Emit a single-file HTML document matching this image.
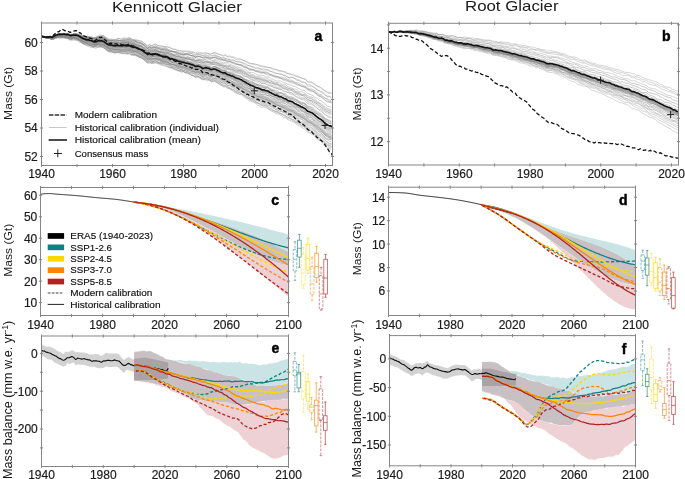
<!DOCTYPE html>
<html><head><meta charset="utf-8"><style>
html,body{margin:0;padding:0;background:#fff;}
svg{display:block;font-family:"Liberation Sans",sans-serif;will-change:transform;}
</style></head><body>
<svg width="685" height="479" viewBox="0 0 685 479">
<rect width="685" height="479" fill="#fff"/>
<g>
<polyline points="41.5,36.52 43.5,36.81 45.5,37.13 47.5,37 49.5,36.54 51.5,36.72 53.5,36.23 55.5,34.84 57.5,34.14 59.5,33.62 61.5,33.45 63.5,33.81 65.5,34.29 67.5,33.77 69.5,34.54 71.5,34.05 73.5,34.27 75.5,33.74 77.5,34.16 79.5,34.87 81.5,35.59 83.5,36.49 85.5,36.66 87.5,36.73 89.5,37.07 91.5,37.25 93.5,38.09 95.5,37.48 97.5,36.39 99.5,36.14 101.5,36.08 103.5,35.55 105.5,37.14 107.5,38.59 109.5,39.99 111.5,39.04 113.5,39.6 115.5,39.67 117.5,38.82 119.5,38.51 121.5,39.42 123.5,38.26 125.5,38.9 127.5,38.54 129.5,37.62 131.5,39.19 133.5,39.85 135.5,40.63 137.5,40.57 139.5,41.11 141.5,41.1 143.5,42.93 145.5,44.22 147.5,45.44 149.5,45.09 151.5,45.68 153.5,45.05 155.5,44.43 157.5,45.43 159.5,45.21 161.5,45.7 163.5,46.37 165.5,46.78 167.5,47.11 169.5,47.53 171.5,48.81 173.5,48.95 175.5,49.21 177.5,50.16 179.5,50.42 181.5,51.18 183.5,50.88 185.5,50.72 187.5,51.04 189.5,51.21 191.5,51.59 193.5,52.06 195.5,53.06 197.5,52 199.5,52.35 201.5,52.99 203.5,52.77 205.5,52.39 207.5,53.11 209.5,53.98 211.5,53.46 213.5,52.73 215.5,52.29 217.5,53.67 219.5,54.25 221.5,54.67 223.5,55.7 225.5,54.32 227.5,56.52 229.5,55.81 231.5,56.83 233.5,56.92 235.5,57.78 237.5,58.35 239.5,58.95 241.5,59.42 243.5,60.27 245.5,61.1 247.5,61.84 249.5,62.98 251.5,63.44 253.5,63.56 255.5,64.01 257.5,64.85 259.5,65.18 261.5,65.95 263.5,66.17 265.5,66.45 267.5,67.35 269.5,67.74 271.5,67.84 273.5,68.4 275.5,69.28 277.5,69.66 279.5,70.53 281.5,70.72 283.5,71.54 285.5,71.93 287.5,73.31 289.5,73.29 291.5,74.48 293.5,74.15 295.5,76.1 297.5,75.85 299.5,77.36 301.5,78 303.5,78.49 305.5,79.39 307.5,81.51 309.5,81.75 311.5,82.08 313.5,83.06 315.5,85.13 317.5,86.03 319.5,87.27 321.5,87.93 323.5,89.71 325.5,91.08 327.5,92.1 329.5,92.35 331.5,92.43" fill="none" stroke="#7c7c7c" stroke-width="0.7" stroke-opacity="0.5" stroke-linejoin="round"/>
<polyline points="41.5,36.52 43.5,36.73 45.5,36.89 47.5,36.64 49.5,36.33 51.5,36.8 53.5,36 55.5,34.79 57.5,33.62 59.5,33.87 61.5,34.12 63.5,33.33 65.5,33.73 67.5,34.31 69.5,34.17 71.5,34.59 73.5,34.09 75.5,33.74 77.5,34.49 79.5,33.96 81.5,35.82 83.5,35.88 85.5,36.7 87.5,36.05 89.5,36.88 91.5,36.82 93.5,37.97 95.5,37.29 97.5,36.71 99.5,34.93 101.5,35.29 103.5,35.67 105.5,37.23 107.5,38.33 109.5,39.32 111.5,39.08 113.5,39.31 115.5,39.52 117.5,38.3 119.5,39.01 121.5,38.93 123.5,38 125.5,38.15 127.5,38.29 129.5,37.86 131.5,38.79 133.5,39.68 135.5,39.37 137.5,40.03 139.5,40.64 141.5,41.4 143.5,42.78 145.5,44.25 147.5,46.27 149.5,44.59 151.5,45.52 153.5,44.97 155.5,43.81 157.5,44.99 159.5,46.14 161.5,46.63 163.5,46.32 165.5,47.04 167.5,46.76 169.5,47.45 171.5,48.43 173.5,49.33 175.5,49.5 177.5,50.79 179.5,50.83 181.5,50.77 183.5,51.54 185.5,51.51 187.5,51.81 189.5,51.99 191.5,52.82 193.5,52.16 195.5,53.82 197.5,53.32 199.5,53.31 201.5,53.34 203.5,54.08 205.5,53.58 207.5,53.48 209.5,54.29 211.5,54.09 213.5,53.16 215.5,53.13 217.5,54.11 219.5,54.55 221.5,55.51 223.5,56.14 225.5,55.52 227.5,56.85 229.5,56.71 231.5,57.55 233.5,57.55 235.5,59.3 237.5,59.85 239.5,59.68 241.5,59.53 243.5,60.53 245.5,61.37 247.5,62.89 249.5,63.72 251.5,63.98 253.5,64.2 255.5,64.9 257.5,64.75 259.5,66.13 261.5,66.56 263.5,66.96 265.5,67.26 267.5,67.28 269.5,67.57 271.5,68.76 273.5,69.89 275.5,69.66 277.5,70.37 279.5,71.57 281.5,71.15 283.5,71.81 285.5,72.6 287.5,73.68 289.5,74.28 291.5,74.45 293.5,75.75 295.5,75.8 297.5,77 299.5,76.87 301.5,77.89 303.5,78.91 305.5,79.37 307.5,81.92 309.5,82.74 311.5,82.52 313.5,83.72 315.5,85.1 317.5,86.4 319.5,86.79 321.5,88.78 323.5,89.79 325.5,91.46 327.5,92.86 329.5,93.45 331.5,93.39" fill="none" stroke="#7c7c7c" stroke-width="0.7" stroke-opacity="0.5" stroke-linejoin="round"/>
<polyline points="41.5,36.5 43.5,36.73 45.5,37.04 47.5,36.9 49.5,36.55 51.5,36.99 53.5,36.36 55.5,34.52 57.5,34.59 59.5,33.76 61.5,33.48 63.5,33.34 65.5,33.42 67.5,33.07 69.5,33.77 71.5,35.12 73.5,34.16 75.5,33.83 77.5,33.84 79.5,34.82 81.5,35.81 83.5,36.29 85.5,36.92 87.5,37.2 89.5,36.89 91.5,37.26 93.5,37.82 95.5,37.92 97.5,37.62 99.5,36.6 101.5,35.96 103.5,37.06 105.5,38.18 107.5,39.32 109.5,40.21 111.5,40.43 113.5,40.51 115.5,40.86 117.5,39.8 119.5,40.41 121.5,40.07 123.5,39.79 125.5,40.05 127.5,39.85 129.5,38.24 131.5,40.02 133.5,40.28 135.5,40.42 137.5,41.28 139.5,42.61 141.5,43.16 143.5,45.03 145.5,44.98 147.5,47.15 149.5,46.51 151.5,47.03 153.5,46.75 155.5,46.01 157.5,46.95 159.5,47.24 161.5,47.95 163.5,47.69 165.5,47.72 167.5,49.1 169.5,50.11 171.5,51.21 173.5,51.4 175.5,51.45 177.5,51.9 179.5,52.27 181.5,52.76 183.5,52.51 185.5,53.84 187.5,52.98 189.5,53.1 191.5,53.43 193.5,54.08 195.5,54.92 197.5,53.99 199.5,54.54 201.5,54.81 203.5,55.61 205.5,54.59 207.5,55.28 209.5,55.13 211.5,55.52 213.5,55.21 215.5,54.85 217.5,56.28 219.5,56.25 221.5,58.55 223.5,57.97 225.5,58.18 227.5,59.08 229.5,59.12 231.5,60.03 233.5,59.91 235.5,61.06 237.5,61.65 239.5,61.99 241.5,62.33 243.5,63.13 245.5,63.42 247.5,65.07 249.5,65.98 251.5,66.74 253.5,66.92 255.5,68.24 257.5,67.93 259.5,68.64 261.5,69.54 263.5,68.82 265.5,69.51 267.5,69.72 269.5,70.6 271.5,71.75 273.5,72.06 275.5,73.34 277.5,73.35 279.5,73.77 281.5,74.22 283.5,74.88 285.5,75.08 287.5,77.12 289.5,77.81 291.5,77.02 293.5,78 295.5,78.56 297.5,79.74 299.5,80 301.5,81.53 303.5,82.14 305.5,82.83 307.5,84.86 309.5,84.55 311.5,85.69 313.5,86.98 315.5,88.17 317.5,89.7 319.5,91.01 321.5,91.5 323.5,92.63 325.5,95.48 327.5,96.11 329.5,96.23 331.5,97.05" fill="none" stroke="#7c7c7c" stroke-width="0.7" stroke-opacity="0.5" stroke-linejoin="round"/>
<polyline points="41.5,36.51 43.5,36.77 45.5,36.89 47.5,36.81 49.5,36.65 51.5,36.96 53.5,36.3 55.5,34.99 57.5,34.49 59.5,33.97 61.5,34.04 63.5,33.63 65.5,34.32 67.5,33.69 69.5,34.61 71.5,34.99 73.5,34.38 75.5,33.92 77.5,35.14 79.5,35.51 81.5,36.83 83.5,37.22 85.5,37 87.5,37.64 89.5,37.47 91.5,37.17 93.5,38.33 95.5,37.93 97.5,37.74 99.5,36.92 101.5,37.12 103.5,37.31 105.5,38.23 107.5,39.75 109.5,40.58 111.5,40.16 113.5,40.29 115.5,40.69 117.5,39.93 119.5,40.56 121.5,40.71 123.5,39.47 125.5,39.74 127.5,39.32 129.5,39.02 131.5,40.15 133.5,40.4 135.5,41.3 137.5,42.24 139.5,42.37 141.5,42.73 143.5,44.2 145.5,45.77 147.5,48.13 149.5,46.77 151.5,47.23 153.5,46.61 155.5,46.09 157.5,46.98 159.5,47.86 161.5,48.6 163.5,48.53 165.5,48.48 167.5,48.92 169.5,49.92 171.5,50.5 173.5,51.48 175.5,51.37 177.5,52.76 179.5,53.54 181.5,53.9 183.5,53.42 185.5,53.76 187.5,53.5 189.5,53.17 191.5,53.29 193.5,54.96 195.5,55.68 197.5,54.53 199.5,54.85 201.5,55.4 203.5,55.91 205.5,55.63 207.5,56.08 209.5,56.78 211.5,57.17 213.5,55.61 215.5,55.63 217.5,56.46 219.5,57.2 221.5,57.72 223.5,57.78 225.5,58.39 227.5,59.72 229.5,59.44 231.5,60.57 233.5,60.2 235.5,61.29 237.5,61.9 239.5,61.69 241.5,62.54 243.5,63.78 245.5,64.94 247.5,65.53 249.5,65.45 251.5,66.32 253.5,67.53 255.5,68.15 257.5,67.93 259.5,68.74 261.5,69.09 263.5,70.2 265.5,69.75 267.5,70.06 269.5,71.07 271.5,71.49 273.5,72.71 275.5,73.07 277.5,73.56 279.5,74.23 281.5,73.98 283.5,75.48 285.5,75.66 287.5,77.05 289.5,77.38 291.5,77.49 293.5,77.7 295.5,79.51 297.5,80.58 299.5,80.79 301.5,82.36 303.5,82.42 305.5,83.16 307.5,85.86 309.5,86.18 311.5,86.14 313.5,87.11 315.5,88.66 317.5,90.16 319.5,91.07 321.5,92.6 323.5,93.66 325.5,95.03 327.5,96.84 329.5,96.93 331.5,97.97" fill="none" stroke="#7c7c7c" stroke-width="0.7" stroke-opacity="0.5" stroke-linejoin="round"/>
<polyline points="41.5,36.48 43.5,36.74 45.5,36.96 47.5,36.9 49.5,36.66 51.5,37.04 53.5,36.27 55.5,34.98 57.5,34.25 59.5,33.77 61.5,33.65 63.5,33.23 65.5,33.87 67.5,33.84 69.5,34.3 71.5,34.85 73.5,34.2 75.5,34.34 77.5,34.3 79.5,35.17 81.5,36.42 83.5,36.09 85.5,37.03 87.5,37.03 89.5,37.58 91.5,37.57 93.5,38.6 95.5,38.22 97.5,36.83 99.5,36.7 101.5,36.63 103.5,36.94 105.5,38.49 107.5,39.95 109.5,40.45 111.5,40.9 113.5,40.52 115.5,40.2 117.5,40.38 119.5,40.66 121.5,40.49 123.5,40.29 125.5,39.99 127.5,39.82 129.5,39.22 131.5,40.38 133.5,41.45 135.5,40.7 137.5,42.48 139.5,42.63 141.5,43.23 143.5,45.23 145.5,46.54 147.5,48.72 149.5,46.75 151.5,47.67 153.5,47.38 155.5,47.43 157.5,47.84 159.5,48.6 161.5,49.35 163.5,48.89 165.5,49.17 167.5,50.23 169.5,51.24 171.5,51.14 173.5,51.58 175.5,52.45 177.5,52.34 179.5,53.65 181.5,54.01 183.5,54.52 185.5,53.58 187.5,54.56 189.5,54.55 191.5,55.54 193.5,55.96 195.5,57.12 197.5,55.91 199.5,56.48 201.5,57.25 203.5,57.12 205.5,56.91 207.5,57.42 209.5,57.36 211.5,58.12 213.5,57.57 215.5,56.38 217.5,57.82 219.5,58.63 221.5,59.4 223.5,59.81 225.5,59.62 227.5,60.77 229.5,60.61 231.5,61.78 233.5,62.18 235.5,63.14 237.5,63.89 239.5,64.43 241.5,64.47 243.5,65.91 245.5,66.4 247.5,67.49 249.5,68.46 251.5,69.17 253.5,69.65 255.5,70.31 257.5,70.57 259.5,70.56 261.5,71.37 263.5,72.11 265.5,71.7 267.5,72.33 269.5,73.51 271.5,74.69 273.5,75.31 275.5,75.79 277.5,76.67 279.5,76.91 281.5,76.97 283.5,77.94 285.5,77.75 287.5,79.34 289.5,79.95 291.5,80.15 293.5,81.02 295.5,82.24 297.5,82.79 299.5,83.21 301.5,84.48 303.5,85.37 305.5,86.45 307.5,88.02 309.5,89.01 311.5,88.87 313.5,89.98 315.5,91.01 317.5,93.01 319.5,94.32 321.5,94.83 323.5,96.52 325.5,98.33 327.5,98.88 329.5,100.11 331.5,100.76" fill="none" stroke="#7c7c7c" stroke-width="0.7" stroke-opacity="0.5" stroke-linejoin="round"/>
<polyline points="41.5,36.52 43.5,36.87 45.5,37.12 47.5,36.94 49.5,36.41 51.5,36.85 53.5,36.32 55.5,34.89 57.5,34.33 59.5,33.84 61.5,33.89 63.5,33.5 65.5,33.51 67.5,33.82 69.5,34.78 71.5,34.26 73.5,34.26 75.5,34.39 77.5,35.48 79.5,35.92 81.5,36.21 83.5,36.92 85.5,37.8 87.5,36.93 89.5,38.11 91.5,38.61 93.5,38.81 95.5,38.8 97.5,37.28 99.5,37.2 101.5,37.65 103.5,38.11 105.5,38.56 107.5,40.44 109.5,40.43 111.5,40.46 113.5,41.41 115.5,41.37 117.5,40.58 119.5,41.14 121.5,41.07 123.5,40.08 125.5,40.78 127.5,41.05 129.5,39.84 131.5,41.43 133.5,41.17 135.5,41.52 137.5,42.65 139.5,43.64 141.5,43.76 143.5,44.6 145.5,46.5 147.5,48.36 149.5,47.85 151.5,48.19 153.5,48.24 155.5,47.79 157.5,47.75 159.5,49.32 161.5,49.62 163.5,49.86 165.5,49.77 167.5,49.69 169.5,51.39 171.5,51.71 173.5,52.09 175.5,52.84 177.5,53.86 179.5,54.21 181.5,54.5 183.5,54.71 185.5,54.42 187.5,54.03 189.5,55.15 191.5,55.52 193.5,56.26 195.5,57.21 197.5,56.33 199.5,56.63 201.5,57.4 203.5,57.98 205.5,56.8 207.5,57.95 209.5,57.73 211.5,58.32 213.5,57.36 215.5,57.59 217.5,58.68 219.5,58.75 221.5,59.29 223.5,60.22 225.5,60.63 227.5,62.52 229.5,61.29 231.5,62.5 233.5,62.56 235.5,63.73 237.5,64.45 239.5,65.16 241.5,65.46 243.5,66.84 245.5,67.53 247.5,68.41 249.5,69.03 251.5,69.75 253.5,70.23 255.5,71.17 257.5,71.44 259.5,72.03 261.5,72.5 263.5,72.54 265.5,73.01 267.5,72.94 269.5,74.39 271.5,74.82 273.5,75.93 275.5,76.9 277.5,76.52 279.5,77.58 281.5,78.19 283.5,79.2 285.5,79.08 287.5,80.21 289.5,80.82 291.5,81.66 293.5,82.24 295.5,83.47 297.5,84.31 299.5,84.95 301.5,86.29 303.5,86.46 305.5,87.36 307.5,89.35 309.5,89.79 311.5,90.87 313.5,91.19 315.5,93.06 317.5,93.83 319.5,95.6 321.5,96.07 323.5,97.71 325.5,98.69 327.5,99.81 329.5,101.42 331.5,102.27" fill="none" stroke="#7c7c7c" stroke-width="0.7" stroke-opacity="0.5" stroke-linejoin="round"/>
<polyline points="41.5,36.53 43.5,36.78 45.5,36.97 47.5,36.91 49.5,36.58 51.5,36.92 53.5,36.31 55.5,34.83 57.5,34.36 59.5,33.53 61.5,33.92 63.5,33.45 65.5,33.37 67.5,34.07 69.5,34.64 71.5,34.59 73.5,33.95 75.5,33.56 77.5,34.48 79.5,35.21 81.5,36.15 83.5,36.82 85.5,37.69 87.5,37.36 89.5,37.46 91.5,38.1 93.5,38.47 95.5,38.57 97.5,37.44 99.5,37.37 101.5,37.21 103.5,38.26 105.5,38.22 107.5,39.75 109.5,40.42 111.5,40.56 113.5,40.96 115.5,41.32 117.5,41.03 119.5,40.58 121.5,41.15 123.5,40.7 125.5,40.89 127.5,40.27 129.5,40.02 131.5,41.34 133.5,42.78 135.5,41.66 137.5,42.12 139.5,43.13 141.5,43.11 143.5,44.93 145.5,47.37 147.5,47.99 149.5,47.61 151.5,48.35 153.5,47.72 155.5,47.32 157.5,48.38 159.5,49.16 161.5,49.43 163.5,49.42 165.5,49.91 167.5,50.23 169.5,51.04 171.5,51.28 173.5,51.74 175.5,52.64 177.5,53.1 179.5,53.67 181.5,54.36 183.5,54.03 185.5,54.66 187.5,54.04 189.5,54.66 191.5,55.57 193.5,55.64 195.5,56.95 197.5,56.29 199.5,56.3 201.5,56.92 203.5,57.82 205.5,56.85 207.5,57.71 209.5,58.57 211.5,57.99 213.5,57.35 215.5,57.1 217.5,57.68 219.5,58.83 221.5,59.19 223.5,59.6 225.5,59.81 227.5,61.36 229.5,61.26 231.5,62.03 233.5,62.86 235.5,63.66 237.5,64.67 239.5,65.05 241.5,64.93 243.5,66.47 245.5,66.86 247.5,67.94 249.5,69.71 251.5,69.42 253.5,69.21 255.5,71.03 257.5,71.03 259.5,71.58 261.5,72.57 263.5,72.2 265.5,72.81 267.5,73.51 269.5,74.78 271.5,75.43 273.5,75.89 275.5,76.5 277.5,76.63 279.5,77.6 281.5,78.37 283.5,79.01 285.5,79.32 287.5,80.7 289.5,81.43 291.5,81.36 293.5,81.86 295.5,83.11 297.5,84.09 299.5,85.18 301.5,85.9 303.5,86.52 305.5,86.85 307.5,88.63 309.5,89.51 311.5,90.14 313.5,91.9 315.5,92.53 317.5,94.64 319.5,96.07 321.5,96.36 323.5,98.21 325.5,100.51 327.5,101.02 329.5,101.74 331.5,102.07" fill="none" stroke="#7c7c7c" stroke-width="0.7" stroke-opacity="0.5" stroke-linejoin="round"/>
<polyline points="41.5,36.5 43.5,36.8 45.5,37.1 47.5,36.98 49.5,36.65 51.5,37.19 53.5,36.35 55.5,34.93 57.5,34.18 59.5,34 61.5,34.01 63.5,34.06 65.5,34.62 67.5,33.63 69.5,34.24 71.5,34.94 73.5,34.42 75.5,34.59 77.5,34.32 79.5,35.14 81.5,36.4 83.5,37.34 85.5,37.08 87.5,37.47 89.5,37.62 91.5,38.29 93.5,38.41 95.5,38.54 97.5,37.97 99.5,37.55 101.5,37.24 103.5,37.39 105.5,38.46 107.5,40.64 109.5,41.09 111.5,40.83 113.5,41.5 115.5,41.61 117.5,41.18 119.5,40.89 121.5,41.42 123.5,41.26 125.5,41.42 127.5,41.26 129.5,40.31 131.5,42.17 133.5,42.2 135.5,41.74 137.5,43.46 139.5,44.05 141.5,44.34 143.5,45 145.5,46.66 147.5,48.36 149.5,47.99 151.5,48.24 153.5,47.97 155.5,47.38 157.5,48.55 159.5,48.6 161.5,49.41 163.5,49.34 165.5,49.96 167.5,51.04 169.5,51.73 171.5,51.85 173.5,51.9 175.5,52.04 177.5,54.38 179.5,53.91 181.5,54.32 183.5,54.55 185.5,54.51 187.5,55.05 189.5,55.49 191.5,55.73 193.5,56.69 195.5,57.19 197.5,56.35 199.5,56.74 201.5,57.5 203.5,58.92 205.5,57.66 207.5,57.96 209.5,58.92 211.5,58.71 213.5,57.94 215.5,57.89 217.5,58.91 219.5,59.82 221.5,60.54 223.5,60.67 225.5,60.4 227.5,61.57 229.5,61.79 231.5,62.94 233.5,63.6 235.5,64.84 237.5,64.5 239.5,64.46 241.5,65.7 243.5,67.1 245.5,67.8 247.5,68.19 249.5,70.36 251.5,70.21 253.5,70.12 255.5,71.47 257.5,71.99 259.5,72.65 261.5,73.39 263.5,72.98 265.5,74.03 267.5,74.86 269.5,75.1 271.5,75.26 273.5,76.49 275.5,77.67 277.5,77.89 279.5,78.39 281.5,78.82 283.5,80.29 285.5,80.86 287.5,81.1 289.5,82.5 291.5,83.04 293.5,83.31 295.5,84.15 297.5,85.31 299.5,85.35 301.5,86.34 303.5,87.11 305.5,87.68 307.5,89.9 309.5,90.68 311.5,91.3 313.5,91.49 315.5,93.05 317.5,95.75 319.5,96.27 321.5,97.55 323.5,99.1 325.5,100.79 327.5,102.27 329.5,102.5 331.5,102.9" fill="none" stroke="#7c7c7c" stroke-width="0.7" stroke-opacity="0.5" stroke-linejoin="round"/>
<polyline points="41.5,36.5 43.5,36.79 45.5,37.02 47.5,37.03 49.5,36.62 51.5,36.98 53.5,36.49 55.5,35.04 57.5,34.44 59.5,33.87 61.5,33.93 63.5,33.56 65.5,33.91 67.5,33.96 69.5,34.59 71.5,35.19 73.5,35.2 75.5,33.84 77.5,34.57 79.5,35.67 81.5,36.63 83.5,37.27 85.5,38.25 87.5,37.92 89.5,38.64 91.5,38.61 93.5,39.35 95.5,39.12 97.5,38.29 99.5,38.27 101.5,37.92 103.5,38.69 105.5,39.61 107.5,40.37 109.5,41.44 111.5,41.92 113.5,42.54 115.5,42.57 117.5,41.9 119.5,41.92 121.5,42.33 123.5,41.76 125.5,42.34 127.5,41.54 129.5,41.34 131.5,41.95 133.5,42.71 135.5,42.46 137.5,44.28 139.5,44.84 141.5,46.1 143.5,47.31 145.5,48.19 147.5,49.36 149.5,49.08 151.5,49.81 153.5,49.36 155.5,49.34 157.5,49.59 159.5,51.03 161.5,50.99 163.5,50.92 165.5,50.58 167.5,51.67 169.5,52.18 171.5,53.59 173.5,53.91 175.5,54.09 177.5,55.3 179.5,55.74 181.5,55.89 183.5,55.73 185.5,55.95 187.5,56.56 189.5,57.31 191.5,57.16 193.5,57.84 195.5,58.29 197.5,57.69 199.5,58.8 201.5,59.58 203.5,59.79 205.5,59.04 207.5,58.96 209.5,59.37 211.5,60.64 213.5,59.98 215.5,59.47 217.5,60.23 219.5,61.56 221.5,62.22 223.5,62.89 225.5,62.23 227.5,63.75 229.5,64.09 231.5,65.02 233.5,65.52 235.5,67.06 237.5,67.08 239.5,67.71 241.5,68.19 243.5,69.49 245.5,69.79 247.5,71.1 249.5,72.41 251.5,72.7 253.5,72.67 255.5,73.73 257.5,74.96 259.5,75.17 261.5,75.56 263.5,75.55 265.5,76.78 267.5,77 269.5,77.24 271.5,78.99 273.5,79.4 275.5,80.76 277.5,81.05 279.5,81.01 281.5,81.17 283.5,82.84 285.5,82.94 287.5,84.13 289.5,84.53 291.5,85.63 293.5,86.22 295.5,86.76 297.5,87.91 299.5,88.79 301.5,90.17 303.5,90.28 305.5,91.27 307.5,93.5 309.5,94.17 311.5,94.85 313.5,96.04 315.5,97.6 317.5,98.57 319.5,100.57 321.5,100.88 323.5,102.95 325.5,104.39 327.5,106.29 329.5,106.7 331.5,107.17" fill="none" stroke="#7c7c7c" stroke-width="0.7" stroke-opacity="0.5" stroke-linejoin="round"/>
<polyline points="41.5,36.49 43.5,36.8 45.5,37.07 47.5,36.93 49.5,36.75 51.5,37.24 53.5,36.47 55.5,35.16 57.5,34.61 59.5,34.14 61.5,34.01 63.5,34.2 65.5,34.26 67.5,34.84 69.5,34.6 71.5,35.17 73.5,34.18 75.5,34.5 77.5,35.55 79.5,35.54 81.5,36.73 83.5,37.58 85.5,37.78 87.5,37.73 89.5,37.91 91.5,38.54 93.5,39.27 95.5,39.45 97.5,38.54 99.5,38.34 101.5,38.68 103.5,39.05 105.5,39.63 107.5,41.1 109.5,42.33 111.5,43.02 113.5,43.03 115.5,42.86 117.5,41.94 119.5,42.79 121.5,42.47 123.5,41.22 125.5,41.85 127.5,41.81 129.5,41.48 131.5,42.9 133.5,43.57 135.5,43.51 137.5,44.41 139.5,45.44 141.5,45.61 143.5,46.73 145.5,48.47 147.5,49.84 149.5,49.37 151.5,49.52 153.5,49.66 155.5,48.68 157.5,49.66 159.5,51.12 161.5,50.74 163.5,51.06 165.5,51.39 167.5,52.5 169.5,53.21 171.5,53.38 173.5,54.81 175.5,54.59 177.5,54.95 179.5,55.98 181.5,56.59 183.5,56.16 185.5,57.77 187.5,57.18 189.5,57.4 191.5,58.33 193.5,58.6 195.5,60.13 197.5,59.19 199.5,59.54 201.5,59.89 203.5,60.38 205.5,59.39 207.5,60.69 209.5,61.34 211.5,61.58 213.5,60.78 215.5,60.65 217.5,61.97 219.5,63.08 221.5,63.51 223.5,63.87 225.5,63.68 227.5,65.61 229.5,65.36 231.5,65.94 233.5,66.8 235.5,67.44 237.5,68.35 239.5,69.08 241.5,69.43 243.5,70.84 245.5,71.71 247.5,72.64 249.5,72.95 251.5,74.69 253.5,74.69 255.5,76.18 257.5,76.42 259.5,76.68 261.5,77.29 263.5,78.05 265.5,77.86 267.5,78.54 269.5,79.68 271.5,80.81 273.5,81.36 275.5,82.45 277.5,82.45 279.5,82.93 281.5,83.72 283.5,84.67 285.5,84.45 287.5,86.61 289.5,87.03 291.5,88 293.5,89.09 295.5,89.1 297.5,90.1 299.5,91.71 301.5,91.72 303.5,92.68 305.5,93.48 307.5,95.6 309.5,96.69 311.5,96.94 313.5,97.89 315.5,99.36 317.5,101.31 319.5,103 321.5,103.73 323.5,105.38 325.5,107.05 327.5,108.35 329.5,109.2 331.5,109.62" fill="none" stroke="#7c7c7c" stroke-width="0.7" stroke-opacity="0.5" stroke-linejoin="round"/>
<polyline points="41.5,36.5 43.5,36.79 45.5,37.1 47.5,36.98 49.5,36.57 51.5,37 53.5,36.54 55.5,35.34 57.5,34.12 59.5,34.07 61.5,34.32 63.5,33.78 65.5,33.86 67.5,34.3 69.5,35.26 71.5,34.69 73.5,34.3 75.5,33.98 77.5,34.64 79.5,35.63 81.5,36.94 83.5,37.95 85.5,38.53 87.5,38.66 89.5,38.75 91.5,38.75 93.5,40.23 95.5,39.05 97.5,38.55 99.5,38.31 101.5,38.25 103.5,38.74 105.5,40.38 107.5,41.79 109.5,42.57 111.5,41.89 113.5,42.09 115.5,43.33 117.5,42.34 119.5,42.91 121.5,42.53 123.5,42.45 125.5,42.79 127.5,42.85 129.5,41.68 131.5,43.11 133.5,43.48 135.5,43.97 137.5,45.57 139.5,45.81 141.5,45.97 143.5,47.67 145.5,48.62 147.5,50.65 149.5,49.63 151.5,50.67 153.5,50.03 155.5,49.01 157.5,50.73 159.5,51.62 161.5,50.98 163.5,51.5 165.5,52.37 167.5,52.3 169.5,52.8 171.5,54.07 173.5,54.87 175.5,55.63 177.5,56.39 179.5,56.52 181.5,57.55 183.5,57.3 185.5,58 187.5,58.32 189.5,58.55 191.5,59.76 193.5,59.45 195.5,60.89 197.5,60.18 199.5,59.68 201.5,60.66 203.5,61.36 205.5,61.02 207.5,61.47 209.5,61.68 211.5,62.8 213.5,62.17 215.5,61.83 217.5,63.22 219.5,63.69 221.5,64.6 223.5,65.1 225.5,65.44 227.5,67.01 229.5,66.16 231.5,67.37 233.5,67.79 235.5,68.76 237.5,70.11 239.5,70.26 241.5,70.44 243.5,71.45 245.5,72.59 247.5,73.99 249.5,74.04 251.5,75.51 253.5,76.01 255.5,76.89 257.5,77.79 259.5,77.57 261.5,78.77 263.5,79.03 265.5,79.71 267.5,80.1 269.5,80.6 271.5,81.4 273.5,83.16 275.5,84.03 277.5,83.7 279.5,84.92 281.5,84.95 283.5,86.66 285.5,87.1 287.5,87.8 289.5,88.47 291.5,89.33 293.5,89.37 295.5,91.34 297.5,91.73 299.5,92.63 301.5,94.14 303.5,94.38 305.5,94.76 307.5,97.65 309.5,97.8 311.5,97.93 313.5,100.03 315.5,100.88 317.5,102.37 319.5,103.25 321.5,105.33 323.5,106.91 325.5,108.8 327.5,109.23 329.5,110.76 331.5,110.96" fill="none" stroke="#7c7c7c" stroke-width="0.7" stroke-opacity="0.5" stroke-linejoin="round"/>
<polyline points="41.5,36.5 43.5,36.84 45.5,37.08 47.5,36.99 49.5,36.64 51.5,36.82 53.5,36.32 55.5,35.14 57.5,34.77 59.5,34.14 61.5,34.27 63.5,33.93 65.5,33.89 67.5,33.99 69.5,35.03 71.5,34.71 73.5,34.5 75.5,34.66 77.5,34.73 79.5,36 81.5,37.18 83.5,37.86 85.5,38.68 87.5,38.42 89.5,39.19 91.5,39.41 93.5,40.6 95.5,40.08 97.5,38.97 99.5,39.23 101.5,38.52 103.5,38.83 105.5,39.91 107.5,41.67 109.5,42.73 111.5,42.37 113.5,43.29 115.5,43.07 117.5,42.54 119.5,43.38 121.5,43.08 123.5,42.66 125.5,42.59 127.5,42.51 129.5,42.54 131.5,43.29 133.5,43.79 135.5,44.01 137.5,44.99 139.5,45.51 141.5,45.85 143.5,48.24 145.5,49.95 147.5,51.43 149.5,50.58 151.5,50.85 153.5,50.44 155.5,50.02 157.5,51.31 159.5,51.63 161.5,51.5 163.5,52.62 165.5,51.82 167.5,52.7 169.5,54.43 171.5,54.34 173.5,54.95 175.5,55.66 177.5,56.55 179.5,56.44 181.5,57.11 183.5,58.15 185.5,57.92 187.5,57.44 189.5,58.76 191.5,58.96 193.5,59.03 195.5,60.92 197.5,60.35 199.5,60.77 201.5,61.53 203.5,62.4 205.5,61.41 207.5,62.07 209.5,62.68 211.5,62.85 213.5,61.46 215.5,62.31 217.5,62.74 219.5,64.49 221.5,64.9 223.5,65.51 225.5,65.65 227.5,66.22 229.5,66.34 231.5,67.55 233.5,68.36 235.5,69.25 237.5,69.25 239.5,70.22 241.5,70.77 243.5,71.95 245.5,73.18 247.5,74.17 249.5,75.47 251.5,76 253.5,75.98 255.5,77.97 257.5,77.99 259.5,78.5 261.5,79.19 263.5,79.66 265.5,80.23 267.5,80.71 269.5,82.27 271.5,81.54 273.5,82.84 275.5,83.37 277.5,83.96 279.5,85.3 281.5,85.48 283.5,85.92 285.5,86.4 287.5,88.2 289.5,88.64 291.5,89.26 293.5,90.15 295.5,91.73 297.5,92.26 299.5,93.34 301.5,94.91 303.5,95.08 305.5,95.14 307.5,97.02 309.5,98.48 311.5,98.82 313.5,100.18 315.5,101.82 317.5,103.02 319.5,104.25 321.5,105.52 323.5,106.83 325.5,109.57 327.5,110.27 329.5,110.91 331.5,111.52" fill="none" stroke="#7c7c7c" stroke-width="0.7" stroke-opacity="0.5" stroke-linejoin="round"/>
<polyline points="41.5,36.5 43.5,36.8 45.5,37.1 47.5,36.94 49.5,36.59 51.5,37.22 53.5,36.73 55.5,35.04 57.5,34.42 59.5,33.96 61.5,34.33 63.5,33.75 65.5,33.91 67.5,34 69.5,35.16 71.5,35.01 73.5,33.95 75.5,34.91 77.5,35.08 79.5,35.71 81.5,35.94 83.5,37.99 85.5,38.57 87.5,38.75 89.5,38.93 91.5,39.38 93.5,40.04 95.5,39.46 97.5,39.77 99.5,39.12 101.5,38.91 103.5,39.19 105.5,40.71 107.5,41.95 109.5,42.96 111.5,42.22 113.5,42.94 115.5,43.24 117.5,43.11 119.5,42.98 121.5,43.43 123.5,43.16 125.5,42.74 127.5,42.32 129.5,42.14 131.5,43.48 133.5,44.15 135.5,44.08 137.5,45.66 139.5,45.64 141.5,46.45 143.5,48.2 145.5,49.55 147.5,50.99 149.5,50.85 151.5,51.27 153.5,51.12 155.5,50.2 157.5,51.03 159.5,52.12 161.5,52.47 163.5,52.66 165.5,53.48 167.5,53.24 169.5,54.64 171.5,55.11 173.5,56.06 175.5,56.3 177.5,57.05 179.5,57.38 181.5,57.56 183.5,58.25 185.5,58.17 187.5,59.16 189.5,59.27 191.5,59.84 193.5,60.43 195.5,61 197.5,60.62 199.5,61.03 201.5,61.79 203.5,62.36 205.5,61.64 207.5,62.36 209.5,62.33 211.5,63.14 213.5,62.66 215.5,63.06 217.5,65.16 219.5,65.34 221.5,65.82 223.5,66.06 225.5,66.7 227.5,68.11 229.5,68.4 231.5,69.15 233.5,69.46 235.5,71.09 237.5,70.66 239.5,70.27 241.5,71.42 243.5,73.36 245.5,74.28 247.5,75.08 249.5,75.93 251.5,77.26 253.5,77.62 255.5,78.66 257.5,78.66 259.5,79.41 261.5,80.23 263.5,80.44 265.5,81.84 267.5,81.43 269.5,82.42 271.5,83.1 273.5,84.25 275.5,85.07 277.5,84.74 279.5,85.84 281.5,86.79 283.5,88.19 285.5,88.61 287.5,89.69 289.5,90.02 291.5,90.2 293.5,91.67 295.5,92.36 297.5,93.61 299.5,94.03 301.5,94.97 303.5,96.24 305.5,97.3 307.5,99.44 309.5,100.22 311.5,100.75 313.5,102.18 315.5,102.79 317.5,104.08 319.5,106.08 321.5,107.1 323.5,109.26 325.5,110.11 327.5,111.61 329.5,112.73 331.5,112.97" fill="none" stroke="#7c7c7c" stroke-width="0.7" stroke-opacity="0.5" stroke-linejoin="round"/>
<polyline points="41.5,36.5 43.5,36.82 45.5,37.07 47.5,36.97 49.5,36.64 51.5,37.18 53.5,36.61 55.5,35.11 57.5,34.59 59.5,33.97 61.5,34.22 63.5,33.71 65.5,33.96 67.5,34.53 69.5,34.66 71.5,35.11 73.5,34.73 75.5,34.47 77.5,35.16 79.5,36.34 81.5,37.09 83.5,38.2 85.5,38 87.5,38.45 89.5,38.67 91.5,39.02 93.5,40.17 95.5,39.73 97.5,39.71 99.5,39.18 101.5,39.06 103.5,39.4 105.5,40.38 107.5,41.18 109.5,41.96 111.5,42.69 113.5,42.97 115.5,42.96 117.5,42.31 119.5,43.48 121.5,43.22 123.5,42.26 125.5,43 127.5,42.38 129.5,42.58 131.5,43.98 133.5,44.26 135.5,44.62 137.5,45.85 139.5,45.58 141.5,46.34 143.5,47.88 145.5,49.67 147.5,50.71 149.5,50.11 151.5,51.06 153.5,51.01 155.5,50.03 157.5,50.97 159.5,52.08 161.5,52.38 163.5,52.37 165.5,52.96 167.5,52.88 169.5,53.97 171.5,54.51 173.5,55.21 175.5,55.86 177.5,56.63 179.5,57.22 181.5,58.02 183.5,57.05 185.5,58.81 187.5,59.11 189.5,58.85 191.5,59.8 193.5,59.9 195.5,60.63 197.5,60.06 199.5,60.74 201.5,61.59 203.5,62.66 205.5,61.49 207.5,61.69 209.5,62.66 211.5,63.24 213.5,63.14 215.5,62.79 217.5,63.88 219.5,64.26 221.5,65.64 223.5,66.4 225.5,66.21 227.5,67.45 229.5,67.1 231.5,68.73 233.5,69.25 235.5,70.44 237.5,71.22 239.5,71.2 241.5,71.83 243.5,73.01 245.5,73.73 247.5,74.65 249.5,76.22 251.5,77.33 253.5,77.47 255.5,78.32 257.5,78.75 259.5,79.12 261.5,80.06 263.5,80.61 265.5,80.56 267.5,81.5 269.5,82.7 271.5,83.48 273.5,83.44 275.5,84.76 277.5,84.99 279.5,86.82 281.5,86.66 283.5,87.96 285.5,88.03 287.5,89.64 289.5,90.17 291.5,90.03 293.5,91.61 295.5,92.82 297.5,93.24 299.5,94.71 301.5,95.57 303.5,95.26 305.5,96.94 307.5,99.3 309.5,100.19 311.5,100.6 313.5,101.24 315.5,102.82 317.5,104.32 319.5,106.17 321.5,107 323.5,109.18 325.5,111.53 327.5,111.71 329.5,112.92 331.5,113.18" fill="none" stroke="#7c7c7c" stroke-width="0.7" stroke-opacity="0.5" stroke-linejoin="round"/>
<polyline points="41.5,36.5 43.5,36.84 45.5,37.07 47.5,37.05 49.5,36.62 51.5,37.25 53.5,36.42 55.5,35.11 57.5,34.66 59.5,34.53 61.5,34.37 63.5,33.88 65.5,34.48 67.5,34.41 69.5,34.94 71.5,34.51 73.5,34.73 75.5,35.44 77.5,35.38 79.5,36.22 81.5,37.59 83.5,37.58 85.5,39.01 87.5,39.03 89.5,39.12 91.5,40.17 93.5,40.9 95.5,39.88 97.5,39.84 99.5,38.98 101.5,39.19 103.5,39.47 105.5,41.02 107.5,42.33 109.5,43.21 111.5,43.12 113.5,43.08 115.5,43.61 117.5,43.39 119.5,43.74 121.5,43.42 123.5,43.22 125.5,42.73 127.5,43.35 129.5,43.86 131.5,44.29 133.5,44.64 135.5,44.88 137.5,45.97 139.5,46.57 141.5,46.36 143.5,48.92 145.5,50.78 147.5,51.96 149.5,50.92 151.5,51.93 153.5,51.49 155.5,50.63 157.5,51.97 159.5,51.85 161.5,52.96 163.5,53.24 165.5,54.16 167.5,53.52 169.5,54.83 171.5,55.03 173.5,55.32 175.5,56.44 177.5,57.44 179.5,58.01 181.5,58 183.5,58.5 185.5,58.72 187.5,58.58 189.5,59.44 191.5,59.99 193.5,61.09 195.5,61.66 197.5,61.3 199.5,62.32 201.5,62.87 203.5,62.95 205.5,62.34 207.5,62.43 209.5,63.42 211.5,63.94 213.5,63.7 215.5,64.01 217.5,64.09 219.5,65.58 221.5,65.94 223.5,67.26 225.5,67.09 227.5,68.56 229.5,68.7 231.5,69.95 233.5,70.15 235.5,71.13 237.5,71.56 239.5,71.82 241.5,72.94 243.5,73.92 245.5,75.27 247.5,76.2 249.5,77.13 251.5,77.9 253.5,78.92 255.5,79.31 257.5,79.89 259.5,80.46 261.5,81.78 263.5,81.93 265.5,82.17 267.5,82.48 269.5,83.61 271.5,85 273.5,85.84 275.5,87.11 277.5,87.27 279.5,88.15 281.5,88.05 283.5,88.95 285.5,89.19 287.5,90.47 289.5,91.96 291.5,92.75 293.5,93.23 295.5,94.36 297.5,94.68 299.5,96.24 301.5,97.62 303.5,97.94 305.5,98.69 307.5,100.91 309.5,100.8 311.5,101.66 313.5,103.38 315.5,104.14 317.5,106.27 319.5,107.61 321.5,108.79 323.5,110.67 325.5,112.54 327.5,113.31 329.5,114.39 331.5,114.24" fill="none" stroke="#7c7c7c" stroke-width="0.7" stroke-opacity="0.5" stroke-linejoin="round"/>
<polyline points="41.5,36.5 43.5,36.82 45.5,37.07 47.5,36.97 49.5,36.74 51.5,37.22 53.5,36.56 55.5,35.1 57.5,34.65 59.5,34.32 61.5,34.33 63.5,34.15 65.5,33.99 67.5,33.95 69.5,35.12 71.5,35.36 73.5,34.95 75.5,35.03 77.5,35.4 79.5,36.01 81.5,37.61 83.5,38.32 85.5,39.05 87.5,38.99 89.5,38.75 91.5,40.15 93.5,40.92 95.5,40.73 97.5,39.7 99.5,39.5 101.5,38.71 103.5,40.07 105.5,41.41 107.5,42.84 109.5,44.09 111.5,43.28 113.5,44.07 115.5,43.9 117.5,43.86 119.5,43.95 121.5,44.08 123.5,44.01 125.5,43.43 127.5,44.15 129.5,43.7 131.5,44.38 133.5,44.77 135.5,45.12 137.5,46.81 139.5,46.98 141.5,47.7 143.5,49.46 145.5,50.3 147.5,52.4 149.5,51.96 151.5,52.56 153.5,51.86 155.5,51.35 157.5,51.7 159.5,52.93 161.5,52.65 163.5,52.87 165.5,53.92 167.5,54.73 169.5,55.58 171.5,55.88 173.5,56.82 175.5,57.6 177.5,59.01 179.5,59.28 181.5,59.19 183.5,59.51 185.5,60.03 187.5,60.73 189.5,61.15 191.5,61.73 193.5,61.87 195.5,62.98 197.5,62.18 199.5,62.46 201.5,63.83 203.5,64.58 205.5,63.79 207.5,64.5 209.5,65.2 211.5,65.13 213.5,64.7 215.5,65.23 217.5,66.75 219.5,67.32 221.5,68.28 223.5,68.42 225.5,69 227.5,69.34 229.5,69.65 231.5,72.08 233.5,71.16 235.5,72.63 237.5,73.36 239.5,73.67 241.5,74.26 243.5,75.98 245.5,76.49 247.5,77.65 249.5,78.74 251.5,79.92 253.5,80.27 255.5,81.63 257.5,82.36 259.5,81.68 261.5,83.56 263.5,83.26 265.5,84.06 267.5,85.13 269.5,85.88 271.5,86.04 273.5,87.58 275.5,88.28 277.5,88.49 279.5,89.33 281.5,89.79 283.5,91.74 285.5,91.76 287.5,92.43 289.5,93.75 291.5,94.66 293.5,95.01 295.5,96.61 297.5,97.91 299.5,98.27 301.5,99.53 303.5,99.66 305.5,101.63 307.5,103.43 309.5,104.11 311.5,104.26 313.5,105.59 315.5,107.28 317.5,108.49 319.5,110.6 321.5,111.43 323.5,113.36 325.5,114.96 327.5,116.83 329.5,117.79 331.5,117.44" fill="none" stroke="#7c7c7c" stroke-width="0.7" stroke-opacity="0.5" stroke-linejoin="round"/>
<polyline points="41.5,36.5 43.5,36.81 45.5,37.07 47.5,37.05 49.5,36.82 51.5,37.17 53.5,36.18 55.5,34.69 57.5,34.69 59.5,33.88 61.5,34 63.5,33.65 65.5,34.37 67.5,34.32 69.5,34.45 71.5,35.24 73.5,34.16 75.5,34.86 77.5,35.15 79.5,35.12 81.5,36.85 83.5,37.94 85.5,38.44 87.5,39.03 89.5,40.07 91.5,40.17 93.5,40.49 95.5,40.77 97.5,39.49 99.5,39.21 101.5,39.6 103.5,39.59 105.5,41.42 107.5,42.25 109.5,43.63 111.5,42.45 113.5,43.58 115.5,43.75 117.5,43.28 119.5,43.56 121.5,43.86 123.5,43.34 125.5,43.33 127.5,44.12 129.5,43.22 131.5,44.73 133.5,45.36 135.5,45.15 137.5,46.08 139.5,46.78 141.5,47.38 143.5,49.06 145.5,50.4 147.5,51.75 149.5,51.4 151.5,51.71 153.5,51.49 155.5,51.62 157.5,51.9 159.5,52.66 161.5,52.93 163.5,53.8 165.5,53.94 167.5,54.14 169.5,56.05 171.5,56.25 173.5,56.15 175.5,57.5 177.5,58.23 179.5,58.82 181.5,59.17 183.5,59.04 185.5,59.38 187.5,59.17 189.5,59.48 191.5,60.3 193.5,61.13 195.5,62.74 197.5,61.93 199.5,62.5 201.5,63.75 203.5,63.75 205.5,63.85 207.5,63.73 209.5,64.53 211.5,64.5 213.5,64.42 215.5,64.56 217.5,65.52 219.5,66.15 221.5,67.52 223.5,67.55 225.5,68.56 227.5,69.15 229.5,69.26 231.5,69.96 233.5,70.94 235.5,72.55 237.5,72.54 239.5,72.86 241.5,73.12 243.5,75.81 245.5,76.51 247.5,76.96 249.5,78.25 251.5,79.44 253.5,80.17 255.5,80.33 257.5,81.06 259.5,81.72 261.5,83.27 263.5,83.19 265.5,83.7 267.5,84.19 269.5,85.27 271.5,86.23 273.5,87.05 275.5,87.73 277.5,88.28 279.5,89.41 281.5,89.53 283.5,90.6 285.5,91.38 287.5,92.09 289.5,92.92 291.5,93.02 293.5,94.37 295.5,95.85 297.5,96.8 299.5,97.81 301.5,98.8 303.5,98.73 305.5,99.65 307.5,101.82 309.5,102.55 311.5,103.36 313.5,104.81 315.5,106.13 317.5,108.1 319.5,109.53 321.5,109.66 323.5,112.87 325.5,114.96 327.5,115.89 329.5,116.61 331.5,116.95" fill="none" stroke="#7c7c7c" stroke-width="0.7" stroke-opacity="0.5" stroke-linejoin="round"/>
<polyline points="41.5,36.5 43.5,36.83 45.5,37.08 47.5,37.06 49.5,36.66 51.5,37.22 53.5,36.4 55.5,35.24 57.5,34.72 59.5,34.22 61.5,34.62 63.5,33.95 65.5,34.64 67.5,34.86 69.5,35.09 71.5,35.17 73.5,34.79 75.5,34.48 77.5,35.66 79.5,36.07 81.5,37.77 83.5,38.89 85.5,39.12 87.5,39.37 89.5,39.86 91.5,40.54 93.5,40.89 95.5,41.12 97.5,40.07 99.5,39.31 101.5,39.93 103.5,40.68 105.5,41.59 107.5,43.19 109.5,44.18 111.5,43.97 113.5,45.06 115.5,45.52 117.5,44.56 119.5,44.68 121.5,44.74 123.5,44.77 125.5,44.21 127.5,44.81 129.5,43.91 131.5,45.63 133.5,46.03 135.5,45.94 137.5,47.46 139.5,48.31 141.5,48.43 143.5,49.94 145.5,51.06 147.5,52.79 149.5,52.67 151.5,52.53 153.5,53.33 155.5,53.42 157.5,53.57 159.5,53.19 161.5,54.14 163.5,54.95 165.5,55.18 167.5,55.63 169.5,57.22 171.5,57.15 173.5,58.01 175.5,58.92 177.5,59.6 179.5,59.76 181.5,60.35 183.5,60.56 185.5,61.12 187.5,61.36 189.5,61.45 191.5,62.26 193.5,62.81 195.5,63.41 197.5,63.91 199.5,64.37 201.5,64.86 203.5,65.52 205.5,64.92 207.5,66.29 209.5,66.54 211.5,67.35 213.5,66.41 215.5,66.52 217.5,67.53 219.5,68.72 221.5,69.47 223.5,70 225.5,70.37 227.5,71.98 229.5,71.66 231.5,72.76 233.5,73.02 235.5,74.58 237.5,75.42 239.5,76.14 241.5,76.95 243.5,77.77 245.5,78.89 247.5,80.02 249.5,80.58 251.5,81.18 253.5,82.14 255.5,83.65 257.5,84.44 259.5,84.01 261.5,85.42 263.5,86.01 265.5,86.32 267.5,86.52 269.5,88.2 271.5,89.21 273.5,90.13 275.5,91.22 277.5,92.13 279.5,92.48 281.5,92.74 283.5,93.71 285.5,93.52 287.5,95.83 289.5,96.43 291.5,97.1 293.5,97.26 295.5,98.79 297.5,100.16 299.5,101.64 301.5,102.27 303.5,102.61 305.5,103.5 307.5,106.16 309.5,106.9 311.5,107.1 313.5,108.21 315.5,110.08 317.5,111.61 319.5,112.74 321.5,114.04 323.5,115.85 325.5,119.07 327.5,119.49 329.5,120.14 331.5,120.47" fill="none" stroke="#7c7c7c" stroke-width="0.7" stroke-opacity="0.5" stroke-linejoin="round"/>
<polyline points="41.5,36.5 43.5,36.81 45.5,37.08 47.5,37.03 49.5,36.85 51.5,37.39 53.5,36.63 55.5,35.28 57.5,34.68 59.5,34.66 61.5,34.48 63.5,34.49 65.5,34.12 67.5,33.98 69.5,35.36 71.5,35.29 73.5,35 75.5,35.33 77.5,35.77 79.5,36.3 81.5,37.2 83.5,38.64 85.5,38.78 87.5,38.49 89.5,40.08 91.5,40.92 93.5,41.15 95.5,41.27 97.5,40.91 99.5,39.87 101.5,39.47 103.5,40.6 105.5,42.15 107.5,43.99 109.5,44.16 111.5,44.89 113.5,45.28 115.5,45.36 117.5,44.96 119.5,45.56 121.5,45.15 123.5,44.73 125.5,44.46 127.5,45.15 129.5,44.37 131.5,45.37 133.5,45.74 135.5,46.1 137.5,47.62 139.5,48.16 141.5,48.78 143.5,50.9 145.5,51.94 147.5,53.19 149.5,52.93 151.5,53.63 153.5,52.96 155.5,52.85 157.5,53.1 159.5,54.24 161.5,54.65 163.5,54.66 165.5,55.01 167.5,55.9 169.5,56.78 171.5,57.25 173.5,57.68 175.5,58.26 177.5,59.51 179.5,60.05 181.5,60.63 183.5,60.53 185.5,60.77 187.5,61.39 189.5,62.18 191.5,62.75 193.5,63.72 195.5,64.72 197.5,64.13 199.5,64.18 201.5,65.61 203.5,65.87 205.5,65.54 207.5,65.88 209.5,66.45 211.5,67.44 213.5,66.75 215.5,66.54 217.5,67.82 219.5,68.62 221.5,69.92 223.5,70.51 225.5,69.7 227.5,72.06 229.5,72.86 231.5,73.54 233.5,73.1 235.5,74.95 237.5,75.26 239.5,75.46 241.5,76.79 243.5,78.69 245.5,79.63 247.5,79.93 249.5,81.08 251.5,82.02 253.5,82.54 255.5,83.8 257.5,84.61 259.5,85.69 261.5,85.81 263.5,85.92 265.5,87.11 267.5,86.95 269.5,88.28 271.5,89.88 273.5,89.86 275.5,90.62 277.5,91 279.5,92.62 281.5,92.81 283.5,94.35 285.5,94.54 287.5,96.58 289.5,97.22 291.5,97.12 293.5,98.31 295.5,99.79 297.5,99.96 299.5,101.56 301.5,102.61 303.5,103.25 305.5,104.21 307.5,106.23 309.5,106.53 311.5,107.52 313.5,109.27 315.5,111.03 317.5,112.8 319.5,113.58 321.5,115.14 323.5,117.02 325.5,118.64 327.5,119.78 329.5,120.95 331.5,121.87" fill="none" stroke="#7c7c7c" stroke-width="0.7" stroke-opacity="0.5" stroke-linejoin="round"/>
<polyline points="41.5,36.5 43.5,36.82 45.5,37.1 47.5,37.01 49.5,36.65 51.5,37.2 53.5,36.5 55.5,35.24 57.5,34.58 59.5,34.19 61.5,34.61 63.5,33.83 65.5,34.87 67.5,34.64 69.5,35.06 71.5,35.01 73.5,34.8 75.5,35.28 77.5,35.15 79.5,35.88 81.5,37.93 83.5,38.43 85.5,38.84 87.5,39.35 89.5,40.03 91.5,39.92 93.5,41.46 95.5,40.86 97.5,40.51 99.5,39.83 101.5,40.16 103.5,40.52 105.5,42.19 107.5,43.86 109.5,43.85 111.5,44.42 113.5,45.14 115.5,44.8 117.5,44.33 119.5,44.77 121.5,44.79 123.5,44.68 125.5,44.53 127.5,44.95 129.5,44.45 131.5,45.76 133.5,46.59 135.5,46.32 137.5,47.55 139.5,48.81 141.5,49.07 143.5,50.08 145.5,51.15 147.5,53.56 149.5,53.45 151.5,53.62 153.5,53.48 155.5,52.82 157.5,53.81 159.5,53.72 161.5,54.53 163.5,54.63 165.5,55.14 167.5,56.09 169.5,57.03 171.5,57.3 173.5,58.84 175.5,59.15 177.5,60.29 179.5,60.54 181.5,59.88 183.5,59.67 185.5,61.14 187.5,61.74 189.5,62.51 191.5,63.17 193.5,63.68 195.5,64.98 197.5,64.29 199.5,64.59 201.5,65.48 203.5,66.43 205.5,66 207.5,66.57 209.5,67.06 211.5,68.37 213.5,67.47 215.5,67.23 217.5,67.94 219.5,68.37 221.5,69.96 223.5,70.05 225.5,70.94 227.5,72.15 229.5,72.74 231.5,73.33 233.5,74.53 235.5,75.67 237.5,76.28 239.5,76.69 241.5,77.28 243.5,79.35 245.5,79.76 247.5,80.92 249.5,82.14 251.5,82.58 253.5,83.17 255.5,84.08 257.5,84.35 259.5,84.91 261.5,86.04 263.5,86.9 265.5,87.81 267.5,87.71 269.5,89.16 271.5,90.36 273.5,90.65 275.5,92.41 277.5,93.23 279.5,92.72 281.5,93.56 283.5,94.25 285.5,95.91 287.5,96.64 289.5,98.24 291.5,98.26 293.5,98.92 295.5,100.26 297.5,101.07 299.5,102.03 301.5,103.4 303.5,103.13 305.5,104.32 307.5,107.26 309.5,107.99 311.5,108.54 313.5,110.69 315.5,112.31 317.5,113.6 319.5,114.26 321.5,115.97 323.5,117.43 325.5,119.43 327.5,120.42 329.5,121.7 331.5,122.29" fill="none" stroke="#7c7c7c" stroke-width="0.7" stroke-opacity="0.5" stroke-linejoin="round"/>
<polyline points="41.5,36.5 43.5,36.83 45.5,37.1 47.5,37.07 49.5,36.86 51.5,37.17 53.5,36.45 55.5,35.31 57.5,34.67 59.5,34.44 61.5,34.43 63.5,34.26 65.5,34.21 67.5,34.17 69.5,34.93 71.5,35.35 73.5,34.49 75.5,34.64 77.5,34.84 79.5,35.83 81.5,37.18 83.5,38.6 85.5,38.91 87.5,39.16 89.5,39.92 91.5,40.8 93.5,41.34 95.5,41.05 97.5,40.27 99.5,39.97 101.5,40.41 103.5,41.16 105.5,42.16 107.5,43.33 109.5,44.36 111.5,44.67 113.5,44.8 115.5,45.26 117.5,45.02 119.5,44.98 121.5,45.02 123.5,44.97 125.5,45.1 127.5,45.75 129.5,44.61 131.5,45.82 133.5,46.18 135.5,46.36 137.5,46.97 139.5,48.4 141.5,48.5 143.5,50.67 145.5,52.17 147.5,53.1 149.5,52.85 151.5,53.52 153.5,53.28 155.5,52.3 157.5,53.5 159.5,54.46 161.5,54.72 163.5,55.23 165.5,55.09 167.5,56.47 169.5,57.32 171.5,59.04 173.5,59.01 175.5,58.71 177.5,60.14 179.5,60.35 181.5,60.52 183.5,61.27 185.5,61.76 187.5,62.28 189.5,62.74 191.5,63.11 193.5,63.74 195.5,64.6 197.5,63.92 199.5,64.73 201.5,66.37 203.5,66.16 205.5,65.35 207.5,66.34 209.5,67.33 211.5,67.77 213.5,67.02 215.5,66.94 217.5,68.34 219.5,69.47 221.5,70.59 223.5,71.26 225.5,71.52 227.5,72.59 229.5,72.91 231.5,73.55 233.5,73.99 235.5,75.39 237.5,75.39 239.5,76.23 241.5,76.89 243.5,79.08 245.5,79.65 247.5,81.18 249.5,82.62 251.5,83.34 253.5,83.18 255.5,85.1 257.5,85.01 259.5,85.91 261.5,86.77 263.5,87.49 265.5,87.67 267.5,87.86 269.5,89.21 271.5,90.01 273.5,91.09 275.5,93.14 277.5,92.81 279.5,93.65 281.5,93.11 283.5,95.02 285.5,96.11 287.5,97.33 289.5,97.91 291.5,98.55 293.5,98.83 295.5,99.61 297.5,101.52 299.5,103 301.5,104.02 303.5,103.86 305.5,105.28 307.5,108.1 309.5,108.22 311.5,109.42 313.5,109.97 315.5,111.96 317.5,113.67 319.5,115.27 321.5,116.51 323.5,117.87 325.5,120.42 327.5,121.21 329.5,122.87 331.5,122.57" fill="none" stroke="#7c7c7c" stroke-width="0.7" stroke-opacity="0.5" stroke-linejoin="round"/>
<polyline points="41.5,36.5 43.5,36.86 45.5,37.16 47.5,37.06 49.5,36.77 51.5,37.26 53.5,36.37 55.5,35.2 57.5,34.69 59.5,34.14 61.5,34.37 63.5,34.09 65.5,34.42 67.5,34.18 69.5,35 71.5,35.46 73.5,35.07 75.5,35.82 77.5,35.16 79.5,36.73 81.5,38.32 83.5,39.44 85.5,39.19 87.5,39.75 89.5,39.74 91.5,40.81 93.5,41.54 95.5,41.53 97.5,40.69 99.5,40.37 101.5,40.27 103.5,40.89 105.5,42.33 107.5,43.4 109.5,44.73 111.5,44.97 113.5,44.92 115.5,45.72 117.5,44.69 119.5,45.74 121.5,44.9 123.5,45.58 125.5,45.61 127.5,45.56 129.5,44.86 131.5,46.11 133.5,46.83 135.5,46.86 137.5,48.16 139.5,49.17 141.5,49.98 143.5,50.91 145.5,52.48 147.5,53.64 149.5,53.29 151.5,53.99 153.5,54.02 155.5,52.47 157.5,54.18 159.5,54.9 161.5,55.54 163.5,55.71 165.5,55.64 167.5,56.18 169.5,57.44 171.5,58.1 173.5,58.55 175.5,59.74 177.5,60.07 179.5,61.02 181.5,61.18 183.5,61.99 185.5,62.85 187.5,62.89 189.5,63.2 191.5,63.61 193.5,64.26 195.5,65.52 197.5,65.45 199.5,65.55 201.5,66.51 203.5,67.59 205.5,66.42 207.5,66.8 209.5,67.42 211.5,67.92 213.5,68.13 215.5,68.63 217.5,69.39 219.5,69.86 221.5,70.81 223.5,71.69 225.5,71.64 227.5,73.37 229.5,73.73 231.5,74.53 233.5,74.99 235.5,76.31 237.5,77.58 239.5,77.33 241.5,78.03 243.5,79.76 245.5,81.28 247.5,81.05 249.5,82.98 251.5,84.35 253.5,84.61 255.5,85.87 257.5,86.01 259.5,87.49 261.5,88.1 263.5,88.93 265.5,88.52 267.5,89.85 269.5,90.74 271.5,90.97 273.5,91.89 275.5,93.47 277.5,94.09 279.5,95.02 281.5,95.4 283.5,96.31 285.5,97.4 287.5,97.91 289.5,98.95 291.5,99.68 293.5,100.32 295.5,101.7 297.5,102.56 299.5,103.65 301.5,104.45 303.5,105.41 305.5,106.34 307.5,108.81 309.5,110.31 311.5,110.66 313.5,112.34 315.5,113.38 317.5,114.59 319.5,116.72 321.5,117.89 323.5,119.32 325.5,121.03 327.5,122.87 329.5,123.03 331.5,124.76" fill="none" stroke="#7c7c7c" stroke-width="0.7" stroke-opacity="0.5" stroke-linejoin="round"/>
<polyline points="41.5,36.5 43.5,36.82 45.5,37.09 47.5,37.03 49.5,36.77 51.5,37.32 53.5,36.49 55.5,35.28 57.5,34.7 59.5,34.23 61.5,34.22 63.5,33.71 65.5,34.12 67.5,34.65 69.5,35.38 71.5,35.2 73.5,35.45 75.5,34.72 77.5,35.96 79.5,36.68 81.5,37.76 83.5,39.28 85.5,39.89 87.5,39.53 89.5,40.07 91.5,40.82 93.5,40.58 95.5,41.22 97.5,40.48 99.5,40.41 101.5,40.7 103.5,40.94 105.5,42.12 107.5,43.64 109.5,44.45 111.5,44.6 113.5,45.38 115.5,45.04 117.5,44.67 119.5,45.25 121.5,44.88 123.5,44.9 125.5,46.03 127.5,45.12 129.5,45.1 131.5,46.44 133.5,46.61 135.5,46.51 137.5,48.32 139.5,49.13 141.5,48.66 143.5,50.66 145.5,52.36 147.5,53.9 149.5,53.34 151.5,53.4 153.5,54.08 155.5,52.75 157.5,53.8 159.5,54.3 161.5,55.44 163.5,55.34 165.5,55.92 167.5,56.28 169.5,57.51 171.5,58.02 173.5,58.98 175.5,59.77 177.5,60.05 179.5,60.57 181.5,61.59 183.5,61.5 185.5,62.39 187.5,62.02 189.5,63.02 191.5,63.04 193.5,64.29 195.5,65.74 197.5,65.28 199.5,65.51 201.5,66.57 203.5,67.22 205.5,66.68 207.5,66.94 209.5,67.16 211.5,68.63 213.5,68.18 215.5,68.13 217.5,68.72 219.5,70.09 221.5,71.28 223.5,71.36 225.5,71.36 227.5,73.07 229.5,72.83 231.5,74.67 233.5,74.51 235.5,76.18 237.5,76.79 239.5,77.6 241.5,78.1 243.5,79.15 245.5,80.53 247.5,81.8 249.5,82.83 251.5,83.36 253.5,84 255.5,85.32 257.5,85.6 259.5,86.98 261.5,87.82 263.5,87.28 265.5,88.53 267.5,89.89 269.5,90.36 271.5,91.09 273.5,93.07 275.5,93.56 277.5,93.59 279.5,95.19 281.5,95.76 283.5,95.79 285.5,96.63 287.5,98.18 289.5,99.38 291.5,99.2 293.5,100.11 295.5,101.61 297.5,102.35 299.5,102.42 301.5,104.92 303.5,105.44 305.5,106.51 307.5,108.17 309.5,109.81 311.5,109.93 313.5,111.6 315.5,113.4 317.5,114.48 319.5,115.69 321.5,116.76 323.5,119.37 325.5,121.8 327.5,121.61 329.5,123.67 331.5,123.93" fill="none" stroke="#7c7c7c" stroke-width="0.7" stroke-opacity="0.5" stroke-linejoin="round"/>
<polyline points="41.5,36.5 43.5,36.86 45.5,37.1 47.5,37.12 49.5,36.93 51.5,37.31 53.5,36.88 55.5,35.43 57.5,34.47 59.5,34.66 61.5,34.63 63.5,34.18 65.5,34.58 67.5,34.54 69.5,34.75 71.5,35.38 73.5,34.96 75.5,34.98 77.5,36.22 79.5,36.64 81.5,37.98 83.5,38.72 85.5,39.41 87.5,40.3 89.5,40.18 91.5,41.12 93.5,41.39 95.5,42.58 97.5,40.4 99.5,40.54 101.5,40.96 103.5,41.63 105.5,43.13 107.5,44.51 109.5,45.47 111.5,45.18 113.5,45.77 115.5,46.19 117.5,45.16 119.5,45.63 121.5,45.46 123.5,45.69 125.5,45.81 127.5,45.98 129.5,45.97 131.5,47.04 133.5,46.85 135.5,47.75 137.5,48.63 139.5,49.14 141.5,49.4 143.5,52.19 145.5,53.3 147.5,55.13 149.5,53.76 151.5,54.28 153.5,54.94 155.5,53.85 157.5,53.94 159.5,55.46 161.5,55.75 163.5,56.16 165.5,56.85 167.5,56.87 169.5,58.06 171.5,58.86 173.5,59.8 175.5,59.88 177.5,61.24 179.5,61.25 181.5,61.83 183.5,61.65 185.5,62.55 187.5,63.22 189.5,63.95 191.5,64.35 193.5,65.37 195.5,66.53 197.5,66.51 199.5,66.2 201.5,67.17 203.5,67.86 205.5,68.2 207.5,67.91 209.5,69.03 211.5,69.98 213.5,69.15 215.5,69.3 217.5,71.17 219.5,70.93 221.5,72.2 223.5,73.24 225.5,72.62 227.5,74.14 229.5,74.2 231.5,75.64 233.5,76.13 235.5,77.86 237.5,78.92 239.5,79.68 241.5,79.81 243.5,81.22 245.5,81.9 247.5,83.03 249.5,84.54 251.5,85.04 253.5,86.11 255.5,87.36 257.5,87.68 259.5,88.25 261.5,89.64 263.5,89.41 265.5,90.67 267.5,91.22 269.5,92.63 271.5,93.55 273.5,93.94 275.5,95.22 277.5,95.11 279.5,96.64 281.5,96.95 283.5,97.85 285.5,99.12 287.5,100.15 289.5,100.8 291.5,101.18 293.5,103.12 295.5,103.92 297.5,104.44 299.5,105.8 301.5,106.93 303.5,107.44 305.5,107.76 307.5,110.86 309.5,111.91 311.5,113.01 313.5,113.82 315.5,115.48 317.5,116.97 319.5,119.25 321.5,119.99 323.5,122.25 325.5,123.91 327.5,124.61 329.5,126.15 331.5,127.16" fill="none" stroke="#7c7c7c" stroke-width="0.7" stroke-opacity="0.5" stroke-linejoin="round"/>
<polyline points="41.5,36.5 43.5,36.82 45.5,37.12 47.5,37.08 49.5,36.97 51.5,37.45 53.5,36.54 55.5,34.93 57.5,34.52 59.5,34.54 61.5,34.68 63.5,34.32 65.5,34.76 67.5,34.41 69.5,35.32 71.5,35.2 73.5,35.51 75.5,35.14 77.5,35.27 79.5,36.04 81.5,37.92 83.5,38.28 85.5,39.4 87.5,39.93 89.5,40.42 91.5,40.51 93.5,41.94 95.5,41.94 97.5,41.08 99.5,40.38 101.5,40.47 103.5,42.1 105.5,43.28 107.5,44.25 109.5,45.1 111.5,45.59 113.5,46.66 115.5,45.75 117.5,45.74 119.5,46.19 121.5,45.56 123.5,45.53 125.5,45.55 127.5,46.01 129.5,45.59 131.5,47.34 133.5,47.42 135.5,47.41 137.5,48.47 139.5,49.46 141.5,49.94 143.5,52.15 145.5,53.28 147.5,54.25 149.5,54.24 151.5,55.02 153.5,54.68 155.5,53.74 157.5,54.95 159.5,56.01 161.5,56.68 163.5,56.47 165.5,57.09 167.5,57.44 169.5,58.83 171.5,58.77 173.5,59.59 175.5,61.04 177.5,61.06 179.5,61.45 181.5,61.88 183.5,62.44 185.5,63.26 187.5,63.49 189.5,64.36 191.5,65.8 193.5,65.76 195.5,66.27 197.5,65.9 199.5,66.79 201.5,68.07 203.5,68.52 205.5,67.84 207.5,68.94 209.5,69.29 211.5,69.56 213.5,68.68 215.5,69.5 217.5,70.93 219.5,71.62 221.5,72.79 223.5,72.81 225.5,74.24 227.5,75.69 229.5,75.29 231.5,76.38 233.5,77.32 235.5,78.32 237.5,78.34 239.5,78.75 241.5,79.94 243.5,81.32 245.5,82.58 247.5,83.79 249.5,85.52 251.5,85.86 253.5,86.62 255.5,88.01 257.5,88.52 259.5,89.24 261.5,90.45 263.5,91.03 265.5,90.98 267.5,91.33 269.5,92.45 271.5,93.1 273.5,94.59 275.5,95.6 277.5,96.84 279.5,96.93 281.5,97.22 283.5,99.1 285.5,98.74 287.5,100.6 289.5,101.55 291.5,101.25 293.5,102.86 295.5,104.08 297.5,105.12 299.5,106.61 301.5,107.56 303.5,108.59 305.5,108.87 307.5,111.28 309.5,112.43 311.5,112.64 313.5,113.99 315.5,116.45 317.5,118.35 319.5,119.25 321.5,120.46 323.5,122.16 325.5,124.05 327.5,125.33 329.5,125.98 331.5,126.59" fill="none" stroke="#7c7c7c" stroke-width="0.7" stroke-opacity="0.5" stroke-linejoin="round"/>
<polyline points="41.5,36.5 43.5,36.83 45.5,37.04 47.5,37.03 49.5,36.95 51.5,37.46 53.5,36.65 55.5,35.26 57.5,34.75 59.5,34.58 61.5,34.57 63.5,34.37 65.5,34.6 67.5,35.13 69.5,35.57 71.5,35.42 73.5,34.58 75.5,34.76 77.5,35.76 79.5,37.08 81.5,38.61 83.5,39 85.5,39.4 87.5,39.71 89.5,40.45 91.5,41.19 93.5,41.64 95.5,41.5 97.5,41.43 99.5,40.88 101.5,40.85 103.5,41.58 105.5,43.25 107.5,44.66 109.5,45.54 111.5,45.7 113.5,45.55 115.5,46.09 117.5,45.48 119.5,45.7 121.5,46.71 123.5,46.65 125.5,46.02 127.5,46.01 129.5,46.16 131.5,47.23 133.5,48.1 135.5,47.81 137.5,49.29 139.5,49.6 141.5,50.5 143.5,51.58 145.5,52.8 147.5,54.88 149.5,53.89 151.5,54.7 153.5,54.68 155.5,54.34 157.5,54.47 159.5,56.07 161.5,56.35 163.5,56.63 165.5,57.42 167.5,58.12 169.5,58.69 171.5,58.72 173.5,60.17 175.5,60.91 177.5,60.97 179.5,62.39 181.5,62.79 183.5,63.17 185.5,63.28 187.5,63.75 189.5,64.32 191.5,65.88 193.5,65.77 195.5,67.29 197.5,66.67 199.5,66.78 201.5,67.86 203.5,69.08 205.5,67.85 207.5,68.22 209.5,69.2 211.5,69.94 213.5,69.51 215.5,69.52 217.5,70.32 219.5,71.95 221.5,71.95 223.5,73.82 225.5,74.05 227.5,75.17 229.5,75.23 231.5,76.99 233.5,77.13 235.5,78.73 237.5,79.53 239.5,79.8 241.5,80.61 243.5,81.42 245.5,82.64 247.5,84.37 249.5,85.07 251.5,86.27 253.5,86.61 255.5,87.91 257.5,88.87 259.5,89.28 261.5,90.93 263.5,91.02 265.5,91.59 267.5,91.81 269.5,93.13 271.5,94.13 273.5,94.94 275.5,96.09 277.5,96.62 279.5,97.63 281.5,97.9 283.5,98.43 285.5,99.51 287.5,101.26 289.5,102.67 291.5,103.13 293.5,103.05 295.5,105.1 297.5,106.25 299.5,106.75 301.5,108.59 303.5,108.94 305.5,109.4 307.5,111.82 309.5,112.73 311.5,113.08 313.5,114.69 315.5,116.18 317.5,117.55 319.5,119.42 321.5,120.82 323.5,121.74 325.5,124.11 327.5,125.19 329.5,126.57 331.5,127.5" fill="none" stroke="#7c7c7c" stroke-width="0.7" stroke-opacity="0.5" stroke-linejoin="round"/>
<polyline points="41.5,36.5 43.5,36.9 45.5,37.18 47.5,37.1 49.5,36.77 51.5,37.38 53.5,36.88 55.5,35.32 57.5,35.34 59.5,34.7 61.5,35.09 63.5,34.73 65.5,34.34 67.5,34.74 69.5,35.25 71.5,36.07 73.5,35.77 75.5,36.04 77.5,36.05 79.5,36.45 81.5,38.48 83.5,39.68 85.5,40.09 87.5,40.06 89.5,40.43 91.5,40.66 93.5,42.21 95.5,42.23 97.5,41.92 99.5,41.1 101.5,41.2 103.5,42.11 105.5,43.21 107.5,44.56 109.5,45.67 111.5,46 113.5,46.43 115.5,46.26 117.5,46.49 119.5,46.47 121.5,46.58 123.5,46.24 125.5,46.23 127.5,46.14 129.5,46.65 131.5,48.42 133.5,48.25 135.5,48.03 137.5,48.61 139.5,49.68 141.5,50.86 143.5,51.89 145.5,54.14 147.5,55.36 149.5,54.87 151.5,55.73 153.5,54.99 155.5,54.79 157.5,55.41 159.5,56.23 161.5,57.04 163.5,57.55 165.5,57.1 167.5,57.51 169.5,58.7 171.5,59.05 173.5,60.25 175.5,60.81 177.5,61.32 179.5,62.42 181.5,62.33 183.5,63.05 185.5,63.47 187.5,64.02 189.5,64.81 191.5,65.55 193.5,66.04 195.5,67.81 197.5,67 199.5,67.9 201.5,68.89 203.5,69.44 205.5,68.7 207.5,69.42 209.5,70.09 211.5,70.46 213.5,69.31 215.5,70.47 217.5,71.66 219.5,72.67 221.5,72.91 223.5,74.22 225.5,74.63 227.5,76.52 229.5,75.97 231.5,77.59 233.5,78.2 235.5,79.12 237.5,79.82 239.5,80.18 241.5,80.87 243.5,82.52 245.5,83.43 247.5,83.69 249.5,85.5 251.5,87.01 253.5,87.03 255.5,87.76 257.5,89.09 259.5,89.5 261.5,90.5 263.5,91.12 265.5,91.61 267.5,92.26 269.5,93.64 271.5,94.38 273.5,95.34 275.5,96.55 277.5,97.4 279.5,98.07 281.5,98.75 283.5,99.77 285.5,100.28 287.5,101.33 289.5,102.14 291.5,102.84 293.5,103.55 295.5,105 297.5,106.52 299.5,107.39 301.5,108.2 303.5,109.41 305.5,111.15 307.5,113.34 309.5,113.87 311.5,113.87 313.5,115.2 315.5,117.16 317.5,118.83 319.5,120.8 321.5,121.68 323.5,123.61 325.5,125.65 327.5,126.7 329.5,127.62 331.5,128.18" fill="none" stroke="#7c7c7c" stroke-width="0.7" stroke-opacity="0.5" stroke-linejoin="round"/>
<polyline points="41.5,36.5 43.5,36.89 45.5,37.19 47.5,37.27 49.5,37.03 51.5,37.65 53.5,36.82 55.5,35.56 57.5,34.95 59.5,34.6 61.5,34.94 63.5,34.57 65.5,35.5 67.5,34.85 69.5,35.8 71.5,36.13 73.5,35.51 75.5,36.36 77.5,35.9 79.5,36.56 81.5,38.53 83.5,39.49 85.5,39.93 87.5,39.85 89.5,40.94 91.5,41.84 93.5,41.74 95.5,42.33 97.5,42.06 99.5,41.34 101.5,41.47 103.5,42.01 105.5,43.63 107.5,44.57 109.5,45.34 111.5,45.47 113.5,46.46 115.5,46.36 117.5,45.98 119.5,45.73 121.5,46.57 123.5,46.39 125.5,47.19 127.5,46.2 129.5,45.78 131.5,46.69 133.5,46.83 135.5,48.41 137.5,48.89 139.5,49.63 141.5,50.29 143.5,51.8 145.5,53.5 147.5,54.88 149.5,54.48 151.5,55.38 153.5,55.55 155.5,54.88 157.5,55.61 159.5,56.04 161.5,56.79 163.5,57.46 165.5,58.08 167.5,58.49 169.5,59.55 171.5,59.75 173.5,60.56 175.5,60.77 177.5,61.93 179.5,62.76 181.5,62.93 183.5,63.49 185.5,64.46 187.5,63.88 189.5,64.88 191.5,65.87 193.5,66.52 195.5,67.37 197.5,66.97 199.5,67.84 201.5,69.08 203.5,69.99 205.5,69.07 207.5,69.85 209.5,69.77 211.5,71.21 213.5,70.34 215.5,70.93 217.5,71.89 219.5,72.67 221.5,73.57 223.5,74.36 225.5,74.17 227.5,75.72 229.5,76.7 231.5,77.18 233.5,77.71 235.5,79.84 237.5,80.31 239.5,80.6 241.5,81.18 243.5,83.1 245.5,83.92 247.5,85.06 249.5,86.55 251.5,87.82 253.5,88.35 255.5,88.89 257.5,89.45 259.5,90.09 261.5,91.05 263.5,91.71 265.5,91.83 267.5,92.95 269.5,94.25 271.5,95.38 273.5,96.25 275.5,97.39 277.5,97.66 279.5,98.47 281.5,99.1 283.5,100.54 285.5,100.6 287.5,102.6 289.5,102.69 291.5,103.78 293.5,104.26 295.5,105.87 297.5,107.05 299.5,107.91 301.5,109.09 303.5,109.44 305.5,111.04 307.5,113.37 309.5,113.9 311.5,114.66 313.5,116.07 315.5,117.97 317.5,119.74 319.5,121.43 321.5,121.61 323.5,124.34 325.5,126.93 327.5,127.72 329.5,128.25 331.5,129.36" fill="none" stroke="#7c7c7c" stroke-width="0.7" stroke-opacity="0.5" stroke-linejoin="round"/>
<polyline points="41.5,36.5 43.5,36.93 45.5,37.35 47.5,37.36 49.5,37.03 51.5,37.64 53.5,36.98 55.5,35.73 57.5,35.12 59.5,34.86 61.5,34.88 63.5,34.57 65.5,35.05 67.5,35.15 69.5,35.91 71.5,36.11 73.5,35.29 75.5,35.14 77.5,36.2 79.5,37.27 81.5,38.74 83.5,39.54 85.5,40.51 87.5,40.75 89.5,41.43 91.5,42.04 93.5,42.31 95.5,42.68 97.5,41.45 99.5,42.04 101.5,41.86 103.5,42.81 105.5,44.24 107.5,45.27 109.5,46.51 111.5,46.44 113.5,46.62 115.5,46.73 117.5,46.38 119.5,46.69 121.5,47.29 123.5,46.69 125.5,46.74 127.5,47.04 129.5,46.6 131.5,47.82 133.5,48.24 135.5,47.92 137.5,49.53 139.5,50.52 141.5,51.28 143.5,53.07 145.5,53.5 147.5,55.41 149.5,55.42 151.5,56.03 153.5,56.47 155.5,55.51 157.5,56.49 159.5,56.88 161.5,57.28 163.5,57.41 165.5,57.79 167.5,58.15 169.5,59.27 171.5,60.66 173.5,60.76 175.5,61.57 177.5,63.2 179.5,63.4 181.5,64.16 183.5,63.72 185.5,64.92 187.5,65.65 189.5,66.01 191.5,66.97 193.5,67.58 195.5,68.3 197.5,67.66 199.5,68.4 201.5,69.24 203.5,69.92 205.5,69.75 207.5,70.49 209.5,70.86 211.5,71.48 213.5,70.49 215.5,70.87 217.5,72.55 219.5,72.63 221.5,74.45 223.5,74.45 225.5,75.09 227.5,76.92 229.5,77.08 231.5,78.66 233.5,79.05 235.5,80.09 237.5,81.23 239.5,81.63 241.5,82.07 243.5,83.6 245.5,84.53 247.5,85.58 249.5,86.84 251.5,87.93 253.5,88.75 255.5,90.07 257.5,90.57 259.5,90.95 261.5,92.34 263.5,92.71 265.5,93.15 267.5,93.61 269.5,95.08 271.5,96.14 273.5,96.6 275.5,97.88 277.5,98.94 279.5,100.13 281.5,100 283.5,101.21 285.5,101.11 287.5,102.21 289.5,103.31 291.5,104.29 293.5,105.03 295.5,106.79 297.5,107.87 299.5,108.17 301.5,110.48 303.5,110.65 305.5,111.94 307.5,113.96 309.5,114.19 311.5,115.09 313.5,117.28 315.5,119.06 317.5,120.41 319.5,121.62 321.5,122.48 323.5,124.44 325.5,127.43 327.5,128.75 329.5,129.78 331.5,129.76" fill="none" stroke="#7c7c7c" stroke-width="0.7" stroke-opacity="0.5" stroke-linejoin="round"/>
<polyline points="41.5,36.5 43.5,36.89 45.5,37.25 47.5,37.45 49.5,37.08 51.5,37.65 53.5,37.18 55.5,35.74 57.5,34.96 59.5,34.91 61.5,35.01 63.5,34.81 65.5,34.73 67.5,34.82 69.5,35.75 71.5,36.36 73.5,35.31 75.5,35.61 77.5,36.53 79.5,37.4 81.5,39.1 83.5,39.44 85.5,40.33 87.5,41.05 89.5,41.54 91.5,41.43 93.5,42.65 95.5,43.8 97.5,42.64 99.5,41.54 101.5,42.1 103.5,42.59 105.5,43.97 107.5,45.14 109.5,45.94 111.5,45.48 113.5,46.57 115.5,47.13 117.5,47 119.5,46.83 121.5,47.15 123.5,47.29 125.5,46.74 127.5,47.18 129.5,47.07 131.5,47.62 133.5,48.5 135.5,48.67 137.5,50.47 139.5,51.19 141.5,51.09 143.5,52.49 145.5,53.91 147.5,55.85 149.5,55.33 151.5,55.95 153.5,55.72 155.5,55.08 157.5,56.44 159.5,56.25 161.5,57.38 163.5,58.25 165.5,58.01 167.5,58.65 169.5,60.39 171.5,59.95 173.5,60.8 175.5,61.54 177.5,62.11 179.5,62.51 181.5,63.05 183.5,63.36 185.5,64.06 187.5,64.65 189.5,65.15 191.5,65.95 193.5,67 195.5,67.87 197.5,67.55 199.5,68.46 201.5,69.08 203.5,69.7 205.5,69.91 207.5,70.4 209.5,70.54 211.5,71.24 213.5,70.84 215.5,71.1 217.5,72.53 219.5,73.31 221.5,74.31 223.5,74.97 225.5,75.52 227.5,77.19 229.5,76.39 231.5,77.53 233.5,78.82 235.5,80.17 237.5,80.91 239.5,81.24 241.5,82.27 243.5,83.27 245.5,84.36 247.5,85.87 249.5,87.21 251.5,88.55 253.5,89.23 255.5,89.86 257.5,90.6 259.5,91.02 261.5,91.88 263.5,92.2 265.5,92.4 267.5,93 269.5,94.3 271.5,96.29 273.5,96.53 275.5,97.97 277.5,98.73 279.5,99.53 281.5,99.6 283.5,100.72 285.5,101.8 287.5,103.24 289.5,104.13 291.5,105.03 293.5,105.66 295.5,107.02 297.5,107.33 299.5,108.55 301.5,110.24 303.5,111.29 305.5,112.57 307.5,114.42 309.5,115.45 311.5,115.69 313.5,117.08 315.5,118.55 317.5,120.1 319.5,122.27 321.5,123.34 323.5,124.89 325.5,126.8 327.5,127.74 329.5,128.45 331.5,129.38" fill="none" stroke="#7c7c7c" stroke-width="0.7" stroke-opacity="0.5" stroke-linejoin="round"/>
<polyline points="41.5,36.5 43.5,36.94 45.5,37.26 47.5,37.25 49.5,37.17 51.5,37.79 53.5,37.09 55.5,35.63 57.5,35.27 59.5,34.9 61.5,35.04 63.5,34.65 65.5,35.42 67.5,35.78 69.5,36.08 71.5,36.49 73.5,36.23 75.5,36.05 77.5,36.53 79.5,37.27 81.5,38.3 83.5,39.82 85.5,40.49 87.5,40.92 89.5,41.61 91.5,41.44 93.5,42.46 95.5,42.5 97.5,42.59 99.5,41.87 101.5,41.86 103.5,42.69 105.5,44.21 107.5,45.41 109.5,46.32 111.5,46.33 113.5,46.1 115.5,47.6 117.5,46.76 119.5,46.79 121.5,46.62 123.5,46.56 125.5,47.39 127.5,47.06 129.5,46.93 131.5,48.54 133.5,48.6 135.5,49.21 137.5,50.29 139.5,50.44 141.5,51.09 143.5,52.74 145.5,54.16 147.5,55.97 149.5,55.62 151.5,56.22 153.5,56.58 155.5,55.44 157.5,56.25 159.5,56.61 161.5,57.37 163.5,57.9 165.5,58.5 167.5,59.17 169.5,60.42 171.5,61.41 173.5,61.37 175.5,61.66 177.5,63.21 179.5,64.06 181.5,64.57 183.5,64.43 185.5,64.88 187.5,64.64 189.5,65.23 191.5,66.97 193.5,67.39 195.5,68.4 197.5,68.32 199.5,68.72 201.5,70.07 203.5,70.82 205.5,69.72 207.5,69.85 209.5,71.12 211.5,72.33 213.5,71.38 215.5,71.71 217.5,72.99 219.5,74.02 221.5,74.92 223.5,75.08 225.5,76.35 227.5,76.83 229.5,77.63 231.5,78.73 233.5,79.06 235.5,81.06 237.5,81.71 239.5,82.44 241.5,82.89 243.5,84.26 245.5,85.39 247.5,86.34 249.5,88.01 251.5,88.56 253.5,89.61 255.5,90.87 257.5,91.16 259.5,92.23 261.5,93.14 263.5,93.03 265.5,93.57 267.5,95.72 269.5,95.6 271.5,95.74 273.5,97.59 275.5,99.07 277.5,99.17 279.5,99.5 281.5,101.13 283.5,101.88 285.5,101.9 287.5,103.19 289.5,104.89 291.5,105.19 293.5,106.31 295.5,107.87 297.5,109.26 299.5,109.85 301.5,110.84 303.5,111.81 305.5,112.93 307.5,115.39 309.5,115.82 311.5,116.7 313.5,118.71 315.5,119.99 317.5,121.69 319.5,123.18 321.5,124.07 323.5,125.91 325.5,128.18 327.5,129.28 329.5,130.06 331.5,131.8" fill="none" stroke="#7c7c7c" stroke-width="0.7" stroke-opacity="0.5" stroke-linejoin="round"/>
<polyline points="41.5,36.5 43.5,36.96 45.5,37.36 47.5,37.43 49.5,37.38 51.5,37.91 53.5,37.2 55.5,36.35 57.5,35.52 59.5,35.16 61.5,35.67 63.5,35.13 65.5,35.2 67.5,35.42 69.5,36.04 71.5,36.44 73.5,35.39 75.5,35.74 77.5,36.75 79.5,37.54 81.5,39.06 83.5,39.66 85.5,40.4 87.5,41.74 89.5,41.78 91.5,42.05 93.5,42.84 95.5,43.37 97.5,42.97 99.5,42.2 101.5,42.19 103.5,43.42 105.5,45 107.5,46.37 109.5,46.39 111.5,46.78 113.5,47.17 115.5,47.47 117.5,47.45 119.5,47.81 121.5,47.17 123.5,46.65 125.5,47.9 127.5,47.88 129.5,47.69 131.5,48.73 133.5,49.34 135.5,49.65 137.5,50.54 139.5,51.56 141.5,52.22 143.5,53.74 145.5,55.23 147.5,56.59 149.5,55.79 151.5,56.87 153.5,56.39 155.5,55.7 157.5,56.13 159.5,57.91 161.5,58.67 163.5,58.45 165.5,59.14 167.5,59.52 169.5,60.59 171.5,61.69 173.5,62.69 175.5,61.91 177.5,63.44 179.5,64.92 181.5,64.44 183.5,65.31 185.5,65.62 187.5,65.92 189.5,66.82 191.5,67.17 193.5,68.01 195.5,69.15 197.5,68.94 199.5,69.61 201.5,70.42 203.5,70.95 205.5,70.45 207.5,71.17 209.5,72.09 211.5,72.3 213.5,72.18 215.5,72.57 217.5,73.69 219.5,74.24 221.5,74.93 223.5,75.39 225.5,76.62 227.5,78.18 229.5,77.62 231.5,78.62 233.5,80.16 235.5,80.99 237.5,82.89 239.5,83.15 241.5,83.79 243.5,85.06 245.5,85.76 247.5,88.02 249.5,88.57 251.5,89.96 253.5,89.7 255.5,91.28 257.5,91.85 259.5,92.37 261.5,94.6 263.5,94.54 265.5,94.97 267.5,95.53 269.5,96.4 271.5,97.69 273.5,98.67 275.5,100.11 277.5,100.26 279.5,101 281.5,101.54 283.5,102.93 285.5,103.63 287.5,104.86 289.5,106.27 291.5,106.77 293.5,106.83 295.5,108.31 297.5,110.22 299.5,110.34 301.5,111.64 303.5,111.86 305.5,113.69 307.5,117.26 309.5,117.02 311.5,117.44 313.5,120.1 315.5,120.88 317.5,122.46 319.5,124.26 321.5,125.06 323.5,126.67 325.5,128.83 327.5,129.96 329.5,131 331.5,132.04" fill="none" stroke="#7c7c7c" stroke-width="0.7" stroke-opacity="0.5" stroke-linejoin="round"/>
<polyline points="41.5,36.49 43.5,36.92 45.5,37.29 47.5,37.33 49.5,37.15 51.5,37.87 53.5,37.32 55.5,35.98 57.5,35.46 59.5,35.44 61.5,35.68 63.5,35.14 65.5,35.55 67.5,35.79 69.5,36.09 71.5,36.89 73.5,36.44 75.5,36.41 77.5,36.32 79.5,37.27 81.5,39.21 83.5,40.17 85.5,40.67 87.5,41.16 89.5,41.37 91.5,42.41 93.5,43.57 95.5,43.3 97.5,42.81 99.5,42.41 101.5,42.35 103.5,42.93 105.5,45.08 107.5,46.92 109.5,46.82 111.5,46.71 113.5,47.93 115.5,47.82 117.5,47.74 119.5,47.8 121.5,47.85 123.5,47.21 125.5,47.68 127.5,48.02 129.5,48.09 131.5,49.29 133.5,49.12 135.5,49.41 137.5,50.54 139.5,51.41 141.5,52.21 143.5,54.01 145.5,55.43 147.5,56.84 149.5,56.13 151.5,56.82 153.5,56.25 155.5,56.44 157.5,57.32 159.5,58.38 161.5,59.36 163.5,59.06 165.5,59.12 167.5,59.37 169.5,60.54 171.5,62.02 173.5,62.17 175.5,62.66 177.5,64.42 179.5,64.78 181.5,64.54 183.5,64.51 185.5,65.55 187.5,65.96 189.5,66.73 191.5,67.73 193.5,68.43 195.5,69.8 197.5,69.06 199.5,69.93 201.5,71 203.5,71.76 205.5,70.99 207.5,71.1 209.5,71.91 211.5,73.32 213.5,72.61 215.5,73.26 217.5,74.41 219.5,74.85 221.5,76.06 223.5,76.54 225.5,76.63 227.5,78.9 229.5,78.61 231.5,79.62 233.5,80.48 235.5,81.99 237.5,82.51 239.5,83.39 241.5,83.64 243.5,85.98 245.5,86.55 247.5,87.56 249.5,88.96 251.5,89.66 253.5,90.02 255.5,91.18 257.5,92.41 259.5,93.58 261.5,94.78 263.5,94.7 265.5,94.54 267.5,95.2 269.5,96.83 271.5,97.98 273.5,98.7 275.5,100.26 277.5,100.94 279.5,102.09 281.5,102.53 283.5,103.23 285.5,103.79 287.5,105.35 289.5,106.43 291.5,106.9 293.5,107.3 295.5,108.67 297.5,110.82 299.5,111.49 301.5,113.28 303.5,113.41 305.5,114.22 307.5,116.48 309.5,117.18 311.5,118.01 313.5,119.88 315.5,121.65 317.5,123.75 319.5,124.98 321.5,125.76 323.5,128.01 325.5,130.01 327.5,131.29 329.5,132.37 331.5,132.92" fill="none" stroke="#7c7c7c" stroke-width="0.7" stroke-opacity="0.5" stroke-linejoin="round"/>
<polyline points="41.5,36.49 43.5,36.97 45.5,37.39 47.5,37.67 49.5,37.3 51.5,37.97 53.5,37.5 55.5,36.06 57.5,35.66 59.5,35.43 61.5,35.81 63.5,34.9 65.5,35.97 67.5,35.77 69.5,36.74 71.5,36.94 73.5,36.28 75.5,36.28 77.5,37.12 79.5,38.18 81.5,39.78 83.5,41.12 85.5,40.82 87.5,41.2 89.5,41.65 91.5,42.15 93.5,42.94 95.5,44.06 97.5,42.99 99.5,43.09 101.5,42.79 103.5,43.69 105.5,45.89 107.5,46.65 109.5,47.48 111.5,47.36 113.5,48.07 115.5,48.3 117.5,48.14 119.5,47.97 121.5,48.21 123.5,47.92 125.5,48.55 127.5,48.39 129.5,48.18 131.5,49.62 133.5,50.47 135.5,50.47 137.5,51.27 139.5,51.92 141.5,52.41 143.5,54.26 145.5,55.46 147.5,57.46 149.5,56.87 151.5,57.26 153.5,57.09 155.5,57 157.5,57.36 159.5,58.54 161.5,58.95 163.5,59.73 165.5,60.18 167.5,60.26 169.5,61.51 171.5,62.7 173.5,62.51 175.5,62.84 177.5,64.87 179.5,65.04 181.5,64.65 183.5,64.8 185.5,66.41 187.5,66.93 189.5,66.93 191.5,68.46 193.5,68.98 195.5,70.12 197.5,69.39 199.5,70.58 201.5,71.74 203.5,72.1 205.5,71.66 207.5,72.35 209.5,73.06 211.5,73.84 213.5,72.97 215.5,73.12 217.5,74.56 219.5,75.73 221.5,76.66 223.5,76.55 225.5,77.32 227.5,79.24 229.5,79.84 231.5,80.84 233.5,82.11 235.5,82.97 237.5,83.78 239.5,84.16 241.5,84.56 243.5,86.57 245.5,87.72 247.5,88.15 249.5,88.95 251.5,90.94 253.5,91.36 255.5,92.67 257.5,93.51 259.5,94.59 261.5,95.06 263.5,95.82 265.5,96.52 267.5,97.29 269.5,98.52 271.5,99.06 273.5,100.03 275.5,101.46 277.5,101.92 279.5,102.43 281.5,103.16 283.5,104.69 285.5,105.57 287.5,106.51 289.5,107.37 291.5,107.82 293.5,108.79 295.5,110.2 297.5,111.8 299.5,111.91 301.5,113.96 303.5,114.49 305.5,115.88 307.5,118.12 309.5,118.94 311.5,119.49 313.5,120.41 315.5,122.54 317.5,124.54 319.5,125.74 321.5,127 323.5,129.3 325.5,131.16 327.5,132.34 329.5,133.52 331.5,134.26" fill="none" stroke="#7c7c7c" stroke-width="0.7" stroke-opacity="0.5" stroke-linejoin="round"/>
<polyline points="41.5,36.48 43.5,37.01 45.5,37.49 47.5,37.67 49.5,37.74 51.5,38.52 53.5,37.79 55.5,36.33 57.5,36.25 59.5,35.78 61.5,36.32 63.5,35.88 65.5,36.11 67.5,36.79 69.5,37.71 71.5,37.9 73.5,37.58 75.5,38.09 77.5,38.31 79.5,39.36 81.5,40.81 83.5,41.6 85.5,41.18 87.5,42.39 89.5,42.68 91.5,43.06 93.5,44.59 95.5,44.75 97.5,44.15 99.5,43.14 101.5,44.09 103.5,44.97 105.5,45.98 107.5,47.01 109.5,48.17 111.5,48.26 113.5,49.03 115.5,49.93 117.5,49.29 119.5,49.65 121.5,50.02 123.5,49.18 125.5,49.32 127.5,50 129.5,49.41 131.5,51.2 133.5,51.08 135.5,51.22 137.5,52.06 139.5,53.75 141.5,54.03 143.5,56.12 145.5,56.97 147.5,58.63 149.5,57.89 151.5,58.46 153.5,58.38 155.5,57.84 157.5,58.9 159.5,59.88 161.5,61.14 163.5,60.45 165.5,61.52 167.5,61.9 169.5,63.42 171.5,63.6 173.5,64.54 175.5,65.07 177.5,66.23 179.5,66.3 181.5,67.06 183.5,66.97 185.5,67.99 187.5,68.64 189.5,69.04 191.5,69.59 193.5,70.7 195.5,72.11 197.5,71.4 199.5,71.87 201.5,72.84 203.5,73.49 205.5,73.09 207.5,73.66 209.5,74.51 211.5,75.48 213.5,75.17 215.5,74.98 217.5,77.01 219.5,77.54 221.5,79 223.5,79.74 225.5,79.42 227.5,81.48 229.5,82.14 231.5,82.87 233.5,82.94 235.5,84.33 237.5,85.41 239.5,85.88 241.5,86.9 243.5,88.76 245.5,89.48 247.5,90.38 249.5,92.06 251.5,93.46 253.5,93.61 255.5,94.77 257.5,96.4 259.5,96.42 261.5,96.99 263.5,97.53 265.5,98.26 267.5,99.1 269.5,100.56 271.5,101.33 273.5,102.74 275.5,103.4 277.5,103.99 279.5,105.34 281.5,106.01 283.5,106.95 285.5,107.08 287.5,109.2 289.5,109.73 291.5,110.48 293.5,110.67 295.5,113.1 297.5,113.33 299.5,114.88 301.5,116.08 303.5,116.84 305.5,118.25 307.5,120.64 309.5,121.65 311.5,122.08 313.5,123.7 315.5,125.14 317.5,126.29 319.5,128.35 321.5,129.79 323.5,131.91 325.5,134.21 327.5,135.78 329.5,136.5 331.5,136.87" fill="none" stroke="#7c7c7c" stroke-width="0.7" stroke-opacity="0.5" stroke-linejoin="round"/>
<polyline points="41.5,36.51 43.5,37.01 45.5,37.56 47.5,37.59 49.5,37.53 51.5,38.26 53.5,37.74 55.5,36.56 57.5,35.99 59.5,35.79 61.5,35.97 63.5,35.93 65.5,35.9 67.5,35.71 69.5,37.04 71.5,37.96 73.5,36.96 75.5,37.25 77.5,37.24 79.5,39.02 81.5,39.86 83.5,41.06 85.5,41.05 87.5,42.19 89.5,42.93 91.5,43.36 93.5,43.52 95.5,44.19 97.5,43.09 99.5,42.95 101.5,43.54 103.5,44.7 105.5,45.46 107.5,47.38 109.5,48.12 111.5,47.66 113.5,48.45 115.5,49.66 117.5,48.76 119.5,48.95 121.5,49.3 123.5,48.9 125.5,49.07 127.5,49.08 129.5,48.73 131.5,50.13 133.5,50.78 135.5,50.8 137.5,51.61 139.5,52.64 141.5,53.45 143.5,54.75 145.5,56.29 147.5,57.55 149.5,57.44 151.5,58.18 153.5,58.95 155.5,58.24 157.5,58.35 159.5,59.01 161.5,59.63 163.5,59.74 165.5,60.26 167.5,61.09 169.5,61.89 171.5,62.19 173.5,63.3 175.5,64.18 177.5,65.1 179.5,65.32 181.5,66.02 183.5,66.22 185.5,67.65 187.5,67.16 189.5,67.95 191.5,68.57 193.5,69.47 195.5,70.52 197.5,70.61 199.5,71.28 201.5,72.02 203.5,72.64 205.5,72.49 207.5,73.02 209.5,74.22 211.5,74.91 213.5,74.71 215.5,74.46 217.5,75.01 219.5,76.1 221.5,77.58 223.5,77.97 225.5,78.14 227.5,80.51 229.5,80 231.5,81.56 233.5,81.96 235.5,83.81 237.5,84.38 239.5,84.68 241.5,84.99 243.5,86.94 245.5,88.18 247.5,89.39 249.5,91.7 251.5,92.2 253.5,92.24 255.5,93.66 257.5,94.51 259.5,95.3 261.5,96.51 263.5,96.78 265.5,97.46 267.5,97.98 269.5,99.6 271.5,100.11 273.5,101.62 275.5,102.32 277.5,102.41 279.5,103.46 281.5,104.7 283.5,105.9 285.5,106.18 287.5,107.88 289.5,109.22 291.5,109.32 293.5,110.22 295.5,111.37 297.5,113.54 299.5,114.15 301.5,114.98 303.5,115.47 305.5,116.89 307.5,118.92 309.5,120.37 311.5,121.41 313.5,121.99 315.5,123.84 317.5,125.47 319.5,127.21 321.5,128.97 323.5,130.95 325.5,133.1 327.5,133.55 329.5,134.67 331.5,135.43" fill="none" stroke="#7c7c7c" stroke-width="0.7" stroke-opacity="0.5" stroke-linejoin="round"/>
<polyline points="41.5,36.51 43.5,37.08 45.5,37.55 47.5,37.75 49.5,37.61 51.5,38.33 53.5,37.92 55.5,36.79 57.5,36.45 59.5,35.95 61.5,36.3 63.5,36.12 65.5,36.73 67.5,36.78 69.5,37.11 71.5,37.45 73.5,36.85 75.5,38 77.5,38.2 79.5,39.06 81.5,41.03 83.5,41.89 85.5,42.3 87.5,43.1 89.5,43.12 91.5,43.93 93.5,44.57 95.5,45.06 97.5,43.96 99.5,43.68 101.5,43.71 103.5,44.74 105.5,46.46 107.5,47.94 109.5,48.72 111.5,48.51 113.5,49.01 115.5,49.48 117.5,48.81 119.5,49.13 121.5,48.94 123.5,49.93 125.5,50.09 127.5,50.01 129.5,49.92 131.5,50.78 133.5,51.42 135.5,51.57 137.5,52.44 139.5,53.1 141.5,53.67 143.5,55.88 145.5,57.58 147.5,59.32 149.5,58.28 151.5,58.51 153.5,58.79 155.5,58.18 157.5,59.64 159.5,59.6 161.5,60.34 163.5,61.75 165.5,61.76 167.5,61.97 169.5,63.62 171.5,64.63 173.5,64.25 175.5,64.88 177.5,66.01 179.5,66.65 181.5,66.76 183.5,66.56 185.5,67.59 187.5,68.32 189.5,69.1 191.5,70.19 193.5,70.9 195.5,72.07 197.5,71.56 199.5,72.2 201.5,73.5 203.5,74.19 205.5,73.8 207.5,74.62 209.5,75.55 211.5,76.18 213.5,75.21 215.5,75.91 217.5,77.18 219.5,77.79 221.5,78.86 223.5,79.71 225.5,80.05 227.5,81.97 229.5,82.51 231.5,82.4 233.5,84.23 235.5,85.88 237.5,86.63 239.5,86.67 241.5,87.28 243.5,88.7 245.5,90.5 247.5,91.35 249.5,92.01 251.5,93.19 253.5,93.67 255.5,94.28 257.5,96.2 259.5,97.17 261.5,97.86 263.5,98.47 265.5,99.17 267.5,99.84 269.5,100.52 271.5,101.93 273.5,102.82 275.5,104.35 277.5,105.13 279.5,106.27 281.5,106.53 283.5,107.66 285.5,107.96 287.5,109.6 289.5,110.28 291.5,110.63 293.5,112.12 295.5,113.51 297.5,115.23 299.5,115.42 301.5,117.3 303.5,118.04 305.5,119.48 307.5,121.01 309.5,122.33 311.5,123.11 313.5,124.62 315.5,125.73 317.5,127.09 319.5,128.69 321.5,130.2 323.5,132.25 325.5,134.71 327.5,135.15 329.5,136.7 331.5,137.94" fill="none" stroke="#7c7c7c" stroke-width="0.7" stroke-opacity="0.5" stroke-linejoin="round"/>
<polyline points="41.5,36.5 43.5,37.09 45.5,37.68 47.5,37.92 49.5,37.71 51.5,38.34 53.5,38.04 55.5,36.95 57.5,36.51 59.5,36.1 61.5,36.5 63.5,36.16 65.5,36.68 67.5,37.16 69.5,37.45 71.5,37.9 73.5,37.43 75.5,37.97 77.5,38.08 79.5,39.26 81.5,40.96 83.5,41.56 85.5,42.08 87.5,43.34 89.5,44.36 91.5,44.43 93.5,45 95.5,44.14 97.5,44.24 99.5,43.78 101.5,44.59 103.5,44.67 105.5,46.51 107.5,47.81 109.5,48.84 111.5,48.8 113.5,49.62 115.5,49.61 117.5,50.21 119.5,50.38 121.5,49.9 123.5,49.71 125.5,50.01 127.5,50.24 129.5,49.67 131.5,51.14 133.5,51.06 135.5,51.48 137.5,52.66 139.5,53.96 141.5,54.71 143.5,55.79 145.5,57.08 147.5,58.91 149.5,58.65 151.5,59.72 153.5,58.94 155.5,58.67 157.5,59.52 159.5,60.25 161.5,61.07 163.5,62.02 165.5,62.06 167.5,62.52 169.5,63.45 171.5,64.08 173.5,65.09 175.5,65.78 177.5,66.66 179.5,67.29 181.5,67.85 183.5,68.14 185.5,68.97 187.5,69.26 189.5,69.81 191.5,71.16 193.5,71.14 195.5,72.39 197.5,71.83 199.5,73.36 201.5,74.24 203.5,74.89 205.5,74.38 207.5,74.49 209.5,75.88 211.5,75.96 213.5,75.44 215.5,76.39 217.5,77 219.5,77.87 221.5,79.69 223.5,79.97 225.5,80.87 227.5,83.24 229.5,83.22 231.5,83.76 233.5,84.54 235.5,85.61 237.5,87.22 239.5,86.97 241.5,87.48 243.5,90.15 245.5,91.6 247.5,92.84 249.5,93.57 251.5,94.19 253.5,94.81 255.5,96.33 257.5,96.95 259.5,97.87 261.5,98.99 263.5,99.75 265.5,100.02 267.5,99.76 269.5,101.63 271.5,102.73 273.5,104.16 275.5,105.22 277.5,105.4 279.5,106.6 281.5,107.51 283.5,108.25 285.5,109.53 287.5,110.51 289.5,111.86 291.5,112.34 293.5,113.42 295.5,114.71 297.5,115.34 299.5,116.39 301.5,117.75 303.5,118.56 305.5,119.91 307.5,122.66 309.5,123.01 311.5,123.62 313.5,125.02 315.5,127.52 317.5,129.16 319.5,130.91 321.5,131.74 323.5,133.12 325.5,135.49 327.5,136.56 329.5,138.5 331.5,138.59" fill="none" stroke="#7c7c7c" stroke-width="0.7" stroke-opacity="0.5" stroke-linejoin="round"/>
<polyline points="41.5,36.52 43.5,37.01 45.5,37.57 47.5,37.82 49.5,37.65 51.5,38.42 53.5,38.01 55.5,36.91 57.5,36.57 59.5,36.3 61.5,36.73 63.5,36 65.5,36.86 67.5,37.06 69.5,37.08 71.5,37.54 73.5,37.23 75.5,37.84 77.5,38.21 79.5,38.87 81.5,40.34 83.5,42.03 85.5,42.06 87.5,42.44 89.5,43.14 91.5,44.34 93.5,44.49 95.5,44.15 97.5,44.16 99.5,44.7 101.5,44.47 103.5,44.85 105.5,46.29 107.5,47.69 109.5,48.56 111.5,48.78 113.5,49.63 115.5,48.88 117.5,49.84 119.5,50.04 121.5,50.62 123.5,49.86 125.5,49.79 127.5,50.37 129.5,50.1 131.5,51.16 133.5,51.29 135.5,51.66 137.5,52.84 139.5,53.37 141.5,54.68 143.5,56.11 145.5,57.58 147.5,58.62 149.5,58.88 151.5,59.22 153.5,58.97 155.5,58.45 157.5,58.49 159.5,59.46 161.5,60.6 163.5,61.03 165.5,61.01 167.5,62.63 169.5,63.4 171.5,64.6 173.5,64.66 175.5,65.22 177.5,65.89 179.5,66.23 181.5,66.84 183.5,67.27 185.5,68.11 187.5,68.75 189.5,68.72 191.5,70.17 193.5,71.37 195.5,72.1 197.5,71.86 199.5,72.5 201.5,73.07 203.5,74.06 205.5,74.02 207.5,74.06 209.5,75.02 211.5,76.74 213.5,75.21 215.5,76.07 217.5,76.97 219.5,78.26 221.5,79.63 223.5,79.92 225.5,80.15 227.5,81.78 229.5,81.83 231.5,83.54 233.5,83.53 235.5,85.86 237.5,86.27 239.5,87.13 241.5,87.62 243.5,89.33 245.5,89.96 247.5,91.42 249.5,92.48 251.5,94.27 253.5,94.86 255.5,95.46 257.5,96.8 259.5,96.94 261.5,97.79 263.5,98.8 265.5,99.93 267.5,100.34 269.5,101.49 271.5,101.93 273.5,102.12 275.5,104.43 277.5,105.13 279.5,105.78 281.5,106.84 283.5,107.46 285.5,108.72 287.5,110.58 289.5,110.98 291.5,111.55 293.5,112.08 295.5,113.41 297.5,115.25 299.5,116.28 301.5,117.31 303.5,118.07 305.5,119.77 307.5,121.85 309.5,122.4 311.5,123.02 313.5,124.92 315.5,126.49 317.5,128.67 319.5,130.2 321.5,131.77 323.5,133.67 325.5,135.52 327.5,136.84 329.5,137.6 331.5,138.42" fill="none" stroke="#7c7c7c" stroke-width="0.7" stroke-opacity="0.5" stroke-linejoin="round"/>
<polyline points="41.5,36.53 43.5,37.11 45.5,37.62 47.5,38.04 49.5,38.05 51.5,38.71 53.5,38.11 55.5,37.04 57.5,36.65 59.5,36.42 61.5,36.47 63.5,36.59 65.5,36.76 67.5,37.24 69.5,37.94 71.5,38.12 73.5,37.64 75.5,38.12 77.5,38.91 79.5,40.01 81.5,40.87 83.5,42.33 85.5,42.56 87.5,43.53 89.5,45.07 91.5,45.3 93.5,45.93 95.5,45.46 97.5,44.73 99.5,44.93 101.5,44.89 103.5,45.42 105.5,47.19 107.5,48.31 109.5,49.43 111.5,49.6 113.5,49.96 115.5,50.11 117.5,49.47 119.5,50.34 121.5,50.84 123.5,50.46 125.5,51.32 127.5,51.21 129.5,49.94 131.5,51.74 133.5,52.53 135.5,52.56 137.5,53.75 139.5,54.82 141.5,54.92 143.5,57.22 145.5,58.58 147.5,59.61 149.5,59.27 151.5,60.25 153.5,60.35 155.5,59 157.5,59.9 159.5,60.94 161.5,61.99 163.5,62.01 165.5,62.16 167.5,62.2 169.5,64.11 171.5,64.69 173.5,65.02 175.5,66.03 177.5,67.28 179.5,67.47 181.5,67.68 183.5,68.53 185.5,69.24 187.5,69.71 189.5,70.22 191.5,71.43 193.5,71.76 195.5,73.08 197.5,72.41 199.5,73.47 201.5,75.05 203.5,76.21 205.5,75.1 207.5,75.03 209.5,76.61 211.5,77.35 213.5,76.19 215.5,77.34 217.5,78.86 219.5,79.29 221.5,80.3 223.5,80.91 225.5,81.39 227.5,82.88 229.5,83.27 231.5,84.8 233.5,85.34 235.5,86.33 237.5,86.98 239.5,87.64 241.5,89.34 243.5,90.87 245.5,92.29 247.5,93.09 249.5,94.34 251.5,94.94 253.5,95.97 255.5,97.31 257.5,98.32 259.5,99.37 261.5,99.76 263.5,100.5 265.5,100.98 267.5,100.72 269.5,102.41 271.5,103.83 273.5,105.25 275.5,105.89 277.5,106.85 279.5,108.07 281.5,108.05 283.5,109.76 285.5,110.49 287.5,112.22 289.5,113.04 291.5,113.59 293.5,114.64 295.5,115.54 297.5,116.69 299.5,117.68 301.5,119.2 303.5,120.41 305.5,121.75 307.5,123.51 309.5,124.21 311.5,124.77 313.5,126.64 315.5,128.17 317.5,130.21 319.5,132.04 321.5,133.19 323.5,135.38 325.5,137.37 327.5,138.89 329.5,139.16 331.5,140.21" fill="none" stroke="#7c7c7c" stroke-width="0.7" stroke-opacity="0.5" stroke-linejoin="round"/>
<polyline points="41.5,36.49 43.5,37.02 45.5,37.5 47.5,37.99 49.5,37.96 51.5,38.59 53.5,38.31 55.5,37.24 57.5,36.66 59.5,36.31 61.5,36.37 63.5,36.59 65.5,37.14 67.5,37.17 69.5,38.2 71.5,38.76 73.5,37.51 75.5,37.76 77.5,38.41 79.5,39.55 81.5,40.49 83.5,42.12 85.5,42.47 87.5,42.97 89.5,43.48 91.5,44.08 93.5,44.63 95.5,45.45 97.5,44.43 99.5,44.43 101.5,44.72 103.5,45.57 105.5,46.93 107.5,48.57 109.5,49.39 111.5,49.37 113.5,49.91 115.5,50.41 117.5,49.63 119.5,49.62 121.5,50.76 123.5,50.82 125.5,50.71 127.5,50.48 129.5,50.63 131.5,52.29 133.5,52.42 135.5,52.38 137.5,53.25 139.5,54.08 141.5,54.96 143.5,56.47 145.5,58.32 147.5,59.67 149.5,59.38 151.5,60.16 153.5,59.37 155.5,59.27 157.5,59.94 159.5,60.47 161.5,61.51 163.5,61.74 165.5,62.44 167.5,63.8 169.5,64.32 171.5,64.74 173.5,65.13 175.5,65.78 177.5,67.23 179.5,68.19 181.5,68.45 183.5,68.79 185.5,69.67 187.5,70.08 189.5,70.84 191.5,71.47 193.5,72.1 195.5,73.12 197.5,73 199.5,73.51 201.5,75.12 203.5,75.92 205.5,75.07 207.5,76.18 209.5,76.48 211.5,77.13 213.5,77.67 215.5,77.85 217.5,78.63 219.5,79.67 221.5,81.09 223.5,81.38 225.5,81.94 227.5,83.38 229.5,83.75 231.5,84.8 233.5,85.59 235.5,87.2 237.5,87.78 239.5,88.3 241.5,88.51 243.5,91.28 245.5,92.47 247.5,93.75 249.5,95.3 251.5,95.86 253.5,96.2 255.5,98 257.5,98.15 259.5,98.85 261.5,99.7 263.5,101.3 265.5,101.45 267.5,101.79 269.5,102.93 271.5,104.4 273.5,105.81 275.5,106.44 277.5,107.43 279.5,108.64 281.5,108.68 283.5,110.51 285.5,110.2 287.5,112.22 289.5,114.01 291.5,114.01 293.5,114.59 295.5,116.09 297.5,118.15 299.5,118.77 301.5,119.46 303.5,120.17 305.5,122.13 307.5,124.44 309.5,125.46 311.5,125.43 313.5,127.64 315.5,129.43 317.5,131.03 319.5,132.14 321.5,133.69 323.5,135.44 325.5,138.28 327.5,139.07 329.5,139.42 331.5,139.58" fill="none" stroke="#7c7c7c" stroke-width="0.7" stroke-opacity="0.5" stroke-linejoin="round"/>
<polyline points="41.5,36.51 43.5,37.14 45.5,37.76 47.5,38.15 49.5,38.13 51.5,39.03 53.5,38.48 55.5,37.24 57.5,37.1 59.5,36.58 61.5,37 63.5,36.79 65.5,37.34 67.5,37.44 69.5,38.72 71.5,38.76 73.5,37.44 75.5,37.97 77.5,39.03 79.5,40.04 81.5,40.92 83.5,41.87 85.5,43.4 87.5,44.12 89.5,44.84 91.5,44.84 93.5,45.39 95.5,45.86 97.5,44.82 99.5,45.61 101.5,45.84 103.5,46.41 105.5,47.75 107.5,48.32 109.5,50.08 111.5,50.59 113.5,50.83 115.5,50.85 117.5,50.34 119.5,50.76 121.5,51.7 123.5,51.07 125.5,51.07 127.5,51.4 129.5,51.75 131.5,52.45 133.5,52.89 135.5,53.39 137.5,54.76 139.5,55.86 141.5,55.75 143.5,58.01 145.5,59.36 147.5,60.76 149.5,59.41 151.5,61.16 153.5,61.05 155.5,60.31 157.5,60.33 159.5,62.19 161.5,62.3 163.5,62.67 165.5,63.11 167.5,63.94 169.5,65.44 171.5,66.06 173.5,66.65 175.5,67.21 177.5,68.18 179.5,69.32 181.5,69.15 183.5,70.08 185.5,70.28 187.5,71.05 189.5,71.02 191.5,72.27 193.5,73.15 195.5,74.09 197.5,74.14 199.5,74.25 201.5,76.16 203.5,76.47 205.5,75.96 207.5,77.34 209.5,77.44 211.5,78.86 213.5,78.43 215.5,78.58 217.5,79.47 219.5,80.85 221.5,82.17 223.5,81.98 225.5,82.99 227.5,85.09 229.5,85.44 231.5,86.36 233.5,86.32 235.5,87.95 237.5,89.72 239.5,89.77 241.5,90.01 243.5,92.97 245.5,93.68 247.5,94.6 249.5,95.96 251.5,96.58 253.5,97.38 255.5,98.79 257.5,100.16 259.5,100.51 261.5,101.11 263.5,101.65 265.5,102.39 267.5,102.98 269.5,104.14 271.5,105.63 273.5,106.94 275.5,108.2 277.5,108.32 279.5,109.2 281.5,110.54 283.5,111.74 285.5,112.32 287.5,113.88 289.5,114.79 291.5,114.75 293.5,116.11 295.5,117.56 297.5,118.56 299.5,120.42 301.5,121.6 303.5,122.01 305.5,123.1 307.5,125.44 309.5,126.63 311.5,127.12 313.5,129.04 315.5,130.74 317.5,132.66 319.5,134.06 321.5,135 323.5,136.43 325.5,138.78 327.5,139.78 329.5,141.32 331.5,142.15" fill="none" stroke="#7c7c7c" stroke-width="0.7" stroke-opacity="0.5" stroke-linejoin="round"/>
<polyline points="41.5,36.53 43.5,37.12 45.5,37.72 47.5,38.09 49.5,38.17 51.5,39.02 53.5,38.66 55.5,37.57 57.5,37.56 59.5,37.08 61.5,37.17 63.5,36.76 65.5,36.53 67.5,38.02 69.5,38.99 71.5,38.69 73.5,37.98 75.5,38.92 77.5,39.19 79.5,40.72 81.5,41.48 83.5,43.12 85.5,42.77 87.5,43.95 89.5,44.43 91.5,45.42 93.5,46.25 95.5,45.91 97.5,45.06 99.5,45.24 101.5,45.77 103.5,46.09 105.5,48.24 107.5,49.32 109.5,49.96 111.5,50.86 113.5,51.44 115.5,51.55 117.5,51.05 119.5,51.53 121.5,51.45 123.5,51.97 125.5,51.24 127.5,52.27 129.5,51.48 131.5,53.11 133.5,53.14 135.5,54.41 137.5,55 139.5,55.72 141.5,56.49 143.5,57.97 145.5,59.57 147.5,61.3 149.5,60.32 151.5,61.19 153.5,61.46 155.5,60.49 157.5,61.63 159.5,62.86 161.5,62.69 163.5,63.32 165.5,63.53 167.5,64.06 169.5,65.3 171.5,66.7 173.5,67.1 175.5,67.28 177.5,68.53 179.5,68.56 181.5,70.03 183.5,70.43 185.5,70.96 187.5,71.02 189.5,72.32 191.5,72.48 193.5,73.52 195.5,74.59 197.5,74.12 199.5,75.06 201.5,75.99 203.5,77.33 205.5,76.53 207.5,77.49 209.5,78.4 211.5,79.29 213.5,78.25 215.5,78.76 217.5,80.76 219.5,81.02 221.5,82.58 223.5,83.01 225.5,83.08 227.5,85.54 229.5,84.65 231.5,86.28 233.5,87.12 235.5,88.8 237.5,90.46 239.5,90.6 241.5,90.71 243.5,92.29 245.5,93.72 247.5,94.85 249.5,97.49 251.5,98.28 253.5,98.2 255.5,99.81 257.5,100.47 259.5,101.25 261.5,102.22 263.5,102.72 265.5,103.5 267.5,104.17 269.5,105.38 271.5,106.38 273.5,107.77 275.5,109.67 277.5,109.78 279.5,110.38 281.5,111.3 283.5,112.3 285.5,112.76 287.5,114.9 289.5,116.2 291.5,115.87 293.5,117.76 295.5,118.8 297.5,120.1 299.5,121.34 301.5,122.7 303.5,122.79 305.5,124.47 307.5,127.04 309.5,127.83 311.5,127.82 313.5,129.85 315.5,131.44 317.5,133.21 319.5,134.88 321.5,136.18 323.5,137.85 325.5,140.68 327.5,141.97 329.5,143.58 331.5,143.72" fill="none" stroke="#7c7c7c" stroke-width="0.7" stroke-opacity="0.5" stroke-linejoin="round"/>
<polyline points="41.5,36.5 43.5,37.17 45.5,37.81 47.5,37.98 49.5,38.14 51.5,39.1 53.5,38.87 55.5,37.81 57.5,37.46 59.5,36.87 61.5,37.73 63.5,37.01 65.5,37.42 67.5,37.67 69.5,38.29 71.5,38.86 73.5,38.9 75.5,38.12 77.5,39.34 79.5,40.65 81.5,41.7 83.5,43.88 85.5,43.86 87.5,44.14 89.5,45.08 91.5,45.96 93.5,46.39 95.5,46.02 97.5,45.07 99.5,45.2 101.5,45.46 103.5,46.24 105.5,47.98 107.5,50.35 109.5,50.75 111.5,50.63 113.5,51.14 115.5,51.35 117.5,51.94 119.5,51.45 121.5,51.48 123.5,51.37 125.5,52.26 127.5,52.17 129.5,51.54 131.5,52.94 133.5,53.84 135.5,54.11 137.5,55.22 139.5,56.58 141.5,56.45 143.5,58.38 145.5,59.3 147.5,61.14 149.5,60.72 151.5,61.7 153.5,61.56 155.5,60.82 157.5,62.13 159.5,62.74 161.5,63.13 163.5,63.25 165.5,64.33 167.5,64.36 169.5,64.94 171.5,66.15 173.5,66.72 175.5,67.34 177.5,68.48 179.5,69.22 181.5,69.88 183.5,70.28 185.5,71 187.5,71.95 189.5,72.75 191.5,73.18 193.5,73.41 195.5,75.44 197.5,75.28 199.5,75.52 201.5,77.18 203.5,77.72 205.5,77.91 207.5,77.77 209.5,78.63 211.5,79.34 213.5,79.21 215.5,79.58 217.5,80.97 219.5,81.86 221.5,82.82 223.5,83.4 225.5,83.85 227.5,85.54 229.5,86.18 231.5,87.48 233.5,87.86 235.5,89.93 237.5,90.65 239.5,91.4 241.5,91.87 243.5,93.55 245.5,95.1 247.5,96.13 249.5,97.5 251.5,98.49 253.5,99.09 255.5,100.86 257.5,100.96 259.5,101.9 261.5,103.15 263.5,103.59 265.5,104.29 267.5,105.2 269.5,105.9 271.5,107.21 273.5,107.95 275.5,109.35 277.5,110.03 279.5,111.56 281.5,111.38 283.5,112.69 285.5,113.59 287.5,115.1 289.5,116.33 291.5,116.83 293.5,117.46 295.5,119.9 297.5,121.62 299.5,122.15 301.5,123.24 303.5,123.73 305.5,125.82 307.5,128.03 309.5,128.68 311.5,129.37 313.5,130.53 315.5,131.96 317.5,134.86 319.5,135.86 321.5,137.28 323.5,138.95 325.5,140.68 327.5,142.5 329.5,144.02 331.5,144.31" fill="none" stroke="#7c7c7c" stroke-width="0.7" stroke-opacity="0.5" stroke-linejoin="round"/>
<polyline points="41.5,36.51 43.5,37.27 45.5,37.91 47.5,38.27 49.5,38.34 51.5,39.22 53.5,38.61 55.5,37.47 57.5,36.83 59.5,37.07 61.5,37.53 63.5,37.2 65.5,37.8 67.5,37.66 69.5,38.79 71.5,39.41 73.5,38.72 75.5,39 77.5,39.59 79.5,40.69 81.5,42.35 83.5,43.38 85.5,43.3 87.5,44.45 89.5,45.26 91.5,45.89 93.5,46.97 95.5,46.64 97.5,46.63 99.5,45.94 101.5,46.44 103.5,47.19 105.5,48.82 107.5,50.44 109.5,51.8 111.5,51.35 113.5,52.22 115.5,52.27 117.5,51.93 119.5,52.28 121.5,52.78 123.5,52.9 125.5,53.1 127.5,53.37 129.5,52.62 131.5,54.72 133.5,54.23 135.5,54.87 137.5,55.63 139.5,56.89 141.5,57.67 143.5,59.21 145.5,61.14 147.5,62.32 149.5,61.52 151.5,62.92 153.5,62.45 155.5,61.97 157.5,62.29 159.5,63.09 161.5,63.33 163.5,63.25 165.5,64.33 167.5,65.33 169.5,66.81 171.5,67.5 173.5,67.83 175.5,68.87 177.5,70.11 179.5,70.83 181.5,70.26 183.5,71.19 185.5,72.38 187.5,71.65 189.5,72.55 191.5,74.21 193.5,75.23 195.5,76.82 197.5,76.64 199.5,77.19 201.5,78.02 203.5,78.34 205.5,78.72 207.5,78.9 209.5,79.83 211.5,80.72 213.5,79.97 215.5,80.61 217.5,81.65 219.5,82.88 221.5,84.59 223.5,85.34 225.5,85.05 227.5,87.27 229.5,87.99 231.5,88.82 233.5,89.67 235.5,91.58 237.5,92.06 239.5,92.6 241.5,93.51 243.5,94.67 245.5,96.39 247.5,97.99 249.5,98.79 251.5,99.31 253.5,99.64 255.5,101.71 257.5,102.59 259.5,103.9 261.5,104.15 263.5,104.7 265.5,105.31 267.5,106.6 269.5,108.02 271.5,108.33 273.5,109.94 275.5,111.2 277.5,111.6 279.5,112.53 281.5,113.96 283.5,114.72 285.5,115.4 287.5,117.39 289.5,117.67 291.5,118.5 293.5,119.63 295.5,121.3 297.5,122.34 299.5,123.26 301.5,124.8 303.5,125.43 305.5,126.71 307.5,128.93 309.5,130.22 311.5,130.9 313.5,132.37 315.5,134.05 317.5,135.49 319.5,137.41 321.5,139.65 323.5,141.11 325.5,142.82 327.5,144.02 329.5,145.3 331.5,146.26" fill="none" stroke="#7c7c7c" stroke-width="0.7" stroke-opacity="0.5" stroke-linejoin="round"/>
<polyline points="41.5,36.48 43.5,37.21 45.5,37.97 47.5,38.28 49.5,38.36 51.5,39.37 53.5,38.87 55.5,38.03 57.5,37.48 59.5,37 61.5,36.83 63.5,37.34 65.5,38.01 67.5,38.26 69.5,39.72 71.5,39.35 73.5,38.59 75.5,39.69 77.5,39.55 79.5,40.64 81.5,42.66 83.5,43.73 85.5,44.26 87.5,44.98 89.5,45.26 91.5,45.91 93.5,46.5 95.5,46.54 97.5,45.98 99.5,46.88 101.5,46.58 103.5,47.62 105.5,48.81 107.5,50.52 109.5,50.99 111.5,50.36 113.5,52.39 115.5,52.9 117.5,51.83 119.5,51.92 121.5,52.75 123.5,51.97 125.5,51.93 127.5,53.27 129.5,53.16 131.5,54.33 133.5,55.1 135.5,54.6 137.5,55.7 139.5,56.45 141.5,57.84 143.5,58.69 145.5,60.48 147.5,62.39 149.5,61.77 151.5,62.68 153.5,61.9 155.5,61.65 157.5,61.96 159.5,63.56 161.5,63.95 163.5,64.69 165.5,64.74 167.5,65.04 169.5,67.09 171.5,67.52 173.5,68.13 175.5,68.91 177.5,69.72 179.5,70.42 181.5,70.98 183.5,71.49 185.5,72.44 187.5,72.82 189.5,73.59 191.5,75.35 193.5,75.52 195.5,76.22 197.5,76 199.5,77.23 201.5,78.3 203.5,79.23 205.5,78.86 207.5,79.1 209.5,79.93 211.5,80.88 213.5,80.09 215.5,80.42 217.5,82.59 219.5,82.87 221.5,84.2 223.5,85.11 225.5,85.29 227.5,86.7 229.5,87.71 231.5,89.31 233.5,89.16 235.5,90.87 237.5,91.96 239.5,92.73 241.5,93.6 243.5,95.37 245.5,95.78 247.5,97.31 249.5,98.76 251.5,99.92 253.5,100.61 255.5,101.86 257.5,102.9 259.5,103.69 261.5,104.96 263.5,105.43 265.5,105.78 267.5,106.1 269.5,107.8 271.5,109.26 273.5,110.55 275.5,111.24 277.5,111.51 279.5,113.48 281.5,113.74 283.5,114.69 285.5,116 287.5,117.07 289.5,118.16 291.5,119.51 293.5,119.89 295.5,121.86 297.5,122.61 299.5,123.56 301.5,125.13 303.5,126.54 305.5,126.98 307.5,129.28 309.5,130.18 311.5,131.19 313.5,132.34 315.5,134.64 317.5,136.8 319.5,138.36 321.5,139.08 323.5,141.36 325.5,143.32 327.5,144.87 329.5,145.92 331.5,147.15" fill="none" stroke="#7c7c7c" stroke-width="0.7" stroke-opacity="0.5" stroke-linejoin="round"/>
<polyline points="41.5,36.47 43.5,37.2 45.5,37.83 47.5,38.29 49.5,38.32 51.5,39.18 53.5,39.04 55.5,37.99 57.5,37.82 59.5,37.94 61.5,37.88 63.5,37.88 65.5,38.13 67.5,38.37 69.5,38.98 71.5,39.06 73.5,38.92 75.5,39.87 77.5,40.08 79.5,41 81.5,42.89 83.5,44.16 85.5,44.58 87.5,45.36 89.5,45.8 91.5,46.57 93.5,47.37 95.5,46.84 97.5,47.18 99.5,46.49 101.5,46.98 103.5,47.58 105.5,49.34 107.5,49.9 109.5,51.13 111.5,51.77 113.5,52.8 115.5,52.88 117.5,52.41 119.5,52.72 121.5,53.53 123.5,53.68 125.5,53.15 127.5,53.65 129.5,53.26 131.5,54.79 133.5,54.64 135.5,55.08 137.5,56.33 139.5,57.62 141.5,57.6 143.5,59.79 145.5,61.59 147.5,63.01 149.5,62.33 151.5,62.9 153.5,62.66 155.5,62.97 157.5,63.13 159.5,63.63 161.5,64.56 163.5,64.99 165.5,66.19 167.5,66.59 169.5,67.31 171.5,67.82 173.5,68.92 175.5,69.48 177.5,70.1 179.5,71.12 181.5,71.62 183.5,71.36 185.5,72.66 187.5,73.18 189.5,73.78 191.5,75.3 193.5,75.98 195.5,77.18 197.5,76.25 199.5,76.91 201.5,78.41 203.5,79.54 205.5,78.38 207.5,79.78 209.5,79.87 211.5,81.52 213.5,81.61 215.5,81.38 217.5,82.83 219.5,84.57 221.5,85.34 223.5,86.23 225.5,86.62 227.5,87.98 229.5,88.19 231.5,89.51 233.5,90.61 235.5,92.2 237.5,93.33 239.5,94.42 241.5,93.95 243.5,95.61 245.5,96.93 247.5,97.96 249.5,99.48 251.5,100.87 253.5,101.48 255.5,102.83 257.5,103.42 259.5,104.1 261.5,105.46 263.5,106.05 265.5,106.15 267.5,107.84 269.5,109.65 271.5,110.04 273.5,110.98 275.5,112.23 277.5,112.54 279.5,113.56 281.5,114.16 283.5,115.61 285.5,116.9 287.5,118.58 289.5,118.66 291.5,119.69 293.5,121.27 295.5,122.33 297.5,123.71 299.5,124.59 301.5,125.83 303.5,126.39 305.5,128.39 307.5,130.45 309.5,132.25 311.5,132.84 313.5,133.96 315.5,135.69 317.5,137.7 319.5,139.72 321.5,140.39 323.5,141.96 325.5,144.59 327.5,145.85 329.5,147.38 331.5,147.89" fill="none" stroke="#7c7c7c" stroke-width="0.7" stroke-opacity="0.5" stroke-linejoin="round"/>
<polyline points="41.5,36.51 43.5,37.25 45.5,37.94 47.5,38.47 49.5,38.63 51.5,39.42 53.5,39.27 55.5,38.41 57.5,37.89 59.5,37.85 61.5,37.96 63.5,37.82 65.5,38.27 67.5,38.67 69.5,40.06 71.5,40.32 73.5,40.06 75.5,40.23 77.5,40.59 79.5,42.31 81.5,42.63 83.5,43.6 85.5,45.4 87.5,46.06 89.5,46.91 91.5,47.52 93.5,47.56 95.5,48.29 97.5,47.52 99.5,47.22 101.5,47.26 103.5,48.04 105.5,49.08 107.5,51.52 109.5,52.14 111.5,52.32 113.5,52.28 115.5,52.77 117.5,52.71 119.5,52.97 121.5,53.32 123.5,53.49 125.5,53.91 127.5,54.19 129.5,54.13 131.5,55.15 133.5,55.37 135.5,55.73 137.5,56.5 139.5,57.47 141.5,58.35 143.5,58.91 145.5,61.22 147.5,62.77 149.5,63.14 151.5,63.53 153.5,63.48 155.5,62.61 157.5,63.46 159.5,64.43 161.5,65.26 163.5,65.96 165.5,65.88 167.5,67.02 169.5,68.02 171.5,68.15 173.5,68.98 175.5,69.96 177.5,71.01 179.5,70.99 181.5,72.29 183.5,71.88 185.5,73.15 187.5,73.44 189.5,74.07 191.5,74.96 193.5,75.83 195.5,77.96 197.5,77.21 199.5,77.95 201.5,79.31 203.5,79.73 205.5,79.81 207.5,80.88 209.5,80.69 211.5,81.96 213.5,81.29 215.5,81.96 217.5,83.32 219.5,84.13 221.5,85.56 223.5,86.86 225.5,86.85 227.5,88.32 229.5,88.98 231.5,90.22 233.5,91.43 235.5,92.9 237.5,93.33 239.5,94.12 241.5,94.76 243.5,96.69 245.5,97.84 247.5,99.35 249.5,100.81 251.5,101.39 253.5,102.29 255.5,103.35 257.5,105.08 259.5,105.95 261.5,107.33 263.5,107.08 265.5,107.58 267.5,108.43 269.5,109.8 271.5,110.99 273.5,112.04 275.5,113.28 277.5,113.63 279.5,114.64 281.5,115.69 283.5,117.52 285.5,117.69 287.5,119.57 289.5,120.37 291.5,121.14 293.5,121.53 295.5,123.62 297.5,125.03 299.5,126.16 301.5,127.24 303.5,128.35 305.5,129.85 307.5,132.23 309.5,133.01 311.5,134.05 313.5,135.13 315.5,137.11 317.5,139.67 319.5,140.1 321.5,142.05 323.5,144.1 325.5,146.44 327.5,147.77 329.5,148.34 331.5,149.6" fill="none" stroke="#7c7c7c" stroke-width="0.7" stroke-opacity="0.5" stroke-linejoin="round"/>
<polygon points="41.5,36.5 43.5,36.85 45.5,37.15 47.5,37.17 49.5,36.93 51.5,37.39 53.5,36.7 55.5,35.38 57.5,34.85 59.5,34.5 61.5,34.64 63.5,34.38 65.5,34.64 67.5,34.81 69.5,35.45 71.5,35.67 73.5,35.29 75.5,35.36 77.5,35.87 79.5,36.85 81.5,38.27 83.5,39.37 85.5,40.01 87.5,40.55 89.5,41.07 91.5,41.62 93.5,42.65 95.5,42.7 97.5,42.17 99.5,41.87 101.5,42.03 103.5,42.77 105.5,44.25 107.5,45.65 109.5,46.47 111.5,46.52 113.5,47.12 115.5,47.43 117.5,47.06 119.5,47.35 121.5,47.52 123.5,47.25 125.5,47.57 127.5,47.65 129.5,47.39 131.5,48.67 133.5,49.08 135.5,49.32 137.5,50.41 139.5,51.23 141.5,51.96 143.5,53.54 145.5,54.99 147.5,56.52 149.5,56 151.5,56.73 153.5,56.65 155.5,56.08 157.5,56.92 159.5,57.69 161.5,58.31 163.5,58.6 165.5,58.99 167.5,59.55 169.5,60.73 171.5,61.39 173.5,62.05 175.5,62.56 177.5,63.6 179.5,64.16 181.5,64.72 183.5,65.12 185.5,65.79 187.5,66.16 189.5,66.81 191.5,67.7 193.5,68.44 195.5,69.61 197.5,69.27 199.5,69.92 201.5,70.93 203.5,71.76 205.5,71.3 207.5,71.89 209.5,72.61 211.5,73.45 213.5,72.93 215.5,73.23 217.5,74.5 219.5,75.43 221.5,76.6 223.5,77.23 225.5,77.53 227.5,79.23 229.5,79.55 231.5,80.64 233.5,81.25 235.5,82.68 237.5,83.4 239.5,84.07 241.5,84.81 243.5,86.34 245.5,87.5 247.5,88.72 249.5,89.92 251.5,91 253.5,91.57 255.5,92.97 257.5,93.54 259.5,94.41 261.5,95.4 263.5,95.84 265.5,96.48 267.5,97.1 269.5,98.33 271.5,99.27 273.5,100.4 275.5,101.56 277.5,102.02 279.5,103.15 281.5,103.69 283.5,104.89 285.5,105.57 287.5,107.07 289.5,108.01 291.5,108.6 293.5,109.51 295.5,110.96 297.5,112.21 299.5,113.04 301.5,114.4 303.5,115.03 305.5,116.38 307.5,118.75 309.5,119.48 311.5,120.25 313.5,121.72 315.5,123.45 317.5,125.16 319.5,126.74 321.5,127.88 323.5,129.82 325.5,131.95 327.5,133.08 329.5,134.27 331.5,134.84 332.5,139.79 330.5,138.29 328.5,137.82 326.5,136.47 324.5,135.1 322.5,132.74 320.5,131.15 318.5,130 316.5,128.3 314.5,126.38 312.5,124.83 310.5,123.79 308.5,122.91 306.5,121.62 304.5,119.69 302.5,118.42 300.5,117.44 298.5,116.18 296.5,115.18 294.5,114.32 292.5,112.6 290.5,111.82 288.5,111.45 286.5,109.91 284.5,109.25 282.5,107.94 280.5,107.05 278.5,106.47 276.5,105.06 274.5,104.65 272.5,103.52 270.5,102.22 268.5,101.05 266.5,100.38 264.5,99.54 262.5,99.39 260.5,98.32 258.5,97.49 256.5,96.96 254.5,96.02 252.5,94.8 250.5,94.06 248.5,92.81 246.5,91.63 244.5,90.23 242.5,89.1 240.5,87.84 238.5,86.89 236.5,86.24 234.5,85.19 232.5,84.09 230.5,83.46 228.5,82.56 226.5,81.75 224.5,80.31 222.5,80.2 220.5,79.31 218.5,77.99 216.5,77.01 214.5,76.14 212.5,76.41 210.5,76.3 208.5,75.19 206.5,74.6 204.5,74.69 202.5,74.95 200.5,73.49 198.5,72.54 196.5,72.58 194.5,71.98 192.5,70.91 190.5,70.18 188.5,69.53 186.5,69 184.5,68.23 182.5,67.98 180.5,67.11 178.5,66.7 176.5,65.68 174.5,64.9 172.5,64.35 170.5,64.15 168.5,62.94 166.5,62.08 164.5,61.66 162.5,61.57 160.5,60.78 158.5,60.02 156.5,59.44 154.5,59.34 152.5,59.78 150.5,59.11 148.5,58.91 146.5,58.47 144.5,56.96 142.5,55.39 140.5,54.32 138.5,53.7 136.5,52.58 134.5,51.78 132.5,51.51 130.5,50.59 128.5,50.25 126.5,50.43 124.5,49.65 122.5,50.07 120.5,49.79 118.5,49.83 116.5,49.4 114.5,49.48 112.5,49.47 110.5,48.71 108.5,48.79 106.5,47.35 104.5,45.75 102.5,44.82 100.5,44.58 98.5,44.26 96.5,45.18 94.5,45.33 92.5,44.34 90.5,43.83 88.5,43.02 86.5,43.03 84.5,42.13 82.5,40.98 80.5,39.82 78.5,38.61 76.5,37.87 74.5,37.85 72.5,37.74 70.5,38.03 68.5,37.06 66.5,36.89 64.5,36.29 62.5,36.41 60.5,36.35 58.5,36.39 56.5,36.77 54.5,37.65 52.5,38.47 50.5,38.08 48.5,37.94 46.5,37.72 44.5,37.29 42.5,36.73" fill="#888" fill-opacity="0.3"/>
<polyline points="388.5,31.9 390.5,31.75 392.5,31.83 394.5,31.13 396.5,31.49 398.5,31.06 400.5,30.74 402.5,31.01 404.5,31.24 406.5,31 408.5,30.86 410.5,30.57 412.5,30.46 414.5,30.15 416.5,29.74 418.5,30.29 420.5,31.24 422.5,31.34 424.5,31.13 426.5,31.62 428.5,32.4 430.5,32.31 432.5,32.99 434.5,33.15 436.5,33.15 438.5,34.54 440.5,34.84 442.5,34.34 444.5,34.81 446.5,35.66 448.5,35.69 450.5,35.65 452.5,35.81 454.5,36.48 456.5,36.58 458.5,37.46 460.5,37.48 462.5,37.5 464.5,36.97 466.5,37.27 468.5,37.57 470.5,37.95 472.5,37.92 474.5,38.63 476.5,38.51 478.5,38.89 480.5,39.25 482.5,39.36 484.5,39.87 486.5,40.1 488.5,40.09 490.5,40.25 492.5,41.02 494.5,41.29 496.5,41.52 498.5,42.32 500.5,41.74 502.5,42.05 504.5,42.39 506.5,42.31 508.5,42.62 510.5,43.41 512.5,43.95 514.5,43.97 516.5,44.11 518.5,44.7 520.5,45 522.5,45.39 524.5,45.52 526.5,45.94 528.5,46.48 530.5,47.02 532.5,47.04 534.5,47.31 536.5,48.44 538.5,48.34 540.5,49.45 542.5,49.62 544.5,49.81 546.5,51.11 548.5,50.9 550.5,50.57 552.5,51.04 554.5,51.54 556.5,51.99 558.5,52.41 560.5,53.4 562.5,53.67 564.5,54.01 566.5,54.9 568.5,56.04 570.5,56.75 572.5,56.86 574.5,56.82 576.5,57.73 578.5,58.52 580.5,59.74 582.5,60.39 584.5,60.02 586.5,60.9 588.5,61.84 590.5,62.66 592.5,63.21 594.5,63.44 596.5,64.12 598.5,65.12 600.5,65.09 602.5,65.59 604.5,66.1 606.5,66.48 608.5,67.3 610.5,67.9 612.5,68.13 614.5,69.1 616.5,69.49 618.5,69.77 620.5,70.54 622.5,71.33 624.5,72.2 626.5,72.49 628.5,72.41 630.5,72.95 632.5,73.76 634.5,73.87 636.5,75.54 638.5,75.53 640.5,76.17 642.5,77.47 644.5,78.26 646.5,78.92 648.5,79.73 650.5,80.04 652.5,80.81 654.5,81.4 656.5,81.82 658.5,83.14 660.5,84.47 662.5,84.98 664.5,86.39 666.5,87 668.5,87.22 670.5,87.86 672.5,89.66 674.5,90.07 676.5,90.86 678.5,91.35" fill="none" stroke="#9a9a9a" stroke-width="0.55" stroke-opacity="0.75" stroke-linejoin="round"/>
<polyline points="388.5,31.9 390.5,31.79 392.5,31.93 394.5,31.17 396.5,31.66 398.5,31.02 400.5,30.36 402.5,30.86 404.5,31.18 406.5,30.77 408.5,30.58 410.5,30.15 412.5,30.45 414.5,30.59 416.5,30.31 418.5,31.32 420.5,30.89 422.5,30.82 424.5,31.59 426.5,31.95 428.5,32.63 430.5,32.95 432.5,33.08 434.5,33.77 436.5,33.06 438.5,34.44 440.5,34.47 442.5,34.43 444.5,35.64 446.5,35.78 448.5,36.45 450.5,35.92 452.5,35.38 454.5,36.31 456.5,37.28 458.5,37.57 460.5,37.37 462.5,37.66 464.5,38.27 466.5,38.32 468.5,38.11 470.5,38.41 472.5,39.48 474.5,39.77 476.5,39.1 478.5,39 480.5,39.64 482.5,40.65 484.5,40.91 486.5,40.31 488.5,40.45 490.5,40.84 492.5,42.04 494.5,42.21 496.5,42.21 498.5,42.75 500.5,42.57 502.5,43.14 504.5,43.32 506.5,43.74 508.5,43.95 510.5,44.8 512.5,45.3 514.5,44.55 516.5,44.87 518.5,46.16 520.5,46.6 522.5,46.51 524.5,47.11 526.5,47.21 528.5,47.38 530.5,48.22 532.5,49.12 534.5,49.23 536.5,49.85 538.5,49.15 540.5,50.13 542.5,50.49 544.5,51.18 546.5,52.69 548.5,52.86 550.5,52.46 552.5,52.43 554.5,52.41 556.5,52.8 558.5,53.61 560.5,54.39 562.5,54.58 564.5,55.33 566.5,56.2 568.5,57.45 570.5,57.93 572.5,57.58 574.5,58.47 576.5,59.5 578.5,60.15 580.5,60.68 582.5,61.94 584.5,61.9 586.5,61.85 588.5,62.7 590.5,63.76 592.5,64.61 594.5,64.68 596.5,65.63 598.5,66.36 600.5,66.45 602.5,67.16 604.5,67.58 606.5,68.16 608.5,68.48 610.5,69.31 612.5,70.05 614.5,70.45 616.5,70.97 618.5,71.84 620.5,72.31 622.5,72.73 624.5,73.57 626.5,73.85 628.5,74.58 630.5,75.46 632.5,76.26 634.5,76.21 636.5,76.95 638.5,77.2 640.5,78.55 642.5,79.7 644.5,79.92 646.5,80.28 648.5,81.73 650.5,82.21 652.5,82.72 654.5,83.86 656.5,84.15 658.5,85.28 660.5,86.41 662.5,86.87 664.5,87.69 666.5,88.53 668.5,89.57 670.5,90.59 672.5,91.58 674.5,91.77 676.5,93.13 678.5,93.31" fill="none" stroke="#9a9a9a" stroke-width="0.55" stroke-opacity="0.75" stroke-linejoin="round"/>
<polyline points="388.5,31.9 390.5,31.73 392.5,31.84 394.5,31.33 396.5,31.86 398.5,31.14 400.5,30.62 402.5,31.23 404.5,31.24 406.5,30.67 408.5,30.64 410.5,30.83 412.5,31.16 414.5,30.93 416.5,30.95 418.5,31.57 420.5,31.39 422.5,31.87 424.5,31.61 426.5,32.32 428.5,32.96 430.5,33.52 432.5,34.03 434.5,34.11 436.5,33.96 438.5,34.51 440.5,34.62 442.5,35.04 444.5,35.7 446.5,36.39 448.5,36.76 450.5,36.28 452.5,37.01 454.5,37.73 456.5,38.06 458.5,38.09 460.5,37.68 462.5,38.64 464.5,39.03 466.5,38.83 468.5,38.53 470.5,38.63 472.5,39.76 474.5,40.44 476.5,40.04 478.5,40.11 480.5,40.8 482.5,40.96 484.5,41.31 486.5,41.3 488.5,41.99 490.5,42.2 492.5,43.12 494.5,43.17 496.5,43.22 498.5,43.45 500.5,43.12 502.5,43.6 504.5,44.36 506.5,44.92 508.5,44.76 510.5,45.31 512.5,46.12 514.5,45.7 516.5,46.05 518.5,46.66 520.5,47.6 522.5,47.76 524.5,47.87 526.5,48.03 528.5,49.32 530.5,49.63 532.5,49.35 534.5,49.77 536.5,50.57 538.5,50.67 540.5,51.25 542.5,51.77 544.5,52.4 546.5,53.21 548.5,53.31 550.5,53.34 552.5,53.91 554.5,54.13 556.5,54.45 558.5,54.82 560.5,55.44 562.5,55.74 564.5,56.79 566.5,57.43 568.5,58.83 570.5,59.61 572.5,59.26 574.5,59.52 576.5,60.88 578.5,61.9 580.5,62.66 582.5,63.23 584.5,62.96 586.5,63.7 588.5,64.36 590.5,65.43 592.5,65.87 594.5,65.76 596.5,66.69 598.5,67.36 600.5,67.78 602.5,68.81 604.5,69.12 606.5,69.44 608.5,69.59 610.5,70.42 612.5,71.3 614.5,72.47 616.5,73.05 618.5,73.56 620.5,74.13 622.5,75.42 624.5,75.77 626.5,75.77 628.5,75.62 630.5,76.8 632.5,77.93 634.5,77.57 636.5,78.94 638.5,79.43 640.5,80.27 642.5,81.85 644.5,81.5 646.5,82.32 648.5,83.81 650.5,84.63 652.5,85.12 654.5,85.11 656.5,85.87 658.5,86.98 660.5,88.24 662.5,89.34 664.5,90.01 666.5,90.67 668.5,91.93 670.5,91.7 672.5,92.83 674.5,93.57 676.5,94.67 678.5,95.27" fill="none" stroke="#9a9a9a" stroke-width="0.55" stroke-opacity="0.75" stroke-linejoin="round"/>
<polyline points="388.5,31.9 390.5,31.78 392.5,32.06 394.5,31.39 396.5,31.78 398.5,31.08 400.5,30.82 402.5,31.39 404.5,31.34 406.5,31.07 408.5,31.36 410.5,31.08 412.5,31.06 414.5,31.19 416.5,31.01 418.5,32.04 420.5,32.15 422.5,31.73 424.5,32.12 426.5,32.96 428.5,33.66 430.5,33.44 432.5,34.35 434.5,34.66 436.5,34.15 438.5,35.18 440.5,36.04 442.5,36.45 444.5,37.02 446.5,37.12 448.5,37.43 450.5,37.92 452.5,38.2 454.5,38.86 456.5,39.09 458.5,39.34 460.5,39.61 462.5,40 464.5,40 466.5,39.22 468.5,40.13 470.5,40.21 472.5,40.61 474.5,41.09 476.5,40.91 478.5,41.52 480.5,41.85 482.5,41.62 484.5,42.37 486.5,43.03 488.5,42.92 490.5,43.04 492.5,44.78 494.5,45.03 496.5,44.73 498.5,45.36 500.5,44.75 502.5,45.41 504.5,46.42 506.5,46.98 508.5,46.7 510.5,46.97 512.5,47.6 514.5,47.79 516.5,48.7 518.5,49.13 520.5,48.87 522.5,49.21 524.5,49.53 526.5,50.09 528.5,50.56 530.5,51 532.5,51.37 534.5,52.41 536.5,53.06 538.5,52.96 540.5,53.37 542.5,53.7 544.5,54.35 546.5,55.66 548.5,56.23 550.5,55.92 552.5,56.39 554.5,56.93 556.5,56.81 558.5,57.26 560.5,58 562.5,58.14 564.5,59.2 566.5,59.58 568.5,60.68 570.5,61.56 572.5,62.1 574.5,62.8 576.5,63.25 578.5,64.17 580.5,64.95 582.5,65.77 584.5,65.8 586.5,66.41 588.5,66.99 590.5,68.62 592.5,69.03 594.5,68.65 596.5,69.31 598.5,70.59 600.5,70.46 602.5,71.43 604.5,72.23 606.5,72.62 608.5,72.66 610.5,73.51 612.5,73.7 614.5,74.69 616.5,75.87 618.5,76.55 620.5,77.09 622.5,77.79 624.5,78.66 626.5,78.65 628.5,79.17 630.5,80.29 632.5,80.75 634.5,80.57 636.5,81.82 638.5,82.4 640.5,83.22 642.5,84.15 644.5,84.65 646.5,85.92 648.5,87.2 650.5,88.18 652.5,88.35 654.5,88.6 656.5,89.82 658.5,90.61 660.5,91.71 662.5,92.43 664.5,93.82 666.5,94.94 668.5,95.42 670.5,95.66 672.5,96.74 674.5,97.17 676.5,98.23 678.5,99.21" fill="none" stroke="#9a9a9a" stroke-width="0.55" stroke-opacity="0.75" stroke-linejoin="round"/>
<polyline points="388.5,31.9 390.5,31.83 392.5,32.03 394.5,31.46 396.5,31.8 398.5,31.21 400.5,31.07 402.5,31.45 404.5,31.49 406.5,31.5 408.5,31.1 410.5,30.76 412.5,31.7 414.5,31.77 416.5,31.57 418.5,32.44 420.5,32.69 422.5,32.32 424.5,32.83 426.5,33.86 428.5,34.79 430.5,34.4 432.5,34.74 434.5,35.47 436.5,35.39 438.5,36.34 440.5,36.63 442.5,36.56 444.5,37.48 446.5,37.35 448.5,37.63 450.5,38.47 452.5,39.37 454.5,39.22 456.5,39.61 458.5,40.26 460.5,39.61 462.5,40.2 464.5,40.11 466.5,40.35 468.5,40.89 470.5,41.21 472.5,41.73 474.5,42.22 476.5,42.08 478.5,42.55 480.5,42.65 482.5,43.06 484.5,43.32 486.5,43.45 488.5,43.65 490.5,44.22 492.5,45.59 494.5,45.84 496.5,45.79 498.5,46.07 500.5,45.71 502.5,46.67 504.5,47.24 506.5,46.84 508.5,47.84 510.5,48.55 512.5,48.74 514.5,48.54 516.5,49.41 518.5,49.96 520.5,50.47 522.5,51.32 524.5,51.37 526.5,51.32 528.5,52.06 530.5,52.78 532.5,53.07 534.5,53.42 536.5,54.27 538.5,54.49 540.5,55.15 542.5,55.68 544.5,56.54 546.5,57.3 548.5,57.34 550.5,57.34 552.5,57.25 554.5,57.47 556.5,57.65 558.5,58.36 560.5,59.2 562.5,59.86 564.5,60.85 566.5,61.94 568.5,62.96 570.5,63.72 572.5,64.22 574.5,63.97 576.5,64.76 578.5,65.79 580.5,66.85 582.5,67.44 584.5,67.54 586.5,68.47 588.5,69.3 590.5,70.1 592.5,70.15 594.5,70.4 596.5,71.64 598.5,72.35 600.5,72.49 602.5,72.95 604.5,73.77 606.5,74.5 608.5,75.14 610.5,76.23 612.5,77.06 614.5,76.93 616.5,77.58 618.5,78.66 620.5,79.2 622.5,79.27 624.5,79.77 626.5,80.41 628.5,81.26 630.5,82.74 632.5,83.61 634.5,83.28 636.5,84.28 638.5,84.51 640.5,85.57 642.5,86.56 644.5,86.92 646.5,88.09 648.5,89.38 650.5,89.95 652.5,90.37 654.5,91.19 656.5,92.46 658.5,93.46 660.5,94.05 662.5,94.82 664.5,95.95 666.5,96.57 668.5,97.59 670.5,97.82 672.5,99.75 674.5,100.26 676.5,100.96 678.5,101.44" fill="none" stroke="#7a7a7a" stroke-width="0.55" stroke-opacity="0.75" stroke-linejoin="round"/>
<polyline points="388.5,31.9 390.5,31.83 392.5,32.04 394.5,31.36 396.5,31.92 398.5,31.58 400.5,31.19 402.5,31.58 404.5,31.73 406.5,31.39 408.5,31.62 410.5,31.26 412.5,31.5 414.5,32.22 416.5,32.54 418.5,33.24 420.5,32.94 422.5,32.88 424.5,33.77 426.5,33.9 428.5,34.3 430.5,35.01 432.5,35.27 434.5,35.67 436.5,35.61 438.5,36.53 440.5,36.55 442.5,36.59 444.5,38.08 446.5,38.84 448.5,38.85 450.5,38.95 452.5,39.4 454.5,40.03 456.5,40.56 458.5,40.78 460.5,40.73 462.5,41.36 464.5,42.32 466.5,42.05 468.5,41.74 470.5,42.27 472.5,42.68 474.5,43.26 476.5,42.69 478.5,43.6 480.5,44.3 482.5,44.3 484.5,44.67 486.5,44.97 488.5,45.46 490.5,44.89 492.5,46.52 494.5,46.59 496.5,47.13 498.5,47.68 500.5,47.2 502.5,47.43 504.5,48.52 506.5,49.07 508.5,49.42 510.5,49.97 512.5,50.74 514.5,50.53 516.5,51.32 518.5,52.21 520.5,52.05 522.5,52.65 524.5,53.08 526.5,53.08 528.5,53.49 530.5,54.61 532.5,54.96 534.5,54.69 536.5,55.88 538.5,55.82 540.5,56.9 542.5,57.25 544.5,57.92 546.5,59.3 548.5,59.16 550.5,58.52 552.5,59.22 554.5,60.06 556.5,60.36 558.5,60.9 560.5,61.79 562.5,62.09 564.5,62.94 566.5,62.85 568.5,64.05 570.5,65.49 572.5,66.06 574.5,66.85 576.5,67.45 578.5,67.87 580.5,68.54 582.5,69.5 584.5,70.04 586.5,70.55 588.5,70.78 590.5,71.78 592.5,72.43 594.5,72.7 596.5,73.2 598.5,73.97 600.5,74.5 602.5,75.51 604.5,75.48 606.5,76.41 608.5,77.13 610.5,78.06 612.5,78.72 614.5,79.26 616.5,79.91 618.5,80.88 620.5,81.96 622.5,81.82 624.5,82.74 626.5,83.33 628.5,83.19 630.5,84.64 632.5,85.47 634.5,85.77 636.5,86.89 638.5,87.29 640.5,88.68 642.5,89.39 644.5,89.61 646.5,90.62 648.5,92.36 650.5,93.09 652.5,93.47 654.5,94.19 656.5,94.4 658.5,95.46 660.5,96.91 662.5,97.74 664.5,98.98 666.5,99.83 668.5,100.44 670.5,101.38 672.5,102.58 674.5,102.82 676.5,103.96 678.5,104.54" fill="none" stroke="#7a7a7a" stroke-width="0.55" stroke-opacity="0.75" stroke-linejoin="round"/>
<polyline points="388.5,31.9 390.5,31.86 392.5,32.12 394.5,31.54 396.5,31.99 398.5,31.53 400.5,31.28 402.5,31.85 404.5,32.04 406.5,31.6 408.5,31.47 410.5,31.56 412.5,32.09 414.5,32.46 416.5,32.26 418.5,32.78 420.5,32.91 422.5,33.23 424.5,33.29 426.5,33.71 428.5,34.43 430.5,34.91 432.5,36.31 434.5,36.73 436.5,36.64 438.5,37.94 440.5,38.09 442.5,37.83 444.5,39.2 446.5,39.01 448.5,39.26 450.5,39.56 452.5,40.04 454.5,41.08 456.5,41.28 458.5,42.42 460.5,42.44 462.5,42.48 464.5,42.33 466.5,42.17 468.5,43.1 470.5,43.39 472.5,43.7 474.5,44.3 476.5,44.33 478.5,44.64 480.5,44.83 482.5,44.91 484.5,45.81 486.5,46.13 488.5,46.84 490.5,46.48 492.5,47.93 494.5,48.18 496.5,48.22 498.5,48.9 500.5,48.31 502.5,49.37 504.5,49.94 506.5,50.18 508.5,50.61 510.5,51.37 512.5,51.72 514.5,51.94 516.5,53.09 518.5,53.41 520.5,53.21 522.5,53.72 524.5,54.24 526.5,54.96 528.5,55.6 530.5,56.4 532.5,56.7 534.5,57.16 536.5,57.74 538.5,57.96 540.5,59.23 542.5,59.27 544.5,59.62 546.5,61.2 548.5,61.41 550.5,60.62 552.5,60.75 554.5,61.38 556.5,61.99 558.5,63.02 560.5,63.77 562.5,64.09 564.5,65.18 566.5,65.15 568.5,66.67 570.5,67.75 572.5,67.38 574.5,67.98 576.5,69.56 578.5,70.13 580.5,71.16 582.5,71.81 584.5,71.52 586.5,72.25 588.5,73.75 590.5,74.39 592.5,74.52 594.5,74.85 596.5,75.93 598.5,76.53 600.5,76.6 602.5,77.68 604.5,78.47 606.5,79.53 608.5,79.87 610.5,80.6 612.5,81.47 614.5,81.8 616.5,82.38 618.5,82.88 620.5,83.52 622.5,84.71 624.5,85.37 626.5,85.55 628.5,85.79 630.5,87.36 632.5,87.79 634.5,88.09 636.5,89.34 638.5,89.83 640.5,91.52 642.5,92.68 644.5,92.51 646.5,92.67 648.5,94.22 650.5,95.42 652.5,96.04 654.5,97.12 656.5,98.53 658.5,99.32 660.5,99.75 662.5,100.65 664.5,102.02 666.5,102.54 668.5,102.75 670.5,103.13 672.5,105.28 674.5,105.6 676.5,106.9 678.5,107.8" fill="none" stroke="#7a7a7a" stroke-width="0.55" stroke-opacity="0.75" stroke-linejoin="round"/>
<polyline points="388.5,31.9 390.5,31.92 392.5,32.15 394.5,31.54 396.5,32.06 398.5,31.53 400.5,31.36 402.5,31.95 404.5,31.97 406.5,31.55 408.5,31.89 410.5,32.27 412.5,32.54 414.5,32.74 416.5,32.11 418.5,33.2 420.5,33.2 422.5,33.32 424.5,33.94 426.5,34.26 428.5,35.2 430.5,35.14 432.5,35.75 434.5,36.52 436.5,36.84 438.5,38.04 440.5,38.44 442.5,38.63 444.5,39.75 446.5,39.62 448.5,39.79 450.5,39.9 452.5,40.77 454.5,41.49 456.5,42.09 458.5,42.84 460.5,42.84 462.5,42.92 464.5,43.25 466.5,43.48 468.5,43.28 470.5,43.64 472.5,44.33 474.5,45.04 476.5,45.09 478.5,45.27 480.5,45.55 482.5,46.08 484.5,46.33 486.5,46.68 488.5,47.09 490.5,47.54 492.5,48.28 494.5,48.97 496.5,49.67 498.5,49.82 500.5,49.56 502.5,50.21 504.5,50.39 506.5,50.73 508.5,51.25 510.5,51.97 512.5,52.99 514.5,52.45 516.5,53.18 518.5,54.38 520.5,54.17 522.5,54.92 524.5,55.11 526.5,55.67 528.5,56.94 530.5,57.77 532.5,57.69 534.5,58.44 536.5,59.48 538.5,59.41 540.5,59.81 542.5,60.36 544.5,60.57 546.5,61.96 548.5,62.84 550.5,62.68 552.5,62.6 554.5,63.26 556.5,63.63 558.5,64.23 560.5,64.98 562.5,65.61 564.5,66.6 566.5,67.24 568.5,67.85 570.5,68.77 572.5,69.22 574.5,69.23 576.5,70.01 578.5,71.21 580.5,72.05 582.5,73.09 584.5,72.91 586.5,74.1 588.5,75.09 590.5,75.57 592.5,76.32 594.5,76.29 596.5,77.48 598.5,78.29 600.5,77.85 602.5,78.77 604.5,80.05 606.5,80.83 608.5,80.82 610.5,81.65 612.5,82.91 614.5,83.3 616.5,84.45 618.5,85.16 620.5,85.31 622.5,86.49 624.5,87.27 626.5,87.24 628.5,87.64 630.5,89.41 632.5,90.36 634.5,89.53 636.5,90.88 638.5,91.42 640.5,92.3 642.5,93.26 644.5,93.97 646.5,95.02 648.5,96.4 650.5,97.22 652.5,97.87 654.5,98.79 656.5,99.8 658.5,100.99 660.5,102.31 662.5,102.98 664.5,103.98 666.5,104.72 668.5,105.24 670.5,106.02 672.5,107.71 674.5,108.3 676.5,109.46 678.5,109.8" fill="none" stroke="#7a7a7a" stroke-width="0.55" stroke-opacity="0.75" stroke-linejoin="round"/>
<polyline points="388.5,31.9 390.5,31.9 392.5,32.19 394.5,31.74 396.5,32.39 398.5,31.83 400.5,31.68 402.5,32.15 404.5,31.91 406.5,31.91 408.5,32.05 410.5,32.01 412.5,32.41 414.5,32.77 416.5,32.88 418.5,33.3 420.5,33.27 422.5,33.65 424.5,34.37 426.5,34.82 428.5,35.31 430.5,36.17 432.5,37.18 434.5,37.23 436.5,36.97 438.5,38.1 440.5,38.14 442.5,38.19 444.5,39.61 446.5,40.17 448.5,40.77 450.5,41.34 452.5,41.25 454.5,41.82 456.5,42.28 458.5,43.3 460.5,43.45 462.5,43.86 464.5,44.14 466.5,43.94 468.5,44.44 470.5,44.85 472.5,44.98 474.5,46.01 476.5,46.26 478.5,46.23 480.5,46.39 482.5,46.88 484.5,47.61 486.5,47.88 488.5,47.63 490.5,48.25 492.5,50.44 494.5,50.85 496.5,50.91 498.5,51.08 500.5,50.68 502.5,51.32 504.5,51.74 506.5,52.3 508.5,52.68 510.5,53.27 512.5,53.58 514.5,53.5 516.5,54.93 518.5,55.66 520.5,55.67 522.5,56.38 524.5,56.76 526.5,57.19 528.5,58.33 530.5,58.67 532.5,58.93 534.5,59.74 536.5,60.78 538.5,60.66 540.5,61.75 542.5,62.12 544.5,62.34 546.5,64.05 548.5,64.46 550.5,63.81 552.5,63.88 554.5,64.63 556.5,64.97 558.5,65.88 560.5,66.5 562.5,66.78 564.5,68.29 566.5,68.35 568.5,69.19 570.5,70.31 572.5,70.87 574.5,71.29 576.5,71.91 578.5,73.42 580.5,73.94 582.5,74.71 584.5,75.17 586.5,75.93 588.5,76.98 590.5,77.74 592.5,78.06 594.5,78.39 596.5,79.31 598.5,80.63 600.5,80.72 602.5,81.58 604.5,82.39 606.5,82.91 608.5,83.29 610.5,83.69 612.5,84.49 614.5,85.22 616.5,86.09 618.5,87.27 620.5,87.99 622.5,88.1 624.5,89.16 626.5,89.92 628.5,90.29 630.5,92.25 632.5,92.82 634.5,92.37 636.5,93.56 638.5,94.05 640.5,95.66 642.5,96.58 644.5,96.88 646.5,97.94 648.5,99.23 650.5,100.33 652.5,100.71 654.5,101.8 656.5,102.74 658.5,103.35 660.5,104.11 662.5,105.57 664.5,106.85 666.5,107.54 668.5,108.46 670.5,108.91 672.5,110.4 674.5,111.28 676.5,112.47 678.5,113.17" fill="none" stroke="#7a7a7a" stroke-width="0.55" stroke-opacity="0.75" stroke-linejoin="round"/>
<polyline points="388.5,31.9 390.5,31.9 392.5,32.2 394.5,31.76 396.5,32.26 398.5,31.85 400.5,31.4 402.5,31.69 404.5,31.95 406.5,31.77 408.5,32.12 410.5,32.27 412.5,32.35 414.5,32.86 416.5,32.97 418.5,34.27 420.5,33.92 422.5,34.12 424.5,34.59 426.5,35.15 428.5,35.69 430.5,35.78 432.5,36.8 434.5,37.68 436.5,37.28 438.5,38.14 440.5,38.7 442.5,39.22 444.5,40.13 446.5,40.82 448.5,41.05 450.5,41.32 452.5,41.81 454.5,42.48 456.5,42.93 458.5,43.04 460.5,42.95 462.5,44.16 464.5,44.74 466.5,44.19 468.5,44.41 470.5,45.07 472.5,45.8 474.5,46.34 476.5,46.23 478.5,46.34 480.5,46.84 482.5,47.14 484.5,48.03 486.5,47.98 488.5,48.51 490.5,49.27 492.5,50.31 494.5,50.33 496.5,50.83 498.5,51.35 500.5,50.91 502.5,51.76 504.5,52.14 506.5,53.13 508.5,53.59 510.5,54.24 512.5,54.79 514.5,54.49 516.5,54.96 518.5,55.65 520.5,56.43 522.5,57.11 524.5,57.71 526.5,57.59 528.5,58.57 530.5,59.35 532.5,59.85 534.5,60.17 536.5,61.4 538.5,61.76 540.5,61.86 542.5,62.11 544.5,63.27 546.5,64.65 548.5,64.61 550.5,64.32 552.5,64.6 554.5,65.36 556.5,66.05 558.5,66.83 560.5,67.38 562.5,67.65 564.5,68.77 566.5,69.07 568.5,70.51 570.5,71.62 572.5,71.75 574.5,72.34 576.5,73.54 578.5,74.64 580.5,75.71 582.5,75.9 584.5,75.85 586.5,77.14 588.5,78.39 590.5,79.21 592.5,78.9 594.5,78.76 596.5,79.99 598.5,80.96 600.5,81.06 602.5,82.01 604.5,83.51 606.5,84.03 608.5,83.77 610.5,84.79 612.5,85.52 614.5,86.18 616.5,86.83 618.5,88.22 620.5,89.36 622.5,89.89 624.5,90.5 626.5,90.72 628.5,91.43 630.5,93.01 632.5,93.76 634.5,93.28 636.5,94.82 638.5,95.34 640.5,96.5 642.5,98.13 644.5,98.86 646.5,98.95 648.5,99.87 650.5,100.68 652.5,101.72 654.5,102.53 656.5,103.47 658.5,105.14 660.5,106.36 662.5,107.36 664.5,108.47 666.5,108.69 668.5,109.52 670.5,110.07 672.5,111.59 674.5,112.27 676.5,113.41 678.5,114.23" fill="none" stroke="#7a7a7a" stroke-width="0.55" stroke-opacity="0.75" stroke-linejoin="round"/>
<polyline points="388.5,31.9 390.5,31.9 392.5,32.19 394.5,31.59 396.5,32.17 398.5,31.79 400.5,31.51 402.5,31.79 404.5,32.05 406.5,32.07 408.5,32.28 410.5,32.39 412.5,32.79 414.5,32.98 416.5,33.27 418.5,34.26 420.5,34.64 422.5,34.32 424.5,34.4 426.5,35.02 428.5,35.6 430.5,35.43 432.5,36.36 434.5,37.37 436.5,37.81 438.5,39.05 440.5,38.82 442.5,38.49 444.5,39.97 446.5,41.17 448.5,41.82 450.5,42.09 452.5,42.2 454.5,42.83 456.5,43.28 458.5,43.88 460.5,43.22 462.5,43.9 464.5,44.81 466.5,44.49 468.5,44.82 470.5,45.66 472.5,45.86 474.5,46.48 476.5,46.03 478.5,46.77 480.5,47.42 482.5,47.67 484.5,48.67 486.5,48.81 488.5,48.8 490.5,49.66 492.5,50.89 494.5,50.62 496.5,51.24 498.5,51.44 500.5,51.45 502.5,52.21 504.5,52.53 506.5,53.53 508.5,54.13 510.5,54.73 512.5,55.12 514.5,55.66 516.5,56.07 518.5,56.65 520.5,56.9 522.5,57.65 524.5,58.61 526.5,58.69 528.5,59.24 530.5,60.04 532.5,59.94 534.5,60.52 536.5,61.28 538.5,61.47 540.5,62.32 542.5,62.62 544.5,63.69 546.5,65.17 548.5,65.4 550.5,65.44 552.5,65.64 554.5,66.19 556.5,66.14 558.5,67.07 560.5,68.63 562.5,68.94 564.5,69.23 566.5,70.26 568.5,71.68 570.5,72.31 572.5,73.08 574.5,73.41 576.5,74.1 578.5,75.23 580.5,76.3 582.5,77.18 584.5,77.17 586.5,77.74 588.5,78.61 590.5,79.18 592.5,79.67 594.5,80.63 596.5,81.24 598.5,82.38 600.5,82.39 602.5,83.71 604.5,84.96 606.5,85.71 608.5,85.11 610.5,86.39 612.5,87.92 614.5,88.56 616.5,88.57 618.5,89.84 620.5,90.14 622.5,90.92 624.5,92.15 626.5,92.66 628.5,92.8 630.5,93.8 632.5,94.54 634.5,94.8 636.5,96.29 638.5,96.97 640.5,97.95 642.5,99.22 644.5,99.8 646.5,100.56 648.5,102.23 650.5,103.34 652.5,103.59 654.5,104.19 656.5,104.89 658.5,106.22 660.5,107.87 662.5,108.33 664.5,109.69 666.5,110.84 668.5,112.22 670.5,112.51 672.5,113.52 674.5,114.19 676.5,114.88 678.5,115.72" fill="none" stroke="#7a7a7a" stroke-width="0.55" stroke-opacity="0.75" stroke-linejoin="round"/>
<polyline points="388.5,31.9 390.5,31.92 392.5,32.3 394.5,31.68 396.5,32.12 398.5,31.94 400.5,31.77 402.5,32.15 404.5,32.25 406.5,32.3 408.5,32.37 410.5,32.8 412.5,32.58 414.5,32.4 416.5,32.44 418.5,33.8 420.5,34.01 422.5,34.48 424.5,34.7 426.5,35.49 428.5,36.29 430.5,36.43 432.5,36.84 434.5,37.84 436.5,38.24 438.5,39.4 440.5,39.04 442.5,39.4 444.5,40.47 446.5,41.02 448.5,41.65 450.5,41.94 452.5,42.23 454.5,43.35 456.5,43.86 458.5,44.02 460.5,43.79 462.5,44.52 464.5,44.86 466.5,44.81 468.5,44.91 470.5,45.85 472.5,46.48 474.5,47.06 476.5,47.08 478.5,47.03 480.5,47.45 482.5,47.48 484.5,49.25 486.5,49.67 488.5,49.75 490.5,49.71 492.5,51.07 494.5,51.67 496.5,52.33 498.5,52.73 500.5,52.18 502.5,52.77 504.5,53.82 506.5,54.5 508.5,54.46 510.5,54.62 512.5,55.63 514.5,56.19 516.5,56.44 518.5,56.71 520.5,57.45 522.5,58.18 524.5,59.16 526.5,59.22 528.5,59.8 530.5,60.75 532.5,61.08 534.5,61.69 536.5,62.75 538.5,63.02 540.5,63.64 542.5,63.7 544.5,64.43 546.5,66.2 548.5,66.1 550.5,66.21 552.5,66.78 554.5,66.63 556.5,66.91 558.5,67.56 560.5,68.87 562.5,69.57 564.5,70.3 566.5,71.26 568.5,72.45 570.5,73 572.5,72.96 574.5,74.19 576.5,75.07 578.5,75.69 580.5,76.83 582.5,77.28 584.5,77.04 586.5,78.51 588.5,79.8 590.5,80.76 592.5,81.1 594.5,81.19 596.5,82.44 598.5,82.99 600.5,83.58 602.5,84.74 604.5,85.18 606.5,86.19 608.5,86.61 610.5,87.51 612.5,88.46 614.5,89.11 616.5,89.81 618.5,90.53 620.5,91.01 622.5,92.15 624.5,93.07 626.5,93.45 628.5,93.61 630.5,94.92 632.5,96.18 634.5,96.02 636.5,97.7 638.5,98.31 640.5,99.34 642.5,100.6 644.5,100.81 646.5,101.74 648.5,103.56 650.5,104.52 652.5,105.23 654.5,105.87 656.5,106.69 658.5,107.99 660.5,109.66 662.5,110.2 664.5,111.03 666.5,111.87 668.5,113.17 670.5,113.6 672.5,114.51 674.5,115.78 676.5,116.95 678.5,118.04" fill="none" stroke="#7a7a7a" stroke-width="0.55" stroke-opacity="0.75" stroke-linejoin="round"/>
<polyline points="388.5,31.9 390.5,31.92 392.5,32.16 394.5,31.58 396.5,32.32 398.5,31.81 400.5,31.31 402.5,31.91 404.5,32.22 406.5,31.91 408.5,32 410.5,32.18 412.5,32.97 414.5,33.62 416.5,33.34 418.5,34.2 420.5,34.1 422.5,34.18 424.5,35.48 426.5,36.16 428.5,35.76 430.5,36.52 432.5,37.35 434.5,38.05 436.5,38.15 438.5,39.29 440.5,39.3 442.5,39.47 444.5,40.98 446.5,41.9 448.5,42.21 450.5,41.78 452.5,42.11 454.5,43.28 456.5,43.44 458.5,43.75 460.5,44.32 462.5,44.92 464.5,45.44 466.5,45.32 468.5,45.48 470.5,46.07 472.5,46.63 474.5,46.92 476.5,46.91 478.5,47.52 480.5,48.65 482.5,49.19 484.5,49.73 486.5,49.67 488.5,49.97 490.5,49.82 492.5,51.62 494.5,51.79 496.5,52.05 498.5,53.18 500.5,53.02 502.5,53.45 504.5,54.1 506.5,54.28 508.5,54.67 510.5,55.3 512.5,55.76 514.5,55.83 516.5,57.03 518.5,57.94 520.5,58.19 522.5,58.57 524.5,59.04 526.5,59.81 528.5,60.41 530.5,61.13 532.5,61.31 534.5,62 536.5,62.43 538.5,63.07 540.5,64.04 542.5,64.02 544.5,65.12 546.5,67.14 548.5,66.78 550.5,65.87 552.5,67.02 554.5,67.48 556.5,67.88 558.5,68.72 560.5,69.47 562.5,69.44 564.5,70.54 566.5,71.45 568.5,72.85 570.5,73.81 572.5,73.88 574.5,74.93 576.5,75.6 578.5,76.51 580.5,78.16 582.5,78.82 584.5,78.65 586.5,79.22 588.5,80.29 590.5,81.49 592.5,82.07 594.5,82.02 596.5,83.22 598.5,84.68 600.5,84.71 602.5,85.81 604.5,86.34 606.5,86.94 608.5,87.52 610.5,88.2 612.5,89.25 614.5,90.13 616.5,90.53 618.5,91.76 620.5,91.92 622.5,92.91 624.5,93.99 626.5,93.78 628.5,94.44 630.5,95.72 632.5,97.19 634.5,97.5 636.5,98.94 638.5,99.76 640.5,100.57 642.5,101.73 644.5,102.5 646.5,102.85 648.5,104.4 650.5,106 652.5,106.7 654.5,106.98 656.5,107.92 658.5,109.39 660.5,110.86 662.5,111.49 664.5,112.59 666.5,113.34 668.5,114.27 670.5,114.95 672.5,116.42 674.5,117.29 676.5,118.83 678.5,119.5" fill="none" stroke="#7a7a7a" stroke-width="0.55" stroke-opacity="0.75" stroke-linejoin="round"/>
<polyline points="388.5,31.9 390.5,31.94 392.5,32.24 394.5,31.7 396.5,32.27 398.5,31.74 400.5,31.73 402.5,32.25 404.5,32.12 406.5,32.06 408.5,32.54 410.5,32.74 412.5,32.14 414.5,32.5 416.5,33.03 418.5,33.99 420.5,34.44 422.5,34.37 424.5,35.18 426.5,35.42 428.5,36.14 430.5,36.67 432.5,37.71 434.5,38.36 436.5,38.47 438.5,39.39 440.5,38.98 442.5,39.62 444.5,40.94 446.5,41.25 448.5,41.8 450.5,41.66 452.5,42.24 454.5,43.42 456.5,44.17 458.5,44.22 460.5,44.56 462.5,45.12 464.5,44.98 466.5,45.72 468.5,45.95 470.5,46.04 472.5,47.04 474.5,47.29 476.5,46.78 478.5,47.58 480.5,48.39 482.5,49.15 484.5,49.62 486.5,49.59 488.5,49.97 490.5,50.5 492.5,51.6 494.5,52.15 496.5,52.72 498.5,52.7 500.5,52.65 502.5,53.67 504.5,54.05 506.5,54.44 508.5,55 510.5,56.09 512.5,56.61 514.5,56.6 516.5,57.3 518.5,57.89 520.5,58.44 522.5,59.47 524.5,59.82 526.5,59.95 528.5,60.8 530.5,61.65 532.5,61.49 534.5,62.16 536.5,63.71 538.5,63.36 540.5,64.06 542.5,64.93 544.5,65.56 546.5,67.13 548.5,67.63 550.5,67.7 552.5,67.36 554.5,68.32 556.5,69.28 558.5,69.56 560.5,70.43 562.5,70.47 564.5,71.45 566.5,72.05 568.5,73.53 570.5,74.45 572.5,74.94 574.5,75.63 576.5,76.57 578.5,77.71 580.5,78.17 582.5,79.46 584.5,79.83 586.5,80.79 588.5,81.5 590.5,82.71 592.5,83.47 594.5,83.12 596.5,83.97 598.5,85.16 600.5,85.12 602.5,86.42 604.5,87.38 606.5,87.44 608.5,88.26 610.5,89.23 612.5,89.47 614.5,90.81 616.5,91.9 618.5,92.44 620.5,93.39 622.5,94.32 624.5,95.24 626.5,95.65 628.5,96.08 630.5,96.97 632.5,97.82 634.5,98.22 636.5,99.58 638.5,100.32 640.5,101.1 642.5,103.15 644.5,103.89 646.5,104.56 648.5,106.54 650.5,107.07 652.5,107.39 654.5,108.69 656.5,109.5 658.5,110.57 660.5,112.13 662.5,112.97 664.5,114.82 666.5,115.3 668.5,115.71 670.5,116.76 672.5,118.05 674.5,118.45 676.5,119.88 678.5,121.03" fill="none" stroke="#7a7a7a" stroke-width="0.55" stroke-opacity="0.75" stroke-linejoin="round"/>
<polyline points="388.5,31.9 390.5,31.93 392.5,32.21 394.5,31.67 396.5,32.25 398.5,31.8 400.5,31.77 402.5,32.33 404.5,32.34 406.5,32.33 408.5,32.66 410.5,32.54 412.5,33.08 414.5,33.29 416.5,33.35 418.5,34.3 420.5,34.96 422.5,35.06 424.5,35.54 426.5,35.89 428.5,36.55 430.5,37.55 432.5,38 434.5,38.37 436.5,38.52 438.5,39.62 440.5,39.87 442.5,39.96 444.5,41.3 446.5,41.83 448.5,42.28 450.5,42.58 452.5,43.43 454.5,43.9 456.5,44.41 458.5,44.51 460.5,44.4 462.5,45.08 464.5,45.7 466.5,45.85 468.5,45.93 470.5,46.81 472.5,47.53 474.5,47.59 476.5,47.23 478.5,47.87 480.5,49.15 482.5,49.72 484.5,50.9 486.5,51.15 488.5,51.09 490.5,50.87 492.5,51.97 494.5,52.99 496.5,53.13 498.5,53.2 500.5,53.23 502.5,54.08 504.5,54.72 506.5,55.14 508.5,55.14 510.5,56.41 512.5,57.45 514.5,57 516.5,57.78 518.5,58.58 520.5,59.27 522.5,60.08 524.5,60.28 526.5,60.52 528.5,61.03 530.5,62.07 532.5,62.33 534.5,63.26 536.5,64.57 538.5,63.99 540.5,65.07 542.5,66.02 544.5,66.56 546.5,67.81 548.5,67.72 550.5,68.07 552.5,68.5 554.5,69.26 556.5,69.34 558.5,70.11 560.5,71.34 562.5,72.21 564.5,72.89 566.5,72.86 568.5,74.15 570.5,75.18 572.5,75.08 574.5,76 576.5,77.19 578.5,77.95 580.5,79.18 582.5,80.15 584.5,80.25 586.5,81.17 588.5,82.04 590.5,83.06 592.5,84.35 594.5,84.52 596.5,85.06 598.5,86.33 600.5,86.42 602.5,87.77 604.5,88.57 606.5,89.04 608.5,89.89 610.5,90.7 612.5,91.31 614.5,92.15 616.5,92.97 618.5,93.94 620.5,95.09 622.5,96.01 624.5,95.8 626.5,96.11 628.5,96.92 630.5,98.44 632.5,99.85 634.5,100.18 636.5,101.63 638.5,101.55 640.5,102.74 642.5,104.85 644.5,105.41 646.5,105.75 648.5,107.43 650.5,109.16 652.5,109.06 654.5,109.87 656.5,110.75 658.5,112.24 660.5,113.55 662.5,114.43 664.5,115.88 666.5,117.04 668.5,117.95 670.5,118.45 672.5,120.36 674.5,120.67 676.5,121.57 678.5,122.57" fill="none" stroke="#7a7a7a" stroke-width="0.55" stroke-opacity="0.75" stroke-linejoin="round"/>
<polyline points="388.5,31.9 390.5,31.91 392.5,32.19 394.5,31.71 396.5,32.49 398.5,32.04 400.5,31.57 402.5,32.14 404.5,32.39 406.5,32.42 408.5,32.72 410.5,32.96 412.5,33.05 414.5,33.82 416.5,34.08 418.5,34.65 420.5,34.9 422.5,34.66 424.5,35.25 426.5,35.58 428.5,36.22 430.5,37.12 432.5,37.25 434.5,38.01 436.5,38.57 438.5,39.55 440.5,39.84 442.5,40.44 444.5,41.57 446.5,42.17 448.5,42.54 450.5,42.73 452.5,42.61 454.5,43.64 456.5,44.85 458.5,45.17 460.5,45.33 462.5,45.45 464.5,46.23 466.5,46.55 468.5,46.66 470.5,47.11 472.5,48 474.5,47.67 476.5,47.69 478.5,48.55 480.5,49.16 482.5,49.57 484.5,50.11 486.5,50.7 488.5,51.27 490.5,51.63 492.5,53.32 494.5,53.73 496.5,53.53 498.5,53.96 500.5,53.76 502.5,54.28 504.5,54.98 506.5,55.41 508.5,55.82 510.5,56.9 512.5,57.68 514.5,57.43 516.5,58.05 518.5,59.43 520.5,60.02 522.5,59.86 524.5,60.33 526.5,60.71 528.5,61.8 530.5,62.65 532.5,62.91 534.5,63.59 536.5,64.84 538.5,65.05 540.5,65.23 542.5,66.12 544.5,66.78 546.5,68 548.5,68.54 550.5,68.71 552.5,68.59 554.5,69.5 556.5,70.78 558.5,70.85 560.5,71.68 562.5,72.28 564.5,72.79 566.5,73.68 568.5,75.04 570.5,76.12 572.5,76.58 574.5,77.01 576.5,77.77 578.5,79.29 580.5,80.28 582.5,80.99 584.5,81.29 586.5,82.27 588.5,83.27 590.5,84.08 592.5,84.64 594.5,85.18 596.5,86.02 598.5,87.02 600.5,87.13 602.5,88.26 604.5,89.2 606.5,90.36 608.5,91 610.5,91.44 612.5,92.56 614.5,93.84 616.5,94.53 618.5,95.25 620.5,96.12 622.5,96.87 624.5,97.97 626.5,98.54 628.5,98.99 630.5,100.27 632.5,101.36 634.5,101.25 636.5,102.71 638.5,103.12 640.5,104.73 642.5,105.97 644.5,106.66 646.5,107.58 648.5,108.96 650.5,109.68 652.5,110.55 654.5,112.24 656.5,113.16 658.5,114.23 660.5,115.54 662.5,116.14 664.5,117.6 666.5,118.6 668.5,119.03 670.5,120.2 672.5,121.41 674.5,121.28 676.5,122.99 678.5,124.13" fill="none" stroke="#7a7a7a" stroke-width="0.55" stroke-opacity="0.75" stroke-linejoin="round"/>
<polyline points="388.5,31.9 390.5,31.95 392.5,32.24 394.5,31.79 396.5,32.55 398.5,32.07 400.5,31.89 402.5,32.18 404.5,32.39 406.5,32.22 408.5,32.64 410.5,32.98 412.5,32.86 414.5,33.1 416.5,33.29 418.5,34.57 420.5,35.4 422.5,35.16 424.5,35.21 426.5,36.08 428.5,36.91 430.5,36.94 432.5,38.04 434.5,39.04 436.5,38.75 438.5,39.47 440.5,39.6 442.5,40.17 444.5,41.37 446.5,41.95 448.5,42.8 450.5,43.2 452.5,43.43 454.5,44.3 456.5,44.59 458.5,44.96 460.5,45.18 462.5,46.02 464.5,46.43 466.5,46.22 468.5,46.67 470.5,47.28 472.5,47.94 474.5,48.64 476.5,48.5 478.5,49.41 480.5,50.2 482.5,50.48 484.5,50.73 486.5,51.12 488.5,51.6 490.5,52.52 492.5,53.63 494.5,53.87 496.5,54.01 498.5,54.53 500.5,54.5 502.5,54.99 504.5,56.01 506.5,56.57 508.5,57.26 510.5,57.87 512.5,58.43 514.5,57.96 516.5,58.78 518.5,59.66 520.5,60.24 522.5,60.54 524.5,60.95 526.5,61.48 528.5,62.79 530.5,63.55 532.5,63.36 534.5,63.86 536.5,65.11 538.5,65.13 540.5,66.07 542.5,66.82 544.5,67.72 546.5,68.85 548.5,69.19 550.5,69.3 552.5,69.37 554.5,70.08 556.5,71.02 558.5,71.15 560.5,72.45 562.5,73.05 564.5,74.24 566.5,74.57 568.5,76.09 570.5,77.02 572.5,77.76 574.5,78.81 576.5,79.64 578.5,80.1 580.5,81.23 582.5,82.11 584.5,81.64 586.5,82.52 588.5,84.1 590.5,85.53 592.5,85.87 594.5,86.08 596.5,87.47 598.5,88.5 600.5,88.75 602.5,89.75 604.5,90.99 606.5,92.03 608.5,91.58 610.5,92.21 612.5,93.8 614.5,94.9 616.5,95.36 618.5,95.95 620.5,96.64 622.5,97.53 624.5,98.87 626.5,99.72 628.5,100.12 630.5,101.1 632.5,102.75 634.5,103.18 636.5,103.91 638.5,103.7 640.5,105.45 642.5,106.95 644.5,107.64 646.5,108.33 648.5,110.02 650.5,111.8 652.5,112.38 654.5,113.45 656.5,114 658.5,115.49 660.5,116.67 662.5,117.84 664.5,119.13 666.5,120.12 668.5,120.7 670.5,121.42 672.5,123.32 674.5,124.19 676.5,125.23 678.5,125.87" fill="none" stroke="#9a9a9a" stroke-width="0.55" stroke-opacity="0.75" stroke-linejoin="round"/>
<polyline points="388.5,31.9 390.5,31.96 392.5,32.29 394.5,31.72 396.5,32.41 398.5,32.17 400.5,31.93 402.5,32.25 404.5,32.54 406.5,32.66 408.5,32.62 410.5,32.71 412.5,32.99 414.5,33.84 416.5,33.62 418.5,34.4 420.5,35.21 422.5,35.54 424.5,35.58 426.5,35.56 428.5,36.83 430.5,37.62 432.5,38.15 434.5,39.33 436.5,39.46 438.5,39.85 440.5,39.85 442.5,41.16 444.5,42.63 446.5,43.03 448.5,43.23 450.5,43.56 452.5,43.95 454.5,44.96 456.5,45.23 458.5,45.44 460.5,46.27 462.5,47 464.5,47.28 466.5,46.35 468.5,46.71 470.5,47.99 472.5,48.38 474.5,48.91 476.5,49.13 478.5,49.67 480.5,50.04 482.5,50.66 484.5,51.84 486.5,51.75 488.5,51.83 490.5,52.28 492.5,53.49 494.5,54.21 496.5,53.97 498.5,54.86 500.5,55.01 502.5,55.26 504.5,56.27 506.5,56.92 508.5,56.96 510.5,57.71 512.5,58.49 514.5,58.76 516.5,59.52 518.5,59.69 520.5,60.59 522.5,61.5 524.5,61.9 526.5,62.19 528.5,63.05 530.5,63.8 532.5,64.56 534.5,65.19 536.5,66.45 538.5,66.41 540.5,66.8 542.5,67.59 544.5,68.81 546.5,70.01 548.5,70.39 550.5,70.56 552.5,70.15 554.5,70.71 556.5,71.82 558.5,72.48 560.5,72.81 562.5,73.87 564.5,75.23 566.5,76 568.5,77.23 570.5,77.67 572.5,78.4 574.5,78.76 576.5,79.45 578.5,80.74 580.5,82.86 582.5,83.41 584.5,83.05 586.5,84.39 588.5,85.38 590.5,86.33 592.5,87.02 594.5,87.24 596.5,87.81 598.5,89.58 600.5,90.32 602.5,91.38 604.5,91.7 606.5,92.56 608.5,92.69 610.5,93.88 612.5,95.14 614.5,95.65 616.5,95.99 618.5,97.41 620.5,98.24 622.5,98.96 624.5,99.5 626.5,100.48 628.5,101.41 630.5,103.12 632.5,104.15 634.5,104.45 636.5,105.73 638.5,105.88 640.5,107.61 642.5,108.84 644.5,108.92 646.5,110.56 648.5,112.6 650.5,113.66 652.5,114.07 654.5,114.97 656.5,115.61 658.5,117.16 660.5,118.66 662.5,119.57 664.5,121.07 666.5,121.61 668.5,122.4 670.5,123.63 672.5,125.01 674.5,125.69 676.5,127.2 678.5,128.18" fill="none" stroke="#9a9a9a" stroke-width="0.55" stroke-opacity="0.75" stroke-linejoin="round"/>
<polyline points="388.5,31.9 390.5,31.97 392.5,32.3 394.5,31.72 396.5,32.38 398.5,32 400.5,31.81 402.5,32.54 404.5,33.01 406.5,32.83 408.5,32.83 410.5,32.98 412.5,33.33 414.5,33.6 416.5,33.45 418.5,34.53 420.5,34.73 422.5,35.05 424.5,36.24 426.5,36.7 428.5,37.3 430.5,37.21 432.5,38.41 434.5,39.45 436.5,39.59 438.5,40.8 440.5,40.91 442.5,40.5 444.5,42.2 446.5,42.97 448.5,43.59 450.5,43.57 452.5,44.69 454.5,45.12 456.5,45.77 458.5,46.49 460.5,46.66 462.5,47.11 464.5,47.9 466.5,47.9 468.5,48.24 470.5,48.31 472.5,48.63 474.5,49.4 476.5,49.4 478.5,50 480.5,50.69 482.5,51.18 484.5,51.8 486.5,52.14 488.5,52.7 490.5,53.22 492.5,54.66 494.5,55 496.5,55.05 498.5,55.51 500.5,56.09 502.5,56.47 504.5,57 506.5,57.56 508.5,58.64 510.5,58.86 512.5,59.46 514.5,59.56 516.5,59.82 518.5,61.16 520.5,61.58 522.5,62.08 524.5,62.55 526.5,62.69 528.5,64.07 530.5,64.76 532.5,65.02 534.5,65.63 536.5,66.71 538.5,67.01 540.5,68.03 542.5,68.18 544.5,68.99 546.5,70.87 548.5,71.04 550.5,70.56 552.5,70.9 554.5,71.89 556.5,72.68 558.5,73.43 560.5,74.18 562.5,74.52 564.5,75.76 566.5,76.78 568.5,77.94 570.5,78.61 572.5,79.26 574.5,79.78 576.5,80.98 578.5,82.12 580.5,83.25 582.5,84.44 584.5,84.69 586.5,85.76 588.5,86.73 590.5,87.64 592.5,88.06 594.5,88.54 596.5,88.98 598.5,90.3 600.5,91.14 602.5,92.65 604.5,93.14 606.5,94 608.5,93.95 610.5,94.64 612.5,96.21 614.5,97.36 616.5,97.78 618.5,98.95 620.5,100.18 622.5,101.07 624.5,102.24 626.5,102.67 628.5,102.49 630.5,103.85 632.5,105.66 634.5,106.52 636.5,107.58 638.5,108.2 640.5,109.6 642.5,111.06 644.5,111.2 646.5,112.09 648.5,113.98 650.5,115.44 652.5,116.26 654.5,117.02 656.5,117.87 658.5,119.78 660.5,120.88 662.5,121.66 664.5,122.74 666.5,123.63 668.5,124.91 670.5,126.11 672.5,127.41 674.5,128.24 676.5,129.42 678.5,130.44" fill="none" stroke="#9a9a9a" stroke-width="0.55" stroke-opacity="0.75" stroke-linejoin="round"/>
<polyline points="388.5,31.9 390.5,31.99 392.5,32.31 394.5,31.79 396.5,32.41 398.5,32.1 400.5,32.08 402.5,32.57 404.5,32.81 406.5,32.6 408.5,32.84 410.5,33.15 412.5,33.31 414.5,34.1 416.5,34.08 418.5,34.76 420.5,35.31 422.5,35.79 424.5,36.36 426.5,36.65 428.5,37.58 430.5,38.45 432.5,39.22 434.5,39.51 436.5,39.75 438.5,40.54 440.5,41.09 442.5,42.01 444.5,43.03 446.5,43.21 448.5,43.95 450.5,44.11 452.5,44.99 454.5,45.75 456.5,46.29 458.5,47.07 460.5,47.5 462.5,48.14 464.5,48.82 466.5,48.27 468.5,48.22 470.5,49.03 472.5,49.9 474.5,50.53 476.5,50.54 478.5,51.18 480.5,51.5 482.5,52.04 484.5,52.4 486.5,53.24 488.5,53.91 490.5,53.89 492.5,55 494.5,55.2 496.5,55.38 498.5,56.01 500.5,56.01 502.5,56.86 504.5,57.53 506.5,58.32 508.5,59.29 510.5,59.69 512.5,60.16 514.5,60.18 516.5,61.16 518.5,62.18 520.5,62.87 522.5,63.3 524.5,63.53 526.5,64.17 528.5,65.49 530.5,66.13 532.5,65.99 534.5,66.56 536.5,67.94 538.5,67.89 540.5,68.83 542.5,69.53 544.5,70.26 546.5,71.78 548.5,72.17 550.5,72.56 552.5,72.61 554.5,73.12 556.5,73.63 558.5,74.63 560.5,76.08 562.5,76.12 564.5,77.49 566.5,78.28 568.5,79.85 570.5,80.99 572.5,81.42 574.5,81.84 576.5,83.54 578.5,84.52 580.5,85.08 582.5,85.84 584.5,86.12 586.5,86.61 588.5,87.55 590.5,89.43 592.5,90.58 594.5,90.77 596.5,91.76 598.5,92.42 600.5,92.85 602.5,94.18 604.5,94.72 606.5,96.28 608.5,97.15 610.5,98.03 612.5,98.55 614.5,99.97 616.5,100.99 618.5,101.86 620.5,102.44 622.5,103.05 624.5,103.79 626.5,104.65 628.5,105.22 630.5,107.29 632.5,108.77 634.5,108.71 636.5,109.86 638.5,110.09 640.5,111.63 642.5,113.19 644.5,114.33 646.5,115.18 648.5,116.66 650.5,117.47 652.5,117.95 654.5,119.08 656.5,120.33 658.5,122.22 660.5,123.47 662.5,124.32 664.5,125.8 666.5,126.72 668.5,128.06 670.5,128.93 672.5,130.8 674.5,131.2 676.5,132.64 678.5,133.58" fill="none" stroke="#9a9a9a" stroke-width="0.55" stroke-opacity="0.75" stroke-linejoin="round"/>
<polygon points="388.5,31.9 390.5,31.9 392.5,32.16 394.5,31.59 396.5,32.16 398.5,31.7 400.5,31.44 402.5,31.9 404.5,32.04 406.5,31.86 408.5,32.02 410.5,32.13 412.5,32.27 414.5,32.58 416.5,32.56 418.5,33.45 420.5,33.65 422.5,33.78 424.5,34.29 426.5,34.78 428.5,35.47 430.5,35.86 432.5,36.51 434.5,37.1 436.5,37.14 438.5,38.11 440.5,38.26 442.5,38.47 444.5,39.62 446.5,40.11 448.5,40.64 450.5,40.91 452.5,41.19 454.5,41.96 456.5,42.38 458.5,42.87 460.5,42.86 462.5,43.41 464.5,43.84 466.5,43.8 468.5,43.93 470.5,44.51 472.5,45.14 474.5,45.53 476.5,45.42 478.5,45.87 480.5,46.45 482.5,46.83 484.5,47.51 486.5,47.73 488.5,48.02 490.5,48.33 492.5,49.66 494.5,49.94 496.5,50.1 498.5,50.6 500.5,50.47 502.5,51.04 504.5,51.64 506.5,52.13 508.5,52.53 510.5,53.25 512.5,53.88 514.5,53.78 516.5,54.51 518.5,55.26 520.5,55.65 522.5,56.18 524.5,56.52 526.5,56.94 528.5,57.77 530.5,58.49 532.5,58.76 534.5,59.26 536.5,60.17 538.5,60.22 540.5,61.08 542.5,61.44 544.5,62.22 546.5,63.52 548.5,63.71 550.5,63.61 552.5,63.8 554.5,64.32 556.5,64.75 558.5,65.23 560.5,66.21 562.5,66.64 564.5,67.54 566.5,68.08 568.5,69.34 570.5,70.2 572.5,70.51 574.5,71 576.5,71.84 578.5,72.76 580.5,73.7 582.5,74.51 584.5,74.56 586.5,75.35 588.5,76.14 590.5,77.1 592.5,77.71 594.5,77.88 596.5,78.76 598.5,79.73 600.5,79.88 602.5,80.91 604.5,81.66 606.5,82.32 608.5,82.51 610.5,83.28 612.5,84.25 614.5,85.01 616.5,85.56 618.5,86.4 620.5,87.05 622.5,87.79 624.5,88.5 626.5,88.85 628.5,89.28 630.5,90.69 632.5,91.74 634.5,91.7 636.5,92.89 638.5,93.31 640.5,94.52 642.5,95.6 644.5,96.03 646.5,96.87 648.5,98.38 650.5,99.28 652.5,99.6 654.5,100.47 656.5,101.46 658.5,102.64 660.5,103.83 662.5,104.62 664.5,105.79 666.5,106.48 668.5,107.27 670.5,107.99 672.5,109.43 674.5,109.9 676.5,111.15 678.5,111.86 678.5,116.36 676.5,115.63 674.5,114.37 672.5,113.88 670.5,112.42 668.5,111.68 666.5,110.87 664.5,110.17 662.5,108.98 660.5,108.16 658.5,106.96 656.5,105.75 654.5,104.75 652.5,103.86 650.5,103.52 648.5,102.6 646.5,101.07 644.5,100.22 642.5,99.77 640.5,98.67 638.5,97.44 636.5,97 634.5,95.79 632.5,95.81 630.5,94.74 628.5,93.32 626.5,92.87 624.5,92.5 622.5,91.77 620.5,91.01 618.5,90.34 616.5,89.49 614.5,88.91 612.5,88.13 610.5,87.15 608.5,86.35 606.5,86.14 604.5,85.46 602.5,84.7 600.5,83.65 598.5,83.48 596.5,82.5 594.5,81.59 592.5,81.4 590.5,80.78 588.5,79.79 586.5,78.99 584.5,78.18 582.5,78.11 580.5,77.28 578.5,76.32 576.5,75.38 574.5,74.52 572.5,74.01 570.5,73.69 568.5,72.81 566.5,71.53 564.5,70.97 562.5,70.05 560.5,69.61 558.5,68.61 556.5,68.1 554.5,67.65 552.5,67.12 550.5,66.91 548.5,66.99 546.5,66.78 544.5,65.46 542.5,64.67 540.5,64.28 538.5,63.4 536.5,63.33 534.5,62.4 532.5,61.88 530.5,61.58 528.5,60.84 526.5,59.99 524.5,59.55 522.5,59.18 520.5,58.63 518.5,58.22 516.5,57.45 514.5,56.7 512.5,56.77 510.5,56.12 508.5,55.38 506.5,54.96 504.5,54.45 502.5,53.82 500.5,53.23 498.5,53.33 496.5,52.82 494.5,52.63 492.5,52.33 490.5,50.98 488.5,50.65 486.5,50.34 484.5,50.09 482.5,49.4 480.5,48.99 478.5,48.39 476.5,47.91 474.5,48.01 472.5,47.59 470.5,46.93 468.5,46.33 466.5,46.18 464.5,46.2 462.5,45.75 460.5,45.17 458.5,45.16 456.5,44.66 454.5,44.21 452.5,43.42 450.5,43.12 448.5,42.8 446.5,42.22 444.5,41.67 442.5,40.46 440.5,40.2 438.5,39.99 436.5,38.97 434.5,38.87 432.5,38.22 430.5,37.52 428.5,37.08 426.5,36.33 424.5,35.78 422.5,35.22 420.5,35.03 418.5,34.77 416.5,33.83 414.5,33.8 412.5,33.44 410.5,33.24 408.5,33.07 406.5,32.85 404.5,32.98 402.5,32.78 400.5,32.27 398.5,32.47 396.5,32.88 394.5,32.26 392.5,32.77 390.5,32.45 388.5,32.4" fill="#777" fill-opacity="0.55"/>
<polyline points="41.5,36.5 42.5,36.17 43.5,36.41 44.5,36.87 45.5,37.57 46.5,37.32 47.5,37.19 48.5,36.88 49.5,36.59 50.5,36.29 51.5,36.41 52.5,35.78 53.5,35.09 54.5,34.24 55.5,33.19 56.5,32.44 57.5,31.88 58.5,31.87 59.5,31.28 60.5,30.02 61.5,30.23 62.5,29.51 63.5,29.9 64.5,30.56 65.5,30.76 66.5,31.04 67.5,31.04 68.5,31.53 69.5,32.14 70.5,32.34 71.5,31.43 72.5,31.23 73.5,31.06 74.5,30.78 75.5,30.72 76.5,30.73 77.5,31.34 78.5,31.92 79.5,32.85 80.5,32.85 81.5,34.2 82.5,34.63 83.5,35.62 84.5,36.05 85.5,36.42 86.5,36.88 87.5,37 88.5,37.29 89.5,38.07 90.5,38.25 91.5,38.63 92.5,38.93 93.5,40 94.5,40.58 95.5,40.33 96.5,39.48 97.5,38.64 98.5,37.67 99.5,37.27 100.5,37.62 101.5,37.1 102.5,37.75 103.5,38.58 104.5,39.39 105.5,40.23 106.5,41.05 107.5,41.84 108.5,43.01 109.5,43.3 110.5,43.17 111.5,43.23 112.5,43.56 113.5,43.46 114.5,43.49 115.5,43.96 116.5,43.88 117.5,44.17 118.5,44.41 119.5,44.52 120.5,44.11 121.5,44.84 122.5,44.67 123.5,44.45 124.5,43.83 125.5,44.69 126.5,45.05 127.5,44.68 128.5,44.1 129.5,43.99 130.5,44.5 131.5,45.49 132.5,45.85 133.5,45.89 134.5,46.02 135.5,46.4 136.5,47.47 137.5,48.27 138.5,48.27 139.5,48.5 140.5,49.23 141.5,49.73 142.5,50 143.5,50.3 144.5,50.77 145.5,51.94 146.5,52.53 147.5,53.45 148.5,52.99 149.5,53.04 150.5,52.8 151.5,53.03 152.5,54.25 153.5,53.83 154.5,53.74 155.5,53.32 156.5,53.89 157.5,54.09 158.5,54.77 159.5,55 160.5,56.07 161.5,56.54 162.5,56.83 163.5,56.67 164.5,56.8 165.5,57.3 166.5,57.12 167.5,57.74 168.5,58.49 169.5,58.88 170.5,59.5 171.5,59.97 172.5,59.92 173.5,60.39 174.5,60.79 175.5,61.44 176.5,61.74 177.5,62.48 178.5,62.93 179.5,63.64 180.5,63.55 181.5,64.01 182.5,64.13 183.5,64.84 184.5,65.27 185.5,65.74 186.5,66.1 187.5,66.07 188.5,66.94 189.5,67.06 190.5,67.28 191.5,68.01 192.5,67.9 193.5,68.51 194.5,68.96 195.5,69.32 196.5,69.28 197.5,69.27 198.5,69.49 199.5,69.69 200.5,70.14 201.5,70.99 202.5,72.56 203.5,72.11 204.5,72.11 205.5,72.42 206.5,72.66 207.5,72.83 208.5,73.49 209.5,74.52 210.5,74.85 211.5,74.67 212.5,74.88 213.5,75.03 214.5,75.11 215.5,75.6 216.5,75.83 217.5,76.43 218.5,76.71 219.5,77.01 220.5,77.65 221.5,78.41 222.5,78.9 223.5,79.2 224.5,79.31 225.5,79.42 226.5,80.46 227.5,81.52 228.5,82.02 229.5,82.33 230.5,83.64 231.5,84.07 232.5,84.66 233.5,85.43 234.5,86.2 235.5,87.33 236.5,87.49 237.5,88.01 238.5,88.79 239.5,89.85 240.5,90.32 241.5,90.53 242.5,91.79 243.5,91.93 244.5,92.83 245.5,93.44 246.5,94.35 247.5,94.24 248.5,94.62 249.5,95.92 250.5,96.23 251.5,96.45 252.5,96.75 253.5,96.85 254.5,98.13 255.5,98.41 256.5,99.08 257.5,99.03 258.5,99.67 259.5,100.24 260.5,100.2 261.5,100.59 262.5,101.21 263.5,101.41 264.5,101.91 265.5,102 266.5,102.35 267.5,102.52 268.5,102.66 269.5,103.42 270.5,104.15 271.5,104.89 272.5,105.02 273.5,105.81 274.5,106.02 275.5,106.66 276.5,107.05 277.5,107.36 278.5,108.22 279.5,108.84 280.5,109.08 281.5,109.56 282.5,110.14 283.5,110.53 284.5,111.26 285.5,111.75 286.5,112.28 287.5,113.19 288.5,113.99 289.5,114.14 290.5,114.15 291.5,114.92 292.5,115.78 293.5,116.32 294.5,117.67 295.5,118.69 296.5,119.3 297.5,120.51 298.5,120.99 299.5,122.22 300.5,122.69 301.5,123.63 302.5,124.12 303.5,124.61 304.5,125.66 305.5,126.74 306.5,127.91 307.5,129.26 308.5,130.1 309.5,130.37 310.5,130.99 311.5,131.49 312.5,132.84 313.5,133.94 314.5,135.05 315.5,135.43 316.5,136.94 317.5,137.62 318.5,138.61 319.5,139.68 320.5,140.05 321.5,140.84 322.5,141.87 323.5,142.9 324.5,143.95 325.5,145.68 326.5,147.12 327.5,148.5 328.5,150.21 329.5,151.83 330.5,152.4 331.5,153.76 332.5,155.77" fill="none" stroke="#111" stroke-width="1.3" stroke-dasharray="3.8,2.2" stroke-linejoin="round"/>
<polyline points="41.5,36.5 42.5,36.61 43.5,36.84 44.5,36.92 45.5,37.12 46.5,37.1 47.5,37.11 48.5,37.09 49.5,36.86 50.5,36.98 51.5,37.3 52.5,37.13 53.5,36.59 54.5,36.06 55.5,35.26 56.5,35.05 57.5,34.71 58.5,34.56 59.5,34.34 60.5,34.42 61.5,34.46 62.5,34.38 63.5,34.19 64.5,34.16 65.5,34.43 66.5,34.67 67.5,34.58 68.5,34.73 69.5,35.21 70.5,35.6 71.5,35.41 72.5,35.22 73.5,35.02 74.5,35.23 75.5,35.08 76.5,35.14 77.5,35.54 78.5,35.8 79.5,36.45 80.5,36.94 81.5,37.78 82.5,38.02 83.5,38.8 84.5,39.09 85.5,39.36 86.5,39.92 87.5,39.82 88.5,39.83 89.5,40.26 90.5,40.56 91.5,40.72 92.5,41 93.5,41.67 94.5,41.91 95.5,41.64 96.5,41.68 97.5,41.03 98.5,40.69 99.5,40.64 100.5,40.94 101.5,40.75 102.5,41.11 103.5,41.44 104.5,41.98 105.5,42.89 106.5,43.52 107.5,44.24 108.5,44.9 109.5,45.02 110.5,44.75 111.5,45.03 112.5,45.45 113.5,45.59 114.5,45.4 115.5,45.86 116.5,45.25 117.5,45.44 118.5,45.62 119.5,45.7 120.5,45.52 121.5,45.83 122.5,45.74 123.5,45.51 124.5,45.26 125.5,45.79 126.5,45.98 127.5,45.82 128.5,45.73 129.5,45.52 130.5,46.01 131.5,46.77 132.5,46.89 133.5,47.15 134.5,47.13 135.5,47.37 136.5,47.89 137.5,48.42 138.5,48.98 139.5,49.21 140.5,49.56 141.5,49.92 142.5,50.59 143.5,51.46 144.5,52.12 145.5,52.88 146.5,53.6 147.5,54.38 148.5,54 149.5,53.83 150.5,54.16 151.5,54.53 152.5,54.79 153.5,54.42 154.5,54.31 155.5,53.82 156.5,54.38 157.5,54.63 158.5,54.92 159.5,55.37 160.5,55.65 161.5,55.96 162.5,56.4 163.5,56.22 164.5,56.45 165.5,56.58 166.5,56.83 167.5,57.11 168.5,57.66 169.5,58.27 170.5,58.82 171.5,58.89 172.5,58.99 173.5,59.52 174.5,59.5 175.5,60 176.5,60.24 177.5,61.01 178.5,61.23 179.5,61.54 180.5,61.59 181.5,62.03 182.5,62.36 183.5,62.35 184.5,62.52 185.5,62.94 186.5,63.19 187.5,63.24 188.5,63.62 189.5,63.8 190.5,64.18 191.5,64.62 192.5,64.81 193.5,65.28 194.5,65.79 195.5,66.37 196.5,66.3 197.5,65.94 198.5,66.16 199.5,66.52 200.5,67.01 201.5,67.45 202.5,68.38 203.5,68.19 204.5,68.02 205.5,67.66 206.5,67.84 207.5,68.17 208.5,68.33 209.5,68.8 210.5,69.35 211.5,69.57 212.5,69.36 213.5,68.97 214.5,69 215.5,69.19 216.5,69.77 217.5,70.37 218.5,70.66 219.5,71.22 220.5,71.88 221.5,72.32 222.5,72.67 223.5,72.86 224.5,72.69 225.5,73.08 226.5,74.03 227.5,74.71 228.5,74.75 229.5,74.95 230.5,75.56 231.5,75.96 232.5,76.08 233.5,76.48 234.5,77.09 235.5,77.84 236.5,78.05 237.5,78.47 238.5,78.6 239.5,79.07 240.5,79.45 241.5,79.73 242.5,80.62 243.5,81.18 244.5,81.65 245.5,82.25 246.5,82.96 247.5,83.39 248.5,84.05 249.5,84.52 250.5,85.2 251.5,85.52 252.5,85.84 253.5,86 254.5,86.97 255.5,87.32 256.5,87.82 257.5,87.83 258.5,88.26 259.5,88.62 260.5,88.99 261.5,89.53 262.5,89.97 263.5,89.9 264.5,90.02 265.5,90.46 266.5,90.78 267.5,91.01 268.5,91.35 269.5,92.17 270.5,92.43 271.5,93.04 272.5,93.64 273.5,94.09 274.5,94.68 275.5,95.17 276.5,95 277.5,95.56 278.5,96.31 279.5,96.62 280.5,96.8 281.5,97.09 282.5,97.6 283.5,98.2 284.5,98.81 285.5,98.81 286.5,99.38 287.5,100.24 288.5,100.83 289.5,101.1 290.5,101.11 291.5,101.62 292.5,101.79 293.5,102.46 294.5,103.42 295.5,103.83 296.5,104.19 297.5,105.01 298.5,105.1 299.5,105.77 300.5,106.27 301.5,107.05 302.5,107.15 303.5,107.61 304.5,108.33 305.5,108.88 306.5,110.17 307.5,111.17 308.5,111.37 309.5,111.84 310.5,112.16 311.5,112.53 312.5,113.1 313.5,113.92 314.5,114.57 315.5,115.58 316.5,116.39 317.5,117.22 318.5,118 319.5,118.72 320.5,119.05 321.5,119.79 322.5,120.55 323.5,121.65 324.5,122.82 325.5,123.71 326.5,124.1 327.5,124.76 328.5,125.36 329.5,125.88 330.5,125.74 331.5,126.37 332.5,127.14" fill="none" stroke="#111" stroke-width="1.6" stroke-linejoin="round"/>
<polyline points="388.5,31.9 389.5,32.13 390.5,32.84 391.5,33.01 392.5,33.15 393.5,33.56 394.5,35.1 395.5,35.68 396.5,35.85 397.5,36.72 398.5,36.48 399.5,36.36 400.5,36.46 401.5,36 402.5,35.81 403.5,35.69 404.5,35.32 405.5,35.61 406.5,35.99 407.5,35.8 408.5,35.82 409.5,36.19 410.5,36.31 411.5,37.28 412.5,37.53 413.5,37.95 414.5,38.45 415.5,38.66 416.5,39.4 417.5,39.47 418.5,40.08 419.5,40.59 420.5,41.02 421.5,40.68 422.5,41.33 423.5,42.28 424.5,42.66 425.5,43.59 426.5,44.61 427.5,45.48 428.5,46.61 429.5,47.37 430.5,48.59 431.5,49.04 432.5,49.7 433.5,50.55 434.5,51.62 435.5,51.98 436.5,52.54 437.5,53.7 438.5,54.25 439.5,54.77 440.5,55.73 441.5,56.44 442.5,55.98 443.5,56.37 444.5,56.22 445.5,55.59 446.5,55.54 447.5,55.82 448.5,56.77 449.5,57.45 450.5,58.32 451.5,59.68 452.5,60.7 453.5,61.67 454.5,62.96 455.5,64.2 456.5,64.98 457.5,65.18 458.5,66.17 459.5,66.23 460.5,66.28 461.5,67.12 462.5,67.67 463.5,67.7 464.5,68.06 465.5,69.03 466.5,69.19 467.5,69.18 468.5,69.53 469.5,70.25 470.5,70.51 471.5,71.02 472.5,70.81 473.5,71.35 474.5,71.37 475.5,72.05 476.5,72.38 477.5,72.61 478.5,71.94 479.5,73.04 480.5,73.57 481.5,74.3 482.5,74.54 483.5,74.61 484.5,75.4 485.5,75.6 486.5,76.14 487.5,76.31 488.5,76.64 489.5,77.65 490.5,78.66 491.5,79.37 492.5,80.65 493.5,81.87 494.5,82.64 495.5,83.09 496.5,83.63 497.5,84.22 498.5,84.56 499.5,85.53 500.5,85.54 501.5,85.57 502.5,85.8 503.5,86.16 504.5,86.27 505.5,87.15 506.5,86.92 507.5,87.43 508.5,88.39 509.5,89.56 510.5,90.12 511.5,90.81 512.5,92.24 513.5,92.56 514.5,92.67 515.5,93.29 516.5,95.12 517.5,95.75 518.5,96.81 519.5,97.78 520.5,98.32 521.5,99.05 522.5,99.43 523.5,100.11 524.5,100.49 525.5,101.21 526.5,101.77 527.5,102.82 528.5,104.34 529.5,105.42 530.5,106.83 531.5,107.54 532.5,108.9 533.5,109.66 534.5,110.22 535.5,111.94 536.5,112.85 537.5,113.65 538.5,114.39 539.5,115.2 540.5,116.01 541.5,116.81 542.5,117.5 543.5,118.02 544.5,118.73 545.5,120.27 546.5,121.02 547.5,121.66 548.5,122.54 549.5,122.75 550.5,122.71 551.5,122.59 552.5,123.05 553.5,123.68 554.5,123.61 555.5,124.26 556.5,124.28 557.5,124.6 558.5,125.64 559.5,126.54 560.5,127.24 561.5,128.34 562.5,129 563.5,129.05 564.5,130.29 565.5,130.47 566.5,130.98 567.5,131.8 568.5,132.61 569.5,132.51 570.5,132.77 571.5,133.29 572.5,133.53 573.5,133.66 574.5,133.86 575.5,134.06 576.5,134.34 577.5,134.78 578.5,135.12 579.5,135.64 580.5,136.25 581.5,137.41 582.5,137.92 583.5,138.12 584.5,139.26 585.5,139.35 586.5,139.62 587.5,140.18 588.5,141.18 589.5,141.53 590.5,141.81 591.5,141.87 592.5,141.85 593.5,142.85 594.5,142.89 595.5,142.19 596.5,142.7 597.5,143.01 598.5,142.67 599.5,142.62 600.5,142.87 601.5,143.12 602.5,143.64 603.5,143.33 604.5,142.79 605.5,143.02 606.5,143.25 607.5,143.22 608.5,143 609.5,143.37 610.5,143.52 611.5,143.53 612.5,143.55 613.5,143.6 614.5,143.8 615.5,143.56 616.5,144.46 617.5,144.58 618.5,144.21 619.5,144.56 620.5,144.22 621.5,144.06 622.5,144.52 623.5,145.03 624.5,145.49 625.5,145.48 626.5,146.38 627.5,146.09 628.5,146.56 629.5,146.72 630.5,147.13 631.5,147.41 632.5,147.8 633.5,147.97 634.5,147.8 635.5,148.3 636.5,148.73 637.5,149.28 638.5,149.73 639.5,149.21 640.5,148.74 641.5,149.02 642.5,149.65 643.5,150.34 644.5,150.15 645.5,149.92 646.5,150.1 647.5,150.54 648.5,151 649.5,150.64 650.5,150.25 651.5,151.51 652.5,151 653.5,151.15 654.5,151.17 655.5,151.82 656.5,152.69 657.5,152.43 658.5,153.05 659.5,153.03 660.5,152.75 661.5,153.43 662.5,154 663.5,154.51 664.5,155.18 665.5,155.87 666.5,155.81 667.5,155.75 668.5,156.14 669.5,156.01 670.5,156.68 671.5,157.02 672.5,157.1 673.5,157.35 674.5,157.19 675.5,157.53 676.5,158 677.5,158.17 678.5,157.88" fill="none" stroke="#111" stroke-width="1.3" stroke-dasharray="3.8,2.2" stroke-linejoin="round"/>
<polyline points="388.5,31.9 389.5,31.88 390.5,31.9 391.5,32.35 392.5,32.16 393.5,31.72 394.5,31.59 395.5,31.94 396.5,32.16 397.5,32.12 398.5,31.7 399.5,31.4 400.5,31.44 401.5,31.45 402.5,31.9 403.5,32.09 404.5,32.04 405.5,31.92 406.5,31.86 407.5,31.73 408.5,32.02 409.5,32 410.5,32.13 411.5,32.42 412.5,32.27 413.5,32.45 414.5,32.58 415.5,32.34 416.5,32.56 417.5,33.2 418.5,33.45 419.5,33.68 420.5,33.65 421.5,33.7 422.5,33.78 423.5,34.11 424.5,34.29 425.5,34.59 426.5,34.78 427.5,35.02 428.5,35.47 429.5,35.41 430.5,35.86 431.5,36.05 432.5,36.51 433.5,36.71 434.5,37.1 435.5,36.93 436.5,37.14 437.5,37.75 438.5,38.11 439.5,38.32 440.5,38.26 441.5,37.96 442.5,38.47 443.5,38.74 444.5,39.62 445.5,40.18 446.5,40.11 447.5,40.27 448.5,40.64 449.5,41.09 450.5,40.91 451.5,40.89 452.5,41.19 453.5,41.64 454.5,41.96 455.5,42.2 456.5,42.38 457.5,42.81 458.5,42.87 459.5,42.87 460.5,42.86 461.5,42.92 462.5,43.41 463.5,43.83 464.5,43.84 465.5,44.16 466.5,43.8 467.5,43.83 468.5,43.93 469.5,44.25 470.5,44.51 471.5,44.66 472.5,45.14 473.5,45.46 474.5,45.53 475.5,45.44 476.5,45.42 477.5,45.61 478.5,45.87 479.5,46.23 480.5,46.45 481.5,46.78 482.5,46.83 483.5,47.34 484.5,47.51 485.5,47.81 486.5,47.73 487.5,47.71 488.5,48.02 489.5,48.22 490.5,48.33 491.5,48.85 492.5,49.66 493.5,50.12 494.5,49.94 495.5,49.81 496.5,50.1 497.5,50.19 498.5,50.6 499.5,50.5 500.5,50.47 501.5,50.67 502.5,51.04 503.5,51.45 504.5,51.64 505.5,51.74 506.5,52.13 507.5,52.24 508.5,52.53 509.5,52.83 510.5,53.25 511.5,53.54 512.5,53.88 513.5,53.73 514.5,53.78 515.5,54.26 516.5,54.51 517.5,54.84 518.5,55.26 519.5,55.55 520.5,55.65 521.5,55.6 522.5,56.18 523.5,56.38 524.5,56.52 525.5,56.78 526.5,56.94 527.5,57.25 528.5,57.77 529.5,58.09 530.5,58.49 531.5,58.88 532.5,58.76 533.5,58.84 534.5,59.26 535.5,59.83 536.5,60.17 537.5,60.06 538.5,60.22 539.5,60.9 540.5,61.08 541.5,61.38 542.5,61.44 543.5,61.86 544.5,62.22 545.5,62.71 546.5,63.52 547.5,63.62 548.5,63.71 549.5,63.59 550.5,63.61 551.5,63.72 552.5,63.8 553.5,64.38 554.5,64.32 555.5,64.8 556.5,64.75 557.5,65.02 558.5,65.23 559.5,65.82 560.5,66.21 561.5,66.34 562.5,66.64 563.5,67.33 564.5,67.54 565.5,67.64 566.5,68.08 567.5,68.48 568.5,69.34 569.5,69.5 570.5,70.2 571.5,70.67 572.5,70.51 573.5,70.64 574.5,71 575.5,71.52 576.5,71.84 577.5,72.4 578.5,72.76 579.5,72.83 580.5,73.7 581.5,74.08 582.5,74.51 583.5,74.19 584.5,74.56 585.5,74.98 586.5,75.35 587.5,75.98 588.5,76.14 589.5,76.56 590.5,77.1 591.5,77.23 592.5,77.71 593.5,78.07 594.5,77.88 595.5,78.19 596.5,78.76 597.5,79.22 598.5,79.73 599.5,79.69 600.5,79.88 601.5,80.39 602.5,80.91 603.5,81.32 604.5,81.66 605.5,82.15 606.5,82.32 607.5,82.46 608.5,82.51 609.5,82.79 610.5,83.28 611.5,83.95 612.5,84.25 613.5,84.58 614.5,85.01 615.5,85.73 616.5,85.56 617.5,86.11 618.5,86.4 619.5,86.82 620.5,87.05 621.5,87.33 622.5,87.79 623.5,88.16 624.5,88.5 625.5,88.78 626.5,88.85 627.5,89.14 628.5,89.28 629.5,89.67 630.5,90.69 631.5,91.36 632.5,91.74 633.5,91.5 634.5,91.7 635.5,92.33 636.5,92.89 637.5,93.04 638.5,93.31 639.5,93.96 640.5,94.52 641.5,94.98 642.5,95.6 643.5,95.94 644.5,96.03 645.5,96.52 646.5,96.87 647.5,97.64 648.5,98.38 649.5,98.96 650.5,99.28 651.5,99.41 652.5,99.6 653.5,100.02 654.5,100.47 655.5,101.2 656.5,101.46 657.5,102.13 658.5,102.64 659.5,103.28 660.5,103.83 661.5,104.19 662.5,104.62 663.5,105.27 664.5,105.79 665.5,106.17 666.5,106.48 667.5,107.03 668.5,107.27 669.5,107.51 670.5,107.99 671.5,108.6 672.5,109.43 673.5,109.89 674.5,109.9 675.5,110.29 676.5,111.15 677.5,111.51 678.5,111.86" fill="none" stroke="#111" stroke-width="1.6" stroke-linejoin="round"/>
<line x1="250.8" y1="90.8" x2="257.8" y2="90.8" stroke="#222" stroke-width="1"/>
<line x1="254.3" y1="87.3" x2="254.3" y2="94.3" stroke="#222" stroke-width="1"/>
<line x1="321.5" y1="125.5" x2="328.5" y2="125.5" stroke="#222" stroke-width="1"/>
<line x1="325" y1="122" x2="325" y2="129" stroke="#222" stroke-width="1"/>
<line x1="597.1" y1="80.2" x2="604.1" y2="80.2" stroke="#222" stroke-width="1"/>
<line x1="600.6" y1="76.7" x2="600.6" y2="83.7" stroke="#222" stroke-width="1"/>
<line x1="667.1" y1="114.6" x2="674.1" y2="114.6" stroke="#222" stroke-width="1"/>
<line x1="670.6" y1="111.1" x2="670.6" y2="118.1" stroke="#222" stroke-width="1"/>
</g>
<polygon points="133.5,202 134.5,202.13 135.5,202.26 136.5,202.39 137.5,202.52 138.5,202.65 139.5,202.78 140.5,202.91 141.5,203.04 142.5,203.17 143.5,203.31 144.5,203.44 145.5,203.58 146.5,203.72 147.5,203.86 148.5,204 149.5,204.14 150.5,204.28 151.5,204.42 152.5,204.57 153.5,204.72 154.5,204.86 155.5,205.01 156.5,205.16 157.5,205.32 158.5,205.47 159.5,205.62 160.5,205.78 161.5,205.94 162.5,206.09 163.5,206.25 164.5,206.42 165.5,206.58 166.5,206.74 167.5,206.91 168.5,207.07 169.5,207.24 170.5,207.41 171.5,207.58 172.5,207.75 173.5,207.92 174.5,208.1 175.5,208.27 176.5,208.45 177.5,208.63 178.5,208.81 179.5,208.99 180.5,209.17 181.5,209.35 182.5,209.54 183.5,209.72 184.5,209.91 185.5,210.1 186.5,210.29 187.5,210.48 188.5,210.67 189.5,210.86 190.5,211.05 191.5,211.25 192.5,211.45 193.5,211.64 194.5,211.84 195.5,212.04 196.5,212.24 197.5,212.44 198.5,212.65 199.5,212.85 200.5,213.05 201.5,213.26 202.5,213.47 203.5,213.68 204.5,213.89 205.5,214.1 206.5,214.31 207.5,214.52 208.5,214.73 209.5,214.95 210.5,215.16 211.5,215.38 212.5,215.6 213.5,215.82 214.5,216.04 215.5,216.26 216.5,216.48 217.5,216.7 218.5,216.92 219.5,217.15 220.5,217.37 221.5,217.6 222.5,217.83 223.5,218.05 224.5,218.28 225.5,218.51 226.5,218.74 227.5,218.97 228.5,219.21 229.5,219.44 230.5,219.67 231.5,219.91 232.5,220.14 233.5,220.38 234.5,220.62 235.5,220.86 236.5,221.1 237.5,221.34 238.5,221.58 239.5,221.82 240.5,222.06 241.5,222.3 242.5,222.55 243.5,222.79 244.5,223.04 245.5,223.28 246.5,223.53 247.5,223.78 248.5,224.02 249.5,224.27 250.5,224.52 251.5,224.77 252.5,225.02 253.5,225.28 254.5,225.53 255.5,225.78 256.5,226.03 257.5,226.29 258.5,226.54 259.5,226.8 260.5,227.05 261.5,227.31 262.5,227.57 263.5,227.83 264.5,228.09 265.5,228.34 266.5,228.6 267.5,228.86 268.5,229.13 269.5,229.39 270.5,229.65 271.5,229.91 272.5,230.17 273.5,230.44 274.5,230.7 275.5,230.97 276.5,231.23 277.5,231.5 278.5,231.76 279.5,232.03 280.5,232.3 281.5,232.56 282.5,232.83 283.5,233.1 284.5,233.37 285.5,233.64 286.5,233.91 287.5,234.18 288.4,234.42 288.4,252.05 287.5,251.58 286.5,251.06 285.5,250.54 284.5,250.03 283.5,249.52 282.5,249.01 281.5,248.51 280.5,248.01 279.5,247.51 278.5,247.01 277.5,246.52 276.5,246.04 275.5,245.55 274.5,245.07 273.5,244.59 272.5,244.12 271.5,243.65 270.5,243.18 269.5,242.71 268.5,242.25 267.5,241.79 266.5,241.34 265.5,240.89 264.5,240.44 263.5,239.99 262.5,239.55 261.5,239.11 260.5,238.67 259.5,238.23 258.5,237.8 257.5,237.37 256.5,236.95 255.5,236.53 254.5,236.11 253.5,235.69 252.5,235.28 251.5,234.86 250.5,234.46 249.5,234.05 248.5,233.65 247.5,233.25 246.5,232.85 245.5,232.45 244.5,232.06 243.5,231.67 242.5,231.29 241.5,230.9 240.5,230.52 239.5,230.14 238.5,229.77 237.5,229.39 236.5,229.02 235.5,228.66 234.5,228.29 233.5,227.93 232.5,227.57 231.5,227.21 230.5,226.85 229.5,226.5 228.5,226.15 227.5,225.8 226.5,225.46 225.5,225.11 224.5,224.77 223.5,224.43 222.5,224.1 221.5,223.76 220.5,223.43 219.5,223.1 218.5,222.77 217.5,222.45 216.5,222.13 215.5,221.81 214.5,221.49 213.5,221.17 212.5,220.86 211.5,220.55 210.5,220.24 209.5,219.93 208.5,219.63 207.5,219.32 206.5,219.02 205.5,218.72 204.5,218.42 203.5,218.13 202.5,217.84 201.5,217.55 200.5,217.26 199.5,216.97 198.5,216.69 197.5,216.4 196.5,216.12 195.5,215.84 194.5,215.56 193.5,215.29 192.5,215.02 191.5,214.74 190.5,214.47 189.5,214.21 188.5,213.94 187.5,213.67 186.5,213.41 185.5,213.15 184.5,212.89 183.5,212.63 182.5,212.38 181.5,212.12 180.5,211.87 179.5,211.62 178.5,211.37 177.5,211.12 176.5,210.87 175.5,210.63 174.5,210.39 173.5,210.14 172.5,209.9 171.5,209.67 170.5,209.43 169.5,209.19 168.5,208.96 167.5,208.73 166.5,208.5 165.5,208.27 164.5,208.04 163.5,207.81 162.5,207.59 161.5,207.36 160.5,207.14 159.5,206.92 158.5,206.7 157.5,206.49 156.5,206.27 155.5,206.06 154.5,205.84 153.5,205.63 152.5,205.43 151.5,205.22 150.5,205.01 149.5,204.81 148.5,204.61 147.5,204.41 146.5,204.22 145.5,204.02 144.5,203.83 143.5,203.64 142.5,203.46 141.5,203.28 140.5,203.1 139.5,202.93 138.5,202.76 137.5,202.59 136.5,202.44 135.5,202.28 134.5,202.14 133.5,202" fill="#cae4e5"/>
<polygon points="133.5,202 134.5,202.14 135.5,202.28 136.5,202.44 137.5,202.59 138.5,202.76 139.5,202.93 140.5,203.1 141.5,203.28 142.5,203.46 143.5,203.64 144.5,203.83 145.5,204.02 146.5,204.22 147.5,204.41 148.5,204.61 149.5,204.81 150.5,205.01 151.5,205.22 152.5,205.43 153.5,205.63 154.5,205.84 155.5,206.06 156.5,206.27 157.5,206.49 158.5,206.7 159.5,206.92 160.5,207.14 161.5,207.36 162.5,207.59 163.5,207.81 164.5,208.04 165.5,208.27 166.5,208.5 167.5,208.73 168.5,208.96 169.5,209.19 170.5,209.43 171.5,209.67 172.5,209.9 173.5,210.14 174.5,210.39 175.5,210.63 176.5,210.87 177.5,211.12 178.5,211.37 179.5,211.62 180.5,211.87 181.5,212.12 182.5,212.38 183.5,212.63 184.5,212.89 185.5,213.15 186.5,213.41 187.5,213.67 188.5,213.94 189.5,214.21 190.5,214.47 191.5,214.74 192.5,215.02 193.5,215.29 194.5,215.56 195.5,215.84 196.5,216.12 197.5,216.4 198.5,216.69 199.5,216.97 200.5,217.26 201.5,217.55 202.5,217.84 203.5,218.13 204.5,218.42 205.5,218.72 206.5,219.02 207.5,219.32 208.5,219.63 209.5,219.93 210.5,220.24 211.5,220.55 212.5,220.86 213.5,221.17 214.5,221.49 215.5,221.81 216.5,222.13 217.5,222.45 218.5,222.77 219.5,223.1 220.5,223.43 221.5,223.76 222.5,224.1 223.5,224.43 224.5,224.77 225.5,225.11 226.5,225.46 227.5,225.8 228.5,226.15 229.5,226.5 230.5,226.85 231.5,227.21 232.5,227.57 233.5,227.93 234.5,228.29 235.5,228.66 236.5,229.02 237.5,229.39 238.5,229.77 239.5,230.14 240.5,230.52 241.5,230.9 242.5,231.29 243.5,231.67 244.5,232.06 245.5,232.45 246.5,232.85 247.5,233.25 248.5,233.65 249.5,234.05 250.5,234.46 251.5,234.86 252.5,235.28 253.5,235.69 254.5,236.11 255.5,236.53 256.5,236.95 257.5,237.37 258.5,237.8 259.5,238.23 260.5,238.67 261.5,239.11 262.5,239.55 263.5,239.99 264.5,240.44 265.5,240.89 266.5,241.34 267.5,241.79 268.5,242.25 269.5,242.71 270.5,243.18 271.5,243.65 272.5,244.12 273.5,244.59 274.5,245.07 275.5,245.55 276.5,246.04 277.5,246.52 278.5,247.01 279.5,247.51 280.5,248.01 281.5,248.51 282.5,249.01 283.5,249.52 284.5,250.03 285.5,250.54 286.5,251.06 287.5,251.58 288.4,252.05 288.4,265.76 287.5,265.56 286.5,265.34 285.5,265.1 284.5,264.85 283.5,264.59 282.5,264.32 281.5,264.05 280.5,263.76 279.5,263.47 278.5,263.16 277.5,262.85 276.5,262.53 275.5,262.2 274.5,261.86 273.5,261.52 272.5,261.17 271.5,260.81 270.5,260.44 269.5,260.06 268.5,259.68 267.5,259.29 266.5,258.89 265.5,258.49 264.5,258.08 263.5,257.66 262.5,257.24 261.5,256.81 260.5,256.37 259.5,255.93 258.5,255.48 257.5,255.03 256.5,254.57 255.5,254.11 254.5,253.64 253.5,253.16 252.5,252.69 251.5,252.2 250.5,251.71 249.5,251.22 248.5,250.72 247.5,250.22 246.5,249.71 245.5,249.2 244.5,248.69 243.5,248.17 242.5,247.65 241.5,247.13 240.5,246.6 239.5,246.07 238.5,245.54 237.5,245.01 236.5,244.47 235.5,243.93 234.5,243.39 233.5,242.84 232.5,242.29 231.5,241.75 230.5,241.2 229.5,240.64 228.5,240.09 227.5,239.54 226.5,238.98 225.5,238.42 224.5,237.87 223.5,237.31 222.5,236.75 221.5,236.19 220.5,235.63 219.5,235.08 218.5,234.52 217.5,233.96 216.5,233.4 215.5,232.84 214.5,232.29 213.5,231.73 212.5,231.18 211.5,230.62 210.5,230.07 209.5,229.52 208.5,228.97 207.5,228.42 206.5,227.88 205.5,227.33 204.5,226.79 203.5,226.25 202.5,225.71 201.5,225.18 200.5,224.65 199.5,224.12 198.5,223.59 197.5,223.07 196.5,222.55 195.5,222.04 194.5,221.52 193.5,221.02 192.5,220.51 191.5,220.01 190.5,219.52 189.5,219.02 188.5,218.54 187.5,218.06 186.5,217.58 185.5,217.11 184.5,216.64 183.5,216.18 182.5,215.72 181.5,215.27 180.5,214.82 179.5,214.38 178.5,213.95 177.5,213.52 176.5,213.1 175.5,212.68 174.5,212.28 173.5,211.87 172.5,211.48 171.5,211.09 170.5,210.71 169.5,210.34 168.5,209.97 167.5,209.61 166.5,209.26 165.5,208.91 164.5,208.58 163.5,208.25 162.5,207.93 161.5,207.62 160.5,207.31 159.5,207.02 158.5,206.73 157.5,206.45 156.5,206.18 155.5,205.92 154.5,205.66 153.5,205.42 152.5,205.18 151.5,204.95 150.5,204.73 149.5,204.52 148.5,204.32 147.5,204.12 146.5,203.93 145.5,203.75 144.5,203.58 143.5,203.42 142.5,203.26 141.5,203.1 140.5,202.96 139.5,202.81 138.5,202.67 137.5,202.54 136.5,202.4 135.5,202.27 134.5,202.14 133.5,202" fill="#c8c0c2"/>
<polygon points="133.5,202 134.5,202.14 135.5,202.27 136.5,202.4 137.5,202.54 138.5,202.67 139.5,202.81 140.5,202.96 141.5,203.1 142.5,203.26 143.5,203.42 144.5,203.58 145.5,203.75 146.5,203.93 147.5,204.12 148.5,204.32 149.5,204.52 150.5,204.73 151.5,204.95 152.5,205.18 153.5,205.42 154.5,205.66 155.5,205.92 156.5,206.18 157.5,206.45 158.5,206.73 159.5,207.02 160.5,207.31 161.5,207.62 162.5,207.93 163.5,208.25 164.5,208.58 165.5,208.91 166.5,209.26 167.5,209.61 168.5,209.97 169.5,210.34 170.5,210.71 171.5,211.09 172.5,211.48 173.5,211.87 174.5,212.28 175.5,212.68 176.5,213.1 177.5,213.52 178.5,213.95 179.5,214.38 180.5,214.82 181.5,215.27 182.5,215.72 183.5,216.18 184.5,216.64 185.5,217.11 186.5,217.58 187.5,218.06 188.5,218.54 189.5,219.02 190.5,219.52 191.5,220.01 192.5,220.51 193.5,221.02 194.5,221.52 195.5,222.04 196.5,222.55 197.5,223.07 198.5,223.59 199.5,224.12 200.5,224.65 201.5,225.18 202.5,225.71 203.5,226.25 204.5,226.79 205.5,227.33 206.5,227.88 207.5,228.42 208.5,228.97 209.5,229.52 210.5,230.07 211.5,230.62 212.5,231.18 213.5,231.73 214.5,232.29 215.5,232.84 216.5,233.4 217.5,233.96 218.5,234.52 219.5,235.08 220.5,235.63 221.5,236.19 222.5,236.75 223.5,237.31 224.5,237.87 225.5,238.42 226.5,238.98 227.5,239.54 228.5,240.09 229.5,240.64 230.5,241.2 231.5,241.75 232.5,242.29 233.5,242.84 234.5,243.39 235.5,243.93 236.5,244.47 237.5,245.01 238.5,245.54 239.5,246.07 240.5,246.6 241.5,247.13 242.5,247.65 243.5,248.17 244.5,248.69 245.5,249.2 246.5,249.71 247.5,250.22 248.5,250.72 249.5,251.22 250.5,251.71 251.5,252.2 252.5,252.69 253.5,253.16 254.5,253.64 255.5,254.11 256.5,254.57 257.5,255.03 258.5,255.48 259.5,255.93 260.5,256.37 261.5,256.81 262.5,257.24 263.5,257.66 264.5,258.08 265.5,258.49 266.5,258.89 267.5,259.29 268.5,259.68 269.5,260.06 270.5,260.44 271.5,260.81 272.5,261.17 273.5,261.52 274.5,261.86 275.5,262.2 276.5,262.53 277.5,262.85 278.5,263.16 279.5,263.47 280.5,263.76 281.5,264.05 282.5,264.32 283.5,264.59 284.5,264.85 285.5,265.1 286.5,265.34 287.5,265.56 288.4,265.76 288.4,296.77 287.5,296.04 286.5,295.22 285.5,294.41 284.5,293.6 283.5,292.78 282.5,291.96 281.5,291.14 280.5,290.32 279.5,289.51 278.5,288.68 277.5,287.86 276.5,287.04 275.5,286.22 274.5,285.39 273.5,284.57 272.5,283.75 271.5,282.92 270.5,282.1 269.5,281.28 268.5,280.45 267.5,279.63 266.5,278.8 265.5,277.98 264.5,277.16 263.5,276.33 262.5,275.51 261.5,274.69 260.5,273.87 259.5,273.05 258.5,272.23 257.5,271.41 256.5,270.59 255.5,269.77 254.5,268.96 253.5,268.14 252.5,267.33 251.5,266.52 250.5,265.71 249.5,264.9 248.5,264.09 247.5,263.29 246.5,262.48 245.5,261.68 244.5,260.88 243.5,260.08 242.5,259.29 241.5,258.49 240.5,257.7 239.5,256.91 238.5,256.13 237.5,255.34 236.5,254.56 235.5,253.78 234.5,253 233.5,252.23 232.5,251.46 231.5,250.69 230.5,249.93 229.5,249.17 228.5,248.41 227.5,247.65 226.5,246.9 225.5,246.15 224.5,245.41 223.5,244.67 222.5,243.93 221.5,243.2 220.5,242.47 219.5,241.74 218.5,241.02 217.5,240.3 216.5,239.59 215.5,238.88 214.5,238.17 213.5,237.47 212.5,236.78 211.5,236.09 210.5,235.4 209.5,234.72 208.5,234.04 207.5,233.37 206.5,232.7 205.5,232.04 204.5,231.38 203.5,230.73 202.5,230.08 201.5,229.44 200.5,228.8 199.5,228.17 198.5,227.55 197.5,226.93 196.5,226.31 195.5,225.71 194.5,225.1 193.5,224.51 192.5,223.92 191.5,223.34 190.5,222.76 189.5,222.19 188.5,221.62 187.5,221.06 186.5,220.51 185.5,219.97 184.5,219.43 183.5,218.9 182.5,218.37 181.5,217.85 180.5,217.34 179.5,216.84 178.5,216.34 177.5,215.85 176.5,215.37 175.5,214.9 174.5,214.43 173.5,213.97 172.5,213.52 171.5,213.07 170.5,212.64 169.5,212.21 168.5,211.79 167.5,211.37 166.5,210.97 165.5,210.57 164.5,210.18 163.5,209.8 162.5,209.43 161.5,209.07 160.5,208.71 159.5,208.36 158.5,208.02 157.5,207.69 156.5,207.37 155.5,207.05 154.5,206.75 153.5,206.45 152.5,206.16 151.5,205.88 150.5,205.61 149.5,205.34 148.5,205.09 147.5,204.84 146.5,204.59 145.5,204.36 144.5,204.13 143.5,203.91 142.5,203.7 141.5,203.5 140.5,203.29 139.5,203.1 138.5,202.91 137.5,202.72 136.5,202.54 135.5,202.36 134.5,202.18 133.5,202" fill="#eed1d4"/>
<polyline points="40.6,194.3 41.6,194.11 42.6,193.95 43.6,193.81 44.6,193.72 45.6,193.68 46.6,193.64 47.6,193.62 48.6,193.6 49.6,193.6 50.6,193.62 51.6,193.67 52.6,193.74 53.6,193.83 54.6,193.92 55.6,194.02 56.6,194.12 57.6,194.21 58.6,194.29 59.6,194.37 60.6,194.44 61.6,194.51 62.6,194.58 63.6,194.65 64.6,194.72 65.6,194.79 66.6,194.86 67.6,194.93 68.6,195.01 69.6,195.08 70.6,195.15 71.6,195.23 72.6,195.31 73.6,195.39 74.6,195.47 75.6,195.55 76.6,195.64 77.6,195.73 78.6,195.82 79.6,195.91 80.6,196.01 81.6,196.1 82.6,196.2 83.6,196.3 84.6,196.4 85.6,196.5 86.6,196.61 87.6,196.71 88.6,196.81 89.6,196.92 90.6,197.02 91.6,197.12 92.6,197.23 93.6,197.33 94.6,197.43 95.6,197.53 96.6,197.63 97.6,197.72 98.6,197.82 99.6,197.91 100.6,198 101.6,198.09 102.6,198.17 103.6,198.26 104.6,198.34 105.6,198.43 106.6,198.51 107.6,198.59 108.6,198.68 109.6,198.77 110.6,198.85 111.6,198.95 112.6,199.04 113.6,199.14 114.6,199.24 115.6,199.34 116.6,199.45 117.6,199.57 118.6,199.69 119.6,199.83 120.6,199.97 121.6,200.11 122.6,200.26 123.6,200.42 124.6,200.57 125.6,200.73 126.6,200.89 127.6,201.06 128.6,201.22 129.6,201.38 130.6,201.54 131.6,201.69 132.6,201.86 133.6,202.02 134.6,202.17 135.6,202.33 136.6,202.49 137.6,202.64 138.6,202.8 139.6,202.95 140.6,203.11 141.6,203.26 142.6,203.42 143.6,203.58 144.6,203.73 145.6,203.89 146.6,204.05 147.6,204.21 148.6,204.37 149.6,204.53 150.6,204.7 151.6,204.86 152.6,205.03 153.6,205.2 154.6,205.36 155.6,205.53 156.6,205.7 157.6,205.87 158.6,206.04 159.6,206.21 160.6,206.39 161.6,206.57 162.6,206.75 163.6,206.93 164.6,207.12 165.6,207.31 166.6,207.51 167.6,207.71 168.6,207.91 169.6,208.12 170,208.2" fill="none" stroke="#111" stroke-width="0.9" stroke-linejoin="round"/>
<polyline points="133.5,202 134.5,202.16 135.5,202.32 136.5,202.49 137.5,202.66 138.5,202.84 139.5,203.03 140.5,203.22 141.5,203.42 142.5,203.62 143.5,203.84 144.5,204.06 145.5,204.29 146.5,204.53 147.5,204.77 148.5,205.03 149.5,205.29 150.5,205.56 151.5,205.84 152.5,206.13 153.5,206.42 154.5,206.72 155.5,207.04 156.5,207.35 157.5,207.68 158.5,208.01 159.5,208.35 160.5,208.7 161.5,209.06 162.5,209.42 163.5,209.79 164.5,210.17 165.5,210.55 166.5,210.94 167.5,211.34 168.5,211.74 169.5,212.15 170.5,212.57 171.5,212.99 172.5,213.41 173.5,213.85 174.5,214.28 175.5,214.73 176.5,215.18 177.5,215.63 178.5,216.09 179.5,216.55 180.5,217.02 181.5,217.49 182.5,217.96 183.5,218.44 184.5,218.92 185.5,219.41 186.5,219.9 187.5,220.4 188.5,220.89 189.5,221.39 190.5,221.9 191.5,222.4 192.5,222.91 193.5,223.42 194.5,223.93 195.5,224.45 196.5,224.97 197.5,225.48 198.5,226 199.5,226.53 200.5,227.05 201.5,227.57 202.5,228.1 203.5,228.62 204.5,229.15 205.5,229.68 206.5,230.2 207.5,230.73 208.5,231.26 209.5,231.79 210.5,232.31 211.5,232.84 212.5,233.37 213.5,233.89 214.5,234.42 215.5,234.94 216.5,235.46 217.5,235.98 218.5,236.5 219.5,237.02 220.5,237.53 221.5,238.04 222.5,238.55 223.5,239.06 224.5,239.57 225.5,240.07 226.5,240.57 227.5,241.07 228.5,241.56 229.5,242.05 230.5,242.54 231.5,243.02 232.5,243.5 233.5,243.98 234.5,244.45 235.5,244.92 236.5,245.38 237.5,245.84 238.5,246.29 239.5,246.74 240.5,247.18 241.5,247.62 242.5,248.05 243.5,248.47 244.5,248.89 245.5,249.31 246.5,249.72 247.5,250.12 248.5,250.51 249.5,250.9 250.5,251.29 251.5,251.66 252.5,252.03 253.5,252.39 254.5,252.75 255.5,253.09 256.5,253.43 257.5,253.76 258.5,254.08 259.5,254.4 260.5,254.7 261.5,255 262.5,255.29 263.5,255.57 264.5,255.84 265.5,256.1 266.5,256.35 267.5,256.6 268.5,256.83 269.5,257.05 270.5,257.27 271.5,257.47 272.5,257.66 273.5,257.85 274.5,258.02 275.5,258.18 276.5,258.33 277.5,258.47 278.5,258.6 279.5,258.72 280.5,258.82 281.5,258.91 282.5,259 283.5,259.06 284.5,259.12 285.5,259.17 286.5,259.2 287.5,259.22 288.4,259.22" fill="none" stroke="#108080" stroke-width="1.3" stroke-dasharray="3.2,2" stroke-linejoin="round" stroke-dashoffset="0.0"/>
<polyline points="133.5,202 134.5,202.18 135.5,202.37 136.5,202.56 137.5,202.76 138.5,202.96 139.5,203.17 140.5,203.38 141.5,203.59 142.5,203.82 143.5,204.05 144.5,204.28 145.5,204.52 146.5,204.77 147.5,205.02 148.5,205.28 149.5,205.55 150.5,205.83 151.5,206.11 152.5,206.39 153.5,206.69 154.5,206.99 155.5,207.3 156.5,207.61 157.5,207.93 158.5,208.26 159.5,208.59 160.5,208.93 161.5,209.27 162.5,209.63 163.5,209.98 164.5,210.35 165.5,210.72 166.5,211.09 167.5,211.47 168.5,211.86 169.5,212.26 170.5,212.65 171.5,213.06 172.5,213.47 173.5,213.88 174.5,214.3 175.5,214.73 176.5,215.16 177.5,215.59 178.5,216.03 179.5,216.48 180.5,216.93 181.5,217.38 182.5,217.84 183.5,218.3 184.5,218.77 185.5,219.24 186.5,219.71 187.5,220.19 188.5,220.68 189.5,221.16 190.5,221.65 191.5,222.15 192.5,222.65 193.5,223.15 194.5,223.65 195.5,224.16 196.5,224.67 197.5,225.19 198.5,225.7 199.5,226.22 200.5,226.75 201.5,227.27 202.5,227.8 203.5,228.33 204.5,228.87 205.5,229.4 206.5,229.94 207.5,230.48 208.5,231.02 209.5,231.56 210.5,232.11 211.5,232.66 212.5,233.21 213.5,233.76 214.5,234.31 215.5,234.86 216.5,235.42 217.5,235.97 218.5,236.53 219.5,237.09 220.5,237.65 221.5,238.21 222.5,238.77 223.5,239.33 224.5,239.89 225.5,240.45 226.5,241.01 227.5,241.58 228.5,242.14 229.5,242.7 230.5,243.26 231.5,243.83 232.5,244.39 233.5,244.95 234.5,245.51 235.5,246.07 236.5,246.63 237.5,247.19 238.5,247.75 239.5,248.31 240.5,248.87 241.5,249.42 242.5,249.98 243.5,250.53 244.5,251.08 245.5,251.63 246.5,252.18 247.5,252.73 248.5,253.28 249.5,253.82 250.5,254.36 251.5,254.9 252.5,255.44 253.5,255.97 254.5,256.51 255.5,257.04 256.5,257.57 257.5,258.09 258.5,258.61 259.5,259.13 260.5,259.65 261.5,260.17 262.5,260.68 263.5,261.19 264.5,261.69 265.5,262.19 266.5,262.69 267.5,263.18 268.5,263.67 269.5,264.16 270.5,264.64 271.5,265.12 272.5,265.6 273.5,266.07 274.5,266.54 275.5,267 276.5,267.46 277.5,267.91 278.5,268.36 279.5,268.8 280.5,269.24 281.5,269.68 282.5,270.11 283.5,270.53 284.5,270.95 285.5,271.37 286.5,271.77 287.5,272.18 288.4,272.54" fill="none" stroke="#ffd700" stroke-width="1.3" stroke-dasharray="3.2,2" stroke-linejoin="round" stroke-dashoffset="1.3"/>
<polyline points="133.5,202 134.5,202.17 135.5,202.34 136.5,202.52 137.5,202.7 138.5,202.88 139.5,203.07 140.5,203.27 141.5,203.47 142.5,203.68 143.5,203.89 144.5,204.12 145.5,204.35 146.5,204.58 147.5,204.83 148.5,205.08 149.5,205.34 150.5,205.6 151.5,205.88 152.5,206.16 153.5,206.45 154.5,206.75 155.5,207.05 156.5,207.36 157.5,207.68 158.5,208.01 159.5,208.35 160.5,208.69 161.5,209.04 162.5,209.4 163.5,209.76 164.5,210.13 165.5,210.51 166.5,210.9 167.5,211.29 168.5,211.69 169.5,212.1 170.5,212.51 171.5,212.93 172.5,213.36 173.5,213.79 174.5,214.23 175.5,214.68 176.5,215.13 177.5,215.59 178.5,216.05 179.5,216.52 180.5,217 181.5,217.48 182.5,217.97 183.5,218.46 184.5,218.96 185.5,219.46 186.5,219.97 187.5,220.49 188.5,221.01 189.5,221.53 190.5,222.06 191.5,222.59 192.5,223.13 193.5,223.68 194.5,224.22 195.5,224.78 196.5,225.33 197.5,225.89 198.5,226.46 199.5,227.03 200.5,227.6 201.5,228.18 202.5,228.76 203.5,229.34 204.5,229.93 205.5,230.52 206.5,231.12 207.5,231.71 208.5,232.31 209.5,232.92 210.5,233.53 211.5,234.14 212.5,234.75 213.5,235.36 214.5,235.98 215.5,236.6 216.5,237.23 217.5,237.85 218.5,238.48 219.5,239.11 220.5,239.74 221.5,240.37 222.5,241.01 223.5,241.65 224.5,242.29 225.5,242.93 226.5,243.57 227.5,244.21 228.5,244.86 229.5,245.5 230.5,246.15 231.5,246.8 232.5,247.44 233.5,248.09 234.5,248.74 235.5,249.39 236.5,250.04 237.5,250.7 238.5,251.35 239.5,252 240.5,252.65 241.5,253.3 242.5,253.95 243.5,254.61 244.5,255.26 245.5,255.91 246.5,256.56 247.5,257.21 248.5,257.86 249.5,258.51 250.5,259.15 251.5,259.8 252.5,260.45 253.5,261.09 254.5,261.73 255.5,262.38 256.5,263.02 257.5,263.65 258.5,264.29 259.5,264.93 260.5,265.56 261.5,266.19 262.5,266.82 263.5,267.45 264.5,268.08 265.5,268.7 266.5,269.32 267.5,269.94 268.5,270.55 269.5,271.17 270.5,271.78 271.5,272.38 272.5,272.99 273.5,273.59 274.5,274.19 275.5,274.78 276.5,275.37 277.5,275.96 278.5,276.55 279.5,277.13 280.5,277.7 281.5,278.28 282.5,278.84 283.5,279.41 284.5,279.97 285.5,280.53 286.5,281.08 287.5,281.63 288.4,282.12" fill="none" stroke="#ff8500" stroke-width="1.3" stroke-dasharray="3.2,2" stroke-linejoin="round" stroke-dashoffset="2.6"/>
<polyline points="133.5,202 134.5,202.17 135.5,202.34 136.5,202.51 137.5,202.68 138.5,202.85 139.5,203.03 140.5,203.21 141.5,203.4 142.5,203.6 143.5,203.8 144.5,204 145.5,204.22 146.5,204.44 147.5,204.67 148.5,204.91 149.5,205.16 150.5,205.41 151.5,205.68 152.5,205.95 153.5,206.23 154.5,206.53 155.5,206.83 156.5,207.14 157.5,207.46 158.5,207.79 159.5,208.12 160.5,208.47 161.5,208.83 162.5,209.19 163.5,209.56 164.5,209.95 165.5,210.34 166.5,210.74 167.5,211.15 168.5,211.56 169.5,211.99 170.5,212.42 171.5,212.87 172.5,213.32 173.5,213.78 174.5,214.24 175.5,214.72 176.5,215.2 177.5,215.69 178.5,216.19 179.5,216.7 180.5,217.21 181.5,217.73 182.5,218.26 183.5,218.8 184.5,219.34 185.5,219.89 186.5,220.45 187.5,221.01 188.5,221.58 189.5,222.16 190.5,222.74 191.5,223.33 192.5,223.92 193.5,224.52 194.5,225.13 195.5,225.75 196.5,226.36 197.5,226.99 198.5,227.62 199.5,228.26 200.5,228.9 201.5,229.55 202.5,230.2 203.5,230.85 204.5,231.52 205.5,232.18 206.5,232.85 207.5,233.53 208.5,234.21 209.5,234.9 210.5,235.59 211.5,236.28 212.5,236.98 213.5,237.68 214.5,238.39 215.5,239.09 216.5,239.81 217.5,240.52 218.5,241.24 219.5,241.97 220.5,242.69 221.5,243.42 222.5,244.16 223.5,244.89 224.5,245.63 225.5,246.37 226.5,247.12 227.5,247.86 228.5,248.61 229.5,249.36 230.5,250.12 231.5,250.87 232.5,251.63 233.5,252.39 234.5,253.15 235.5,253.91 236.5,254.68 237.5,255.44 238.5,256.21 239.5,256.97 240.5,257.74 241.5,258.51 242.5,259.28 243.5,260.06 244.5,260.83 245.5,261.6 246.5,262.37 247.5,263.15 248.5,263.92 249.5,264.7 250.5,265.47 251.5,266.24 252.5,267.02 253.5,267.79 254.5,268.56 255.5,269.34 256.5,270.11 257.5,270.88 258.5,271.65 259.5,272.42 260.5,273.19 261.5,273.95 262.5,274.72 263.5,275.48 264.5,276.25 265.5,277.01 266.5,277.77 267.5,278.53 268.5,279.28 269.5,280.03 270.5,280.79 271.5,281.54 272.5,282.28 273.5,283.03 274.5,283.77 275.5,284.51 276.5,285.25 277.5,285.98 278.5,286.71 279.5,287.44 280.5,288.16 281.5,288.88 282.5,289.6 283.5,290.32 284.5,291.03 285.5,291.73 286.5,292.44 287.5,293.14 288.4,293.76" fill="none" stroke="#b22222" stroke-width="1.3" stroke-dasharray="3.2,2" stroke-linejoin="round" stroke-dashoffset="3.9000000000000004"/>
<polyline points="133.5,202 134.5,202.1 135.5,202.21 136.5,202.32 137.5,202.43 138.5,202.54 139.5,202.66 140.5,202.78 141.5,202.9 142.5,203.03 143.5,203.17 144.5,203.31 145.5,203.45 146.5,203.6 147.5,203.75 148.5,203.91 149.5,204.07 150.5,204.24 151.5,204.41 152.5,204.59 153.5,204.77 154.5,204.96 155.5,205.15 156.5,205.35 157.5,205.55 158.5,205.76 159.5,205.97 160.5,206.19 161.5,206.41 162.5,206.63 163.5,206.86 164.5,207.1 165.5,207.34 166.5,207.58 167.5,207.83 168.5,208.08 169.5,208.33 170.5,208.59 171.5,208.86 172.5,209.12 173.5,209.4 174.5,209.67 175.5,209.95 176.5,210.23 177.5,210.52 178.5,210.81 179.5,211.11 180.5,211.4 181.5,211.7 182.5,212.01 183.5,212.31 184.5,212.62 185.5,212.94 186.5,213.25 187.5,213.57 188.5,213.89 189.5,214.22 190.5,214.54 191.5,214.87 192.5,215.21 193.5,215.54 194.5,215.88 195.5,216.22 196.5,216.56 197.5,216.9 198.5,217.25 199.5,217.6 200.5,217.95 201.5,218.3 202.5,218.65 203.5,219.01 204.5,219.37 205.5,219.73 206.5,220.09 207.5,220.45 208.5,220.81 209.5,221.18 210.5,221.54 211.5,221.91 212.5,222.28 213.5,222.65 214.5,223.02 215.5,223.39 216.5,223.76 217.5,224.13 218.5,224.5 219.5,224.88 220.5,225.25 221.5,225.63 222.5,226 223.5,226.37 224.5,226.75 225.5,227.13 226.5,227.5 227.5,227.88 228.5,228.25 229.5,228.63 230.5,229 231.5,229.38 232.5,229.75 233.5,230.12 234.5,230.5 235.5,230.87 236.5,231.24 237.5,231.61 238.5,231.98 239.5,232.35 240.5,232.72 241.5,233.09 242.5,233.46 243.5,233.82 244.5,234.19 245.5,234.55 246.5,234.91 247.5,235.27 248.5,235.63 249.5,235.99 250.5,236.34 251.5,236.69 252.5,237.05 253.5,237.39 254.5,237.74 255.5,238.09 256.5,238.43 257.5,238.77 258.5,239.11 259.5,239.45 260.5,239.78 261.5,240.11 262.5,240.44 263.5,240.77 264.5,241.09 265.5,241.41 266.5,241.73 267.5,242.05 268.5,242.36 269.5,242.67 270.5,242.97 271.5,243.28 272.5,243.57 273.5,243.87 274.5,244.16 275.5,244.45 276.5,244.74 277.5,245.02 278.5,245.3 279.5,245.57 280.5,245.84 281.5,246.11 282.5,246.37 283.5,246.63 284.5,246.88 285.5,247.13 286.5,247.38 287.5,247.62 288.4,247.83" fill="none" stroke="#108080" stroke-width="1.25" stroke-linejoin="round"/>
<polyline points="133.5,202 134.5,202.12 135.5,202.23 136.5,202.35 137.5,202.46 138.5,202.58 139.5,202.7 140.5,202.82 141.5,202.95 142.5,203.07 143.5,203.2 144.5,203.34 145.5,203.47 146.5,203.62 147.5,203.76 148.5,203.91 149.5,204.07 150.5,204.22 151.5,204.39 152.5,204.56 153.5,204.73 154.5,204.9 155.5,205.09 156.5,205.27 157.5,205.46 158.5,205.66 159.5,205.86 160.5,206.07 161.5,206.28 162.5,206.49 163.5,206.71 164.5,206.93 165.5,207.16 166.5,207.4 167.5,207.64 168.5,207.88 169.5,208.13 170.5,208.38 171.5,208.63 172.5,208.89 173.5,209.16 174.5,209.43 175.5,209.7 176.5,209.98 177.5,210.26 178.5,210.55 179.5,210.84 180.5,211.13 181.5,211.43 182.5,211.74 183.5,212.04 184.5,212.35 185.5,212.67 186.5,212.99 187.5,213.31 188.5,213.63 189.5,213.96 190.5,214.3 191.5,214.64 192.5,214.98 193.5,215.32 194.5,215.67 195.5,216.02 196.5,216.38 197.5,216.73 198.5,217.1 199.5,217.46 200.5,217.83 201.5,218.2 202.5,218.57 203.5,218.95 204.5,219.33 205.5,219.72 206.5,220.1 207.5,220.49 208.5,220.89 209.5,221.28 210.5,221.68 211.5,222.08 212.5,222.48 213.5,222.89 214.5,223.3 215.5,223.71 216.5,224.13 217.5,224.54 218.5,224.96 219.5,225.38 220.5,225.81 221.5,226.23 222.5,226.66 223.5,227.09 224.5,227.53 225.5,227.96 226.5,228.4 227.5,228.84 228.5,229.28 229.5,229.72 230.5,230.17 231.5,230.62 232.5,231.07 233.5,231.52 234.5,231.97 235.5,232.42 236.5,232.88 237.5,233.34 238.5,233.8 239.5,234.26 240.5,234.72 241.5,235.18 242.5,235.65 243.5,236.12 244.5,236.58 245.5,237.05 246.5,237.52 247.5,237.99 248.5,238.47 249.5,238.94 250.5,239.41 251.5,239.89 252.5,240.37 253.5,240.84 254.5,241.32 255.5,241.8 256.5,242.28 257.5,242.76 258.5,243.24 259.5,243.73 260.5,244.21 261.5,244.69 262.5,245.18 263.5,245.66 264.5,246.14 265.5,246.63 266.5,247.11 267.5,247.6 268.5,248.09 269.5,248.57 270.5,249.06 271.5,249.54 272.5,250.03 273.5,250.52 274.5,251 275.5,251.49 276.5,251.98 277.5,252.46 278.5,252.95 279.5,253.43 280.5,253.92 281.5,254.4 282.5,254.89 283.5,255.37 284.5,255.86 285.5,256.34 286.5,256.82 287.5,257.3 288.4,257.74" fill="none" stroke="#ffd700" stroke-width="1.25" stroke-linejoin="round"/>
<polyline points="133.5,202 134.5,202.11 135.5,202.23 136.5,202.34 137.5,202.45 138.5,202.57 139.5,202.68 140.5,202.8 141.5,202.92 142.5,203.05 143.5,203.18 144.5,203.31 145.5,203.44 146.5,203.58 147.5,203.72 148.5,203.87 149.5,204.02 150.5,204.18 151.5,204.34 152.5,204.51 153.5,204.68 154.5,204.86 155.5,205.04 156.5,205.22 157.5,205.42 158.5,205.61 159.5,205.81 160.5,206.02 161.5,206.23 162.5,206.45 163.5,206.67 164.5,206.89 165.5,207.12 166.5,207.36 167.5,207.6 168.5,207.85 169.5,208.1 170.5,208.35 171.5,208.62 172.5,208.88 173.5,209.15 174.5,209.43 175.5,209.71 176.5,209.99 177.5,210.28 178.5,210.58 179.5,210.88 180.5,211.18 181.5,211.49 182.5,211.8 183.5,212.12 184.5,212.45 185.5,212.77 186.5,213.1 187.5,213.44 188.5,213.78 189.5,214.13 190.5,214.48 191.5,214.83 192.5,215.19 193.5,215.55 194.5,215.92 195.5,216.29 196.5,216.66 197.5,217.04 198.5,217.43 199.5,217.81 200.5,218.21 201.5,218.6 202.5,219 203.5,219.4 204.5,219.81 205.5,220.22 206.5,220.64 207.5,221.06 208.5,221.48 209.5,221.91 210.5,222.34 211.5,222.78 212.5,223.21 213.5,223.66 214.5,224.1 215.5,224.55 216.5,225 217.5,225.46 218.5,225.92 219.5,226.38 220.5,226.85 221.5,227.32 222.5,227.8 223.5,228.27 224.5,228.75 225.5,229.24 226.5,229.73 227.5,230.22 228.5,230.71 229.5,231.21 230.5,231.71 231.5,232.21 232.5,232.72 233.5,233.23 234.5,233.74 235.5,234.25 236.5,234.77 237.5,235.29 238.5,235.82 239.5,236.34 240.5,236.87 241.5,237.41 242.5,237.94 243.5,238.48 244.5,239.02 245.5,239.57 246.5,240.11 247.5,240.66 248.5,241.21 249.5,241.77 250.5,242.32 251.5,242.88 252.5,243.45 253.5,244.01 254.5,244.58 255.5,245.15 256.5,245.72 257.5,246.29 258.5,246.87 259.5,247.45 260.5,248.03 261.5,248.61 262.5,249.19 263.5,249.78 264.5,250.37 265.5,250.96 266.5,251.55 267.5,252.15 268.5,252.75 269.5,253.35 270.5,253.95 271.5,254.55 272.5,255.15 273.5,255.76 274.5,256.37 275.5,256.98 276.5,257.59 277.5,258.21 278.5,258.82 279.5,259.44 280.5,260.06 281.5,260.68 282.5,261.3 283.5,261.92 284.5,262.55 285.5,263.17 286.5,263.8 287.5,264.43 288.4,265" fill="none" stroke="#ff8500" stroke-width="1.25" stroke-linejoin="round"/>
<polyline points="133.5,202 134.5,202.13 135.5,202.25 136.5,202.38 137.5,202.5 138.5,202.63 139.5,202.75 140.5,202.88 141.5,203.01 142.5,203.14 143.5,203.28 144.5,203.41 145.5,203.56 146.5,203.7 147.5,203.85 148.5,204 149.5,204.16 150.5,204.32 151.5,204.49 152.5,204.66 153.5,204.84 154.5,205.02 155.5,205.2 156.5,205.39 157.5,205.59 158.5,205.79 159.5,206 160.5,206.21 161.5,206.43 162.5,206.65 163.5,206.88 164.5,207.11 165.5,207.35 166.5,207.59 167.5,207.84 168.5,208.09 169.5,208.35 170.5,208.62 171.5,208.89 172.5,209.17 173.5,209.45 174.5,209.74 175.5,210.03 176.5,210.33 177.5,210.63 178.5,210.94 179.5,211.25 180.5,211.57 181.5,211.9 182.5,212.23 183.5,212.56 184.5,212.9 185.5,213.25 186.5,213.6 187.5,213.96 188.5,214.32 189.5,214.69 190.5,215.07 191.5,215.44 192.5,215.83 193.5,216.22 194.5,216.61 195.5,217.02 196.5,217.42 197.5,217.83 198.5,218.25 199.5,218.67 200.5,219.1 201.5,219.53 202.5,219.97 203.5,220.41 204.5,220.86 205.5,221.32 206.5,221.78 207.5,222.24 208.5,222.71 209.5,223.19 210.5,223.67 211.5,224.15 212.5,224.65 213.5,225.14 214.5,225.64 215.5,226.15 216.5,226.66 217.5,227.18 218.5,227.71 219.5,228.23 220.5,228.77 221.5,229.31 222.5,229.85 223.5,230.4 224.5,230.95 225.5,231.51 226.5,232.08 227.5,232.65 228.5,233.22 229.5,233.8 230.5,234.39 231.5,234.98 232.5,235.58 233.5,236.18 234.5,236.79 235.5,237.4 236.5,238.01 237.5,238.64 238.5,239.26 239.5,239.9 240.5,240.53 241.5,241.18 242.5,241.82 243.5,242.48 244.5,243.13 245.5,243.8 246.5,244.47 247.5,245.14 248.5,245.82 249.5,246.5 250.5,247.19 251.5,247.88 252.5,248.58 253.5,249.29 254.5,249.99 255.5,250.71 256.5,251.43 257.5,252.15 258.5,252.88 259.5,253.62 260.5,254.35 261.5,255.1 262.5,255.85 263.5,256.6 264.5,257.36 265.5,258.13 266.5,258.9 267.5,259.67 268.5,260.45 269.5,261.23 270.5,262.02 271.5,262.82 272.5,263.62 273.5,264.42 274.5,265.23 275.5,266.04 276.5,266.86 277.5,267.69 278.5,268.52 279.5,269.35 280.5,270.19 281.5,271.03 282.5,271.88 283.5,272.74 284.5,273.59 285.5,274.46 286.5,275.33 287.5,276.2 288.4,276.99" fill="none" stroke="#b22222" stroke-width="1.25" stroke-linejoin="round"/>
<g stroke="#108080" stroke-opacity="0.6" stroke-width="0.85" fill="none" stroke-dasharray="2.8,1.2"><line x1="295" y1="241.7" x2="295" y2="249.7"/><line x1="295" y1="270.9" x2="295" y2="280.4"/><rect x="293.2" y="249.7" width="3.6" height="21.2"/><line x1="293.2" y1="259.2" x2="296.8" y2="259.2"/><line x1="293.8" y1="241.7" x2="296.2" y2="241.7"/><line x1="293.8" y1="280.4" x2="296.2" y2="280.4"/></g>
<g stroke="#108080" stroke-opacity="0.72" stroke-width="0.85" fill="none"><line x1="299.4" y1="234.4" x2="299.4" y2="240.2"/><line x1="299.4" y1="257" x2="299.4" y2="267.3"/><rect x="297.6" y="240.2" width="3.6" height="16.8"/><line x1="297.6" y1="248.3" x2="301.2" y2="248.3"/><line x1="298.2" y1="234.4" x2="300.6" y2="234.4"/><line x1="298.2" y1="267.3" x2="300.6" y2="267.3"/></g>
<g stroke="#ffd700" stroke-opacity="0.6" stroke-width="0.85" fill="none" stroke-dasharray="2.8,1.2"><line x1="303.4" y1="247.5" x2="303.4" y2="254.3"/><line x1="303.4" y1="284.9" x2="303.4" y2="288.3"/><rect x="301.6" y="254.3" width="3.6" height="30.6"/><line x1="301.6" y1="273.3" x2="305.2" y2="273.3"/><line x1="302.2" y1="247.5" x2="304.6" y2="247.5"/><line x1="302.2" y1="288.3" x2="304.6" y2="288.3"/></g>
<g stroke="#ffd700" stroke-opacity="0.72" stroke-width="0.85" fill="none"><line x1="307.9" y1="238" x2="307.9" y2="244.3"/><line x1="307.9" y1="270.1" x2="307.9" y2="273.5"/><rect x="306.1" y="244.3" width="3.6" height="25.8"/><line x1="306.1" y1="258.3" x2="309.7" y2="258.3"/><line x1="306.7" y1="238" x2="309.1" y2="238"/><line x1="306.7" y1="273.5" x2="309.1" y2="273.5"/></g>
<g stroke="#ff8500" stroke-opacity="0.6" stroke-width="0.85" fill="none" stroke-dasharray="2.8,1.2"><line x1="312.1" y1="257.2" x2="312.1" y2="266.6"/><line x1="312.1" y1="294.8" x2="312.1" y2="300.3"/><rect x="310.3" y="266.6" width="3.6" height="28.2"/><line x1="310.3" y1="283.9" x2="313.9" y2="283.9"/><line x1="310.9" y1="257.2" x2="313.3" y2="257.2"/><line x1="310.9" y1="300.3" x2="313.3" y2="300.3"/></g>
<g stroke="#ff8500" stroke-opacity="0.72" stroke-width="0.85" fill="none"><line x1="316.6" y1="246.3" x2="316.6" y2="253.3"/><line x1="316.6" y1="277.6" x2="316.6" y2="282.3"/><rect x="314.8" y="253.3" width="3.6" height="24.3"/><line x1="314.8" y1="266.6" x2="318.4" y2="266.6"/><line x1="315.4" y1="246.3" x2="317.8" y2="246.3"/><line x1="315.4" y1="282.3" x2="317.8" y2="282.3"/></g>
<g stroke="#b22222" stroke-opacity="0.6" stroke-width="0.85" fill="none" stroke-dasharray="2.8,1.2"><line x1="321.1" y1="267.4" x2="321.1" y2="275.7"/><line x1="321.1" y1="308.9" x2="321.1" y2="310.2"/><rect x="319.3" y="275.7" width="3.6" height="33.2"/><line x1="319.3" y1="294" x2="322.9" y2="294"/><line x1="319.9" y1="267.4" x2="322.3" y2="267.4"/><line x1="319.9" y1="310.2" x2="322.3" y2="310.2"/></g>
<g stroke="#b22222" stroke-opacity="0.72" stroke-width="0.85" fill="none"><line x1="325.6" y1="254.4" x2="325.6" y2="259.3"/><line x1="325.6" y1="294" x2="325.6" y2="297.2"/><rect x="323.8" y="259.3" width="3.6" height="34.7"/><line x1="323.8" y1="278" x2="327.4" y2="278"/><line x1="324.4" y1="254.4" x2="326.8" y2="254.4"/><line x1="324.4" y1="297.2" x2="326.8" y2="297.2"/></g>
<polygon points="481.2,204.7 482.2,204.77 483.2,204.85 484.2,204.94 485.2,205.05 486.2,205.16 487.2,205.29 488.2,205.42 489.2,205.57 490.2,205.73 491.2,205.9 492.2,206.08 493.2,206.28 494.2,206.48 495.2,206.69 496.2,206.92 497.2,207.15 498.2,207.39 499.2,207.65 500.2,207.91 501.2,208.18 502.2,208.45 503.2,208.74 504.2,209.03 505.2,209.33 506.2,209.64 507.2,209.95 508.2,210.27 509.2,210.6 510.2,210.93 511.2,211.27 512.2,211.61 513.2,211.96 514.2,212.31 515.2,212.67 516.2,213.03 517.2,213.4 518.2,213.76 519.2,214.14 520.2,214.51 521.2,214.89 522.2,215.26 523.2,215.65 524.2,216.03 525.2,216.41 526.2,216.8 527.2,217.18 528.2,217.57 529.2,217.96 530.2,218.35 531.2,218.74 532.2,219.13 533.2,219.52 534.2,219.91 535.2,220.29 536.2,220.68 537.2,221.07 538.2,221.45 539.2,221.84 540.2,222.22 541.2,222.6 542.2,222.98 543.2,223.36 544.2,223.73 545.2,224.11 546.2,224.48 547.2,224.85 548.2,225.21 549.2,225.58 550.2,225.94 551.2,226.3 552.2,226.65 553.2,227.01 554.2,227.35 555.2,227.7 556.2,228.05 557.2,228.39 558.2,228.72 559.2,229.06 560.2,229.39 561.2,229.71 562.2,230.04 563.2,230.36 564.2,230.67 565.2,230.99 566.2,231.3 567.2,231.6 568.2,231.91 569.2,232.21 570.2,232.5 571.2,232.8 572.2,233.09 573.2,233.37 574.2,233.66 575.2,233.94 576.2,234.21 577.2,234.49 578.2,234.76 579.2,235.02 580.2,235.29 581.2,235.55 582.2,235.81 583.2,236.06 584.2,236.32 585.2,236.57 586.2,236.82 587.2,237.07 588.2,237.31 589.2,237.55 590.2,237.8 591.2,238.04 592.2,238.27 593.2,238.51 594.2,238.75 595.2,238.98 596.2,239.21 597.2,239.45 598.2,239.68 599.2,239.91 600.2,240.15 601.2,240.38 602.2,240.61 603.2,240.85 604.2,241.08 605.2,241.32 606.2,241.55 607.2,241.79 608.2,242.03 609.2,242.27 610.2,242.52 611.2,242.76 612.2,243.01 613.2,243.26 614.2,243.52 615.2,243.78 616.2,244.04 617.2,244.31 618.2,244.58 619.2,244.86 620.2,245.14 621.2,245.43 622.2,245.72 623.2,246.02 624.2,246.33 625.2,246.64 626.2,246.96 627.2,247.29 628.2,247.62 629.2,247.97 630.2,248.32 631.2,248.68 632.2,249.05 633.2,249.43 634.2,249.82 635.2,250.22 635.3,250.26 635.3,267.15 635.2,267.06 634.2,266.2 633.2,265.36 632.2,264.54 631.2,263.74 630.2,262.97 629.2,262.21 628.2,261.48 627.2,260.76 626.2,260.06 625.2,259.38 624.2,258.71 623.2,258.06 622.2,257.43 621.2,256.81 620.2,256.21 619.2,255.62 618.2,255.05 617.2,254.49 616.2,253.94 615.2,253.41 614.2,252.89 613.2,252.38 612.2,251.88 611.2,251.39 610.2,250.91 609.2,250.44 608.2,249.98 607.2,249.53 606.2,249.09 605.2,248.66 604.2,248.23 603.2,247.81 602.2,247.4 601.2,247 600.2,246.6 599.2,246.21 598.2,245.82 597.2,245.44 596.2,245.06 595.2,244.69 594.2,244.32 593.2,243.96 592.2,243.6 591.2,243.24 590.2,242.89 589.2,242.53 588.2,242.19 587.2,241.84 586.2,241.49 585.2,241.15 584.2,240.81 583.2,240.47 582.2,240.13 581.2,239.79 580.2,239.45 579.2,239.12 578.2,238.78 577.2,238.44 576.2,238.1 575.2,237.77 574.2,237.43 573.2,237.09 572.2,236.75 571.2,236.41 570.2,236.06 569.2,235.72 568.2,235.38 567.2,235.03 566.2,234.68 565.2,234.33 564.2,233.98 563.2,233.63 562.2,233.27 561.2,232.91 560.2,232.55 559.2,232.19 558.2,231.83 557.2,231.46 556.2,231.09 555.2,230.72 554.2,230.34 553.2,229.97 552.2,229.59 551.2,229.21 550.2,228.83 549.2,228.44 548.2,228.05 547.2,227.66 546.2,227.27 545.2,226.88 544.2,226.48 543.2,226.08 542.2,225.68 541.2,225.28 540.2,224.87 539.2,224.46 538.2,224.06 537.2,223.65 536.2,223.24 535.2,222.82 534.2,222.41 533.2,222 532.2,221.58 531.2,221.17 530.2,220.75 529.2,220.33 528.2,219.91 527.2,219.5 526.2,219.08 525.2,218.66 524.2,218.25 523.2,217.83 522.2,217.42 521.2,217 520.2,216.59 519.2,216.18 518.2,215.77 517.2,215.37 516.2,214.97 515.2,214.56 514.2,214.17 513.2,213.77 512.2,213.38 511.2,212.99 510.2,212.61 509.2,212.23 508.2,211.86 507.2,211.49 506.2,211.13 505.2,210.77 504.2,210.42 503.2,210.07 502.2,209.73 501.2,209.4 500.2,209.08 499.2,208.76 498.2,208.45 497.2,208.15 496.2,207.86 495.2,207.58 494.2,207.3 493.2,207.04 492.2,206.78 491.2,206.54 490.2,206.31 489.2,206.08 488.2,205.87 487.2,205.67 486.2,205.48 485.2,205.3 484.2,205.13 483.2,204.98 482.2,204.83 481.2,204.7" fill="#cae4e5"/>
<polygon points="481.2,204.7 482.2,204.83 483.2,204.98 484.2,205.13 485.2,205.3 486.2,205.48 487.2,205.67 488.2,205.87 489.2,206.08 490.2,206.31 491.2,206.54 492.2,206.78 493.2,207.04 494.2,207.3 495.2,207.58 496.2,207.86 497.2,208.15 498.2,208.45 499.2,208.76 500.2,209.08 501.2,209.4 502.2,209.73 503.2,210.07 504.2,210.42 505.2,210.77 506.2,211.13 507.2,211.49 508.2,211.86 509.2,212.23 510.2,212.61 511.2,212.99 512.2,213.38 513.2,213.77 514.2,214.17 515.2,214.56 516.2,214.97 517.2,215.37 518.2,215.77 519.2,216.18 520.2,216.59 521.2,217 522.2,217.42 523.2,217.83 524.2,218.25 525.2,218.66 526.2,219.08 527.2,219.5 528.2,219.91 529.2,220.33 530.2,220.75 531.2,221.17 532.2,221.58 533.2,222 534.2,222.41 535.2,222.82 536.2,223.24 537.2,223.65 538.2,224.06 539.2,224.46 540.2,224.87 541.2,225.28 542.2,225.68 543.2,226.08 544.2,226.48 545.2,226.88 546.2,227.27 547.2,227.66 548.2,228.05 549.2,228.44 550.2,228.83 551.2,229.21 552.2,229.59 553.2,229.97 554.2,230.34 555.2,230.72 556.2,231.09 557.2,231.46 558.2,231.83 559.2,232.19 560.2,232.55 561.2,232.91 562.2,233.27 563.2,233.63 564.2,233.98 565.2,234.33 566.2,234.68 567.2,235.03 568.2,235.38 569.2,235.72 570.2,236.06 571.2,236.41 572.2,236.75 573.2,237.09 574.2,237.43 575.2,237.77 576.2,238.1 577.2,238.44 578.2,238.78 579.2,239.12 580.2,239.45 581.2,239.79 582.2,240.13 583.2,240.47 584.2,240.81 585.2,241.15 586.2,241.49 587.2,241.84 588.2,242.19 589.2,242.53 590.2,242.89 591.2,243.24 592.2,243.6 593.2,243.96 594.2,244.32 595.2,244.69 596.2,245.06 597.2,245.44 598.2,245.82 599.2,246.21 600.2,246.6 601.2,247 602.2,247.4 603.2,247.81 604.2,248.23 605.2,248.66 606.2,249.09 607.2,249.53 608.2,249.98 609.2,250.44 610.2,250.91 611.2,251.39 612.2,251.88 613.2,252.38 614.2,252.89 615.2,253.41 616.2,253.94 617.2,254.49 618.2,255.05 619.2,255.62 620.2,256.21 621.2,256.81 622.2,257.43 623.2,258.06 624.2,258.71 625.2,259.38 626.2,260.06 627.2,260.76 628.2,261.48 629.2,262.21 630.2,262.97 631.2,263.74 632.2,264.54 633.2,265.36 634.2,266.2 635.2,267.06 635.3,267.15 635.3,285.1 635.2,285.09 634.2,284.98 633.2,284.86 632.2,284.72 631.2,284.56 630.2,284.39 629.2,284.2 628.2,284 627.2,283.78 626.2,283.54 625.2,283.3 624.2,283.03 623.2,282.76 622.2,282.47 621.2,282.16 620.2,281.85 619.2,281.52 618.2,281.17 617.2,280.82 616.2,280.45 615.2,280.07 614.2,279.67 613.2,279.27 612.2,278.85 611.2,278.43 610.2,277.99 609.2,277.54 608.2,277.08 607.2,276.61 606.2,276.13 605.2,275.64 604.2,275.14 603.2,274.63 602.2,274.11 601.2,273.59 600.2,273.05 599.2,272.5 598.2,271.95 597.2,271.39 596.2,270.82 595.2,270.24 594.2,269.66 593.2,269.07 592.2,268.47 591.2,267.87 590.2,267.25 589.2,266.64 588.2,266.01 587.2,265.38 586.2,264.75 585.2,264.11 584.2,263.46 583.2,262.81 582.2,262.15 581.2,261.49 580.2,260.83 579.2,260.16 578.2,259.48 577.2,258.81 576.2,258.12 575.2,257.44 574.2,256.75 573.2,256.06 572.2,255.37 571.2,254.67 570.2,253.98 569.2,253.28 568.2,252.57 567.2,251.87 566.2,251.17 565.2,250.46 564.2,249.75 563.2,249.04 562.2,248.33 561.2,247.62 560.2,246.91 559.2,246.2 558.2,245.49 557.2,244.78 556.2,244.07 555.2,243.36 554.2,242.66 553.2,241.95 552.2,241.24 551.2,240.54 550.2,239.84 549.2,239.14 548.2,238.44 547.2,237.74 546.2,237.05 545.2,236.35 544.2,235.67 543.2,234.98 542.2,234.3 541.2,233.62 540.2,232.94 539.2,232.27 538.2,231.6 537.2,230.93 536.2,230.27 535.2,229.62 534.2,228.97 533.2,228.32 532.2,227.68 531.2,227.04 530.2,226.41 529.2,225.78 528.2,225.16 527.2,224.55 526.2,223.94 525.2,223.34 524.2,222.74 523.2,222.15 522.2,221.57 521.2,220.99 520.2,220.42 519.2,219.86 518.2,219.31 517.2,218.76 516.2,218.22 515.2,217.69 514.2,217.16 513.2,216.65 512.2,216.14 511.2,215.64 510.2,215.15 509.2,214.67 508.2,214.19 507.2,213.73 506.2,213.27 505.2,212.83 504.2,212.39 503.2,211.96 502.2,211.54 501.2,211.14 500.2,210.74 499.2,210.35 498.2,209.97 497.2,209.6 496.2,209.24 495.2,208.89 494.2,208.55 493.2,208.22 492.2,207.9 491.2,207.59 490.2,207.29 489.2,207 488.2,206.72 487.2,206.45 486.2,206.19 485.2,205.94 484.2,205.69 483.2,205.45 482.2,205.22 481.2,205" fill="#c8c0c2"/>
<polygon points="481.2,205 482.2,205.22 483.2,205.45 484.2,205.69 485.2,205.94 486.2,206.19 487.2,206.45 488.2,206.72 489.2,207 490.2,207.29 491.2,207.59 492.2,207.9 493.2,208.22 494.2,208.55 495.2,208.89 496.2,209.24 497.2,209.6 498.2,209.97 499.2,210.35 500.2,210.74 501.2,211.14 502.2,211.54 503.2,211.96 504.2,212.39 505.2,212.83 506.2,213.27 507.2,213.73 508.2,214.19 509.2,214.67 510.2,215.15 511.2,215.64 512.2,216.14 513.2,216.65 514.2,217.16 515.2,217.69 516.2,218.22 517.2,218.76 518.2,219.31 519.2,219.86 520.2,220.42 521.2,220.99 522.2,221.57 523.2,222.15 524.2,222.74 525.2,223.34 526.2,223.94 527.2,224.55 528.2,225.16 529.2,225.78 530.2,226.41 531.2,227.04 532.2,227.68 533.2,228.32 534.2,228.97 535.2,229.62 536.2,230.27 537.2,230.93 538.2,231.6 539.2,232.27 540.2,232.94 541.2,233.62 542.2,234.3 543.2,234.98 544.2,235.67 545.2,236.35 546.2,237.05 547.2,237.74 548.2,238.44 549.2,239.14 550.2,239.84 551.2,240.54 552.2,241.24 553.2,241.95 554.2,242.66 555.2,243.36 556.2,244.07 557.2,244.78 558.2,245.49 559.2,246.2 560.2,246.91 561.2,247.62 562.2,248.33 563.2,249.04 564.2,249.75 565.2,250.46 566.2,251.17 567.2,251.87 568.2,252.57 569.2,253.28 570.2,253.98 571.2,254.67 572.2,255.37 573.2,256.06 574.2,256.75 575.2,257.44 576.2,258.12 577.2,258.81 578.2,259.48 579.2,260.16 580.2,260.83 581.2,261.49 582.2,262.15 583.2,262.81 584.2,263.46 585.2,264.11 586.2,264.75 587.2,265.38 588.2,266.01 589.2,266.64 590.2,267.25 591.2,267.87 592.2,268.47 593.2,269.07 594.2,269.66 595.2,270.24 596.2,270.82 597.2,271.39 598.2,271.95 599.2,272.5 600.2,273.05 601.2,273.59 602.2,274.11 603.2,274.63 604.2,275.14 605.2,275.64 606.2,276.13 607.2,276.61 608.2,277.08 609.2,277.54 610.2,277.99 611.2,278.43 612.2,278.85 613.2,279.27 614.2,279.67 615.2,280.07 616.2,280.45 617.2,280.82 618.2,281.17 619.2,281.52 620.2,281.85 621.2,282.16 622.2,282.47 623.2,282.76 624.2,283.03 625.2,283.3 626.2,283.54 627.2,283.78 628.2,284 629.2,284.2 630.2,284.39 631.2,284.56 632.2,284.72 633.2,284.86 634.2,284.98 635.2,285.09 635.3,285.1 635.3,309.32 635.2,309.32 634.2,309.26 633.2,309.16 632.2,309.03 631.2,308.85 630.2,308.64 629.2,308.4 628.2,308.11 627.2,307.8 626.2,307.45 625.2,307.06 624.2,306.65 623.2,306.2 622.2,305.73 621.2,305.22 620.2,304.69 619.2,304.13 618.2,303.55 617.2,302.94 616.2,302.31 615.2,301.65 614.2,300.97 613.2,300.27 612.2,299.54 611.2,298.8 610.2,298.04 609.2,297.26 608.2,296.46 607.2,295.64 606.2,294.81 605.2,293.96 604.2,293.1 603.2,292.22 602.2,291.33 601.2,290.43 600.2,289.52 599.2,288.59 598.2,287.65 597.2,286.71 596.2,285.75 595.2,284.79 594.2,283.81 593.2,282.84 592.2,281.85 591.2,280.86 590.2,279.86 589.2,278.85 588.2,277.85 587.2,276.84 586.2,275.82 585.2,274.8 584.2,273.78 583.2,272.76 582.2,271.74 581.2,270.72 580.2,269.69 579.2,268.67 578.2,267.65 577.2,266.63 576.2,265.61 575.2,264.59 574.2,263.57 573.2,262.56 572.2,261.55 571.2,260.55 570.2,259.55 569.2,258.55 568.2,257.56 567.2,256.57 566.2,255.59 565.2,254.62 564.2,253.65 563.2,252.69 562.2,251.73 561.2,250.78 560.2,249.84 559.2,248.91 558.2,247.99 557.2,247.07 556.2,246.16 555.2,245.26 554.2,244.37 553.2,243.49 552.2,242.62 551.2,241.75 550.2,240.9 549.2,240.06 548.2,239.23 547.2,238.4 546.2,237.59 545.2,236.79 544.2,236 543.2,235.22 542.2,234.45 541.2,233.69 540.2,232.94 539.2,232.2 538.2,231.48 537.2,230.76 536.2,230.06 535.2,229.36 534.2,228.68 533.2,228.01 532.2,227.35 531.2,226.71 530.2,226.07 529.2,225.44 528.2,224.83 527.2,224.23 526.2,223.63 525.2,223.05 524.2,222.48 523.2,221.92 522.2,221.37 521.2,220.83 520.2,220.3 519.2,219.79 518.2,219.28 517.2,218.78 516.2,218.29 515.2,217.81 514.2,217.34 513.2,216.88 512.2,216.43 511.2,215.98 510.2,215.55 509.2,215.12 508.2,214.7 507.2,214.29 506.2,213.88 505.2,213.49 504.2,213.1 503.2,212.71 502.2,212.33 501.2,211.96 500.2,211.59 499.2,211.23 498.2,210.87 497.2,210.52 496.2,210.17 495.2,209.82 494.2,209.48 493.2,209.14 492.2,208.8 491.2,208.46 490.2,208.12 489.2,207.78 488.2,207.45 487.2,207.11 486.2,206.76 485.2,206.42 484.2,206.07 483.2,205.72 482.2,205.36 481.2,205" fill="#eed1d4"/>
<polyline points="388.75,192.5 389.75,192.5 390.75,192.51 391.75,192.52 392.75,192.54 393.75,192.55 394.75,192.58 395.75,192.6 396.75,192.63 397.75,192.66 398.75,192.7 399.75,192.73 400.75,192.77 401.75,192.81 402.75,192.86 403.75,192.9 404.75,192.96 405.75,193.04 406.75,193.14 407.75,193.26 408.75,193.4 409.75,193.55 410.75,193.71 411.75,193.89 412.75,194.06 413.75,194.24 414.75,194.42 415.75,194.59 416.75,194.76 417.75,194.93 418.75,195.08 419.75,195.22 420.75,195.34 421.75,195.47 422.75,195.59 423.75,195.7 424.75,195.82 425.75,195.93 426.75,196.04 427.75,196.15 428.75,196.26 429.75,196.37 430.75,196.47 431.75,196.58 432.75,196.69 433.75,196.8 434.75,196.91 435.75,197.02 436.75,197.13 437.75,197.24 438.75,197.36 439.75,197.48 440.75,197.6 441.75,197.73 442.75,197.85 443.75,197.97 444.75,198.1 445.75,198.22 446.75,198.35 447.75,198.48 448.75,198.61 449.75,198.75 450.75,198.88 451.75,199.02 452.75,199.17 453.75,199.31 454.75,199.46 455.75,199.62 456.75,199.77 457.75,199.94 458.75,200.1 459.75,200.27 460.75,200.45 461.75,200.63 462.75,200.81 463.75,200.99 464.75,201.18 465.75,201.37 466.75,201.56 467.75,201.75 468.75,201.95 469.75,202.15 470.75,202.35 471.75,202.55 472.75,202.75 473.75,202.96 474.75,203.17 475.75,203.38 476.75,203.6 477.75,203.83 478.75,204.07 479.75,204.32 480.75,204.58 481.75,204.86 482.75,205.18 483.75,205.52 484.75,205.89 485.75,206.26 486.75,206.62 487.75,206.97 488.75,207.29 489.75,207.57 490.75,207.84 491.75,208.1 492.75,208.35 493.75,208.6 494.75,208.84 495.75,209.09 496.75,209.33 497.75,209.58 498.75,209.84 499.75,210.11 500.75,210.38 501.75,210.65 502.75,210.92 503.75,211.19 504.75,211.45 505.75,211.72 506.75,211.98 507.75,212.24 508.75,212.49 509.75,212.74 510.75,212.99 511.75,213.24 512.75,213.48 513.75,213.73 514.75,213.97 515.75,214.21 516.75,214.44 517,214.5" fill="none" stroke="#111" stroke-width="0.9" stroke-linejoin="round"/>
<polyline points="481.2,205 482.2,205.49 483.2,205.98 484.2,206.49 485.2,207 486.2,207.52 487.2,208.05 488.2,208.59 489.2,209.14 490.2,209.69 491.2,210.25 492.2,210.82 493.2,211.4 494.2,211.99 495.2,212.58 496.2,213.18 497.2,213.79 498.2,214.4 499.2,215.03 500.2,215.67 501.2,216.33 502.2,217 503.2,217.69 504.2,218.38 505.2,219.09 506.2,219.8 507.2,220.52 508.2,221.24 509.2,221.97 510.2,222.7 511.2,223.43 512.2,224.16 513.2,224.89 514.2,225.61 515.2,226.33 516.2,227.04 517.2,227.74 518.2,228.44 519.2,229.15 520.2,229.87 521.2,230.58 522.2,231.3 523.2,232.02 524.2,232.74 525.2,233.46 526.2,234.18 527.2,234.89 528.2,235.6 529.2,236.3 530.2,237 531.2,237.68 532.2,238.36 533.2,239.03 534.2,239.68 535.2,240.32 536.2,240.95 537.2,241.57 538.2,242.19 539.2,242.8 540.2,243.4 541.2,244 542.2,244.59 543.2,245.18 544.2,245.76 545.2,246.33 546.2,246.9 547.2,247.46 548.2,248.02 549.2,248.57 550.2,249.11 551.2,249.64 552.2,250.17 553.2,250.68 554.2,251.2 555.2,251.7 556.2,252.22 557.2,252.76 558.2,253.31 559.2,253.87 560.2,254.44 561.2,255.02 562.2,255.59 563.2,256.16 564.2,256.71 565.2,257.25 566.2,257.78 567.2,258.28 568.2,258.75 569.2,259.19 570.2,259.59 571.2,259.95 572.2,260.27 573.2,260.54 574.2,260.76 575.2,260.92 576.2,261.02 577.2,261.09 578.2,261.16 579.2,261.24 580.2,261.3 581.2,261.37 582.2,261.43 583.2,261.49 584.2,261.55 585.2,261.6 586.2,261.65 587.2,261.7 588.2,261.74 589.2,261.78 590.2,261.82 591.2,261.85 592.2,261.88 593.2,261.91 594.2,261.94 595.2,261.96 596.2,261.97 597.2,261.98 598.2,261.99 599.2,262 600.2,262 601.2,262 602.2,261.99 603.2,261.98 604.2,261.97 605.2,261.95 606.2,261.93 607.2,261.91 608.2,261.88 609.2,261.86 610.2,261.83 611.2,261.8 612.2,261.77 613.2,261.74 614.2,261.7 615.2,261.67 616.2,261.64 617.2,261.61 618.2,261.58 619.2,261.54 620.2,261.51 621.2,261.49 622.2,261.46 623.2,261.43 624.2,261.39 625.2,261.36 626.2,261.33 627.2,261.3 628.2,261.26 629.2,261.23 630.2,261.19 631.2,261.15 632.2,261.12 633.2,261.08 634.2,261.04 635.2,261 635.3,261" fill="none" stroke="#108080" stroke-width="1.3" stroke-dasharray="3.2,2" stroke-linejoin="round" stroke-dashoffset="0.0"/>
<polyline points="481.2,205 482.2,205.49 483.2,205.98 484.2,206.49 485.2,207 486.2,207.52 487.2,208.05 488.2,208.59 489.2,209.14 490.2,209.69 491.2,210.25 492.2,210.82 493.2,211.4 494.2,211.99 495.2,212.58 496.2,213.18 497.2,213.79 498.2,214.4 499.2,215.03 500.2,215.67 501.2,216.33 502.2,217 503.2,217.69 504.2,218.38 505.2,219.09 506.2,219.8 507.2,220.52 508.2,221.24 509.2,221.97 510.2,222.7 511.2,223.43 512.2,224.16 513.2,224.89 514.2,225.61 515.2,226.33 516.2,227.04 517.2,227.74 518.2,228.45 519.2,229.17 520.2,229.89 521.2,230.62 522.2,231.36 523.2,232.1 524.2,232.84 525.2,233.57 526.2,234.3 527.2,235.03 528.2,235.75 529.2,236.45 530.2,237.15 531.2,237.82 532.2,238.49 533.2,239.13 534.2,239.75 535.2,240.35 536.2,240.93 537.2,241.49 538.2,242.03 539.2,242.56 540.2,243.07 541.2,243.58 542.2,244.08 543.2,244.56 544.2,245.04 545.2,245.51 546.2,245.98 547.2,246.44 548.2,246.9 549.2,247.35 550.2,247.8 551.2,248.26 552.2,248.71 553.2,249.17 554.2,249.63 555.2,250.09 556.2,250.57 557.2,251.05 558.2,251.54 559.2,252.03 560.2,252.53 561.2,253.03 562.2,253.53 563.2,254.03 564.2,254.53 565.2,255.01 566.2,255.5 567.2,255.97 568.2,256.43 569.2,256.87 570.2,257.3 571.2,257.72 572.2,258.11 573.2,258.48 574.2,258.83 575.2,259.16 576.2,259.46 577.2,259.74 578.2,260.01 579.2,260.26 580.2,260.5 581.2,260.74 582.2,260.96 583.2,261.18 584.2,261.39 585.2,261.59 586.2,261.79 587.2,261.98 588.2,262.17 589.2,262.35 590.2,262.54 591.2,262.73 592.2,262.91 593.2,263.1 594.2,263.29 595.2,263.48 596.2,263.68 597.2,263.89 598.2,264.1 599.2,264.32 600.2,264.55 601.2,264.78 602.2,265.03 603.2,265.29 604.2,265.55 605.2,265.82 606.2,266.1 607.2,266.37 608.2,266.65 609.2,266.93 610.2,267.2 611.2,267.48 612.2,267.75 613.2,268.01 614.2,268.27 615.2,268.52 616.2,268.77 617.2,269 618.2,269.22 619.2,269.42 620.2,269.61 621.2,269.79 622.2,269.96 623.2,270.12 624.2,270.29 625.2,270.44 626.2,270.59 627.2,270.74 628.2,270.88 629.2,271.02 630.2,271.15 631.2,271.27 632.2,271.39 633.2,271.49 634.2,271.6 635.2,271.69 635.3,271.7" fill="none" stroke="#ffd700" stroke-width="1.3" stroke-dasharray="3.2,2" stroke-linejoin="round" stroke-dashoffset="1.3"/>
<polyline points="481.2,205 482.2,205.49 483.2,205.98 484.2,206.49 485.2,207 486.2,207.52 487.2,208.05 488.2,208.59 489.2,209.14 490.2,209.69 491.2,210.25 492.2,210.82 493.2,211.4 494.2,211.99 495.2,212.58 496.2,213.18 497.2,213.79 498.2,214.4 499.2,215.03 500.2,215.67 501.2,216.33 502.2,217 503.2,217.69 504.2,218.38 505.2,219.09 506.2,219.8 507.2,220.52 508.2,221.24 509.2,221.97 510.2,222.7 511.2,223.43 512.2,224.16 513.2,224.89 514.2,225.61 515.2,226.33 516.2,227.04 517.2,227.74 518.2,228.44 519.2,229.15 520.2,229.85 521.2,230.56 522.2,231.27 523.2,231.98 524.2,232.69 525.2,233.4 526.2,234.1 527.2,234.81 528.2,235.51 529.2,236.21 530.2,236.91 531.2,237.6 532.2,238.28 533.2,238.96 534.2,239.64 535.2,240.3 536.2,240.96 537.2,241.63 538.2,242.29 539.2,242.96 540.2,243.62 541.2,244.28 542.2,244.95 543.2,245.6 544.2,246.26 545.2,246.91 546.2,247.55 547.2,248.18 548.2,248.8 549.2,249.41 550.2,250.01 551.2,250.6 552.2,251.18 553.2,251.74 554.2,252.28 555.2,252.8 556.2,253.32 557.2,253.83 558.2,254.34 559.2,254.85 560.2,255.35 561.2,255.84 562.2,256.32 563.2,256.8 564.2,257.27 565.2,257.73 566.2,258.19 567.2,258.63 568.2,259.06 569.2,259.48 570.2,259.89 571.2,260.29 572.2,260.67 573.2,261.04 574.2,261.4 575.2,261.74 576.2,262.06 577.2,262.37 578.2,262.67 579.2,262.94 580.2,263.21 581.2,263.46 582.2,263.7 583.2,263.93 584.2,264.16 585.2,264.38 586.2,264.59 587.2,264.81 588.2,265.02 589.2,265.23 590.2,265.45 591.2,265.66 592.2,265.89 593.2,266.12 594.2,266.36 595.2,266.61 596.2,266.87 597.2,267.15 598.2,267.44 599.2,267.74 600.2,268.07 601.2,268.42 602.2,268.82 603.2,269.24 604.2,269.69 605.2,270.17 606.2,270.66 607.2,271.17 608.2,271.7 609.2,272.23 610.2,272.77 611.2,273.31 612.2,273.85 613.2,274.38 614.2,274.91 615.2,275.42 616.2,275.91 617.2,276.38 618.2,276.82 619.2,277.24 620.2,277.62 621.2,277.97 622.2,278.31 623.2,278.64 624.2,278.97 625.2,279.28 626.2,279.59 627.2,279.89 628.2,280.17 629.2,280.45 630.2,280.72 631.2,280.97 632.2,281.22 633.2,281.45 634.2,281.67 635.2,281.88 635.3,281.9" fill="none" stroke="#ff8500" stroke-width="1.3" stroke-dasharray="3.2,2" stroke-linejoin="round" stroke-dashoffset="2.6"/>
<polyline points="481.2,205 482.2,205.48 483.2,205.97 484.2,206.47 485.2,206.98 486.2,207.5 487.2,208.03 488.2,208.57 489.2,209.12 490.2,209.67 491.2,210.23 492.2,210.81 493.2,211.39 494.2,211.97 495.2,212.57 496.2,213.17 497.2,213.78 498.2,214.4 499.2,215.03 500.2,215.68 501.2,216.35 502.2,217.03 503.2,217.72 504.2,218.43 505.2,219.15 506.2,219.87 507.2,220.6 508.2,221.34 509.2,222.08 510.2,222.82 511.2,223.57 512.2,224.31 513.2,225.05 514.2,225.78 515.2,226.51 516.2,227.23 517.2,227.94 518.2,228.65 519.2,229.35 520.2,230.05 521.2,230.75 522.2,231.44 523.2,232.14 524.2,232.83 525.2,233.53 526.2,234.22 527.2,234.92 528.2,235.62 529.2,236.32 530.2,237.02 531.2,237.72 532.2,238.43 533.2,239.14 534.2,239.85 535.2,240.57 536.2,241.29 537.2,242.03 538.2,242.79 539.2,243.55 540.2,244.33 541.2,245.12 542.2,245.91 543.2,246.71 544.2,247.5 545.2,248.29 546.2,249.08 547.2,249.86 548.2,250.62 549.2,251.37 550.2,252.11 551.2,252.82 552.2,253.51 553.2,254.17 554.2,254.81 555.2,255.42 556.2,256 557.2,256.57 558.2,257.12 559.2,257.66 560.2,258.19 561.2,258.7 562.2,259.2 563.2,259.69 564.2,260.18 565.2,260.66 566.2,261.13 567.2,261.6 568.2,262.06 569.2,262.52 570.2,262.98 571.2,263.44 572.2,263.91 573.2,264.37 574.2,264.84 575.2,265.32 576.2,265.8 577.2,266.28 578.2,266.76 579.2,267.24 580.2,267.71 581.2,268.19 582.2,268.66 583.2,269.14 584.2,269.61 585.2,270.08 586.2,270.55 587.2,271.02 588.2,271.49 589.2,271.96 590.2,272.43 591.2,272.89 592.2,273.36 593.2,273.83 594.2,274.29 595.2,274.76 596.2,275.23 597.2,275.69 598.2,276.16 599.2,276.63 600.2,277.09 601.2,277.58 602.2,278.08 603.2,278.6 604.2,279.13 605.2,279.67 606.2,280.21 607.2,280.76 608.2,281.3 609.2,281.85 610.2,282.38 611.2,282.9 612.2,283.41 613.2,283.89 614.2,284.36 615.2,284.8 616.2,285.21 617.2,285.58 618.2,285.93 619.2,286.23 620.2,286.49 621.2,286.71 622.2,286.92 623.2,287.13 624.2,287.33 625.2,287.52 626.2,287.71 627.2,287.89 628.2,288.05 629.2,288.2 630.2,288.33 631.2,288.45 632.2,288.54 633.2,288.62 634.2,288.67 635.2,288.7 635.3,288.7" fill="none" stroke="#b22222" stroke-width="1.3" stroke-dasharray="3.2,2" stroke-linejoin="round" stroke-dashoffset="3.9000000000000004"/>
<polyline points="481.2,204.7 482.2,204.85 483.2,205.01 484.2,205.17 485.2,205.34 486.2,205.51 487.2,205.69 488.2,205.88 489.2,206.08 490.2,206.28 491.2,206.49 492.2,206.71 493.2,206.94 494.2,207.18 495.2,207.43 496.2,207.68 497.2,207.94 498.2,208.21 499.2,208.49 500.2,208.78 501.2,209.07 502.2,209.37 503.2,209.69 504.2,210 505.2,210.33 506.2,210.66 507.2,211.01 508.2,211.36 509.2,211.71 510.2,212.07 511.2,212.45 512.2,212.82 513.2,213.21 514.2,213.6 515.2,213.99 516.2,214.39 517.2,214.8 518.2,215.22 519.2,215.64 520.2,216.06 521.2,216.49 522.2,216.93 523.2,217.37 524.2,217.81 525.2,218.26 526.2,218.72 527.2,219.18 528.2,219.64 529.2,220.11 530.2,220.58 531.2,221.05 532.2,221.53 533.2,222.01 534.2,222.5 535.2,222.99 536.2,223.48 537.2,223.97 538.2,224.47 539.2,224.97 540.2,225.47 541.2,225.97 542.2,226.47 543.2,226.98 544.2,227.49 545.2,228 546.2,228.51 547.2,229.03 548.2,229.54 549.2,230.05 550.2,230.57 551.2,231.09 552.2,231.6 553.2,232.12 554.2,232.64 555.2,233.16 556.2,233.68 557.2,234.19 558.2,234.71 559.2,235.23 560.2,235.75 561.2,236.26 562.2,236.78 563.2,237.29 564.2,237.81 565.2,238.32 566.2,238.83 567.2,239.34 568.2,239.85 569.2,240.35 570.2,240.86 571.2,241.36 572.2,241.86 573.2,242.36 574.2,242.86 575.2,243.35 576.2,243.84 577.2,244.33 578.2,244.82 579.2,245.3 580.2,245.78 581.2,246.26 582.2,246.73 583.2,247.2 584.2,247.67 585.2,248.13 586.2,248.59 587.2,249.05 588.2,249.5 589.2,249.95 590.2,250.39 591.2,250.83 592.2,251.27 593.2,251.7 594.2,252.13 595.2,252.55 596.2,252.97 597.2,253.38 598.2,253.79 599.2,254.2 600.2,254.6 601.2,254.99 602.2,255.38 603.2,255.76 604.2,256.14 605.2,256.51 606.2,256.88 607.2,257.24 608.2,257.6 609.2,257.95 610.2,258.29 611.2,258.63 612.2,258.96 613.2,259.29 614.2,259.61 615.2,259.92 616.2,260.23 617.2,260.53 618.2,260.82 619.2,261.11 620.2,261.39 621.2,261.67 622.2,261.94 623.2,262.2 624.2,262.45 625.2,262.7 626.2,262.94 627.2,263.17 628.2,263.4 629.2,263.62 630.2,263.83 631.2,264.03 632.2,264.23 633.2,264.42 634.2,264.6 635.2,264.77 635.3,264.79" fill="none" stroke="#108080" stroke-width="1.25" stroke-linejoin="round"/>
<polyline points="481.2,204.7 482.2,204.93 483.2,205.15 484.2,205.38 485.2,205.6 486.2,205.83 487.2,206.06 488.2,206.29 489.2,206.53 490.2,206.76 491.2,207 492.2,207.24 493.2,207.49 494.2,207.74 495.2,207.99 496.2,208.25 497.2,208.51 498.2,208.78 499.2,209.05 500.2,209.32 501.2,209.6 502.2,209.89 503.2,210.18 504.2,210.47 505.2,210.77 506.2,211.08 507.2,211.39 508.2,211.71 509.2,212.03 510.2,212.35 511.2,212.69 512.2,213.02 513.2,213.37 514.2,213.72 515.2,214.07 516.2,214.43 517.2,214.8 518.2,215.17 519.2,215.55 520.2,215.93 521.2,216.32 522.2,216.71 523.2,217.11 524.2,217.51 525.2,217.92 526.2,218.34 527.2,218.76 528.2,219.19 529.2,219.62 530.2,220.06 531.2,220.5 532.2,220.95 533.2,221.41 534.2,221.87 535.2,222.33 536.2,222.8 537.2,223.28 538.2,223.76 539.2,224.25 540.2,224.74 541.2,225.23 542.2,225.73 543.2,226.24 544.2,226.75 545.2,227.26 546.2,227.78 547.2,228.31 548.2,228.84 549.2,229.37 550.2,229.91 551.2,230.45 552.2,230.99 553.2,231.54 554.2,232.1 555.2,232.66 556.2,233.22 557.2,233.78 558.2,234.35 559.2,234.92 560.2,235.5 561.2,236.08 562.2,236.66 563.2,237.25 564.2,237.83 565.2,238.43 566.2,239.02 567.2,239.61 568.2,240.21 569.2,240.81 570.2,241.42 571.2,242.02 572.2,242.63 573.2,243.24 574.2,243.85 575.2,244.46 576.2,245.07 577.2,245.68 578.2,246.3 579.2,246.91 580.2,247.53 581.2,248.15 582.2,248.76 583.2,249.38 584.2,250 585.2,250.61 586.2,251.23 587.2,251.84 588.2,252.46 589.2,253.07 590.2,253.69 591.2,254.3 592.2,254.91 593.2,255.52 594.2,256.12 595.2,256.73 596.2,257.33 597.2,257.93 598.2,258.52 599.2,259.12 600.2,259.71 601.2,260.3 602.2,260.88 603.2,261.46 604.2,262.04 605.2,262.61 606.2,263.17 607.2,263.74 608.2,264.29 609.2,264.85 610.2,265.39 611.2,265.93 612.2,266.47 613.2,267 614.2,267.52 615.2,268.04 616.2,268.55 617.2,269.05 618.2,269.54 619.2,270.03 620.2,270.51 621.2,270.98 622.2,271.44 623.2,271.89 624.2,272.34 625.2,272.77 626.2,273.2 627.2,273.61 628.2,274.02 629.2,274.41 630.2,274.79 631.2,275.17 632.2,275.53 633.2,275.88 634.2,276.21 635.2,276.54 635.3,276.57" fill="none" stroke="#ffd700" stroke-width="1.25" stroke-linejoin="round"/>
<polyline points="481.2,204.7 482.2,204.91 483.2,205.12 484.2,205.34 485.2,205.55 486.2,205.76 487.2,205.98 488.2,206.2 489.2,206.42 490.2,206.65 491.2,206.88 492.2,207.11 493.2,207.35 494.2,207.59 495.2,207.84 496.2,208.09 497.2,208.35 498.2,208.61 499.2,208.88 500.2,209.15 501.2,209.43 502.2,209.72 503.2,210.01 504.2,210.31 505.2,210.62 506.2,210.93 507.2,211.24 508.2,211.57 509.2,211.9 510.2,212.23 511.2,212.58 512.2,212.93 513.2,213.29 514.2,213.65 515.2,214.02 516.2,214.4 517.2,214.78 518.2,215.17 519.2,215.57 520.2,215.97 521.2,216.38 522.2,216.8 523.2,217.22 524.2,217.65 525.2,218.09 526.2,218.54 527.2,218.99 528.2,219.44 529.2,219.91 530.2,220.38 531.2,220.86 532.2,221.34 533.2,221.83 534.2,222.33 535.2,222.83 536.2,223.34 537.2,223.85 538.2,224.37 539.2,224.9 540.2,225.44 541.2,225.98 542.2,226.52 543.2,227.07 544.2,227.63 545.2,228.19 546.2,228.76 547.2,229.34 548.2,229.92 549.2,230.5 550.2,231.09 551.2,231.69 552.2,232.29 553.2,232.89 554.2,233.5 555.2,234.12 556.2,234.74 557.2,235.36 558.2,235.99 559.2,236.63 560.2,237.27 561.2,237.91 562.2,238.55 563.2,239.2 564.2,239.86 565.2,240.51 566.2,241.17 567.2,241.84 568.2,242.5 569.2,243.17 570.2,243.85 571.2,244.52 572.2,245.2 573.2,245.88 574.2,246.57 575.2,247.25 576.2,247.94 577.2,248.63 578.2,249.32 579.2,250.01 580.2,250.7 581.2,251.4 582.2,252.09 583.2,252.79 584.2,253.48 585.2,254.18 586.2,254.88 587.2,255.57 588.2,256.27 589.2,256.97 590.2,257.66 591.2,258.36 592.2,259.05 593.2,259.74 594.2,260.43 595.2,261.12 596.2,261.81 597.2,262.5 598.2,263.18 599.2,263.86 600.2,264.54 601.2,265.21 602.2,265.88 603.2,266.55 604.2,267.21 605.2,267.87 606.2,268.53 607.2,269.18 608.2,269.82 609.2,270.47 610.2,271.1 611.2,271.73 612.2,272.36 613.2,272.97 614.2,273.59 615.2,274.19 616.2,274.79 617.2,275.38 618.2,275.97 619.2,276.54 620.2,277.11 621.2,277.67 622.2,278.22 623.2,278.76 624.2,279.3 625.2,279.82 626.2,280.33 627.2,280.84 628.2,281.33 629.2,281.81 630.2,282.28 631.2,282.74 632.2,283.19 633.2,283.63 634.2,284.05 635.2,284.46 635.3,284.5" fill="none" stroke="#ff8500" stroke-width="1.25" stroke-linejoin="round"/>
<polyline points="481.2,204.7 482.2,204.97 483.2,205.23 484.2,205.49 485.2,205.75 486.2,206 487.2,206.25 488.2,206.5 489.2,206.75 490.2,207 491.2,207.25 492.2,207.51 493.2,207.76 494.2,208.01 495.2,208.27 496.2,208.53 497.2,208.79 498.2,209.06 499.2,209.33 500.2,209.6 501.2,209.88 502.2,210.16 503.2,210.45 504.2,210.74 505.2,211.04 506.2,211.34 507.2,211.65 508.2,211.96 509.2,212.28 510.2,212.6 511.2,212.94 512.2,213.27 513.2,213.62 514.2,213.97 515.2,214.33 516.2,214.69 517.2,215.07 518.2,215.45 519.2,215.84 520.2,216.23 521.2,216.63 522.2,217.04 523.2,217.46 524.2,217.89 525.2,218.32 526.2,218.77 527.2,219.22 528.2,219.68 529.2,220.15 530.2,220.62 531.2,221.11 532.2,221.6 533.2,222.1 534.2,222.61 535.2,223.13 536.2,223.66 537.2,224.19 538.2,224.73 539.2,225.29 540.2,225.85 541.2,226.42 542.2,227 543.2,227.58 544.2,228.18 545.2,228.78 546.2,229.39 547.2,230.01 548.2,230.64 549.2,231.28 550.2,231.92 551.2,232.57 552.2,233.23 553.2,233.9 554.2,234.58 555.2,235.26 556.2,235.95 557.2,236.65 558.2,237.35 559.2,238.07 560.2,238.79 561.2,239.51 562.2,240.25 563.2,240.99 564.2,241.73 565.2,242.49 566.2,243.25 567.2,244.01 568.2,244.78 569.2,245.56 570.2,246.34 571.2,247.13 572.2,247.92 573.2,248.72 574.2,249.52 575.2,250.32 576.2,251.14 577.2,251.95 578.2,252.77 579.2,253.59 580.2,254.41 581.2,255.24 582.2,256.07 583.2,256.91 584.2,257.74 585.2,258.58 586.2,259.42 587.2,260.26 588.2,261.1 589.2,261.94 590.2,262.78 591.2,263.62 592.2,264.47 593.2,265.31 594.2,266.15 595.2,266.99 596.2,267.83 597.2,268.66 598.2,269.5 599.2,270.33 600.2,271.16 601.2,271.98 602.2,272.81 603.2,273.62 604.2,274.44 605.2,275.25 606.2,276.05 607.2,276.85 608.2,277.64 609.2,278.42 610.2,279.2 611.2,279.97 612.2,280.73 613.2,281.49 614.2,282.24 615.2,282.97 616.2,283.7 617.2,284.42 618.2,285.13 619.2,285.82 620.2,286.51 621.2,287.18 622.2,287.84 623.2,288.49 624.2,289.12 625.2,289.74 626.2,290.35 627.2,290.94 628.2,291.51 629.2,292.07 630.2,292.61 631.2,293.14 632.2,293.65 633.2,294.14 634.2,294.61 635.2,295.06 635.3,295.1" fill="none" stroke="#b22222" stroke-width="1.25" stroke-linejoin="round"/>
<g stroke="#108080" stroke-opacity="0.6" stroke-width="0.85" fill="none" stroke-dasharray="2.8,1.2"><line x1="642.8" y1="250.2" x2="642.8" y2="254.9"/><line x1="642.8" y1="270.5" x2="642.8" y2="278.4"/><rect x="641" y="254.9" width="3.6" height="15.6"/><line x1="641" y1="261.1" x2="644.6" y2="261.1"/><line x1="641.6" y1="250.2" x2="644" y2="250.2"/><line x1="641.6" y1="278.4" x2="644" y2="278.4"/></g>
<g stroke="#108080" stroke-opacity="0.72" stroke-width="0.85" fill="none"><line x1="647.1" y1="250.6" x2="647.1" y2="258"/><line x1="647.1" y1="275.2" x2="647.1" y2="285.7"/><rect x="645.3" y="258" width="3.6" height="17.2"/><line x1="645.3" y1="265" x2="648.9" y2="265"/><line x1="645.9" y1="250.6" x2="648.3" y2="250.6"/><line x1="645.9" y1="285.7" x2="648.3" y2="285.7"/></g>
<g stroke="#ffd700" stroke-opacity="0.6" stroke-width="0.85" fill="none" stroke-dasharray="2.8,1.2"><line x1="651.3" y1="253.3" x2="651.3" y2="258"/><line x1="651.3" y1="282.3" x2="651.3" y2="285.4"/><rect x="649.5" y="258" width="3.6" height="24.3"/><line x1="649.5" y1="271.3" x2="653.1" y2="271.3"/><line x1="650.1" y1="253.3" x2="652.5" y2="253.3"/><line x1="650.1" y1="285.4" x2="652.5" y2="285.4"/></g>
<g stroke="#ffd700" stroke-opacity="0.72" stroke-width="0.85" fill="none"><line x1="655.6" y1="257.2" x2="655.6" y2="262.7"/><line x1="655.6" y1="288.5" x2="655.6" y2="290.9"/><rect x="653.8" y="262.7" width="3.6" height="25.8"/><line x1="653.8" y1="277.6" x2="657.4" y2="277.6"/><line x1="654.4" y1="257.2" x2="656.8" y2="257.2"/><line x1="654.4" y1="290.9" x2="656.8" y2="290.9"/></g>
<g stroke="#ff8500" stroke-opacity="0.6" stroke-width="0.85" fill="none" stroke-dasharray="2.8,1.2"><line x1="660" y1="258.8" x2="660" y2="267.4"/><line x1="660" y1="290.9" x2="660" y2="295.6"/><rect x="658.2" y="267.4" width="3.6" height="23.5"/><line x1="658.2" y1="282.3" x2="661.8" y2="282.3"/><line x1="658.8" y1="258.8" x2="661.2" y2="258.8"/><line x1="658.8" y1="295.6" x2="661.2" y2="295.6"/></g>
<g stroke="#ff8500" stroke-opacity="0.72" stroke-width="0.85" fill="none"><line x1="664.2" y1="265" x2="664.2" y2="272.1"/><line x1="664.2" y1="295.6" x2="664.2" y2="299.5"/><rect x="662.4" y="272.1" width="3.6" height="23.5"/><line x1="662.4" y1="285.4" x2="666" y2="285.4"/><line x1="663" y1="265" x2="665.4" y2="265"/><line x1="663" y1="299.5" x2="665.4" y2="299.5"/></g>
<g stroke="#b22222" stroke-opacity="0.6" stroke-width="0.85" fill="none" stroke-dasharray="2.8,1.2"><line x1="668.7" y1="266.6" x2="668.7" y2="268.2"/><line x1="668.7" y1="299.5" x2="668.7" y2="303.9"/><rect x="666.9" y="268.2" width="3.6" height="31.3"/><line x1="666.9" y1="288.5" x2="670.5" y2="288.5"/><line x1="667.5" y1="266.6" x2="669.9" y2="266.6"/><line x1="667.5" y1="303.9" x2="669.9" y2="303.9"/></g>
<g stroke="#b22222" stroke-opacity="0.72" stroke-width="0.85" fill="none"><line x1="673.4" y1="272.1" x2="673.4" y2="277.6"/><line x1="673.4" y1="308.1" x2="673.4" y2="308.9"/><rect x="671.6" y="277.6" width="3.6" height="30.5"/><line x1="671.6" y1="295.6" x2="675.2" y2="295.6"/><line x1="672.2" y1="272.1" x2="674.6" y2="272.1"/><line x1="672.2" y1="308.9" x2="674.6" y2="308.9"/></g>
<polygon points="41.5,344.02 44,345.82 46.6,346.63 49,346.39 51.7,347.52 54.5,348.68 57.5,350.94 60.5,352.27 63.4,354.25 65.5,351.59 67.7,352.24 70,351.24 72.1,350.31 74,351.12 75.8,352.57 77.6,351.98 79.4,352.29 83,352.38 86.7,353.11 90,354.41 94,354.18 97.5,354.09 101.3,355.94 103.5,354.7 105.7,353.05 110,353.51 114.5,353.52 116.7,353.48 118.8,354.1 121.3,357.22 123.9,359.94 126.5,357.96 129,356.75 131,358.43 133.4,359.53 136.6,358.12 140,359.33 144,360.33 148,360.38 152,361.01 156,362.71 160,363.35 164,364.56 166.5,363.33 168.2,361.6 168.2,375.51 166.5,376.85 164,375.71 160,375.62 156,374.14 152,374.88 148,373.44 144,371.54 140,372.35 136.6,370.3 133.4,371.64 131,371.08 129,370.33 126.5,369.76 123.9,373.07 121.3,370.56 118.8,367.98 116.7,366.69 114.5,366.76 110,367.25 105.7,366.49 103.5,368 101.3,368.24 97.5,367.96 94,366.77 90,366.81 86.7,365.79 83,364.84 79.4,364.87 77.6,364.15 75.8,365.61 74,362.74 72.1,362.86 70,364.27 67.7,363.1 65.5,365.87 63.4,366.64 60.5,365.28 57.5,363.69 54.5,362.43 51.7,359.86 49,359.62 46.6,358.58 44,356.56 41.5,356.1" fill="#d2d2d2"/>
<polygon points="134.1,352.6 135.1,352.32 136.1,352.27 137.1,351.76 138.1,351.7 139.1,351.08 140.1,350.74 141.1,350.67 142.1,350.78 143.1,350.92 144.1,350.97 145.1,350.52 146.1,350.22 147.1,350.52 148.1,351.19 149.1,352.1 150.1,352.37 151.1,352.41 152.1,352.64 153.1,352.94 154.1,353.53 155.1,353.54 156.1,353.83 157.1,354.23 158.1,355.02 159.1,355.59 160.1,356.44 161.1,356.72 162.1,357.34 163.1,357.69 164.1,358.16 165.1,358.32 166.1,358.78 167.1,359.29 168.1,359.64 169.1,359.67 170.1,359.59 171.1,359.76 172.1,359.69 173.1,359.93 174.1,360.13 175.1,360.25 176.1,360.42 177.1,360.15 178.1,360.22 179.1,359.9 180.1,360.11 181.1,360.23 182.1,360.47 183.1,360.48 184.1,360.74 185.1,361.04 186.1,360.92 187.1,360.93 188.1,360.44 189.1,360.55 190.1,360.36 191.1,360.71 192.1,360.69 193.1,360.64 194.1,360.68 195.1,360.78 196.1,360.85 197.1,361 198.1,361.33 199.1,361.48 200.1,361.44 201.1,361.34 202.1,361.34 203.1,361.31 204.1,361.2 205.1,361.44 206.1,361.57 207.1,361.77 208.1,361.74 209.1,361.89 210.1,362.19 211.1,362.16 212.1,362.05 213.1,361.89 214.1,361.83 215.1,362.15 216.1,362.31 217.1,362.6 218.1,362.4 219.1,362.4 220.1,362.48 221.1,362.61 222.1,362.46 223.1,362.02 224.1,362.11 225.1,362.11 226.1,362.26 227.1,362.26 228.1,362.39 229.1,362.31 230.1,362.15 231.1,362.06 232.1,362.48 233.1,362.2 234.1,362.19 235.1,362.02 236.1,362.6 237.1,362.51 238.1,362.07 239.1,361.64 240.1,361.93 241.1,362.64 242.1,363.25 243.1,363.38 244.1,363.22 245.1,363.2 246.1,363.25 247.1,363.47 248.1,363.45 249.1,363.78 250.1,363.77 251.1,363.7 252.1,363.6 253.1,363.86 254.1,364.03 255.1,364.02 256.1,364.23 257.1,364.71 258.1,365.1 259.1,365.25 260.1,365.32 261.1,364.94 262.1,364.61 263.1,364.3 264.1,364.4 265.1,364.4 266.1,364.4 267.1,364.22 268.1,364.11 269.1,363.53 270.1,363.34 271.1,363.38 272.1,363.36 273.1,363.31 274.1,362.94 275.1,362.69 276.1,362.49 277.1,362.15 278.1,362.08 279.1,361.61 280.1,361.05 281.1,360.47 282.1,360.17 283.1,360.19 284.1,360.01 285.1,359.7 286.1,359.25 287.1,359.12 288.1,358.74 288.6,358.59 288.6,383.85 288.1,383.68 287.1,383.82 286.1,383.8 285.1,383.84 284.1,384.34 283.1,384.51 282.1,384.86 281.1,384.55 280.1,384.37 279.1,384.4 278.1,384.39 277.1,384.74 276.1,384.99 275.1,385.26 274.1,385.26 273.1,385.47 272.1,385.64 271.1,385.69 270.1,385.76 269.1,385.56 268.1,385.92 267.1,385.85 266.1,385.85 265.1,385.81 264.1,385.74 263.1,385.96 262.1,385.91 261.1,386.19 260.1,386.29 259.1,386.21 258.1,385.82 257.1,385.3 256.1,385.2 255.1,385.28 254.1,385.35 253.1,385.14 252.1,385.12 251.1,384.47 250.1,383.78 249.1,382.98 248.1,382.7 247.1,382.46 246.1,381.54 245.1,380.84 244.1,380.23 243.1,379.84 242.1,379.68 241.1,379.05 240.1,378.61 239.1,378.05 238.1,377.53 237.1,377.35 236.1,376.79 235.1,376.82 234.1,376.73 233.1,376.71 232.1,376.4 231.1,375.74 230.1,375.66 229.1,375.36 228.1,375.46 227.1,375.42 226.1,375.46 225.1,375.32 224.1,374.88 223.1,374.81 222.1,374.52 221.1,374.3 220.1,373.94 219.1,373.89 218.1,374.08 217.1,373.97 216.1,373.61 215.1,372.94 214.1,372.18 213.1,371.94 212.1,371.41 211.1,371.23 210.1,370.67 209.1,370.26 208.1,369.54 207.1,369.25 206.1,368.83 205.1,368.93 204.1,368.45 203.1,368.58 202.1,368.26 201.1,368.45 200.1,368.07 199.1,367.44 198.1,366.54 197.1,366.12 196.1,366.23 195.1,366.35 194.1,366.03 193.1,365.49 192.1,364.94 191.1,364.64 190.1,364.83 189.1,364.43 188.1,364.39 187.1,363.42 186.1,363.39 185.1,362.9 184.1,363 183.1,362.45 182.1,362.62 181.1,362.42 180.1,362.36 179.1,361.75 178.1,361.75 177.1,361.36 176.1,361.46 175.1,360.96 174.1,360.94 173.1,360.48 172.1,360.27 171.1,359.96 170.1,359.57 169.1,359.51 168.1,359.42 167.1,359.24 166.1,358.69 165.1,358.23 164.1,357.61 163.1,357.33 162.1,356.86 161.1,356.45 160.1,355.73 159.1,355.2 158.1,354.64 157.1,353.96 156.1,353.44 155.1,353.34 154.1,353.23 153.1,353.1 152.1,352.51 151.1,351.78 150.1,351.1 149.1,350.9 148.1,350.84 147.1,350.51 146.1,350.38 145.1,350.37 144.1,350.6 143.1,350.96 142.1,351.15 141.1,351.53 140.1,351.4 139.1,351.86 138.1,351.72 137.1,351.89 136.1,351.8 135.1,352.21 134.1,352.6" fill="#cae4e5"/>
<polygon points="134.1,352.6 135.1,351.66 136.1,351.51 137.1,351.7 138.1,351.43 139.1,351.49 140.1,351.28 141.1,351.33 142.1,350.89 143.1,350.63 144.1,350.79 145.1,351.24 146.1,351.37 147.1,351.58 148.1,351.37 149.1,351.36 150.1,351.14 151.1,351.39 152.1,351.86 153.1,352.57 154.1,352.93 155.1,353.48 156.1,353.82 157.1,354.36 158.1,354.56 159.1,355.41 160.1,356.05 161.1,356.55 162.1,356.58 163.1,357.36 164.1,357.91 165.1,358.72 166.1,359.08 167.1,359.16 168.1,359.5 169.1,359.51 170.1,359.97 171.1,359.88 172.1,360.22 173.1,360.67 174.1,361.03 175.1,361 176.1,361.34 177.1,361.72 178.1,362.35 179.1,362.52 180.1,362.81 181.1,363.1 182.1,363.3 183.1,363.38 184.1,363.38 185.1,363.62 186.1,363.88 187.1,363.77 188.1,363.9 189.1,364.11 190.1,364.32 191.1,364.41 192.1,364.87 193.1,365.32 194.1,365.76 195.1,365.84 196.1,366.21 197.1,366.42 198.1,366.55 199.1,366.83 200.1,367.16 201.1,367.55 202.1,368.18 203.1,368.62 204.1,369.15 205.1,369.31 206.1,369.69 207.1,369.83 208.1,369.98 209.1,370.26 210.1,370.58 211.1,370.82 212.1,371.26 213.1,371.69 214.1,372.32 215.1,372.48 216.1,372.31 217.1,372.84 218.1,373.25 219.1,373.63 220.1,373.76 221.1,373.89 222.1,374.59 223.1,374.67 224.1,375.16 225.1,375.25 226.1,375.48 227.1,375.47 228.1,375.79 229.1,375.68 230.1,376.01 231.1,376.08 232.1,376.37 233.1,376.36 234.1,376.37 235.1,376.68 236.1,377.08 237.1,377.3 238.1,377.7 239.1,378.06 240.1,378.72 241.1,379.36 242.1,379.73 243.1,380.31 244.1,381.02 245.1,381.58 246.1,381.96 247.1,382.11 248.1,382.8 249.1,383.31 250.1,383.82 251.1,383.93 252.1,384.25 253.1,384.38 254.1,384.68 255.1,384.97 256.1,385.44 257.1,385.73 258.1,385.73 259.1,385.77 260.1,385.97 261.1,386.03 262.1,386.06 263.1,385.86 264.1,385.97 265.1,385.78 266.1,386.02 267.1,385.9 268.1,385.86 269.1,385.64 270.1,385.82 271.1,385.93 272.1,385.6 273.1,385.5 274.1,385.23 275.1,385.49 276.1,385.37 277.1,385.13 278.1,384.84 279.1,384.52 280.1,384.57 281.1,384.75 282.1,384.71 283.1,384.44 284.1,384.49 285.1,384.22 286.1,384.24 287.1,383.72 288.1,383.58 288.6,383.54 288.6,398.87 288.1,398.94 287.1,398.79 286.1,399 285.1,398.71 284.1,398.8 283.1,398.54 282.1,399.34 281.1,399.7 280.1,399.98 279.1,399.66 278.1,399.92 277.1,400.02 276.1,400.38 275.1,400.11 274.1,400.35 273.1,400.05 272.1,400.3 271.1,400.46 270.1,400.73 269.1,400.65 268.1,400.53 267.1,400.85 266.1,401.01 265.1,400.95 264.1,400.64 263.1,401.02 262.1,401.33 261.1,401.59 260.1,401.6 259.1,401.68 258.1,402.29 257.1,402.51 256.1,403.14 255.1,403.14 254.1,403.56 253.1,403.42 252.1,403.59 251.1,403.62 250.1,404.13 249.1,404.16 248.1,404.1 247.1,403.96 246.1,404.18 245.1,404.6 244.1,404.86 243.1,404.83 242.1,404.91 241.1,404.52 240.1,404.63 239.1,404.42 238.1,404.53 237.1,404.61 236.1,404.79 235.1,404.89 234.1,404.87 233.1,404.68 232.1,404.51 231.1,403.82 230.1,403.54 229.1,403.12 228.1,402.85 227.1,402.5 226.1,402.47 225.1,402.4 224.1,402.33 223.1,402.2 222.1,402.18 221.1,402.13 220.1,402.03 219.1,401.97 218.1,401.73 217.1,401.67 216.1,401.52 215.1,401.77 214.1,401.37 213.1,401.63 212.1,401.55 211.1,401.91 210.1,401.73 209.1,401.57 208.1,401.51 207.1,401.77 206.1,401.94 205.1,401.84 204.1,401.73 203.1,401.1 202.1,400.79 201.1,400.4 200.1,400.41 199.1,400.67 198.1,400.69 197.1,400.57 196.1,399.84 195.1,399.3 194.1,398.91 193.1,398.62 192.1,398.12 191.1,397.8 190.1,397.36 189.1,396.74 188.1,396.19 187.1,395.26 186.1,394.68 185.1,393.94 184.1,393.7 183.1,393.25 182.1,392.41 181.1,391.66 180.1,391.07 179.1,390.74 178.1,390.57 177.1,390.18 176.1,389.97 175.1,389.34 174.1,389.03 173.1,388.5 172.1,388.27 171.1,387.58 170.1,387.47 169.1,387.27 168.1,387.36 167.1,387.04 166.1,386.38 165.1,386.14 164.1,385.52 163.1,385.57 162.1,385.35 161.1,385.55 160.1,385.16 159.1,384.67 158.1,384.18 157.1,384.11 156.1,384.32 155.1,384.05 154.1,383.64 153.1,383.5 152.1,383.09 151.1,383.32 150.1,382.87 149.1,382.69 148.1,382.27 147.1,382.11 146.1,382.34 145.1,382.23 144.1,382.09 143.1,381.78 142.1,381.55 141.1,381.32 140.1,381.26 139.1,380.97 138.1,381.03 137.1,380.91 136.1,380.86 135.1,380.25 134.1,380.5" fill="#c8c0c2"/>
<polygon points="134.1,380.5 135.1,380.77 136.1,380.33 137.1,380.51 138.1,380.24 139.1,381.03 140.1,381.21 141.1,381.96 142.1,382.1 143.1,382.2 144.1,382.09 145.1,382.03 146.1,382.44 147.1,382.6 148.1,382.8 149.1,382.53 150.1,382.72 151.1,382.89 152.1,383.28 153.1,383.51 154.1,383.69 155.1,383.71 156.1,383.98 157.1,383.99 158.1,384.33 159.1,384.79 160.1,385.12 161.1,385.33 162.1,385.86 163.1,386.05 164.1,385.99 165.1,385.59 166.1,386.42 167.1,387.43 168.1,387.55 169.1,387.61 170.1,387.53 171.1,387.99 172.1,387.85 173.1,388.43 174.1,388.76 175.1,389.62 176.1,389.84 177.1,390.82 178.1,391.43 179.1,391.63 180.1,391.66 181.1,392.09 182.1,392.52 183.1,392.97 184.1,393.28 185.1,393.69 186.1,394.04 187.1,394.23 188.1,395.23 189.1,395.99 190.1,397.15 191.1,397.73 192.1,398.52 193.1,398.82 194.1,399.36 195.1,399.54 196.1,399.62 197.1,399.97 198.1,400.43 199.1,401.32 200.1,401.27 201.1,401.16 202.1,400.6 203.1,400.01 204.1,400 205.1,400.48 206.1,401.13 207.1,400.9 208.1,400.93 209.1,400.98 210.1,401.43 211.1,401.22 212.1,401.31 213.1,401.48 214.1,401.22 215.1,401.2 216.1,401.01 217.1,401.58 218.1,401.42 219.1,401.85 220.1,401.74 221.1,402.31 222.1,401.94 223.1,402.12 224.1,402.05 225.1,402.12 226.1,402.15 227.1,402.26 228.1,402.65 229.1,402.84 230.1,402.93 231.1,403.32 232.1,403.8 233.1,404.18 234.1,404.18 235.1,404.5 236.1,404.71 237.1,405.12 238.1,404.88 239.1,404.84 240.1,404.91 241.1,404.79 242.1,404.83 243.1,404.32 244.1,403.99 245.1,403.79 246.1,404.33 247.1,404.56 248.1,404.88 249.1,404.45 250.1,404.37 251.1,403.73 252.1,403.47 253.1,403.55 254.1,403.69 255.1,403.35 256.1,402.67 257.1,402.47 258.1,402.26 259.1,402.31 260.1,401.65 261.1,401.68 262.1,401.63 263.1,401.83 264.1,401.63 265.1,401.23 266.1,400.94 267.1,400.78 268.1,400.89 269.1,401.05 270.1,401.04 271.1,400.46 272.1,400.04 273.1,399.93 274.1,400.1 275.1,399.84 276.1,399.81 277.1,400.23 278.1,400.15 279.1,399.94 280.1,399.65 281.1,399.71 282.1,399.52 283.1,399.14 284.1,399.24 285.1,399.14 286.1,399.21 287.1,398.62 288.1,398.74 288.6,398.5 288.6,454.76 288.1,454.89 287.1,454.87 286.1,455.08 285.1,455.18 284.1,455.57 283.1,455.99 282.1,456.53 281.1,456.89 280.1,457.45 279.1,457.75 278.1,458.12 277.1,458.4 276.1,458.67 275.1,458.76 274.1,458.56 273.1,458.42 272.1,458.35 271.1,458.06 270.1,457.33 269.1,456.43 268.1,455.99 267.1,455.17 266.1,454.82 265.1,453.73 264.1,453.21 263.1,452.78 262.1,452.45 261.1,452.06 260.1,451.28 259.1,450.73 258.1,450.33 257.1,449.98 256.1,449.53 255.1,448.93 254.1,448.43 253.1,448.01 252.1,447.37 251.1,446.42 250.1,445.89 249.1,445.05 248.1,443.7 247.1,442.32 246.1,440.93 245.1,440.52 244.1,439.68 243.1,438.91 242.1,437.84 241.1,436.24 240.1,435 239.1,433.46 238.1,432.32 237.1,431.39 236.1,431.02 235.1,430.48 234.1,430.03 233.1,429.21 232.1,428.44 231.1,427.6 230.1,426.59 229.1,426.49 228.1,425.92 227.1,425.65 226.1,424.8 225.1,424.44 224.1,423.66 223.1,423.03 222.1,422.02 221.1,421.13 220.1,420.29 219.1,419.53 218.1,419.03 217.1,418.79 216.1,418.51 215.1,417.92 214.1,417 213.1,416.48 212.1,416.28 211.1,415.99 210.1,415.55 209.1,415.44 208.1,415.32 207.1,414.9 206.1,413.85 205.1,412.63 204.1,411.4 203.1,410.38 202.1,409.23 201.1,408.34 200.1,407.48 199.1,406.3 198.1,405.11 197.1,403.84 196.1,403.16 195.1,402.39 194.1,401.98 193.1,401.5 192.1,400.7 191.1,399.76 190.1,399.05 189.1,398.71 188.1,398.37 187.1,397.98 186.1,397.58 185.1,397.07 184.1,396.42 183.1,396.38 182.1,395.81 181.1,395.47 180.1,394.42 179.1,393.91 178.1,393.43 177.1,393.4 176.1,392.83 175.1,392.57 174.1,391.78 173.1,391.78 172.1,391.54 171.1,391.31 170.1,390.68 169.1,389.78 168.1,388.69 167.1,388.43 166.1,387.78 165.1,387.68 164.1,386.99 163.1,386.88 162.1,386.76 161.1,386.64 160.1,386.18 159.1,385.78 158.1,385.44 157.1,385.47 156.1,385.19 155.1,384.25 154.1,383.74 153.1,383.26 152.1,383.33 151.1,383.34 150.1,383.22 149.1,383.35 148.1,382.71 147.1,382.73 146.1,382.03 145.1,382 144.1,381.52 143.1,381.59 142.1,381.51 141.1,381.29 140.1,381.31 139.1,381.25 138.1,381.28 137.1,381.29 136.1,380.92 135.1,380.58 134.1,380.5" fill="#eed1d4"/>
<polygon points="134.1,358.8 145,357.5 155,359.5 168.2,362.5 168.2,378.5 155,380 145,380 134.1,380.5" fill="#aaa3a5"/>
<polyline points="41.5,350.3 42.5,350.91 43.5,350.98 44.5,351.07 45.5,351.85 46.5,352.25 47.5,352.38 48.5,352.71 49.5,352.98 50.5,353.26 51.5,353.93 52.5,354.66 53.5,354.99 54.5,355.63 55.5,355.94 56.5,356.3 57.5,357.23 58.5,358.08 59.5,358.57 60.5,358.68 61.5,359.36 62.5,360.03 63.5,360.23 64.5,360.02 65.5,359.29 66.5,358.28 67.5,357.73 68.5,357.8 69.5,357.59 70.5,357.13 71.5,356.6 72.5,356.77 73.5,357.37 74.5,358.26 75.5,359.49 76.5,359.18 77.5,358.06 78.5,358.21 79.5,358.51 80.5,358.75 81.5,359.13 82.5,359 83.5,358.71 84.5,358.64 85.5,359.21 86.5,359.25 87.5,359.59 88.5,359.9 89.5,359.82 90.5,360.5 91.5,361.07 92.5,361.31 93.5,360.8 94.5,360.91 95.5,360.85 96.5,360.73 97.5,361.06 98.5,361.2 99.5,361.36 100.5,361.96 101.5,362.29 102.5,361.52 103.5,360.87 104.5,360.79 105.5,360.92 106.5,360.63 107.5,360.31 108.5,360.29 109.5,360.44 110.5,360.63 111.5,360.7 112.5,360.59 113.5,360.33 114.5,359.86 115.5,360.27 116.5,360.65 117.5,360.78 118.5,361 119.5,361.38 120.5,362.64 121.5,363.66 122.5,364.78 123.5,365.38 124.5,365.32 125.5,365.32 126.5,364.64 127.5,363.74 128.5,363.41 129.5,363.76 130.5,364.58 131.5,364.68 132.5,365.13 133.5,365.71 134.5,365.41 135.5,365.25 136.5,365.03 137.5,365.01 138.5,365.23 139.5,365.42 140.5,365.48 141.5,365.25 142.5,365.78 143.5,366.11 144.5,365.86 145.5,366.31 146.5,366.78 147.5,366.86 148.5,366.68 149.5,366.67 150.5,367.15 151.5,367.83 152.5,368.45 153.5,368.33 154.5,367.92 155.5,368.23 156.5,369.08 157.5,369.04 158.5,368.92 159.5,369.2 160.5,369.62 161.5,369.88 162.5,369.62 163.5,370.15 164.5,370.74 165.5,371.01 166.5,370.99 167.5,369.64 168.2,368.19" fill="none" stroke="#111" stroke-width="1.15" stroke-linejoin="round"/>
<polyline points="134.4,371.6 135.4,371.45 136.4,370.89 137.4,370.54 138.4,370.98 139.4,370.81 140.4,371.07 141.4,370.69 142.4,371.16 143.4,371.26 144.4,371.76 145.4,372.19 146.4,372.72 147.4,373.34 148.4,374 149.4,374.95 150.4,375.93 151.4,376.63 152.4,377.09 153.4,377.5 154.4,377.87 155.4,378.57 156.4,379.01 157.4,379.71 158.4,379.92 159.4,380.44 160.4,381.08 161.4,381.64 162.4,381.9 163.4,382.1 164.4,382.57 165.4,382.97 166.4,383.47 167.4,383.84 168.4,384.54 169.4,385.46 170.4,386.17 171.4,387 172.4,387.02 173.4,387.22 174.4,387.24 175.4,387.76 176.4,388.4 177.4,388.9 178.4,389.24 179.4,389.74 180.4,390.08 181.4,390.66 182.4,390.97 183.4,391.4 184.4,391.65 185.4,391.78 186.4,392.15 187.4,392.5 188.4,392.82 189.4,393.4 190.4,393.56 191.4,393.64 192.4,393.17 193.4,393.19 194.4,393.21 195.4,393.67 196.4,393.73 197.4,394.24 198.4,394.01 199.4,394.28 200.4,394.44 201.4,394.8 202.4,394.49 203.4,394.26 204.4,393.92 205.4,394.14 206.4,393.87 207.4,393.9 208.4,393.38 209.4,392.81 210.4,392.09 211.4,392 212.4,391.76 213.4,391.68 214.4,391.59 215.4,391.5 216.4,391.08 217.4,390.63 218.4,390.45 219.4,390.17 220.4,389.93 221.4,389.67 222.4,389.76 223.4,389.31 224.4,389.25 225.4,388.84 226.4,388.94 227.4,388.36 228.4,388.29 229.4,387.93 230.4,387.7 231.4,387.13 232.4,386.75 233.4,386.63 234.4,386.64 235.4,386.53 236.4,386.83 237.4,386.77 238.4,386.86 239.4,386.34 240.4,386.28 241.4,385.88 242.4,385.61 243.4,385.29 244.4,385.34 245.4,384.84 246.4,384.6 247.4,384.15 248.4,384.04 249.4,383.93 250.4,383.71 251.4,383.99 252.4,383.9 253.4,383.77 254.4,383.52 255.4,382.98 256.4,383.24 257.4,383.16 258.4,383.21 259.4,382.62 260.4,382.43 261.4,382.45 262.4,382.5 263.4,382.25 264.4,382.17 265.4,381.73 266.4,381.41 267.4,380.62 268.4,380.04 269.4,379.47 270.4,378.95 271.4,378.42 272.4,377.78 273.4,377.06 274.4,376.7 275.4,375.96 276.4,375.97 277.4,375.41 278.4,375.19 279.4,374.34 280.4,373.47 281.4,373.09 282.4,372.86 283.4,372.31 284.4,371.76 285.4,371.03 286.4,370.7 287.4,369.89 288.4,369.05 288.6,368.79" fill="none" stroke="#108080" stroke-width="1.3" stroke-dasharray="3.2,2" stroke-linejoin="round" stroke-dashoffset="0.0"/>
<polyline points="134.4,371.6 135.4,371.3 136.4,370.94 137.4,370.85 138.4,370.68 139.4,370.92 140.4,370.82 141.4,370.97 142.4,370.83 143.4,371.41 144.4,371.87 145.4,372.44 146.4,372.76 147.4,373.21 148.4,373.71 149.4,374.46 150.4,375.08 151.4,376.09 152.4,376.6 153.4,377.26 154.4,377.95 155.4,378.69 156.4,379.09 157.4,379.6 158.4,379.88 159.4,380.4 160.4,380.8 161.4,381.56 162.4,382.25 163.4,382.58 164.4,382.73 165.4,382.93 166.4,383.54 167.4,384.34 168.4,385.02 169.4,385.64 170.4,386.05 171.4,386.76 172.4,386.75 173.4,386.75 174.4,386.87 175.4,387.7 176.4,388.37 177.4,388.87 178.4,388.97 179.4,389.25 180.4,389.47 181.4,390.22 182.4,390.93 183.4,391.3 184.4,391.53 185.4,391.66 186.4,392.13 187.4,392.23 188.4,392.61 189.4,392.69 190.4,393.01 191.4,392.99 192.4,393.04 193.4,393.13 194.4,393.26 195.4,393.52 196.4,393.64 197.4,394.08 198.4,394.3 199.4,394.9 200.4,395.47 201.4,396.02 202.4,396.66 203.4,397.25 204.4,397.81 205.4,397.7 206.4,397.45 207.4,397.64 208.4,398.37 209.4,398.85 210.4,399.02 211.4,398.68 212.4,398.45 213.4,398.38 214.4,398.23 215.4,398.31 216.4,398.32 217.4,398.5 218.4,398.6 219.4,398.43 220.4,398.5 221.4,398.44 222.4,398.16 223.4,397.78 224.4,397.47 225.4,397.71 226.4,397.77 227.4,397.77 228.4,397.52 229.4,397.4 230.4,397.34 231.4,397.05 232.4,396.52 233.4,396.34 234.4,396.28 235.4,396.45 236.4,396.24 237.4,396.05 238.4,395.78 239.4,395.97 240.4,396.34 241.4,396.75 242.4,396.62 243.4,396.48 244.4,396.26 245.4,396.24 246.4,396.12 247.4,396.1 248.4,396.13 249.4,396.48 250.4,396.25 251.4,396.3 252.4,396.06 253.4,396.07 254.4,395.87 255.4,395.6 256.4,395.52 257.4,395.15 258.4,394.65 259.4,394.74 260.4,394.94 261.4,395.15 262.4,394.53 263.4,393.89 264.4,393.33 265.4,392.81 266.4,392.23 267.4,391.72 268.4,391.22 269.4,390.39 270.4,389.5 271.4,389.03 272.4,388.71 273.4,388.35 274.4,388.07 275.4,387.73 276.4,387.3 277.4,386.7 278.4,386.71 279.4,386.3 280.4,386.29 281.4,385.86 282.4,385.73 283.4,385.09 284.4,384.82 285.4,384.64 286.4,384.38 287.4,384.23 288.4,384.03 288.6,384.08" fill="none" stroke="#ffd700" stroke-width="1.3" stroke-dasharray="3.2,2" stroke-linejoin="round" stroke-dashoffset="1.3"/>
<polyline points="134.4,371.6 135.4,371.5 136.4,371.19 137.4,370.78 138.4,370.37 139.4,370.49 140.4,370.66 141.4,370.62 142.4,370.3 143.4,370.45 144.4,371.3 145.4,372.22 146.4,372.88 147.4,373.33 148.4,373.88 149.4,374.55 150.4,375.44 151.4,376.02 152.4,376.55 153.4,377.38 154.4,378.07 155.4,378.91 156.4,379.19 157.4,379.71 158.4,380.15 159.4,380.84 160.4,381.55 161.4,382.09 162.4,382.26 163.4,382.9 164.4,383.35 165.4,384.05 166.4,383.98 167.4,384.32 168.4,384.8 169.4,385.14 170.4,385.56 171.4,385.99 172.4,387.12 173.4,387.73 174.4,387.89 175.4,387.67 176.4,388.15 177.4,388.59 178.4,389.14 179.4,389.72 180.4,390.28 181.4,390.68 182.4,390.62 183.4,391.19 184.4,391.8 185.4,392.1 186.4,391.9 187.4,391.92 188.4,392.53 189.4,393.16 190.4,393.38 191.4,393.74 192.4,394.44 193.4,395.29 194.4,395.86 195.4,396.2 196.4,396.53 197.4,396.77 198.4,396.9 199.4,397.13 200.4,397.27 201.4,397.88 202.4,398.46 203.4,399.06 204.4,399.35 205.4,399.58 206.4,399.76 207.4,400.03 208.4,400.29 209.4,400.7 210.4,400.64 211.4,400.92 212.4,401.34 213.4,401.94 214.4,402.2 215.4,402.17 216.4,402.43 217.4,403.12 218.4,403.6 219.4,404.2 220.4,404.2 221.4,404.79 222.4,404.85 223.4,405.32 224.4,405.57 225.4,406.09 226.4,406.19 227.4,406.35 228.4,406.42 229.4,406.87 230.4,407.18 231.4,407.57 232.4,407.99 233.4,408.14 234.4,408.31 235.4,408.36 236.4,408.73 237.4,408.95 238.4,409.35 239.4,409.42 240.4,410.06 241.4,410.19 242.4,410.79 243.4,410.54 244.4,410.72 245.4,410.8 246.4,411.56 247.4,411.96 248.4,412.54 249.4,412.5 250.4,413.12 251.4,413.15 252.4,413.37 253.4,413.19 254.4,413.72 255.4,414.35 256.4,415.06 257.4,415.33 258.4,415.73 259.4,416.19 260.4,416.36 261.4,416.46 262.4,416.2 263.4,415.95 264.4,415.82 265.4,416.04 266.4,416.07 267.4,416.33 268.4,415.98 269.4,415.97 270.4,415.5 271.4,415.15 272.4,414.81 273.4,414.6 274.4,414.2 275.4,413.89 276.4,413.18 277.4,413.01 278.4,413.19 279.4,413.22 280.4,412.64 281.4,411.42 282.4,410.87 283.4,410.67 284.4,410.38 285.4,410 286.4,409.43 287.4,409.12 288.4,408.47 288.6,408.28" fill="none" stroke="#ff8500" stroke-width="1.3" stroke-dasharray="3.2,2" stroke-linejoin="round" stroke-dashoffset="2.6"/>
<polyline points="134.4,371.6 135.4,371.37 136.4,371.1 137.4,370.79 138.4,370.77 139.4,370.71 140.4,371.06 141.4,371.19 142.4,371.42 143.4,371.53 144.4,371.64 145.4,372.36 146.4,372.87 147.4,373.64 148.4,374.25 149.4,375.07 150.4,375.85 151.4,376.65 152.4,377.43 153.4,377.98 154.4,378.62 155.4,379.17 156.4,379.73 157.4,380.41 158.4,381.25 159.4,381.75 160.4,382.18 161.4,383.07 162.4,383.63 163.4,384.32 164.4,384.68 165.4,385.45 166.4,385.95 167.4,386.24 168.4,387.04 169.4,387.73 170.4,388.2 171.4,388.4 172.4,388.63 173.4,389.16 174.4,389.75 175.4,390.04 176.4,390.74 177.4,391.12 178.4,391.78 179.4,392.25 180.4,392.94 181.4,393.27 182.4,393.8 183.4,394.27 184.4,394.89 185.4,395.51 186.4,395.73 187.4,396.16 188.4,396.49 189.4,397.03 190.4,397.91 191.4,398.48 192.4,399.51 193.4,399.73 194.4,400.13 195.4,400.59 196.4,401.07 197.4,401.85 198.4,401.92 199.4,402.55 200.4,402.98 201.4,403.53 202.4,403.75 203.4,403.94 204.4,404.63 205.4,405.34 206.4,406.04 207.4,406.38 208.4,406.9 209.4,407.27 210.4,407.61 211.4,408.2 212.4,408.82 213.4,409.23 214.4,409.71 215.4,410.42 216.4,411.63 217.4,411.95 218.4,412.33 219.4,412.6 220.4,413.42 221.4,413.74 222.4,414.16 223.4,414.39 224.4,414.91 225.4,415.13 226.4,415.64 227.4,415.96 228.4,416.47 229.4,416.76 230.4,417.33 231.4,417.86 232.4,418.14 233.4,418.12 234.4,418.07 235.4,418.28 236.4,418.45 237.4,418.88 238.4,419.36 239.4,420.52 240.4,421.44 241.4,422.75 242.4,423.84 243.4,424.83 244.4,425.52 245.4,425.98 246.4,426.47 247.4,427.14 248.4,427.59 249.4,427.99 250.4,428.05 251.4,428.62 252.4,428.76 253.4,428.88 254.4,428.38 255.4,428.24 256.4,427.8 257.4,427.42 258.4,426.58 259.4,425.95 260.4,425.59 261.4,425.57 262.4,425.12 263.4,424.71 264.4,424.24 265.4,424.66 266.4,424.11 267.4,423.61 268.4,422.56 269.4,422.49 270.4,422.4 271.4,422.13 272.4,421.83 273.4,421.57 274.4,421.07 275.4,420.41 276.4,419.41 277.4,418.58 278.4,417.49 279.4,416.53 280.4,415.48 281.4,414.7 282.4,414.21 283.4,413.83 284.4,413.63 285.4,413.43 286.4,413.85 287.4,414.27 288.4,415.08 288.6,415.13" fill="none" stroke="#b22222" stroke-width="1.3" stroke-dasharray="3.2,2" stroke-linejoin="round" stroke-dashoffset="3.9000000000000004"/>
<polyline points="134.1,365 135.1,364.65 136.1,364.97 137.1,365.05 138.1,365.11 139.1,365.06 140.1,365.51 141.1,365.65 142.1,365.75 143.1,365.74 144.1,366.04 145.1,366.35 146.1,366.41 147.1,366.45 148.1,366.39 149.1,366.7 150.1,367.01 151.1,367.49 152.1,367.72 153.1,368.23 154.1,368.57 155.1,368.91 156.1,369.06 157.1,369.25 158.1,369.51 159.1,369.78 160.1,370.36 161.1,370.68 162.1,370.92 163.1,371.01 164.1,371.39 165.1,371.58 166.1,371.48 167.1,371.6 168.1,372.14 169.1,372.6 170.1,372.97 171.1,373.13 172.1,373.57 173.1,373.67 174.1,373.84 175.1,374.24 176.1,374.72 177.1,374.73 178.1,374.99 179.1,375.48 180.1,376.08 181.1,376.33 182.1,376.24 183.1,376.56 184.1,376.72 185.1,376.98 186.1,377.31 187.1,377.56 188.1,377.89 189.1,378.05 190.1,377.83 191.1,377.93 192.1,377.73 193.1,378.1 194.1,378.19 195.1,378.41 196.1,378.64 197.1,378.64 198.1,378.9 199.1,379.19 200.1,379.42 201.1,379.68 202.1,379.54 203.1,379.87 204.1,379.77 205.1,379.97 206.1,379.82 207.1,380.18 208.1,380.25 209.1,380.49 210.1,380.56 211.1,380.89 212.1,381.11 213.1,381.11 214.1,381.24 215.1,381.34 216.1,381.39 217.1,381.49 218.1,381.27 219.1,381.3 220.1,381.23 221.1,381.46 222.1,381.54 223.1,381.33 224.1,381.11 225.1,381 226.1,381.12 227.1,381.18 228.1,381.05 229.1,380.94 230.1,381.29 231.1,381.62 232.1,381.96 233.1,381.68 234.1,381.54 235.1,381.2 236.1,381.44 237.1,381.36 238.1,381.43 239.1,381.29 240.1,381.24 241.1,381.2 242.1,381.04 243.1,381.25 244.1,381.44 245.1,381.5 246.1,381.64 247.1,381.54 248.1,381.71 249.1,381.69 250.1,381.75 251.1,381.63 252.1,381.69 253.1,381.83 254.1,382.38 255.1,382.66 256.1,382.93 257.1,382.65 258.1,382.71 259.1,382.73 260.1,382.87 261.1,382.92 262.1,382.85 263.1,382.88 264.1,382.64 265.1,382.4 266.1,382.37 267.1,382.04 268.1,382 269.1,381.46 270.1,381.42 271.1,381.02 272.1,381.08 273.1,380.79 274.1,380.68 275.1,380.29 276.1,380.12 277.1,379.93 278.1,380.07 279.1,380.05 280.1,379.89 281.1,379.75 282.1,379.64 283.1,379.75 284.1,379.58 285.1,379.28 286.1,378.96 287.1,378.73 288.1,379 288.6,379.02" fill="none" stroke="#108080" stroke-width="1.25" stroke-linejoin="round"/>
<polyline points="134.1,365 135.1,364.92 136.1,365.21 137.1,365.08 138.1,365.32 139.1,365.37 140.1,365.51 141.1,365.32 142.1,365.27 143.1,365.48 144.1,365.97 145.1,366.43 146.1,366.62 147.1,366.57 148.1,366.89 149.1,367.26 150.1,367.44 151.1,367.41 152.1,367.5 153.1,367.93 154.1,368.38 155.1,368.72 156.1,369.08 157.1,369.38 158.1,369.85 159.1,370.04 160.1,370.24 161.1,370.69 162.1,371.03 163.1,371.32 164.1,371.38 165.1,371.58 166.1,371.78 167.1,372.19 168.1,372.69 169.1,372.85 170.1,372.88 171.1,372.79 172.1,372.99 173.1,373.24 174.1,373.88 175.1,374.35 176.1,374.83 177.1,374.77 178.1,375.1 179.1,375.21 180.1,375.65 181.1,376.06 182.1,376.41 183.1,376.61 184.1,376.57 185.1,376.68 186.1,377 187.1,377.33 188.1,377.42 189.1,377.4 190.1,377.78 191.1,378.21 192.1,378.56 193.1,378.71 194.1,378.95 195.1,379.22 196.1,379.33 197.1,379.64 198.1,380.02 199.1,380.51 200.1,380.73 201.1,380.89 202.1,380.89 203.1,380.95 204.1,381.09 205.1,381.41 206.1,381.73 207.1,382.22 208.1,382.64 209.1,382.87 210.1,383.02 211.1,382.95 212.1,383.12 213.1,383.19 214.1,383.63 215.1,383.91 216.1,384.22 217.1,384.46 218.1,384.55 219.1,384.9 220.1,385.22 221.1,385.91 222.1,386.05 223.1,386.22 224.1,386.09 225.1,386.73 226.1,387.07 227.1,387.68 228.1,387.61 229.1,387.9 230.1,388.08 231.1,388.4 232.1,388.53 233.1,388.73 234.1,389 235.1,389.11 236.1,389.58 237.1,389.83 238.1,390.18 239.1,390.09 240.1,390.14 241.1,390.17 242.1,390.29 243.1,390.34 244.1,390.57 245.1,390.51 246.1,390.75 247.1,390.5 248.1,390.61 249.1,390.59 250.1,390.92 251.1,391.09 252.1,390.91 253.1,390.69 254.1,390.75 255.1,390.87 256.1,390.79 257.1,390.78 258.1,390.95 259.1,391.04 260.1,390.87 261.1,391.01 262.1,391.17 263.1,391.25 264.1,391.11 265.1,391.44 266.1,391.41 267.1,391.64 268.1,391.61 269.1,392.01 270.1,392.19 271.1,392.29 272.1,392.41 273.1,392.46 274.1,392.7 275.1,392.37 276.1,392.29 277.1,392.08 278.1,392.14 279.1,392.24 280.1,392.17 281.1,391.97 282.1,391.57 283.1,391.38 284.1,391.38 285.1,391.06 286.1,390.76 287.1,390.49 288.1,390.15 288.6,389.91" fill="none" stroke="#ffd700" stroke-width="1.25" stroke-linejoin="round"/>
<polyline points="134.1,365 135.1,365.05 136.1,365.2 137.1,365.16 138.1,364.98 139.1,364.97 140.1,365.31 141.1,365.61 142.1,365.62 143.1,365.93 144.1,366.19 145.1,366.48 146.1,366.68 147.1,366.82 148.1,366.87 149.1,366.95 150.1,366.98 151.1,367.45 152.1,367.67 153.1,368.07 154.1,368.17 155.1,368.67 156.1,369.01 157.1,369.37 158.1,369.5 159.1,369.91 160.1,370.33 161.1,370.72 162.1,370.98 163.1,371.48 164.1,371.63 165.1,371.76 166.1,371.62 167.1,372 168.1,372.47 169.1,372.81 170.1,372.87 171.1,372.86 172.1,373.22 173.1,373.69 174.1,374.14 175.1,374.23 176.1,374.44 177.1,374.66 178.1,375.06 179.1,375.43 180.1,375.73 181.1,376.08 182.1,376.26 183.1,376.55 184.1,376.82 185.1,376.9 186.1,377.09 187.1,377.22 188.1,377.59 189.1,377.86 190.1,378.38 191.1,378.61 192.1,379.04 193.1,378.88 194.1,379.22 195.1,379.38 196.1,379.96 197.1,380.37 198.1,380.72 199.1,380.87 200.1,380.99 201.1,381.28 202.1,381.58 203.1,381.76 204.1,381.78 205.1,381.98 206.1,382.52 207.1,382.99 208.1,383.52 209.1,383.7 210.1,384.02 211.1,384.33 212.1,384.66 213.1,385.03 214.1,385.19 215.1,385.52 216.1,385.76 217.1,386.04 218.1,386.52 219.1,386.89 220.1,387.44 221.1,387.86 222.1,388.41 223.1,388.96 224.1,389.36 225.1,389.73 226.1,390.14 227.1,390.44 228.1,390.83 229.1,391.19 230.1,391.81 231.1,392.59 232.1,393.17 233.1,393.77 234.1,394.4 235.1,394.97 236.1,395.6 237.1,395.77 238.1,396.24 239.1,396.45 240.1,396.96 241.1,397.53 242.1,397.85 243.1,398.37 244.1,398.7 245.1,399.25 246.1,399.39 247.1,399.76 248.1,400.14 249.1,400.73 250.1,401.08 251.1,401.7 252.1,401.97 253.1,402.15 254.1,402.26 255.1,402.63 256.1,403.24 257.1,403.61 258.1,403.92 259.1,404.22 260.1,404.24 261.1,404.39 262.1,404.37 263.1,404.77 264.1,404.98 265.1,405.52 266.1,405.89 267.1,406.23 268.1,406.36 269.1,406.78 270.1,407.42 271.1,408.14 272.1,408.78 273.1,408.98 274.1,408.81 275.1,408.33 276.1,408.46 277.1,408.62 278.1,408.99 279.1,409.01 280.1,409.23 281.1,409.55 282.1,409.76 283.1,409.86 284.1,409.67 285.1,409.5 286.1,409.51 287.1,409.68 288.1,410.16 288.6,410.23" fill="none" stroke="#ff8500" stroke-width="1.25" stroke-linejoin="round"/>
<polyline points="134.1,365 135.1,365.13 136.1,365.07 137.1,364.83 138.1,365.17 139.1,365.43 140.1,365.88 141.1,365.82 142.1,366.16 143.1,366.45 144.1,366.74 145.1,366.71 146.1,366.75 147.1,366.88 148.1,367.19 149.1,367.39 150.1,367.83 151.1,368.07 152.1,368.43 153.1,368.9 154.1,369.21 155.1,369.43 156.1,369.66 157.1,369.87 158.1,370.51 159.1,370.98 160.1,371.64 161.1,371.97 162.1,371.92 163.1,372.34 164.1,372.75 165.1,373.23 166.1,373.78 167.1,373.92 168.1,374.21 169.1,374.07 170.1,374.59 171.1,375.21 172.1,375.85 173.1,376.13 174.1,376.3 175.1,376.67 176.1,376.9 177.1,377.15 178.1,377.52 179.1,377.95 180.1,378.47 181.1,378.65 182.1,378.84 183.1,378.99 184.1,379.28 185.1,379.57 186.1,379.99 187.1,380.19 188.1,380.42 189.1,380.82 190.1,380.97 191.1,381.47 192.1,381.66 193.1,382.31 194.1,382.45 195.1,382.68 196.1,382.81 197.1,383.28 198.1,383.77 199.1,384.13 200.1,384.41 201.1,384.74 202.1,385.28 203.1,385.41 204.1,385.6 205.1,385.75 206.1,386.29 207.1,386.84 208.1,387.06 209.1,387.29 210.1,387.61 211.1,387.68 212.1,388.16 213.1,388.77 214.1,389.57 215.1,390.13 216.1,390.14 217.1,390.59 218.1,391 219.1,391.87 220.1,392.25 221.1,392.43 222.1,392.79 223.1,393.72 224.1,394.61 225.1,394.94 226.1,395.24 227.1,396.06 228.1,396.9 229.1,397.74 230.1,398.05 231.1,398.75 232.1,399.55 233.1,400.51 234.1,401.13 235.1,401.84 236.1,402.67 237.1,403.39 238.1,403.78 239.1,404.44 240.1,405.06 241.1,405.75 242.1,406.44 243.1,407.16 244.1,407.73 245.1,407.83 246.1,408.41 247.1,409.05 248.1,409.81 249.1,410.5 250.1,410.9 251.1,411.32 252.1,411.66 253.1,412.39 254.1,412.97 255.1,413.49 256.1,413.94 257.1,414.68 258.1,415.26 259.1,415.99 260.1,416.15 261.1,416.71 262.1,416.87 263.1,417.53 264.1,418.01 265.1,418.33 266.1,418.53 267.1,418.59 268.1,418.63 269.1,418.88 270.1,419.06 271.1,419.4 272.1,419.57 273.1,419.64 274.1,419.73 275.1,419.63 276.1,419.92 277.1,420.43 278.1,420.67 279.1,420.75 280.1,420.51 281.1,420.71 282.1,420.76 283.1,420.92 284.1,421.12 285.1,421.46 286.1,421.83 287.1,421.91 288.1,422.1 288.6,422.1" fill="none" stroke="#b22222" stroke-width="1.25" stroke-linejoin="round"/>
<g stroke="#108080" stroke-opacity="0.6" stroke-width="0.85" fill="none" stroke-dasharray="2.8,1.2"><line x1="294.9" y1="352.8" x2="294.9" y2="361.4"/><line x1="294.9" y1="375.4" x2="294.9" y2="391.8"/><rect x="293.1" y="361.4" width="3.6" height="14"/><line x1="293.1" y1="370" x2="296.7" y2="370"/><line x1="293.7" y1="352.8" x2="296.1" y2="352.8"/><line x1="293.7" y1="391.8" x2="296.1" y2="391.8"/></g>
<g stroke="#108080" stroke-opacity="0.72" stroke-width="0.85" fill="none"><line x1="298.8" y1="364.5" x2="298.8" y2="372.3"/><line x1="298.8" y1="387.9" x2="298.8" y2="391.8"/><rect x="297" y="372.3" width="3.6" height="15.6"/><line x1="297" y1="373.9" x2="300.6" y2="373.9"/><line x1="297.6" y1="364.5" x2="300" y2="364.5"/><line x1="297.6" y1="391.8" x2="300" y2="391.8"/></g>
<g stroke="#ffd700" stroke-opacity="0.6" stroke-width="0.85" fill="none" stroke-dasharray="2.8,1.2"><line x1="303.5" y1="355.1" x2="303.5" y2="371.5"/><line x1="303.5" y1="398.8" x2="303.5" y2="412.1"/><rect x="301.7" y="371.5" width="3.6" height="27.3"/><line x1="301.7" y1="391" x2="305.3" y2="391"/><line x1="302.3" y1="355.1" x2="304.7" y2="355.1"/><line x1="302.3" y1="412.1" x2="304.7" y2="412.1"/></g>
<g stroke="#ffd700" stroke-opacity="0.72" stroke-width="0.85" fill="none"><line x1="308" y1="373.9" x2="308" y2="381.7"/><line x1="308" y1="401.2" x2="308" y2="409"/><rect x="306.2" y="381.7" width="3.6" height="19.5"/><line x1="306.2" y1="394.1" x2="309.8" y2="394.1"/><line x1="306.8" y1="373.9" x2="309.2" y2="373.9"/><line x1="306.8" y1="409" x2="309.2" y2="409"/></g>
<g stroke="#ff8500" stroke-opacity="0.6" stroke-width="0.85" fill="none" stroke-dasharray="2.8,1.2"><line x1="311.5" y1="397.5" x2="311.5" y2="404.6"/><line x1="311.5" y1="412.6" x2="311.5" y2="419.7"/><rect x="309.7" y="404.6" width="3.6" height="8"/><line x1="309.7" y1="407.3" x2="313.3" y2="407.3"/><line x1="310.3" y1="397.5" x2="312.7" y2="397.5"/><line x1="310.3" y1="419.7" x2="312.7" y2="419.7"/></g>
<g stroke="#ff8500" stroke-opacity="0.72" stroke-width="0.85" fill="none"><line x1="316.2" y1="382.8" x2="316.2" y2="400.2"/><line x1="316.2" y1="425.9" x2="316.2" y2="432.1"/><rect x="314.4" y="400.2" width="3.6" height="25.7"/><line x1="314.4" y1="405.5" x2="318" y2="405.5"/><line x1="315" y1="382.8" x2="317.4" y2="382.8"/><line x1="315" y1="432.1" x2="317.4" y2="432.1"/></g>
<g stroke="#b22222" stroke-opacity="0.6" stroke-width="0.85" fill="none" stroke-dasharray="2.8,1.2"><line x1="320.8" y1="376.6" x2="320.8" y2="388.8"/><line x1="320.8" y1="420.5" x2="320.8" y2="455.7"/><rect x="319" y="388.8" width="3.6" height="31.7"/><line x1="319" y1="419.9" x2="322.6" y2="419.9"/><line x1="319.6" y1="376.6" x2="322" y2="376.6"/><line x1="319.6" y1="455.7" x2="322" y2="455.7"/></g>
<g stroke="#b22222" stroke-opacity="0.72" stroke-width="0.85" fill="none"><line x1="325.3" y1="402" x2="325.3" y2="415.8"/><line x1="325.3" y1="430.3" x2="325.3" y2="444.4"/><rect x="323.5" y="415.8" width="3.6" height="14.5"/><line x1="323.5" y1="422.4" x2="327.1" y2="422.4"/><line x1="324.1" y1="402" x2="326.5" y2="402"/><line x1="324.1" y1="444.4" x2="326.5" y2="444.4"/></g>
<polygon points="389.4,354.2 392,355.62 394.4,356.07 397.5,357.36 400.6,359.41 403.7,360.1 406.9,362.49 409.3,363.84 411.6,365.85 413.5,364.8 415.5,363.29 419.4,363.05 422.6,363.34 425,362.77 427.3,360.75 429.6,363.09 432,364.04 436,365.17 439.8,365.87 443.7,367.21 447.6,368.23 451.5,366.03 455.4,364.55 460,365.04 464.8,365.1 468.3,367.4 471.9,370.46 473.8,369.34 475.8,369.38 479,368.5 482.1,369.91 485.4,368.39 488,369.23 490.7,369.52 495.9,371.73 501.1,372.88 506.3,374 511.5,374.63 514.7,375.45 515.7,374.81 515.7,384.62 514.7,385.41 511.5,384.95 506.3,384.81 501.1,383.72 495.9,383.01 490.7,381.14 488,380.08 485.4,379.21 482.1,379.94 479,378.96 475.8,378.83 473.8,380.54 471.9,381.39 468.3,377.86 464.8,375.22 460,375.25 455.4,375.7 451.5,376.8 447.6,378.59 443.7,378.63 439.8,377.05 436,375.88 432,374.74 429.6,373.61 427.3,372.42 425,373.03 422.6,375.39 419.4,373.62 415.5,373.71 413.5,375.18 411.6,376.33 409.3,374.13 406.9,373.2 403.7,371.61 400.6,369.5 397.5,367.54 394.4,366.78 392,365.41 389.4,365" fill="#d2d2d2"/>
<polygon points="482,362.3 483,361.98 484,362.18 485,362.14 486,361.88 487,361.49 488,361.81 489,361.92 490,361.85 491,361.49 492,361.6 493,361.91 494,362.49 495,362.74 496,362.87 497,363.31 498,363.93 499,364.8 500,364.98 501,365.43 502,366.49 503,367.28 504,368.26 505,368.59 506,369.64 507,370.1 508,370.41 509,370.5 510,370.94 511,371.05 512,370.92 513,370.79 514,371.13 515,371.23 516,371.22 517,371.36 518,371.9 519,371.97 520,372.31 521,372.48 522,373.3 523,373.02 524,373.1 525,372.91 526,373.77 527,373.81 528,373.96 529,373.93 530,374.41 531,374.76 532,374.66 533,375.06 534,375.02 535,375.46 536,375.45 537,375.64 538,375.8 539,375.5 540,375.66 541,375.58 542,375.67 543,375.67 544,375.66 545,376.16 546,376.21 547,376.18 548,376.05 549,376.19 550,376.98 551,377.39 552,377.55 553,377.04 554,377.2 555,377.31 556,377.25 557,377.04 558,376.83 559,377.5 560,377.64 561,377.88 562,377.67 563,377.3 564,377.87 565,378.02 566,378.51 567,378.38 568,378.21 569,377.89 570,377.45 571,377.44 572,377.24 573,377.12 574,376.96 575,376.99 576,376.79 577,376.36 578,376.02 579,376.02 580,376.23 581,376.31 582,375.92 583,375.59 584,375.27 585,375.44 586,375.06 587,375.1 588,374.8 589,374.83 590,374.98 591,375.17 592,374.84 593,374.33 594,374.04 595,374.43 596,374.07 597,373.89 598,373.57 599,373.45 600,373.26 601,372.84 602,372.66 603,372 604,371.83 605,371.57 606,371.34 607,370.75 608,370.34 609,370.15 610,370.08 611,369.8 612,369.72 613,369.43 614,369.29 615,369.21 616,368.93 617,368.75 618,368.33 619,368.16 620,367.71 621,367.27 622,366.8 623,366.81 624,366.73 625,366.99 626,367.06 627,366.83 628,366.46 629,365.91 630,365.49 631,364.87 632,364.33 633,364.12 634,364.07 635,363.88 635.3,363.75 635.3,391.04 635,391.21 634,391.73 633,392.06 632,392.36 631,392.5 630,392.94 629,392.82 628,392.95 627,392.67 626,392.96 625,393.3 624,393.63 623,393.8 622,393.66 621,393.62 620,393.86 619,394.48 618,394.33 617,394.11 616,393.81 615,394.1 614,394.17 613,394.43 612,394.72 611,395.02 610,394.89 609,395.15 608,395.2 607,395.63 606,395.33 605,395.69 604,395.52 603,395.91 602,396.07 601,396.34 600,396.67 599,396.77 598,396.86 597,396.53 596,396.26 595,396.47 594,396.45 593,396.24 592,395.91 591,396.14 590,396.2 589,396.13 588,395.7 587,395.9 586,395.93 585,396.18 584,396.25 583,396.32 582,396.24 581,395.83 580,395.6 579,394.93 578,394.62 577,393.98 576,393.63 575,393.08 574,392.62 573,392.68 572,392.45 571,392.36 570,392.06 569,392 568,392.08 567,391.24 566,391.07 565,390.59 564,390.57 563,389.99 562,389.42 561,389.7 560,389.24 559,388.82 558,388.16 557,387.9 556,387.83 555,387.29 554,387.18 553,386.92 552,386.9 551,386.48 550,385.97 549,385.33 548,384.77 547,384.54 546,384.38 545,384.07 544,383.71 543,383.39 542,383.15 541,383.15 540,382.89 539,382.96 538,382.47 537,382.19 536,381.81 535,381.26 534,380.48 533,379.81 532,379.79 531,380 530,379.96 529,379.32 528,378.67 527,378.28 526,378.14 525,378 524,377.81 523,377.21 522,377.01 521,376.53 520,376.38 519,375.8 518,375.36 517,374.93 516,374.74 515,374.25 514,373.98 513,373.4 512,373.04 511,372.29 510,371.63 509,371.16 508,370.82 507,370.42 506,369.9 505,369.07 504,368.04 503,367.2 502,366.69 501,366.15 500,365.41 499,364.51 498,364.01 497,363.52 496,363.01 495,362.64 494,362.37 493,362.26 492,361.72 491,361.62 490,361.57 489,361.88 488,361.99 487,361.78 486,362.01 485,361.72 484,361.89 483,361.46 482,362.3" fill="#cae4e5"/>
<polygon points="482,362.3 483,362.06 484,362.07 485,362 486,362.06 487,362.06 488,362.01 489,361.69 490,361.74 491,361.65 492,362.01 493,362.2 494,362.19 495,362.58 496,362.68 497,363.28 498,363.57 499,364.29 500,365.18 501,366.31 502,366.77 503,367.37 504,367.81 505,368.78 506,369.29 507,369.82 508,370.5 509,371.43 510,371.96 511,372.73 512,373.21 513,373.91 514,373.99 515,373.99 516,374.43 517,375.09 518,376.05 519,376.34 520,376.61 521,376.83 522,377.33 523,377.61 524,377.94 525,378.1 526,378.61 527,379.36 528,379.6 529,380.27 530,380.24 531,380.63 532,380.42 533,380.84 534,381.4 535,381.61 536,381.72 537,381.69 538,382.03 539,382.17 540,382.58 541,383.09 542,383.61 543,383.77 544,384 545,384.43 546,384.91 547,385.35 548,385.48 549,385.86 550,386.13 551,386.38 552,386.54 553,386.63 554,387.06 555,387.37 556,387.8 557,388.08 558,388.31 559,388.69 560,388.81 561,389.21 562,389.05 563,389.37 564,389.78 565,390.42 566,390.93 567,390.96 568,391.04 569,391.11 570,391.56 571,392.04 572,392.8 573,393.41 574,393.91 575,393.77 576,393.81 577,393.95 578,394.37 579,394.67 580,395.1 581,395.47 582,395.79 583,395.7 584,395.8 585,395.97 586,396.36 587,396.23 588,396.16 589,396.08 590,396.09 591,396.07 592,396.13 593,396.33 594,396.6 595,396.43 596,396.47 597,396.26 598,396.43 599,396.29 600,396.24 601,396.13 602,396.5 603,396.52 604,396.35 605,396.06 606,395.55 607,395.46 608,395.38 609,395.11 610,395.13 611,394.85 612,394.96 613,394.84 614,394.46 615,394.63 616,394.4 617,394.67 618,394.23 619,394.22 620,394.09 621,394 622,394.05 623,393.59 624,393.97 625,393.88 626,393.77 627,393.52 628,393.05 629,393.05 630,392.63 631,392.07 632,391.79 633,391.46 634,391.61 635,391 635.3,390.98 635.3,403.61 635,403.7 634,404.18 633,404.12 632,404.17 631,404.6 630,404.86 629,405.4 628,405.36 627,405.75 626,405.73 625,405.6 624,405.67 623,405.85 622,406.42 621,406.71 620,407.13 619,407.04 618,406.92 617,406.66 616,406.87 615,406.87 614,406.97 613,407.03 612,407.58 611,408.07 610,408.27 609,407.82 608,407.66 607,407.76 606,408.36 605,408.4 604,408.73 603,408.85 602,409.08 601,409.38 600,409.54 599,409.73 598,409.85 597,410.06 596,410.3 595,410.25 594,410.63 593,410.67 592,411.09 591,411.28 590,411.76 589,411.87 588,411.87 587,411.94 586,411.92 585,412.05 584,412.3 583,413.23 582,414.25 581,415.2 580,416.07 579,416.91 578,417.71 577,418.56 576,419.68 575,420.96 574,422.32 573,423.41 572,424.48 571,424.95 570,425.31 569,425.44 568,425.5 567,425.38 566,425.3 565,425.07 564,425.01 563,424.89 562,425.36 561,425.46 560,425.39 559,424.9 558,424.67 557,424.48 556,424.39 555,424.45 554,423.95 553,423.38 552,422.63 551,422.51 550,422.68 549,422.6 548,422.54 547,422.28 546,422.15 545,422.02 544,421.43 543,420.91 542,420.55 541,420.58 540,420.42 539,419.74 538,419.03 537,418.38 536,417.97 535,417.54 534,416.99 533,416.2 532,415.6 531,414.93 530,414.13 529,413.16 528,412.18 527,411.77 526,410.82 525,410.05 524,409.21 523,408.3 522,407.51 521,406.29 520,405.32 519,404.4 518,403.68 517,403.36 516,402.76 515,402.05 514,401.39 513,401.02 512,400.8 511,400.6 510,400.43 509,400.4 508,400.08 507,399.67 506,399.18 505,398.65 504,398.35 503,397.66 502,397.51 501,396.95 500,396.74 499,396.16 498,395.8 497,395.46 496,395.45 495,395.32 494,395.11 493,394.65 492,394.37 491,394.08 490,393.27 489,392.85 488,392.59 487,392.66 486,392.44 485,391.97 484,391.8 483,391.36 482,391.4" fill="#c8c0c2"/>
<polygon points="482,391.4 483,391.69 484,391.75 485,391.95 486,392.15 487,392.87 488,393.64 489,394.09 490,394.2 491,394.18 492,394.33 493,394.67 494,395.07 495,395.13 496,395.3 497,395.67 498,395.91 499,396.21 500,396.26 501,397.19 502,397.76 503,398.34 504,398.55 505,398.82 506,399.12 507,399.31 508,399.63 509,400.83 510,401 511,400.85 512,400.67 513,401 514,401.7 515,402.26 516,402.82 517,403.34 518,403.61 519,404.12 520,405.17 521,405.81 522,407.04 523,408.24 524,409.88 525,410.47 526,411.07 527,411.44 528,412.85 529,413.62 530,414.24 531,415.06 532,416.08 533,416.91 534,416.76 535,417 536,417.22 537,418.56 538,419.17 539,419.98 540,420.18 541,420.64 542,420.71 543,421.03 544,421.31 545,421.38 546,421.84 547,422.19 548,423.01 549,423.18 550,423.2 551,423.69 552,423.73 553,423.84 554,424.23 555,424.66 556,425.12 557,424.93 558,425.04 559,425.48 560,425.71 561,426.01 562,425.67 563,425.44 564,425.25 565,425.5 566,425.64 567,425.42 568,425.27 569,425.46 570,425.8 571,425.29 572,424.45 573,423.25 574,422.38 575,421.37 576,420.42 577,419.72 578,418.41 579,417.14 580,415.85 581,415.1 582,414.22 583,413.52 584,412.89 585,412.44 586,411.97 587,411.86 588,412.04 589,411.67 590,411.41 591,411.05 592,411.54 593,411.18 594,411.14 595,410.23 596,410.33 597,410.01 598,410.02 599,409.48 600,409.24 601,409.01 602,409.01 603,408.72 604,408.56 605,408.83 606,408.72 607,408.68 608,407.96 609,407.8 610,407.58 611,407.12 612,407.17 613,407.09 614,407.3 615,406.83 616,406.89 617,406.49 618,406.62 619,406.19 620,406.09 621,406.32 622,406.63 623,407.04 624,406.58 625,405.96 626,405.57 627,405.37 628,405 629,405.01 630,405 631,405.02 632,404.35 633,403.95 634,403.88 635,404.29 635.3,404.23 635.3,440.22 635,440.23 634,440.79 633,441.45 632,442.46 631,443.08 630,443.59 629,444.39 628,445.35 627,446.3 626,446.62 625,447.21 624,448.36 623,449.64 622,451.09 621,452.15 620,453.41 619,454.45 618,454.97 617,455.35 616,454.83 615,455.4 614,455.68 613,456.63 612,456.67 611,456.64 610,456.45 609,456.67 608,456.64 607,456.92 606,457.1 605,457.63 604,458.03 603,457.92 602,458.04 601,458.01 600,458.18 599,458.42 598,458.61 597,459 596,459.42 595,459.72 594,459.96 593,459.8 592,459.36 591,459.52 590,459.55 589,459.57 588,458.94 587,458.32 586,458.01 585,457.22 584,456.6 583,456.24 582,455.49 581,454.89 580,453.86 579,453.22 578,452.41 577,451.5 576,450.64 575,450.01 574,449.27 573,448.59 572,447.77 571,447.44 570,446.85 569,446.16 568,445.16 567,444.37 566,443.4 565,442.68 564,442.4 563,442.05 562,441.87 561,440.88 560,440.67 559,439.64 558,439.46 557,438.67 556,438.16 555,437.22 554,436.95 553,436.12 552,435.72 551,434.68 550,434.24 549,433.83 548,433.06 547,432.15 546,430.83 545,430.21 544,429.93 543,429.54 542,429.05 541,428.41 540,428.36 539,428.19 538,427.91 537,427.4 536,426.42 535,426.34 534,425.65 533,425.64 532,424.88 531,424.76 530,424.11 529,423.66 528,422.7 527,422.05 526,421.02 525,420.7 524,420.23 523,419.56 522,418.35 521,417.55 520,416.96 519,415.97 518,414.99 517,413.77 516,412.51 515,410.77 514,409.22 513,407.8 512,406.39 511,405.32 510,404.21 509,403.44 508,402.52 507,401.78 506,400.69 505,399.26 504,398.73 503,397.81 502,397.03 501,396.07 500,395.44 499,395.44 498,394.94 497,394.99 496,394.63 495,394.83 494,394.51 493,394.57 492,394.19 491,393.97 490,393.82 489,393.55 488,393.19 487,392.7 486,392.54 485,392.6 484,392.38 483,392.22 482,391.4" fill="#eed1d4"/>
<polygon points="482,368.8 490,368.5 500,371 510,373 516,374 516,385.4 505,386 495,386 482,386" fill="#aaa3a5"/>
<polyline points="389.4,358.5 390.4,358.19 391.4,358.75 392.4,358.97 393.4,359.39 394.4,360.14 395.4,360.43 396.4,360.63 397.4,361.2 398.4,361.64 399.4,362.11 400.4,362.99 401.4,363.81 402.4,364.18 403.4,364.47 404.4,365.01 405.4,365.86 406.4,366.6 407.4,367.36 408.4,368.24 409.4,368.78 410.4,369.77 411.4,370.35 412.4,369.71 413.4,368.76 414.4,367.74 415.4,367.27 416.4,367.38 417.4,367.7 418.4,367.97 419.4,367.56 420.4,367.55 421.4,368.17 422.4,368.71 423.4,368.33 424.4,367.18 425.4,367.16 426.4,366.3 427.4,364.72 428.4,365.38 429.4,366.68 430.4,366.98 431.4,367.33 432.4,367.84 433.4,368.38 434.4,368.78 435.4,368.87 436.4,368.99 437.4,369.25 438.4,369.8 439.4,370.3 440.4,370.54 441.4,370.85 442.4,371.07 443.4,371.21 444.4,371.56 445.4,371.64 446.4,371.82 447.4,372.07 448.4,372.05 449.4,371.83 450.4,371.28 451.4,370.4 452.4,369.98 453.4,369.88 454.4,369.68 455.4,369.27 456.4,369.03 457.4,368.95 458.4,368.87 459.4,369.22 460.4,369.57 461.4,369.64 462.4,369.92 463.4,369.92 464.4,369.53 465.4,369.65 466.4,370.44 467.4,371.29 468.4,371.97 469.4,372.88 470.4,373.62 471.4,374.3 472.4,374.46 473.4,374.29 474.4,373.69 475.4,373.57 476.4,374.09 477.4,374.06 478.4,373.86 479.4,373.55 480.4,373.71 481.4,373.58 482.4,373.25 483.4,373.44 484.4,373.4 485.4,372.85 486.4,372.75 487.4,373.31 488.4,373.73 489.4,373.91 490.4,374.31 491.4,374.69 492.4,375.19 493.4,375.5 494.4,375.76 495.4,375.96 496.4,376.12 497.4,376.38 498.4,376.63 499.4,377.02 500.4,377.04 501.4,377.09 502.4,376.95 503.4,377.23 504.4,377.64 505.4,377.71 506.4,378.4 507.4,378.77 508.4,378.63 509.4,378.92 510.4,379.08 511.4,379.02 512.4,379.31 513.4,379.54 514.4,379.77 515.4,379.13 515.7,378.36" fill="none" stroke="#111" stroke-width="1.15" stroke-linejoin="round"/>
<polyline points="482,398.4 483,398.32 484,398.34 485,398.28 486,398.44 487,398.98 488,399.64 489,399.6 490,399.79 491,399.96 492,400.52 493,401.09 494,401.71 495,402.66 496,403.34 497,403.89 498,404.36 499,405.03 500,405.47 501,406.06 502,406.58 503,407.55 504,407.97 505,408.4 506,409.24 507,410.26 508,411.32 509,411.56 510,411.75 511,412.06 512,412.9 513,413.87 514,414.66 515,415.31 516,415.85 517,416.39 518,417.18 519,417.69 520,418.81 521,419.51 522,420.45 523,421.29 524,422.39 525,423.69 526,424.29 527,424.37 528,424.12 529,423.29 530,422.53 531,421.1 532,419.92 533,418.64 534,417.51 535,416.61 536,415.67 537,414.25 538,412.35 539,409.99 540,408.46 541,406.82 542,405.31 543,403.28 544,401.54 545,400 546,399.31 547,398.31 548,397.61 549,396.67 550,396.12 551,395.27 552,394.76 553,394.21 554,394.05 555,393.76 556,393.17 557,392.6 558,391.85 559,391.46 560,390.88 561,390.68 562,390.8 563,390.59 564,390.2 565,389.46 566,388.94 567,387.77 568,386.53 569,385.39 570,384.18 571,382.95 572,381.53 573,380.61 574,379.47 575,378.27 576,376.73 577,375.84 578,374.52 579,373.46 580,372.04 581,371.4 582,370.72 583,370.06 584,368.85 585,367.91 586,367.29 587,366.61 588,365.42 589,364.37 590,363.55 591,363.13 592,362.49 593,361.75 594,361.39 595,361 596,361.17 597,360.68 598,360.54 599,360.51 600,360.87 601,360.95 602,361.02 603,361.17 604,361.4 605,361.56 606,362.05 607,362.41 608,362.63 609,362.69 610,362.57 611,362.63 612,362.72 613,363.22 614,363.41 615,363.53 616,363.44 617,363.44 618,363.56 619,363.71 620,363.64 621,363.46 622,363.35 623,363.44 624,363.14 625,362.77 626,362.26 627,362.21 628,362.42 629,362.19 630,361.88 631,361.09 632,360.67 633,360.11 634,359.61 635,359.46 635.3,359.15" fill="none" stroke="#108080" stroke-width="1.3" stroke-dasharray="3.2,2" stroke-linejoin="round" stroke-dashoffset="0.0"/>
<polyline points="482,398.4 483,398.33 484,398.29 485,398.26 486,398.3 487,398.77 488,399.07 489,399.03 490,399.58 491,399.94 492,400.44 493,400.77 494,401.72 495,402.77 496,403.41 497,403.89 498,404.27 499,404.68 500,405.54 501,406.28 502,406.84 503,407.46 504,407.9 505,408.76 506,409.23 507,410.01 508,410.15 509,410.88 510,411.18 511,412.41 512,412.77 513,413.57 514,413.92 515,414.84 516,415.8 517,416.66 518,417.33 519,417.92 520,418.62 521,419.56 522,420.44 523,421.49 524,422.7 525,423.81 526,424.08 527,423.96 528,423.58 529,423.2 530,422.28 531,421.19 532,420.29 533,419.36 534,418.19 535,416.94 536,415.32 537,413.8 538,411.98 539,410.12 540,408.41 541,406.95 542,405.75 543,404.3 544,403.1 545,401.84 546,400.96 547,399.94 548,399.66 549,399.17 550,398.68 551,398.02 552,397.65 553,397.64 554,397.04 555,397.04 556,396.89 557,396.9 558,396.4 559,396.09 560,396.16 561,396.04 562,395.78 563,395.55 564,395.48 565,395.18 566,394.65 567,394.06 568,393.39 569,392.59 570,391.32 571,390.55 572,389.82 573,389.43 574,388.37 575,387.52 576,386.66 577,385.63 578,384.42 579,383.23 580,382.4 581,381.82 582,381.39 583,380.81 584,379.99 585,379.24 586,378.66 587,378.2 588,377.55 589,377.05 590,376.05 591,375.66 592,374.73 593,374.54 594,374.15 595,374.26 596,373.94 597,373.58 598,373.34 599,373.72 600,373.95 601,374.11 602,374.34 603,374.32 604,374.69 605,374.23 606,374.44 607,374.61 608,375.03 609,374.97 610,375.06 611,374.82 612,375.09 613,374.73 614,374.7 615,374.3 616,374.14 617,374.22 618,373.92 619,373.32 620,372.8 621,372.39 622,372.39 623,372.12 624,372.17 625,372.33 626,372.29 627,372.09 628,371.63 629,371.38 630,371.27 631,371.36 632,371.43 633,371.56 634,371.1 635,371.16 635.3,371.01" fill="none" stroke="#ffd700" stroke-width="1.3" stroke-dasharray="3.2,2" stroke-linejoin="round" stroke-dashoffset="1.3"/>
<polyline points="482,398.4 483,397.93 484,398.08 485,398.26 486,398.41 487,398.57 488,398.54 489,398.56 490,398.79 491,399.33 492,399.96 493,400.81 494,401.47 495,402.22 496,402.77 497,403.56 498,404.18 499,404.81 500,405.4 501,406.61 502,407.26 503,408.18 504,408.4 505,408.74 506,409.33 507,409.78 508,410.78 509,411.35 510,412.1 511,412.42 512,412.86 513,413.38 514,414.21 515,415.02 516,415.96 517,416.58 518,417.33 519,418.11 520,418.9 521,420.16 522,421 523,422.26 524,422.87 525,423.88 526,424.51 527,424.85 528,424.26 529,423.7 530,422.85 531,422.29 532,421.02 533,420.1 534,419.3 535,418.67 536,417.62 537,416.4 538,415.22 539,413.92 540,412.57 541,411.19 542,409.45 543,407.54 544,405.92 545,405.22 546,405.08 547,404.52 548,404.17 549,403.9 550,403.71 551,403.17 552,402.61 553,402.62 554,402.47 555,402.29 556,401.89 557,401.48 558,401.51 559,401.46 560,401.51 561,401.17 562,400.94 563,400.92 564,400.77 565,400.56 566,400.38 567,400.18 568,399.91 569,398.95 570,398.03 571,397.3 572,396.53 573,395.64 574,394.59 575,393.85 576,392.73 577,391.81 578,390.74 579,390.3 580,389.63 581,389.2 582,388.65 583,388.31 584,388.01 585,387.81 586,387.48 587,387.3 588,387.31 589,387.05 590,386.79 591,386.28 592,386.47 593,386.49 594,386.61 595,386.34 596,386.33 597,386.52 598,386.65 599,386.76 600,387.16 601,387.75 602,388.48 603,388.88 604,389.35 605,389.69 606,390.57 607,391.68 608,392.84 609,393.56 610,393.93 611,393.99 612,393.64 613,393.04 614,392.83 615,392.5 616,392.53 617,391.96 618,391.72 619,391.61 620,391.23 621,391.1 622,390.59 623,390.55 624,390.21 625,389.86 626,389.34 627,388.83 628,388.5 629,388.16 630,388.21 631,387.64 632,387.38 633,386.85 634,386.62 635,386.41 635.3,386.23" fill="none" stroke="#ff8500" stroke-width="1.3" stroke-dasharray="3.2,2" stroke-linejoin="round" stroke-dashoffset="2.6"/>
<polyline points="482,398.4 483,398.65 484,398.57 485,398.48 486,399.05 487,399.43 488,399.42 489,399.62 490,400.01 491,400.5 492,401.01 493,401.1 494,401.27 495,401.7 496,402.5 497,403.7 498,404.31 499,404.97 500,405.45 501,406.46 502,407.17 503,407.79 504,408.19 505,408.85 506,409.67 507,410.14 508,410.95 509,411.53 510,412.34 511,412.8 512,413.26 513,413.62 514,414.14 515,414.81 516,415.98 517,416.73 518,417.72 519,418.48 520,419.23 521,420.15 522,421.24 523,422.94 524,424.07 525,425.26 526,426.01 527,426.64 528,427.02 529,427.06 530,426.83 531,426.26 532,425.52 533,424.68 534,423.42 535,422.39 536,421.52 537,420.83 538,419.72 539,418.3 540,416.52 541,414.64 542,412.82 543,411.95 544,411.13 545,410.58 546,409.91 547,409.46 548,409.6 549,409.28 550,408.97 551,407.92 552,407.2 553,406.83 554,406.39 555,406.22 556,406.05 557,405.63 558,405.07 559,404.62 560,404.21 561,404.03 562,403.47 563,402.88 564,402.32 565,401.78 566,402.04 567,401.71 568,401.38 569,400.84 570,400.74 571,400.48 572,400.14 573,399.77 574,399.68 575,399.37 576,398.8 577,398.28 578,397.83 579,397.82 580,397.77 581,397.5 582,396.94 583,396.34 584,396.17 585,396.45 586,396.67 587,396.96 588,396.25 589,396.04 590,395.29 591,395.29 592,395.2 593,395.22 594,395.32 595,395.04 596,395 597,394.93 598,394.91 599,395.11 600,394.71 601,394.43 602,393.98 603,393.91 604,394.15 605,394.28 606,394.44 607,393.96 608,393.98 609,393.97 610,394.15 611,393.98 612,393.54 613,393.23 614,393.09 615,392.74 616,392.92 617,392.92 618,393.27 619,393.23 620,392.91 621,392.59 622,392.12 623,392.33 624,392.45 625,392.49 626,392.13 627,391.81 628,391.8 629,391.56 630,391.26 631,390.8 632,390.41 633,390.51 634,390.51 635,390.43 635.3,390.15" fill="none" stroke="#b22222" stroke-width="1.3" stroke-dasharray="3.2,2" stroke-linejoin="round" stroke-dashoffset="3.9000000000000004"/>
<polyline points="482,376.3 483,376.28 484,376.26 485,376.62 486,376.37 487,376.56 488,376.46 489,376.85 490,376.79 491,376.97 492,377.43 493,377.94 494,378.5 495,379.1 496,379.76 497,380.56 498,380.9 499,381.46 500,381.9 501,382.47 502,383.09 503,383.45 504,383.68 505,384.1 506,384.46 507,385.08 508,385.35 509,385.46 510,385.68 511,386.13 512,386.57 513,386.76 514,386.95 515,387.46 516,388.15 517,388.56 518,388.82 519,389.08 520,389.39 521,389.78 522,390.31 523,390.71 524,391.27 525,391.42 526,391.89 527,392.34 528,393.13 529,393.76 530,394.21 531,394.6 532,394.84 533,395.44 534,395.57 535,395.98 536,396.17 537,396.43 538,396.61 539,396.81 540,397.54 541,397.78 542,398.08 543,397.86 544,398.31 545,398.35 546,398.44 547,398.29 548,398.31 549,398.37 550,398.27 551,398.46 552,398.54 553,398.47 554,398.14 555,398.2 556,398.24 557,398.41 558,398.32 559,398.29 560,398 561,397.73 562,397.69 563,397.76 564,397.7 565,397.93 566,397.81 567,398.04 568,397.82 569,398.05 570,397.68 571,397.49 572,397.03 573,396.92 574,396.88 575,396.89 576,396.74 577,396.51 578,396.03 579,396.04 580,395.69 581,395.61 582,395.54 583,395.41 584,395.36 585,395.12 586,395.02 587,394.79 588,394.35 589,394.13 590,394.06 591,393.92 592,393.55 593,393.11 594,393.1 595,392.87 596,392.85 597,392.51 598,392.61 599,392.46 600,392.29 601,391.95 602,391.42 603,391.28 604,391.05 605,391.03 606,390.79 607,390.66 608,390.39 609,390.41 610,390.34 611,390 612,389.32 613,388.69 614,388.55 615,388.42 616,388.1 617,388.11 618,387.73 619,387.67 620,387.07 621,386.69 622,386.27 623,385.96 624,385.91 625,385.78 626,385.58 627,384.79 628,384.2 629,383.94 630,383.83 631,383.6 632,383.09 633,382.91 634,382.68 635,382.5 635.3,382.3" fill="none" stroke="#108080" stroke-width="1.25" stroke-linejoin="round"/>
<polyline points="482,376.3 483,376.37 484,376.38 485,376.42 486,376.56 487,376.69 488,376.52 489,376.48 490,376.51 491,376.93 492,377.37 493,377.9 494,378.51 495,379.21 496,379.69 497,380.26 498,380.7 499,381.42 500,381.92 501,382.32 502,382.87 503,383.07 504,383.68 505,383.97 506,384.46 507,384.91 508,385.15 509,385.41 510,385.66 511,386.01 512,386.54 513,386.91 514,387.55 515,387.83 516,388.11 517,388.3 518,388.75 519,389.06 520,389.46 521,389.62 522,389.99 523,390.23 524,390.79 525,391.42 526,392.01 527,392.67 528,392.9 529,393.31 530,393.76 531,394.39 532,394.85 533,394.91 534,395.4 535,395.67 536,396.35 537,396.48 538,396.91 539,397.39 540,397.72 541,397.99 542,398.06 543,398.23 544,398.61 545,398.87 546,399.28 547,399.35 548,399.5 549,399.59 550,399.8 551,399.83 552,400.13 553,400.25 554,400.63 555,400.59 556,400.76 557,400.7 558,401.04 559,401.39 560,401.75 561,402.07 562,402.15 563,402 564,401.97 565,402.18 566,402.6 567,402.71 568,402.7 569,402.72 570,402.57 571,402.54 572,402.69 573,403.17 574,403.27 575,403.21 576,403.19 577,403.43 578,403.55 579,403.46 580,403.56 581,403.76 582,403.72 583,403.46 584,403.42 585,403.64 586,403.7 587,403.55 588,403.47 589,403.64 590,403.65 591,403.59 592,403.42 593,403.23 594,403.02 595,402.79 596,402.74 597,402.55 598,402.29 599,402.23 600,402.29 601,402.69 602,402.59 603,402.37 604,401.91 605,401.95 606,402 607,401.77 608,401.33 609,401.09 610,401.3 611,401.16 612,400.72 613,400.49 614,400.2 615,400.26 616,399.74 617,399.66 618,399.48 619,399.24 620,398.94 621,398.75 622,398.7 623,398.69 624,398.32 625,397.98 626,397.46 627,397.34 628,397.34 629,397.23 630,396.96 631,396.63 632,396.11 633,395.57 634,395.12 635,394.99 635.3,395.01" fill="none" stroke="#ffd700" stroke-width="1.25" stroke-linejoin="round"/>
<polyline points="482,376.3 483,376.25 484,376.18 485,376.04 486,375.9 487,376.33 488,376.75 489,377.02 490,377.06 491,376.97 492,377.13 493,377.68 494,378.51 495,379.32 496,379.58 497,380.05 498,380.62 499,381.32 500,381.9 501,382.55 502,383.19 503,383.49 504,383.59 505,383.92 506,384.1 507,384.69 508,385.14 509,385.74 510,386.17 511,386.39 512,386.85 513,387.12 514,387.49 515,387.78 516,387.93 517,388.2 518,388.21 519,388.64 520,389.13 521,389.83 522,390.3 523,390.76 524,391.26 525,391.49 526,391.84 527,392.1 528,392.74 529,393.3 530,394.02 531,394.48 532,394.8 533,394.81 534,395.42 535,395.79 536,396.58 537,396.79 538,397.08 539,396.98 540,397.13 541,397.47 542,397.97 543,398.44 544,398.6 545,398.86 546,399.07 547,399.74 548,400.24 549,400.67 550,400.91 551,401.09 552,401.51 553,401.65 554,402.05 555,402.38 556,403.22 557,403.98 558,404.68 559,405.28 560,405.69 561,406.15 562,406.48 563,407.14 564,407.54 565,408.2 566,408.96 567,409.77 568,410.05 569,409.94 570,410.07 571,410.37 572,410.72 573,411.24 574,411.48 575,411.84 576,411.81 577,412.38 578,412.64 579,412.8 580,412.98 581,413.16 582,413.32 583,413.25 584,413.13 585,413.33 586,413.56 587,413.87 588,413.94 589,414.04 590,414.14 591,414.35 592,414.51 593,414.66 594,414.65 595,414.55 596,414.68 597,414.63 598,414.87 599,414.96 600,414.85 601,414.74 602,414.82 603,415.2 604,415.62 605,415.86 606,416.19 607,416.19 608,416.21 609,416.32 610,416.41 611,416.37 612,416.3 613,416.21 614,415.96 615,415.9 616,415.41 617,415.33 618,414.76 619,414.74 620,414.44 621,414.37 622,414.11 623,413.9 624,413.82 625,413.36 626,412.56 627,412.11 628,411.96 629,411.87 630,411.2 631,410.52 632,410.09 633,409.56 634,409.32 635,408.94 635.3,408.91" fill="none" stroke="#ff8500" stroke-width="1.25" stroke-linejoin="round"/>
<polyline points="482,376.3 483,376.22 484,376.45 485,376.46 486,376.34 487,376.48 488,376.44 489,376.68 490,376.93 491,377.03 492,377.36 493,377.64 494,378.67 495,379.66 496,380.34 497,380.98 498,381.37 499,381.76 500,382.19 501,382.83 502,383.56 503,383.72 504,384.13 505,384.49 506,384.84 507,385.22 508,385.6 509,386.35 510,386.61 511,386.99 512,387.28 513,387.52 514,387.74 515,387.81 516,388.22 517,388.8 518,389.38 519,389.89 520,390.16 521,390.59 522,391.22 523,391.78 524,392.45 525,392.86 526,393.36 527,393.8 528,394.33 529,394.99 530,395.19 531,395.75 532,396.17 533,396.92 534,397.58 535,398.28 536,399.03 537,399.28 538,399.65 539,399.71 540,400.18 541,400.51 542,401.12 543,401.57 544,402.14 545,402.37 546,402.88 547,403.16 548,403.88 549,404.58 550,405.42 551,406.1 552,406.9 553,407.45 554,408.21 555,408.79 556,409.48 557,410.15 558,410.88 559,411.49 560,412.19 561,412.51 562,413.67 563,414.3 564,415.21 565,415.24 566,416.04 567,416.24 568,416.81 569,417.29 570,417.99 571,418.41 572,418.68 573,419 574,419.43 575,419.54 576,419.75 577,419.97 578,420.27 579,420.62 580,421.06 581,421.47 582,421.81 583,422.04 584,422.23 585,422.57 586,422.84 587,423.31 588,423.39 589,423.87 590,423.91 591,424.18 592,424.18 593,424.24 594,424.4 595,424.47 596,424.66 597,424.69 598,424.42 599,424.6 600,424.5 601,424.31 602,424.26 603,424.31 604,424.63 605,424.3 606,424.09 607,424.04 608,424.29 609,424.34 610,424.3 611,423.89 612,423.52 613,423.23 614,423.03 615,423.1 616,422.99 617,422.8 618,422.31 619,421.81 620,421.43 621,421.07 622,420.81 623,420.78 624,420.66 625,420.23 626,419.42 627,418.99 628,418.65 629,418.27 630,417.67 631,416.95 632,416.24 633,415.31 634,414.53 635,413.76 635.3,413.68" fill="none" stroke="#b22222" stroke-width="1.25" stroke-linejoin="round"/>
<g stroke="#108080" stroke-opacity="0.6" stroke-width="0.85" fill="none" stroke-dasharray="2.8,1.2"><line x1="642.6" y1="341" x2="642.6" y2="354.2"/><line x1="642.6" y1="370.7" x2="642.6" y2="385.6"/><rect x="640.8" y="354.2" width="3.6" height="16.5"/><line x1="640.8" y1="359.8" x2="644.4" y2="359.8"/><line x1="641.4" y1="341" x2="643.8" y2="341"/><line x1="641.4" y1="385.6" x2="643.8" y2="385.6"/></g>
<g stroke="#108080" stroke-opacity="0.72" stroke-width="0.85" fill="none"><line x1="647.2" y1="368.7" x2="647.2" y2="374.3"/><line x1="647.2" y1="386.6" x2="647.2" y2="396.5"/><rect x="645.4" y="374.3" width="3.6" height="12.3"/><line x1="645.4" y1="381.6" x2="649" y2="381.6"/><line x1="646" y1="368.7" x2="648.4" y2="368.7"/><line x1="646" y1="396.5" x2="648.4" y2="396.5"/></g>
<g stroke="#ffd700" stroke-opacity="0.6" stroke-width="0.85" fill="none" stroke-dasharray="2.8,1.2"><line x1="651.5" y1="346.9" x2="651.5" y2="358.8"/><line x1="651.5" y1="390" x2="651.5" y2="403.5"/><rect x="649.7" y="358.8" width="3.6" height="31.2"/><line x1="649.7" y1="377.7" x2="653.3" y2="377.7"/><line x1="650.3" y1="346.9" x2="652.7" y2="346.9"/><line x1="650.3" y1="403.5" x2="652.7" y2="403.5"/></g>
<g stroke="#ffd700" stroke-opacity="0.72" stroke-width="0.85" fill="none"><line x1="655.6" y1="379.6" x2="655.6" y2="383.6"/><line x1="655.6" y1="401.5" x2="655.6" y2="408.4"/><rect x="653.8" y="383.6" width="3.6" height="17.9"/><line x1="653.8" y1="394.5" x2="657.4" y2="394.5"/><line x1="654.4" y1="379.6" x2="656.8" y2="379.6"/><line x1="654.4" y1="408.4" x2="656.8" y2="408.4"/></g>
<g stroke="#ff8500" stroke-opacity="0.6" stroke-width="0.85" fill="none" stroke-dasharray="2.8,1.2"><line x1="660" y1="377.7" x2="660" y2="380.6"/><line x1="660" y1="389.6" x2="660" y2="392"/><rect x="658.2" y="380.6" width="3.6" height="9"/><line x1="658.2" y1="386" x2="661.8" y2="386"/><line x1="658.8" y1="377.7" x2="661.2" y2="377.7"/><line x1="658.8" y1="392" x2="661.2" y2="392"/></g>
<g stroke="#ff8500" stroke-opacity="0.72" stroke-width="0.85" fill="none"><line x1="664.4" y1="387.6" x2="664.4" y2="403.5"/><line x1="664.4" y1="415.4" x2="664.4" y2="418.3"/><rect x="662.6" y="403.5" width="3.6" height="11.9"/><line x1="662.6" y1="409.4" x2="666.2" y2="409.4"/><line x1="663.2" y1="387.6" x2="665.6" y2="387.6"/><line x1="663.2" y1="418.3" x2="665.6" y2="418.3"/></g>
<g stroke="#b22222" stroke-opacity="0.6" stroke-width="0.85" fill="none" stroke-dasharray="2.8,1.2"><line x1="669" y1="348.9" x2="669" y2="363.2"/><line x1="669" y1="395.5" x2="669" y2="420.3"/><rect x="667.2" y="363.2" width="3.6" height="32.3"/><line x1="667.2" y1="380.6" x2="670.8" y2="380.6"/><line x1="667.8" y1="348.9" x2="670.2" y2="348.9"/><line x1="667.8" y1="420.3" x2="670.2" y2="420.3"/></g>
<g stroke="#b22222" stroke-opacity="0.72" stroke-width="0.85" fill="none"><line x1="673.5" y1="381.6" x2="673.5" y2="396.5"/><line x1="673.5" y1="414.4" x2="673.5" y2="424.3"/><rect x="671.7" y="396.5" width="3.6" height="17.9"/><line x1="671.7" y1="405.4" x2="675.3" y2="405.4"/><line x1="672.3" y1="381.6" x2="674.7" y2="381.6"/><line x1="672.3" y1="424.3" x2="674.7" y2="424.3"/></g>
<rect x="41.5" y="23" width="291" height="142.5" fill="none" stroke="#858585" stroke-width="1"/>
<line x1="41.5" y1="21.4" x2="41.5" y2="24.6" stroke="#858585" stroke-width="1"/>
<line x1="41.5" y1="163.9" x2="41.5" y2="167.1" stroke="#858585" stroke-width="1"/>
<line x1="77" y1="21.4" x2="77" y2="24.6" stroke="#858585" stroke-width="1"/>
<line x1="77" y1="163.9" x2="77" y2="167.1" stroke="#858585" stroke-width="1"/>
<line x1="112.5" y1="21.4" x2="112.5" y2="24.6" stroke="#858585" stroke-width="1"/>
<line x1="112.5" y1="163.9" x2="112.5" y2="167.1" stroke="#858585" stroke-width="1"/>
<line x1="148" y1="21.4" x2="148" y2="24.6" stroke="#858585" stroke-width="1"/>
<line x1="148" y1="163.9" x2="148" y2="167.1" stroke="#858585" stroke-width="1"/>
<line x1="183.5" y1="21.4" x2="183.5" y2="24.6" stroke="#858585" stroke-width="1"/>
<line x1="183.5" y1="163.9" x2="183.5" y2="167.1" stroke="#858585" stroke-width="1"/>
<line x1="219" y1="21.4" x2="219" y2="24.6" stroke="#858585" stroke-width="1"/>
<line x1="219" y1="163.9" x2="219" y2="167.1" stroke="#858585" stroke-width="1"/>
<line x1="254.5" y1="21.4" x2="254.5" y2="24.6" stroke="#858585" stroke-width="1"/>
<line x1="254.5" y1="163.9" x2="254.5" y2="167.1" stroke="#858585" stroke-width="1"/>
<line x1="290" y1="21.4" x2="290" y2="24.6" stroke="#858585" stroke-width="1"/>
<line x1="290" y1="163.9" x2="290" y2="167.1" stroke="#858585" stroke-width="1"/>
<line x1="325.5" y1="21.4" x2="325.5" y2="24.6" stroke="#858585" stroke-width="1"/>
<line x1="325.5" y1="163.9" x2="325.5" y2="167.1" stroke="#858585" stroke-width="1"/>
<line x1="39.9" y1="156.5" x2="43.1" y2="156.5" stroke="#858585" stroke-width="1"/>
<line x1="330.9" y1="156.5" x2="334.1" y2="156.5" stroke="#858585" stroke-width="1"/>
<line x1="39.9" y1="128" x2="43.1" y2="128" stroke="#858585" stroke-width="1"/>
<line x1="330.9" y1="128" x2="334.1" y2="128" stroke="#858585" stroke-width="1"/>
<line x1="39.9" y1="99.5" x2="43.1" y2="99.5" stroke="#858585" stroke-width="1"/>
<line x1="330.9" y1="99.5" x2="334.1" y2="99.5" stroke="#858585" stroke-width="1"/>
<line x1="39.9" y1="71" x2="43.1" y2="71" stroke="#858585" stroke-width="1"/>
<line x1="330.9" y1="71" x2="334.1" y2="71" stroke="#858585" stroke-width="1"/>
<line x1="39.9" y1="42.5" x2="43.1" y2="42.5" stroke="#858585" stroke-width="1"/>
<line x1="330.9" y1="42.5" x2="334.1" y2="42.5" stroke="#858585" stroke-width="1"/>
<text x="37.8" y="160.9" font-size="12" text-anchor="end" fill="#1a1a1a" stroke="#1a1a1a" stroke-width="0.18">52</text>
<text x="37.8" y="132.4" font-size="12" text-anchor="end" fill="#1a1a1a" stroke="#1a1a1a" stroke-width="0.18">54</text>
<text x="37.8" y="103.9" font-size="12" text-anchor="end" fill="#1a1a1a" stroke="#1a1a1a" stroke-width="0.18">56</text>
<text x="37.8" y="75.4" font-size="12" text-anchor="end" fill="#1a1a1a" stroke="#1a1a1a" stroke-width="0.18">58</text>
<text x="37.8" y="46.9" font-size="12" text-anchor="end" fill="#1a1a1a" stroke="#1a1a1a" stroke-width="0.18">60</text>
<text x="41.5" y="178.2" font-size="12" text-anchor="middle" fill="#1a1a1a" stroke="#1a1a1a" stroke-width="0.18">1940</text>
<text x="112.5" y="178.2" font-size="12" text-anchor="middle" fill="#1a1a1a" stroke="#1a1a1a" stroke-width="0.18">1960</text>
<text x="183.5" y="178.2" font-size="12" text-anchor="middle" fill="#1a1a1a" stroke="#1a1a1a" stroke-width="0.18">1980</text>
<text x="254.5" y="178.2" font-size="12" text-anchor="middle" fill="#1a1a1a" stroke="#1a1a1a" stroke-width="0.18">2000</text>
<text x="325.5" y="178.2" font-size="12" text-anchor="middle" fill="#1a1a1a" stroke="#1a1a1a" stroke-width="0.18">2020</text>
<rect x="388.5" y="23.3" width="290" height="141.7" fill="none" stroke="#858585" stroke-width="1"/>
<line x1="388.5" y1="21.7" x2="388.5" y2="24.9" stroke="#858585" stroke-width="1"/>
<line x1="388.5" y1="163.4" x2="388.5" y2="166.6" stroke="#858585" stroke-width="1"/>
<line x1="423.88" y1="21.7" x2="423.88" y2="24.9" stroke="#858585" stroke-width="1"/>
<line x1="423.88" y1="163.4" x2="423.88" y2="166.6" stroke="#858585" stroke-width="1"/>
<line x1="459.25" y1="21.7" x2="459.25" y2="24.9" stroke="#858585" stroke-width="1"/>
<line x1="459.25" y1="163.4" x2="459.25" y2="166.6" stroke="#858585" stroke-width="1"/>
<line x1="494.62" y1="21.7" x2="494.62" y2="24.9" stroke="#858585" stroke-width="1"/>
<line x1="494.62" y1="163.4" x2="494.62" y2="166.6" stroke="#858585" stroke-width="1"/>
<line x1="530" y1="21.7" x2="530" y2="24.9" stroke="#858585" stroke-width="1"/>
<line x1="530" y1="163.4" x2="530" y2="166.6" stroke="#858585" stroke-width="1"/>
<line x1="565.38" y1="21.7" x2="565.38" y2="24.9" stroke="#858585" stroke-width="1"/>
<line x1="565.38" y1="163.4" x2="565.38" y2="166.6" stroke="#858585" stroke-width="1"/>
<line x1="600.75" y1="21.7" x2="600.75" y2="24.9" stroke="#858585" stroke-width="1"/>
<line x1="600.75" y1="163.4" x2="600.75" y2="166.6" stroke="#858585" stroke-width="1"/>
<line x1="636.12" y1="21.7" x2="636.12" y2="24.9" stroke="#858585" stroke-width="1"/>
<line x1="636.12" y1="163.4" x2="636.12" y2="166.6" stroke="#858585" stroke-width="1"/>
<line x1="671.5" y1="21.7" x2="671.5" y2="24.9" stroke="#858585" stroke-width="1"/>
<line x1="671.5" y1="163.4" x2="671.5" y2="166.6" stroke="#858585" stroke-width="1"/>
<line x1="386.9" y1="141.6" x2="390.1" y2="141.6" stroke="#858585" stroke-width="1"/>
<line x1="676.9" y1="141.6" x2="680.1" y2="141.6" stroke="#858585" stroke-width="1"/>
<line x1="386.9" y1="118.25" x2="390.1" y2="118.25" stroke="#858585" stroke-width="1"/>
<line x1="676.9" y1="118.25" x2="680.1" y2="118.25" stroke="#858585" stroke-width="1"/>
<line x1="386.9" y1="94.9" x2="390.1" y2="94.9" stroke="#858585" stroke-width="1"/>
<line x1="676.9" y1="94.9" x2="680.1" y2="94.9" stroke="#858585" stroke-width="1"/>
<line x1="386.9" y1="71.55" x2="390.1" y2="71.55" stroke="#858585" stroke-width="1"/>
<line x1="676.9" y1="71.55" x2="680.1" y2="71.55" stroke="#858585" stroke-width="1"/>
<line x1="386.9" y1="48.2" x2="390.1" y2="48.2" stroke="#858585" stroke-width="1"/>
<line x1="676.9" y1="48.2" x2="680.1" y2="48.2" stroke="#858585" stroke-width="1"/>
<line x1="386.9" y1="24.85" x2="390.1" y2="24.85" stroke="#858585" stroke-width="1"/>
<line x1="676.9" y1="24.85" x2="680.1" y2="24.85" stroke="#858585" stroke-width="1"/>
<text x="383.5" y="146" font-size="12" text-anchor="end" fill="#1a1a1a" stroke="#1a1a1a" stroke-width="0.18">12</text>
<text x="383.5" y="99.3" font-size="12" text-anchor="end" fill="#1a1a1a" stroke="#1a1a1a" stroke-width="0.18">13</text>
<text x="383.5" y="52.6" font-size="12" text-anchor="end" fill="#1a1a1a" stroke="#1a1a1a" stroke-width="0.18">14</text>
<text x="388.5" y="178.2" font-size="12" text-anchor="middle" fill="#1a1a1a" stroke="#1a1a1a" stroke-width="0.18">1940</text>
<text x="459.25" y="178.2" font-size="12" text-anchor="middle" fill="#1a1a1a" stroke="#1a1a1a" stroke-width="0.18">1960</text>
<text x="530" y="178.2" font-size="12" text-anchor="middle" fill="#1a1a1a" stroke="#1a1a1a" stroke-width="0.18">1980</text>
<text x="600.75" y="178.2" font-size="12" text-anchor="middle" fill="#1a1a1a" stroke="#1a1a1a" stroke-width="0.18">2000</text>
<text x="671.5" y="178.2" font-size="12" text-anchor="middle" fill="#1a1a1a" stroke="#1a1a1a" stroke-width="0.18">2020</text>
<rect x="40.5" y="187.5" width="248" height="128" fill="none" stroke="#858585" stroke-width="1"/>
<line x1="40.5" y1="185.9" x2="40.5" y2="189.1" stroke="#858585" stroke-width="1"/>
<line x1="40.5" y1="313.9" x2="40.5" y2="317.1" stroke="#858585" stroke-width="1"/>
<line x1="71.5" y1="185.9" x2="71.5" y2="189.1" stroke="#858585" stroke-width="1"/>
<line x1="71.5" y1="313.9" x2="71.5" y2="317.1" stroke="#858585" stroke-width="1"/>
<line x1="102.5" y1="185.9" x2="102.5" y2="189.1" stroke="#858585" stroke-width="1"/>
<line x1="102.5" y1="313.9" x2="102.5" y2="317.1" stroke="#858585" stroke-width="1"/>
<line x1="133.5" y1="185.9" x2="133.5" y2="189.1" stroke="#858585" stroke-width="1"/>
<line x1="133.5" y1="313.9" x2="133.5" y2="317.1" stroke="#858585" stroke-width="1"/>
<line x1="164.5" y1="185.9" x2="164.5" y2="189.1" stroke="#858585" stroke-width="1"/>
<line x1="164.5" y1="313.9" x2="164.5" y2="317.1" stroke="#858585" stroke-width="1"/>
<line x1="195.5" y1="185.9" x2="195.5" y2="189.1" stroke="#858585" stroke-width="1"/>
<line x1="195.5" y1="313.9" x2="195.5" y2="317.1" stroke="#858585" stroke-width="1"/>
<line x1="226.5" y1="185.9" x2="226.5" y2="189.1" stroke="#858585" stroke-width="1"/>
<line x1="226.5" y1="313.9" x2="226.5" y2="317.1" stroke="#858585" stroke-width="1"/>
<line x1="257.5" y1="185.9" x2="257.5" y2="189.1" stroke="#858585" stroke-width="1"/>
<line x1="257.5" y1="313.9" x2="257.5" y2="317.1" stroke="#858585" stroke-width="1"/>
<line x1="288.5" y1="185.9" x2="288.5" y2="189.1" stroke="#858585" stroke-width="1"/>
<line x1="288.5" y1="313.9" x2="288.5" y2="317.1" stroke="#858585" stroke-width="1"/>
<line x1="38.9" y1="302.6" x2="42.1" y2="302.6" stroke="#858585" stroke-width="1"/>
<line x1="286.9" y1="302.6" x2="290.1" y2="302.6" stroke="#858585" stroke-width="1"/>
<line x1="38.9" y1="281.14" x2="42.1" y2="281.14" stroke="#858585" stroke-width="1"/>
<line x1="286.9" y1="281.14" x2="290.1" y2="281.14" stroke="#858585" stroke-width="1"/>
<line x1="38.9" y1="259.68" x2="42.1" y2="259.68" stroke="#858585" stroke-width="1"/>
<line x1="286.9" y1="259.68" x2="290.1" y2="259.68" stroke="#858585" stroke-width="1"/>
<line x1="38.9" y1="238.22" x2="42.1" y2="238.22" stroke="#858585" stroke-width="1"/>
<line x1="286.9" y1="238.22" x2="290.1" y2="238.22" stroke="#858585" stroke-width="1"/>
<line x1="38.9" y1="216.76" x2="42.1" y2="216.76" stroke="#858585" stroke-width="1"/>
<line x1="286.9" y1="216.76" x2="290.1" y2="216.76" stroke="#858585" stroke-width="1"/>
<line x1="38.9" y1="195.3" x2="42.1" y2="195.3" stroke="#858585" stroke-width="1"/>
<line x1="286.9" y1="195.3" x2="290.1" y2="195.3" stroke="#858585" stroke-width="1"/>
<text x="37.3" y="307" font-size="12" text-anchor="end" fill="#1a1a1a" stroke="#1a1a1a" stroke-width="0.18">10</text>
<text x="37.3" y="285.54" font-size="12" text-anchor="end" fill="#1a1a1a" stroke="#1a1a1a" stroke-width="0.18">20</text>
<text x="37.3" y="264.08" font-size="12" text-anchor="end" fill="#1a1a1a" stroke="#1a1a1a" stroke-width="0.18">30</text>
<text x="37.3" y="242.62" font-size="12" text-anchor="end" fill="#1a1a1a" stroke="#1a1a1a" stroke-width="0.18">40</text>
<text x="37.3" y="221.16" font-size="12" text-anchor="end" fill="#1a1a1a" stroke="#1a1a1a" stroke-width="0.18">50</text>
<text x="37.3" y="199.7" font-size="12" text-anchor="end" fill="#1a1a1a" stroke="#1a1a1a" stroke-width="0.18">60</text>
<text x="40.5" y="328.8" font-size="12" text-anchor="middle" fill="#1a1a1a" stroke="#1a1a1a" stroke-width="0.18">1940</text>
<text x="102.5" y="328.8" font-size="12" text-anchor="middle" fill="#1a1a1a" stroke="#1a1a1a" stroke-width="0.18">1980</text>
<text x="164.5" y="328.8" font-size="12" text-anchor="middle" fill="#1a1a1a" stroke="#1a1a1a" stroke-width="0.18">2020</text>
<text x="226.5" y="328.8" font-size="12" text-anchor="middle" fill="#1a1a1a" stroke="#1a1a1a" stroke-width="0.18">2060</text>
<text x="288.5" y="328.8" font-size="12" text-anchor="middle" fill="#1a1a1a" stroke="#1a1a1a" stroke-width="0.18">2100</text>
<rect x="388.5" y="187.2" width="247" height="128.3" fill="none" stroke="#858585" stroke-width="1"/>
<line x1="388.5" y1="185.6" x2="388.5" y2="188.8" stroke="#858585" stroke-width="1"/>
<line x1="388.5" y1="313.9" x2="388.5" y2="317.1" stroke="#858585" stroke-width="1"/>
<line x1="419.38" y1="185.6" x2="419.38" y2="188.8" stroke="#858585" stroke-width="1"/>
<line x1="419.38" y1="313.9" x2="419.38" y2="317.1" stroke="#858585" stroke-width="1"/>
<line x1="450.25" y1="185.6" x2="450.25" y2="188.8" stroke="#858585" stroke-width="1"/>
<line x1="450.25" y1="313.9" x2="450.25" y2="317.1" stroke="#858585" stroke-width="1"/>
<line x1="481.13" y1="185.6" x2="481.13" y2="188.8" stroke="#858585" stroke-width="1"/>
<line x1="481.13" y1="313.9" x2="481.13" y2="317.1" stroke="#858585" stroke-width="1"/>
<line x1="512" y1="185.6" x2="512" y2="188.8" stroke="#858585" stroke-width="1"/>
<line x1="512" y1="313.9" x2="512" y2="317.1" stroke="#858585" stroke-width="1"/>
<line x1="542.88" y1="185.6" x2="542.88" y2="188.8" stroke="#858585" stroke-width="1"/>
<line x1="542.88" y1="313.9" x2="542.88" y2="317.1" stroke="#858585" stroke-width="1"/>
<line x1="573.76" y1="185.6" x2="573.76" y2="188.8" stroke="#858585" stroke-width="1"/>
<line x1="573.76" y1="313.9" x2="573.76" y2="317.1" stroke="#858585" stroke-width="1"/>
<line x1="604.63" y1="185.6" x2="604.63" y2="188.8" stroke="#858585" stroke-width="1"/>
<line x1="604.63" y1="313.9" x2="604.63" y2="317.1" stroke="#858585" stroke-width="1"/>
<line x1="635.51" y1="185.6" x2="635.51" y2="188.8" stroke="#858585" stroke-width="1"/>
<line x1="635.51" y1="313.9" x2="635.51" y2="317.1" stroke="#858585" stroke-width="1"/>
<line x1="386.9" y1="291" x2="390.1" y2="291" stroke="#858585" stroke-width="1"/>
<line x1="633.9" y1="291" x2="637.1" y2="291" stroke="#858585" stroke-width="1"/>
<line x1="386.9" y1="267.55" x2="390.1" y2="267.55" stroke="#858585" stroke-width="1"/>
<line x1="633.9" y1="267.55" x2="637.1" y2="267.55" stroke="#858585" stroke-width="1"/>
<line x1="386.9" y1="244.1" x2="390.1" y2="244.1" stroke="#858585" stroke-width="1"/>
<line x1="633.9" y1="244.1" x2="637.1" y2="244.1" stroke="#858585" stroke-width="1"/>
<line x1="386.9" y1="220.65" x2="390.1" y2="220.65" stroke="#858585" stroke-width="1"/>
<line x1="633.9" y1="220.65" x2="637.1" y2="220.65" stroke="#858585" stroke-width="1"/>
<line x1="386.9" y1="197.2" x2="390.1" y2="197.2" stroke="#858585" stroke-width="1"/>
<line x1="633.9" y1="197.2" x2="637.1" y2="197.2" stroke="#858585" stroke-width="1"/>
<text x="385.3" y="295.4" font-size="12" text-anchor="end" fill="#1a1a1a" stroke="#1a1a1a" stroke-width="0.18">6</text>
<text x="385.3" y="271.95" font-size="12" text-anchor="end" fill="#1a1a1a" stroke="#1a1a1a" stroke-width="0.18">8</text>
<text x="385.3" y="248.5" font-size="12" text-anchor="end" fill="#1a1a1a" stroke="#1a1a1a" stroke-width="0.18">10</text>
<text x="385.3" y="225.05" font-size="12" text-anchor="end" fill="#1a1a1a" stroke="#1a1a1a" stroke-width="0.18">12</text>
<text x="385.3" y="201.6" font-size="12" text-anchor="end" fill="#1a1a1a" stroke="#1a1a1a" stroke-width="0.18">14</text>
<text x="388.5" y="328.8" font-size="12" text-anchor="middle" fill="#1a1a1a" stroke="#1a1a1a" stroke-width="0.18">1940</text>
<text x="450.25" y="328.8" font-size="12" text-anchor="middle" fill="#1a1a1a" stroke="#1a1a1a" stroke-width="0.18">1980</text>
<text x="512" y="328.8" font-size="12" text-anchor="middle" fill="#1a1a1a" stroke="#1a1a1a" stroke-width="0.18">2020</text>
<text x="573.76" y="328.8" font-size="12" text-anchor="middle" fill="#1a1a1a" stroke="#1a1a1a" stroke-width="0.18">2060</text>
<text x="635.51" y="328.8" font-size="12" text-anchor="middle" fill="#1a1a1a" stroke="#1a1a1a" stroke-width="0.18">2100</text>
<rect x="41.5" y="336" width="247" height="130.5" fill="none" stroke="#858585" stroke-width="1"/>
<line x1="41.5" y1="334.4" x2="41.5" y2="337.6" stroke="#858585" stroke-width="1"/>
<line x1="41.5" y1="464.9" x2="41.5" y2="468.1" stroke="#858585" stroke-width="1"/>
<line x1="72.38" y1="334.4" x2="72.38" y2="337.6" stroke="#858585" stroke-width="1"/>
<line x1="72.38" y1="464.9" x2="72.38" y2="468.1" stroke="#858585" stroke-width="1"/>
<line x1="103.25" y1="334.4" x2="103.25" y2="337.6" stroke="#858585" stroke-width="1"/>
<line x1="103.25" y1="464.9" x2="103.25" y2="468.1" stroke="#858585" stroke-width="1"/>
<line x1="134.12" y1="334.4" x2="134.12" y2="337.6" stroke="#858585" stroke-width="1"/>
<line x1="134.12" y1="464.9" x2="134.12" y2="468.1" stroke="#858585" stroke-width="1"/>
<line x1="165" y1="334.4" x2="165" y2="337.6" stroke="#858585" stroke-width="1"/>
<line x1="165" y1="464.9" x2="165" y2="468.1" stroke="#858585" stroke-width="1"/>
<line x1="195.88" y1="334.4" x2="195.88" y2="337.6" stroke="#858585" stroke-width="1"/>
<line x1="195.88" y1="464.9" x2="195.88" y2="468.1" stroke="#858585" stroke-width="1"/>
<line x1="226.75" y1="334.4" x2="226.75" y2="337.6" stroke="#858585" stroke-width="1"/>
<line x1="226.75" y1="464.9" x2="226.75" y2="468.1" stroke="#858585" stroke-width="1"/>
<line x1="257.62" y1="334.4" x2="257.62" y2="337.6" stroke="#858585" stroke-width="1"/>
<line x1="257.62" y1="464.9" x2="257.62" y2="468.1" stroke="#858585" stroke-width="1"/>
<line x1="288.5" y1="334.4" x2="288.5" y2="337.6" stroke="#858585" stroke-width="1"/>
<line x1="288.5" y1="464.9" x2="288.5" y2="468.1" stroke="#858585" stroke-width="1"/>
<line x1="39.9" y1="353.4" x2="43.1" y2="353.4" stroke="#858585" stroke-width="1"/>
<line x1="286.9" y1="353.4" x2="290.1" y2="353.4" stroke="#858585" stroke-width="1"/>
<line x1="39.9" y1="372.3" x2="43.1" y2="372.3" stroke="#858585" stroke-width="1"/>
<line x1="286.9" y1="372.3" x2="290.1" y2="372.3" stroke="#858585" stroke-width="1"/>
<line x1="39.9" y1="391.2" x2="43.1" y2="391.2" stroke="#858585" stroke-width="1"/>
<line x1="286.9" y1="391.2" x2="290.1" y2="391.2" stroke="#858585" stroke-width="1"/>
<line x1="39.9" y1="410.1" x2="43.1" y2="410.1" stroke="#858585" stroke-width="1"/>
<line x1="286.9" y1="410.1" x2="290.1" y2="410.1" stroke="#858585" stroke-width="1"/>
<line x1="39.9" y1="429" x2="43.1" y2="429" stroke="#858585" stroke-width="1"/>
<line x1="286.9" y1="429" x2="290.1" y2="429" stroke="#858585" stroke-width="1"/>
<line x1="39.9" y1="447.9" x2="43.1" y2="447.9" stroke="#858585" stroke-width="1"/>
<line x1="286.9" y1="447.9" x2="290.1" y2="447.9" stroke="#858585" stroke-width="1"/>
<text x="37.8" y="357.8" font-size="12" text-anchor="end" fill="#1a1a1a" stroke="#1a1a1a" stroke-width="0.18">0</text>
<text x="37.8" y="395.6" font-size="12" text-anchor="end" fill="#1a1a1a" stroke="#1a1a1a" stroke-width="0.18">-100</text>
<text x="37.8" y="433.4" font-size="12" text-anchor="end" fill="#1a1a1a" stroke="#1a1a1a" stroke-width="0.18">-200</text>
<text x="41.5" y="478.6" font-size="12" text-anchor="middle" fill="#1a1a1a" stroke="#1a1a1a" stroke-width="0.18">1940</text>
<text x="103.25" y="478.6" font-size="12" text-anchor="middle" fill="#1a1a1a" stroke="#1a1a1a" stroke-width="0.18">1980</text>
<text x="165" y="478.6" font-size="12" text-anchor="middle" fill="#1a1a1a" stroke="#1a1a1a" stroke-width="0.18">2020</text>
<text x="226.75" y="478.6" font-size="12" text-anchor="middle" fill="#1a1a1a" stroke="#1a1a1a" stroke-width="0.18">2060</text>
<text x="288.5" y="478.6" font-size="12" text-anchor="middle" fill="#1a1a1a" stroke="#1a1a1a" stroke-width="0.18">2100</text>
<rect x="389.5" y="335.6" width="246" height="130.2" fill="none" stroke="#858585" stroke-width="1"/>
<line x1="389.5" y1="334" x2="389.5" y2="337.2" stroke="#858585" stroke-width="1"/>
<line x1="389.5" y1="464.2" x2="389.5" y2="467.4" stroke="#858585" stroke-width="1"/>
<line x1="420.25" y1="334" x2="420.25" y2="337.2" stroke="#858585" stroke-width="1"/>
<line x1="420.25" y1="464.2" x2="420.25" y2="467.4" stroke="#858585" stroke-width="1"/>
<line x1="451" y1="334" x2="451" y2="337.2" stroke="#858585" stroke-width="1"/>
<line x1="451" y1="464.2" x2="451" y2="467.4" stroke="#858585" stroke-width="1"/>
<line x1="481.75" y1="334" x2="481.75" y2="337.2" stroke="#858585" stroke-width="1"/>
<line x1="481.75" y1="464.2" x2="481.75" y2="467.4" stroke="#858585" stroke-width="1"/>
<line x1="512.5" y1="334" x2="512.5" y2="337.2" stroke="#858585" stroke-width="1"/>
<line x1="512.5" y1="464.2" x2="512.5" y2="467.4" stroke="#858585" stroke-width="1"/>
<line x1="543.25" y1="334" x2="543.25" y2="337.2" stroke="#858585" stroke-width="1"/>
<line x1="543.25" y1="464.2" x2="543.25" y2="467.4" stroke="#858585" stroke-width="1"/>
<line x1="574" y1="334" x2="574" y2="337.2" stroke="#858585" stroke-width="1"/>
<line x1="574" y1="464.2" x2="574" y2="467.4" stroke="#858585" stroke-width="1"/>
<line x1="604.75" y1="334" x2="604.75" y2="337.2" stroke="#858585" stroke-width="1"/>
<line x1="604.75" y1="464.2" x2="604.75" y2="467.4" stroke="#858585" stroke-width="1"/>
<line x1="635.5" y1="334" x2="635.5" y2="337.2" stroke="#858585" stroke-width="1"/>
<line x1="635.5" y1="464.2" x2="635.5" y2="467.4" stroke="#858585" stroke-width="1"/>
<line x1="387.9" y1="358.9" x2="391.1" y2="358.9" stroke="#858585" stroke-width="1"/>
<line x1="633.9" y1="358.9" x2="637.1" y2="358.9" stroke="#858585" stroke-width="1"/>
<line x1="387.9" y1="387.6" x2="391.1" y2="387.6" stroke="#858585" stroke-width="1"/>
<line x1="633.9" y1="387.6" x2="637.1" y2="387.6" stroke="#858585" stroke-width="1"/>
<line x1="387.9" y1="416.3" x2="391.1" y2="416.3" stroke="#858585" stroke-width="1"/>
<line x1="633.9" y1="416.3" x2="637.1" y2="416.3" stroke="#858585" stroke-width="1"/>
<line x1="387.9" y1="445" x2="391.1" y2="445" stroke="#858585" stroke-width="1"/>
<line x1="633.9" y1="445" x2="637.1" y2="445" stroke="#858585" stroke-width="1"/>
<text x="386.3" y="363.3" font-size="12" text-anchor="end" fill="#1a1a1a" stroke="#1a1a1a" stroke-width="0.18">0</text>
<text x="386.3" y="392" font-size="12" text-anchor="end" fill="#1a1a1a" stroke="#1a1a1a" stroke-width="0.18">-50</text>
<text x="386.3" y="420.7" font-size="12" text-anchor="end" fill="#1a1a1a" stroke="#1a1a1a" stroke-width="0.18">-100</text>
<text x="386.3" y="449.4" font-size="12" text-anchor="end" fill="#1a1a1a" stroke="#1a1a1a" stroke-width="0.18">-150</text>
<text x="389.5" y="478.6" font-size="12" text-anchor="middle" fill="#1a1a1a" stroke="#1a1a1a" stroke-width="0.18">1940</text>
<text x="451" y="478.6" font-size="12" text-anchor="middle" fill="#1a1a1a" stroke="#1a1a1a" stroke-width="0.18">1980</text>
<text x="512.5" y="478.6" font-size="12" text-anchor="middle" fill="#1a1a1a" stroke="#1a1a1a" stroke-width="0.18">2020</text>
<text x="574" y="478.6" font-size="12" text-anchor="middle" fill="#1a1a1a" stroke="#1a1a1a" stroke-width="0.18">2060</text>
<text x="635.5" y="478.6" font-size="12" text-anchor="middle" fill="#1a1a1a" stroke="#1a1a1a" stroke-width="0.18">2100</text>
<text x="111.9" y="11.6" font-size="15" textLength="130" lengthAdjust="spacingAndGlyphs" fill="#1a1a1a">Kennicott Glacier</text>
<text x="465" y="11.2" font-size="15" textLength="93.5" lengthAdjust="spacingAndGlyphs" fill="#1a1a1a">Root Glacier</text>
<text x="314.6" y="41.3" font-size="14" font-weight="bold" fill="#000" stroke="#000" stroke-width="0.45">a</text>
<text x="662" y="41.1" font-size="14" font-weight="bold" fill="#000" stroke="#000" stroke-width="0.45">b</text>
<text x="271.2" y="205.3" font-size="14" font-weight="bold" fill="#000" stroke="#000" stroke-width="0.45">c</text>
<text x="619" y="205.3" font-size="14" font-weight="bold" fill="#000" stroke="#000" stroke-width="0.45">d</text>
<text x="271.6" y="353.4" font-size="14" font-weight="bold" fill="#000" stroke="#000" stroke-width="0.45">e</text>
<text x="621.8" y="353.7" font-size="14" font-weight="bold" fill="#000" stroke="#000" stroke-width="0.45">f</text>
<text transform="translate(11.6,93.4) rotate(-90)" text-anchor="middle" font-size="11.5" fill="#1a1a1a" textLength="53" lengthAdjust="spacingAndGlyphs">Mass (Gt)</text>
<text transform="translate(360.6,94) rotate(-90)" text-anchor="middle" font-size="11.5" fill="#1a1a1a" textLength="53" lengthAdjust="spacingAndGlyphs">Mass (Gt)</text>
<text transform="translate(11.8,250.3) rotate(-90)" text-anchor="middle" font-size="11.5" fill="#1a1a1a" textLength="53" lengthAdjust="spacingAndGlyphs">Mass (Gt)</text>
<text transform="translate(360.6,248.7) rotate(-90)" text-anchor="middle" font-size="11.5" fill="#1a1a1a" textLength="53" lengthAdjust="spacingAndGlyphs">Mass (Gt)</text>
<text transform="translate(12.2,399.9) rotate(-90)" text-anchor="middle" font-size="12.6" fill="#1a1a1a">Mass balance (mm w.e. yr<tspan dy="-4" font-size="8.5">-1</tspan><tspan dy="4">)</tspan></text>
<text transform="translate(361.2,398.6) rotate(-90)" text-anchor="middle" font-size="12.6" fill="#1a1a1a">Mass balance (mm w.e. yr<tspan dy="-4" font-size="8.5">-1</tspan><tspan dy="4">)</tspan></text>
<line x1="48.9" y1="115" x2="66.6" y2="115" stroke="#333" stroke-width="1.3" stroke-dasharray="4.5,1.3"/>
<line x1="48.9" y1="127.5" x2="66.6" y2="127.5" stroke="#bbb" stroke-width="0.8"/>
<line x1="48.6" y1="140" x2="67" y2="140" stroke="#111" stroke-width="1.5"/>
<line x1="54" y1="153.5" x2="61.9" y2="153.5" stroke="#222" stroke-width="1"/>
<line x1="57.8" y1="149.4" x2="57.8" y2="157.3" stroke="#222" stroke-width="1"/>
<text x="74.7" y="118.2" font-size="9" textLength="82.3" lengthAdjust="spacingAndGlyphs" fill="#111" stroke="#111" stroke-width="0.15">Modern calibration</text>
<text x="74.7" y="130.7" font-size="9" textLength="144.2" lengthAdjust="spacingAndGlyphs" fill="#111" stroke="#111" stroke-width="0.15">Historical calibration (individual)</text>
<text x="74.7" y="143.2" font-size="9" textLength="126.2" lengthAdjust="spacingAndGlyphs" fill="#111" stroke="#111" stroke-width="0.15">Historical calibration (mean)</text>
<text x="74.7" y="156.7" font-size="9" textLength="73.5" lengthAdjust="spacingAndGlyphs" fill="#111" stroke="#111" stroke-width="0.15">Consensus mass</text>
<rect x="47.7" y="233.1" width="16.4" height="5.7" fill="#000"/>
<rect x="47.7" y="244.5" width="16.4" height="5.7" fill="#108080"/>
<rect x="47.7" y="255.9" width="16.4" height="5.7" fill="#ffd700"/>
<rect x="47.7" y="267.3" width="16.4" height="5.7" fill="#ff8500"/>
<rect x="47.7" y="278.7" width="16.4" height="5.7" fill="#b22222"/>
<line x1="47.7" y1="293" x2="62.3" y2="293" stroke="#444" stroke-width="1.1" stroke-dasharray="2.8,1.2"/>
<line x1="47.7" y1="304.4" x2="64.1" y2="304.4" stroke="#222" stroke-width="1"/>
<text x="70.3" y="239.2" font-size="9" textLength="82.8" lengthAdjust="spacingAndGlyphs" fill="#111" stroke="#111" stroke-width="0.15">ERA5 (1940-2023)</text>
<text x="70.3" y="250.6" font-size="9" textLength="41.7" lengthAdjust="spacingAndGlyphs" fill="#111" stroke="#111" stroke-width="0.15">SSP1-2.6</text>
<text x="70.3" y="262" font-size="9" textLength="41.7" lengthAdjust="spacingAndGlyphs" fill="#111" stroke="#111" stroke-width="0.15">SSP2-4.5</text>
<text x="70.3" y="273.4" font-size="9" textLength="41.7" lengthAdjust="spacingAndGlyphs" fill="#111" stroke="#111" stroke-width="0.15">SSP3-7.0</text>
<text x="70.3" y="284.8" font-size="9" textLength="41.7" lengthAdjust="spacingAndGlyphs" fill="#111" stroke="#111" stroke-width="0.15">SSP5-8.5</text>
<text x="70.3" y="296.2" font-size="9" textLength="82" lengthAdjust="spacingAndGlyphs" fill="#111" stroke="#111" stroke-width="0.15">Modern calibration</text>
<text x="70.3" y="307.6" font-size="9" textLength="90.2" lengthAdjust="spacingAndGlyphs" fill="#111" stroke="#111" stroke-width="0.15">Historical calibration</text>
</svg></body></html>
